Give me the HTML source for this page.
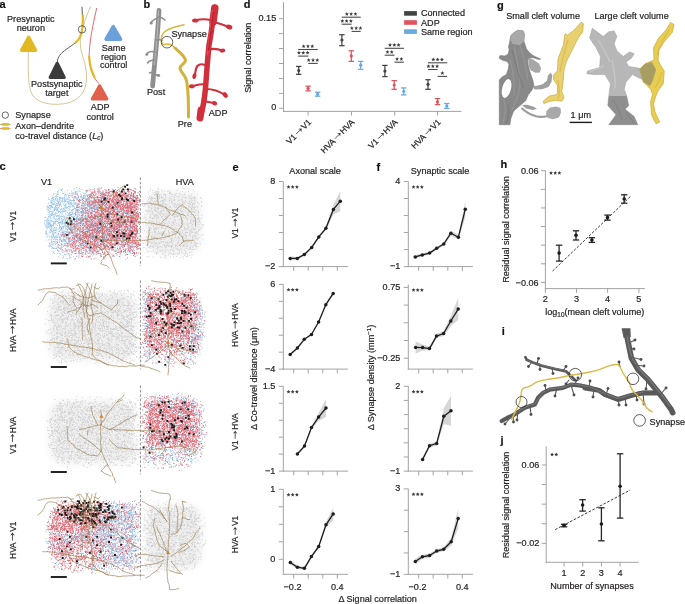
<!DOCTYPE html>
<html><head><meta charset="utf-8"><style>
html,body{margin:0;padding:0;background:#fff;}
body{width:685px;height:604px;overflow:hidden;}
svg{display:block;font-family:"Liberation Sans",sans-serif;will-change:transform;}
text{stroke:#231f20;stroke-width:0.2px;}
</style></head><body>
<svg width="685" height="604" viewBox="0 0 685 604">
<text x="-0.6" y="8.2" font-size="11" text-anchor="start" fill="#111" font-weight="bold">a</text>
<text x="143.4" y="7.6" font-size="11" text-anchor="start" fill="#111" font-weight="bold">b</text>
<text x="243.8" y="7.6" font-size="11" text-anchor="start" fill="#111" font-weight="bold">d</text>
<text x="497.0" y="8.9" font-size="11" text-anchor="start" fill="#111" font-weight="bold">g</text>
<text x="-0.4" y="170.0" font-size="11" text-anchor="start" fill="#111" font-weight="bold">c</text>
<text x="232.6" y="170.6" font-size="11" text-anchor="start" fill="#111" font-weight="bold">e</text>
<text x="376.4" y="170.6" font-size="11" text-anchor="start" fill="#111" font-weight="bold">f</text>
<text x="500.5" y="168.2" font-size="11" text-anchor="start" fill="#111" font-weight="bold">h</text>
<text x="501.8" y="335.0" font-size="11" text-anchor="start" fill="#111" font-weight="bold">i</text>
<text x="500.5" y="444.20000000000005" font-size="11" text-anchor="start" fill="#111" font-weight="bold">j</text>
<line x1="283.5" y1="2.2" x2="283.5" y2="111.9" stroke="#a3a3a3" stroke-width="1" />
<line x1="283.0" y1="111.4" x2="461.4" y2="111.4" stroke="#a3a3a3" stroke-width="1" />
<line x1="279.0" y1="18.7" x2="283.5" y2="18.7" stroke="#a3a3a3" stroke-width="1" />
<line x1="279.0" y1="33.629999999999995" x2="283.5" y2="33.629999999999995" stroke="#a3a3a3" stroke-width="1" />
<line x1="279.0" y1="48.56" x2="283.5" y2="48.56" stroke="#a3a3a3" stroke-width="1" />
<line x1="279.0" y1="63.489999999999995" x2="283.5" y2="63.489999999999995" stroke="#a3a3a3" stroke-width="1" />
<line x1="279.0" y1="78.42" x2="283.5" y2="78.42" stroke="#a3a3a3" stroke-width="1" />
<line x1="279.0" y1="93.35000000000001" x2="283.5" y2="93.35000000000001" stroke="#a3a3a3" stroke-width="1" />
<line x1="279.0" y1="108.28" x2="283.5" y2="108.28" stroke="#a3a3a3" stroke-width="1" />
<text x="276.2" y="20.9" font-size="9.1" text-anchor="end" fill="#231f20">0.15</text>
<text x="276.2" y="110.48" font-size="9.1" text-anchor="end" fill="#231f20">0</text>
<line x1="308.1" y1="111.4" x2="308.1" y2="115.6" stroke="#a3a3a3" stroke-width="1" />
<line x1="351.5" y1="111.4" x2="351.5" y2="115.6" stroke="#a3a3a3" stroke-width="1" />
<line x1="394.7" y1="111.4" x2="394.7" y2="115.6" stroke="#a3a3a3" stroke-width="1" />
<line x1="437.6" y1="111.4" x2="437.6" y2="115.6" stroke="#a3a3a3" stroke-width="1" />
<text x="251.4" y="57.7" font-size="9.1" text-anchor="middle" fill="#231f20" transform="rotate(-90 251.4 57.7)">Signal correlation</text>
<g transform="translate(311.70000000000005 122.8) rotate(-45)"><text x="-31.05" y="0" font-size="8.4" fill="#231f20">V1</text><text x="-10.27" y="0" font-size="8.4" fill="#231f20">V1</text><path d="M-19.09 -3.02H-12.96" stroke="#231f20" stroke-width="0.75"/><path d="M-11.11 -3.02L-14.14 -5.29L-12.96 -3.02L-14.14 -0.76Z" fill="#231f20"/></g>
<g transform="translate(355.1 122.8) rotate(-45)"><text x="-43.80" y="0" font-size="8.4" fill="#231f20">HVA</text><text x="-16.65" y="0" font-size="8.4" fill="#231f20">HVA</text><path d="M-25.47 -3.02H-19.34" stroke="#231f20" stroke-width="0.75"/><path d="M-17.49 -3.02L-20.51 -5.29L-19.34 -3.02L-20.51 -0.76Z" fill="#231f20"/></g>
<g transform="translate(398.3 122.8) rotate(-45)"><text x="-37.42" y="0" font-size="8.4" fill="#231f20">V1</text><text x="-16.65" y="0" font-size="8.4" fill="#231f20">HVA</text><path d="M-25.47 -3.02H-19.34" stroke="#231f20" stroke-width="0.75"/><path d="M-17.49 -3.02L-20.51 -5.29L-19.34 -3.02L-20.51 -0.76Z" fill="#231f20"/></g>
<g transform="translate(441.20000000000005 122.8) rotate(-45)"><text x="-37.42" y="0" font-size="8.4" fill="#231f20">HVA</text><text x="-10.27" y="0" font-size="8.4" fill="#231f20">V1</text><path d="M-19.09 -3.02H-12.96" stroke="#231f20" stroke-width="0.75"/><path d="M-11.11 -3.02L-14.14 -5.29L-12.96 -3.02L-14.14 -0.76Z" fill="#231f20"/></g>
<line x1="298.7" y1="66.4" x2="298.7" y2="74.3" stroke="#414447" stroke-width="1.25" />
<line x1="296.0" y1="66.4" x2="301.4" y2="66.4" stroke="#414447" stroke-width="1.25" />
<line x1="296.0" y1="74.3" x2="301.4" y2="74.3" stroke="#414447" stroke-width="1.25" />
<circle cx="298.7" cy="70.5" r="1.6" fill="#414447"/>
<line x1="308.1" y1="86.2" x2="308.1" y2="90.9" stroke="#e0535d" stroke-width="1.25" />
<line x1="305.40000000000003" y1="86.2" x2="310.8" y2="86.2" stroke="#e0535d" stroke-width="1.25" />
<line x1="305.40000000000003" y1="90.9" x2="310.8" y2="90.9" stroke="#e0535d" stroke-width="1.25" />
<circle cx="308.1" cy="88.4" r="1.6" fill="#e0535d"/>
<line x1="317.6" y1="92.2" x2="317.6" y2="96.2" stroke="#6aa9de" stroke-width="1.25" />
<line x1="314.90000000000003" y1="92.2" x2="320.3" y2="92.2" stroke="#6aa9de" stroke-width="1.25" />
<line x1="314.90000000000003" y1="96.2" x2="320.3" y2="96.2" stroke="#6aa9de" stroke-width="1.25" />
<circle cx="317.6" cy="94.2" r="1.6" fill="#6aa9de"/>
<line x1="341.9" y1="34.7" x2="341.9" y2="45.7" stroke="#414447" stroke-width="1.25" />
<line x1="339.2" y1="34.7" x2="344.59999999999997" y2="34.7" stroke="#414447" stroke-width="1.25" />
<line x1="339.2" y1="45.7" x2="344.59999999999997" y2="45.7" stroke="#414447" stroke-width="1.25" />
<circle cx="341.9" cy="40.0" r="1.6" fill="#414447"/>
<line x1="351.3" y1="50.8" x2="351.3" y2="61.4" stroke="#e0535d" stroke-width="1.25" />
<line x1="348.6" y1="50.8" x2="354.0" y2="50.8" stroke="#e0535d" stroke-width="1.25" />
<line x1="348.6" y1="61.4" x2="354.0" y2="61.4" stroke="#e0535d" stroke-width="1.25" />
<circle cx="351.3" cy="55.9" r="1.6" fill="#e0535d"/>
<line x1="360.7" y1="61.4" x2="360.7" y2="69.3" stroke="#6aa9de" stroke-width="1.25" />
<line x1="358.0" y1="61.4" x2="363.4" y2="61.4" stroke="#6aa9de" stroke-width="1.25" />
<line x1="358.0" y1="69.3" x2="363.4" y2="69.3" stroke="#6aa9de" stroke-width="1.25" />
<circle cx="360.7" cy="65.2" r="1.6" fill="#6aa9de"/>
<line x1="384.9" y1="65.4" x2="384.9" y2="76.6" stroke="#414447" stroke-width="1.25" />
<line x1="382.2" y1="65.4" x2="387.59999999999997" y2="65.4" stroke="#414447" stroke-width="1.25" />
<line x1="382.2" y1="76.6" x2="387.59999999999997" y2="76.6" stroke="#414447" stroke-width="1.25" />
<circle cx="384.9" cy="71.1" r="1.6" fill="#414447"/>
<line x1="394.2" y1="80.6" x2="394.2" y2="89.3" stroke="#e0535d" stroke-width="1.25" />
<line x1="391.5" y1="80.6" x2="396.9" y2="80.6" stroke="#e0535d" stroke-width="1.25" />
<line x1="391.5" y1="89.3" x2="396.9" y2="89.3" stroke="#e0535d" stroke-width="1.25" />
<circle cx="394.2" cy="85.0" r="1.6" fill="#e0535d"/>
<line x1="403.7" y1="87.9" x2="403.7" y2="94.9" stroke="#6aa9de" stroke-width="1.25" />
<line x1="401.0" y1="87.9" x2="406.4" y2="87.9" stroke="#6aa9de" stroke-width="1.25" />
<line x1="401.0" y1="94.9" x2="406.4" y2="94.9" stroke="#6aa9de" stroke-width="1.25" />
<circle cx="403.7" cy="91.3" r="1.6" fill="#6aa9de"/>
<line x1="428.0" y1="79.7" x2="428.0" y2="89.3" stroke="#414447" stroke-width="1.25" />
<line x1="425.3" y1="79.7" x2="430.7" y2="79.7" stroke="#414447" stroke-width="1.25" />
<line x1="425.3" y1="89.3" x2="430.7" y2="89.3" stroke="#414447" stroke-width="1.25" />
<circle cx="428.0" cy="84.3" r="1.6" fill="#414447"/>
<line x1="437.5" y1="98.6" x2="437.5" y2="104.6" stroke="#e0535d" stroke-width="1.25" />
<line x1="434.8" y1="98.6" x2="440.2" y2="98.6" stroke="#e0535d" stroke-width="1.25" />
<line x1="434.8" y1="104.6" x2="440.2" y2="104.6" stroke="#e0535d" stroke-width="1.25" />
<circle cx="437.5" cy="101.9" r="1.6" fill="#e0535d"/>
<line x1="446.8" y1="103.5" x2="446.8" y2="108.4" stroke="#6aa9de" stroke-width="1.25" />
<line x1="444.1" y1="103.5" x2="449.5" y2="103.5" stroke="#6aa9de" stroke-width="1.25" />
<line x1="444.1" y1="108.4" x2="449.5" y2="108.4" stroke="#6aa9de" stroke-width="1.25" />
<circle cx="446.8" cy="105.9" r="1.6" fill="#6aa9de"/>
<line x1="298.2" y1="49.5" x2="317.7" y2="49.5" stroke="#4a4a4a" stroke-width="1.1" />
<polygon points="303.6,44.2 304.2,45.5 305.6,45.7 304.5,46.6 304.9,48.0 303.6,47.2 302.4,48.0 302.8,46.6 301.7,45.7 303.1,45.5" fill="#3a3a3a" />
<polygon points="307.9,44.2 308.5,45.5 309.9,45.7 308.8,46.6 309.2,48.0 307.9,47.2 306.7,48.0 307.1,46.6 306.0,45.7 307.4,45.5" fill="#3a3a3a" />
<polygon points="312.2,44.2 312.8,45.5 314.2,45.7 313.1,46.6 313.5,48.0 312.2,47.2 311.0,48.0 311.4,46.6 310.3,45.7 311.7,45.5" fill="#3a3a3a" />
<line x1="298.2" y1="56.1" x2="308.3" y2="56.1" stroke="#4a4a4a" stroke-width="1.1" />
<polygon points="298.9,50.8 299.5,52.1 300.9,52.3 299.8,53.2 300.2,54.6 298.9,53.8 297.7,54.6 298.1,53.2 297.0,52.3 298.4,52.1" fill="#3a3a3a" />
<polygon points="303.2,50.8 303.8,52.1 305.2,52.3 304.1,53.2 304.5,54.6 303.2,53.8 302.0,54.6 302.4,53.2 301.3,52.3 302.7,52.1" fill="#3a3a3a" />
<polygon points="307.6,50.8 308.1,52.1 309.5,52.3 308.4,53.2 308.8,54.6 307.6,53.8 306.3,54.6 306.7,53.2 305.6,52.3 307.0,52.1" fill="#3a3a3a" />
<line x1="308.3" y1="63.4" x2="317.7" y2="63.4" stroke="#4a4a4a" stroke-width="1.1" />
<polygon points="308.7,58.1 309.3,59.4 310.7,59.6 309.6,60.5 309.9,61.9 308.7,61.1 307.5,61.9 307.8,60.5 306.7,59.6 308.1,59.4" fill="#3a3a3a" />
<polygon points="313.0,58.1 313.6,59.4 315.0,59.6 313.9,60.5 314.2,61.9 313.0,61.1 311.8,61.9 312.1,60.5 311.0,59.6 312.4,59.4" fill="#3a3a3a" />
<polygon points="317.3,58.1 317.9,59.4 319.3,59.6 318.2,60.5 318.5,61.9 317.3,61.1 316.1,61.9 316.4,60.5 315.3,59.6 316.7,59.4" fill="#3a3a3a" />
<line x1="341.6" y1="17.2" x2="360.7" y2="17.2" stroke="#4a4a4a" stroke-width="1.1" />
<polygon points="346.8,11.9 347.4,13.2 348.8,13.4 347.7,14.3 348.1,15.7 346.8,14.9 345.6,15.7 346.0,14.3 344.9,13.4 346.3,13.2" fill="#3a3a3a" />
<polygon points="351.1,11.9 351.7,13.2 353.1,13.4 352.0,14.3 352.4,15.7 351.1,14.9 349.9,15.7 350.3,14.3 349.2,13.4 350.6,13.2" fill="#3a3a3a" />
<polygon points="355.4,11.9 356.0,13.2 357.4,13.4 356.3,14.3 356.7,15.7 355.4,14.9 354.2,15.7 354.6,14.3 353.5,13.4 354.9,13.2" fill="#3a3a3a" />
<line x1="341.6" y1="24.2" x2="351.6" y2="24.2" stroke="#4a4a4a" stroke-width="1.1" />
<polygon points="342.3,18.9 342.9,20.2 344.3,20.4 343.2,21.3 343.5,22.7 342.3,21.9 341.1,22.7 341.4,21.3 340.3,20.4 341.7,20.2" fill="#3a3a3a" />
<polygon points="346.6,18.9 347.2,20.2 348.6,20.4 347.5,21.3 347.8,22.7 346.6,21.9 345.4,22.7 345.7,21.3 344.6,20.4 346.0,20.2" fill="#3a3a3a" />
<polygon points="350.9,18.9 351.5,20.2 352.9,20.4 351.8,21.3 352.1,22.7 350.9,21.9 349.7,22.7 350.0,21.3 348.9,20.4 350.3,20.2" fill="#3a3a3a" />
<line x1="351.6" y1="31.4" x2="360.7" y2="31.4" stroke="#4a4a4a" stroke-width="1.1" />
<polygon points="351.8,26.1 352.4,27.4 353.8,27.6 352.7,28.5 353.1,29.9 351.8,29.1 350.6,29.9 351.0,28.5 349.9,27.6 351.3,27.4" fill="#3a3a3a" />
<polygon points="356.1,26.1 356.7,27.4 358.1,27.6 357.0,28.5 357.4,29.9 356.1,29.1 354.9,29.9 355.3,28.5 354.2,27.6 355.6,27.4" fill="#3a3a3a" />
<polygon points="360.4,26.1 361.0,27.4 362.4,27.6 361.3,28.5 361.7,29.9 360.4,29.1 359.2,29.9 359.6,28.5 358.5,27.6 359.9,27.4" fill="#3a3a3a" />
<line x1="384.7" y1="48.3" x2="403.9" y2="48.3" stroke="#4a4a4a" stroke-width="1.1" />
<polygon points="390.0,43.0 390.6,44.3 392.0,44.5 390.9,45.4 391.2,46.8 390.0,46.0 388.8,46.8 389.1,45.4 388.0,44.5 389.4,44.3" fill="#3a3a3a" />
<polygon points="394.3,43.0 394.9,44.3 396.3,44.5 395.2,45.4 395.5,46.8 394.3,46.0 393.1,46.8 393.4,45.4 392.3,44.5 393.7,44.3" fill="#3a3a3a" />
<polygon points="398.6,43.0 399.2,44.3 400.6,44.5 399.5,45.4 399.8,46.8 398.6,46.0 397.4,46.8 397.7,45.4 396.6,44.5 398.0,44.3" fill="#3a3a3a" />
<line x1="384.7" y1="55.2" x2="394.5" y2="55.2" stroke="#4a4a4a" stroke-width="1.1" />
<polygon points="387.5,49.9 388.0,51.2 389.4,51.4 388.3,52.3 388.7,53.7 387.5,52.9 386.2,53.7 386.6,52.3 385.5,51.4 386.9,51.2" fill="#3a3a3a" />
<polygon points="391.8,49.9 392.3,51.2 393.7,51.4 392.6,52.3 393.0,53.7 391.8,52.9 390.5,53.7 390.9,52.3 389.8,51.4 391.2,51.2" fill="#3a3a3a" />
<line x1="394.5" y1="62.2" x2="403.9" y2="62.2" stroke="#4a4a4a" stroke-width="1.1" />
<polygon points="397.1,56.9 397.6,58.2 399.0,58.4 397.9,59.3 398.3,60.7 397.1,59.9 395.8,60.7 396.2,59.3 395.1,58.4 396.5,58.2" fill="#3a3a3a" />
<polygon points="401.4,56.9 401.9,58.2 403.3,58.4 402.2,59.3 402.6,60.7 401.4,59.9 400.1,60.7 400.5,59.3 399.4,58.4 400.8,58.2" fill="#3a3a3a" />
<line x1="428.0" y1="62.8" x2="447.2" y2="62.8" stroke="#4a4a4a" stroke-width="1.1" />
<polygon points="433.3,57.5 433.9,58.8 435.3,59.0 434.2,59.9 434.5,61.3 433.3,60.5 432.1,61.3 432.4,59.9 431.3,59.0 432.7,58.8" fill="#3a3a3a" />
<polygon points="437.6,57.5 438.2,58.8 439.6,59.0 438.5,59.9 438.8,61.3 437.6,60.5 436.4,61.3 436.7,59.9 435.6,59.0 437.0,58.8" fill="#3a3a3a" />
<polygon points="441.9,57.5 442.5,58.8 443.9,59.0 442.8,59.9 443.1,61.3 441.9,60.5 440.7,61.3 441.0,59.9 439.9,59.0 441.3,58.8" fill="#3a3a3a" />
<line x1="428.0" y1="69.5" x2="437.6" y2="69.5" stroke="#4a4a4a" stroke-width="1.1" />
<polygon points="428.5,64.2 429.1,65.5 430.5,65.7 429.4,66.6 429.7,68.0 428.5,67.2 427.3,68.0 427.6,66.6 426.5,65.7 427.9,65.5" fill="#3a3a3a" />
<polygon points="432.8,64.2 433.4,65.5 434.8,65.7 433.7,66.6 434.0,68.0 432.8,67.2 431.6,68.0 431.9,66.6 430.8,65.7 432.2,65.5" fill="#3a3a3a" />
<polygon points="437.1,64.2 437.7,65.5 439.1,65.7 438.0,66.6 438.3,68.0 437.1,67.2 435.9,68.0 436.2,66.6 435.1,65.7 436.5,65.5" fill="#3a3a3a" />
<line x1="437.6" y1="76.4" x2="447.2" y2="76.4" stroke="#4a4a4a" stroke-width="1.1" />
<polygon points="442.4,71.1 443.0,72.4 444.4,72.6 443.3,73.5 443.6,74.9 442.4,74.1 441.2,74.9 441.5,73.5 440.4,72.6 441.8,72.4" fill="#3a3a3a" />
<rect x="404.1" y="11.1" width="12.8" height="4.6" fill="#414447"/>
<text x="421.0" y="16.4" font-size="9.1" text-anchor="start" fill="#231f20">Connected</text>
<rect x="404.1" y="20.2" width="12.8" height="4.6" fill="#e0535d"/>
<text x="421.0" y="25.5" font-size="9.1" text-anchor="start" fill="#231f20">ADP</text>
<rect x="404.1" y="29.3" width="12.8" height="4.6" fill="#6aa9de"/>
<text x="421.0" y="34.6" font-size="9.1" text-anchor="start" fill="#231f20">Same region</text>
<line x1="283.3" y1="181.5" x2="283.3" y2="267.1" stroke="#a3a3a3" stroke-width="1" />
<line x1="278.8" y1="181.5" x2="283.3" y2="181.5" stroke="#a3a3a3" stroke-width="1" />
<line x1="278.8" y1="198.52" x2="283.3" y2="198.52" stroke="#a3a3a3" stroke-width="1" />
<line x1="278.8" y1="215.54000000000002" x2="283.3" y2="215.54000000000002" stroke="#a3a3a3" stroke-width="1" />
<line x1="278.8" y1="232.56" x2="283.3" y2="232.56" stroke="#a3a3a3" stroke-width="1" />
<line x1="278.8" y1="249.58" x2="283.3" y2="249.58" stroke="#a3a3a3" stroke-width="1" />
<line x1="278.8" y1="266.6" x2="283.3" y2="266.6" stroke="#a3a3a3" stroke-width="1" />
<line x1="282.8" y1="266.6" x2="347.9" y2="266.6" stroke="#a3a3a3" stroke-width="1" />
<line x1="293.7" y1="266.6" x2="293.7" y2="270.8" stroke="#a3a3a3" stroke-width="1" />
<line x1="308.2" y1="266.6" x2="308.2" y2="270.8" stroke="#a3a3a3" stroke-width="1" />
<line x1="322.8" y1="266.6" x2="322.8" y2="270.8" stroke="#a3a3a3" stroke-width="1" />
<line x1="337.3" y1="266.6" x2="337.3" y2="270.8" stroke="#a3a3a3" stroke-width="1" />
<text x="275.3" y="183.9" font-size="9.1" text-anchor="end" fill="#231f20">8</text>
<text x="275.3" y="269.0" font-size="9.1" text-anchor="end" fill="#231f20">−2</text>
<polygon points="290.2,256.4 297.3,256.9 304.4,253.0 311.7,245.9 318.8,235.4 325.9,226.3 333.4,204.4 340.3,191.2 340.3,211.2 333.4,214.4 325.9,230.3 318.8,238.4 311.7,248.9 304.4,256.0 297.3,259.9 290.2,260.4" fill="#d6d6d6" />
<polyline points="290.2,258.4 297.3,258.4 304.4,254.5 311.7,247.4 318.8,236.9 325.9,228.3 333.4,209.4 340.3,201.2" stroke="#1e1e1e" stroke-width="1.3" fill="none" stroke-linejoin="round" stroke-linecap="round" />
<circle cx="290.2" cy="258.4" r="1.75" fill="#1e1e1e"/>
<circle cx="297.3" cy="258.4" r="1.75" fill="#1e1e1e"/>
<circle cx="304.4" cy="254.5" r="1.75" fill="#1e1e1e"/>
<circle cx="311.7" cy="247.4" r="1.75" fill="#1e1e1e"/>
<circle cx="318.8" cy="236.9" r="1.75" fill="#1e1e1e"/>
<circle cx="325.9" cy="228.3" r="1.75" fill="#1e1e1e"/>
<circle cx="333.4" cy="209.4" r="1.75" fill="#1e1e1e"/>
<circle cx="340.3" cy="201.2" r="1.75" fill="#1e1e1e"/>
<polygon points="288.5,184.9 289.1,186.2 290.5,186.4 289.4,187.3 289.7,188.7 288.5,187.9 287.3,188.7 287.6,187.3 286.5,186.4 287.9,186.2" fill="#3a3a3a" />
<polygon points="292.7,184.9 293.3,186.2 294.7,186.4 293.6,187.3 293.9,188.7 292.7,187.9 291.5,188.7 291.8,187.3 290.7,186.4 292.1,186.2" fill="#3a3a3a" />
<polygon points="296.9,184.9 297.5,186.2 298.9,186.4 297.8,187.3 298.1,188.7 296.9,187.9 295.7,188.7 296.0,187.3 294.9,186.4 296.3,186.2" fill="#3a3a3a" />
<line x1="408.3" y1="181.5" x2="408.3" y2="267.1" stroke="#a3a3a3" stroke-width="1" />
<line x1="403.8" y1="181.5" x2="408.3" y2="181.5" stroke="#a3a3a3" stroke-width="1" />
<line x1="403.8" y1="198.52" x2="408.3" y2="198.52" stroke="#a3a3a3" stroke-width="1" />
<line x1="403.8" y1="215.54000000000002" x2="408.3" y2="215.54000000000002" stroke="#a3a3a3" stroke-width="1" />
<line x1="403.8" y1="232.56" x2="408.3" y2="232.56" stroke="#a3a3a3" stroke-width="1" />
<line x1="403.8" y1="249.58" x2="408.3" y2="249.58" stroke="#a3a3a3" stroke-width="1" />
<line x1="403.8" y1="266.6" x2="408.3" y2="266.6" stroke="#a3a3a3" stroke-width="1" />
<line x1="407.8" y1="266.6" x2="472.9" y2="266.6" stroke="#a3a3a3" stroke-width="1" />
<line x1="418.7" y1="266.6" x2="418.7" y2="270.8" stroke="#a3a3a3" stroke-width="1" />
<line x1="433.2" y1="266.6" x2="433.2" y2="270.8" stroke="#a3a3a3" stroke-width="1" />
<line x1="447.8" y1="266.6" x2="447.8" y2="270.8" stroke="#a3a3a3" stroke-width="1" />
<line x1="462.3" y1="266.6" x2="462.3" y2="270.8" stroke="#a3a3a3" stroke-width="1" />
<text x="400.3" y="183.9" font-size="9.1" text-anchor="end" fill="#231f20">4</text>
<text x="400.3" y="269.0" font-size="9.1" text-anchor="end" fill="#231f20">−1</text>
<polygon points="415.2,255.1 422.3,253.4 429.6,251.6 436.7,246.8 443.8,242.5 450.9,230.7 458.4,234.7 465.3,201.2 465.3,217.2 458.4,239.7 450.9,235.7 443.8,245.5 436.7,249.8 429.6,254.6 422.3,256.4 415.2,258.7" fill="#d6d6d6" />
<polyline points="415.2,256.9 422.3,254.9 429.6,253.1 436.7,248.3 443.8,244.0 450.9,233.2 458.4,237.2 465.3,209.2" stroke="#1e1e1e" stroke-width="1.3" fill="none" stroke-linejoin="round" stroke-linecap="round" />
<circle cx="415.2" cy="256.9" r="1.75" fill="#1e1e1e"/>
<circle cx="422.3" cy="254.9" r="1.75" fill="#1e1e1e"/>
<circle cx="429.6" cy="253.1" r="1.75" fill="#1e1e1e"/>
<circle cx="436.7" cy="248.3" r="1.75" fill="#1e1e1e"/>
<circle cx="443.8" cy="244" r="1.75" fill="#1e1e1e"/>
<circle cx="450.9" cy="233.2" r="1.75" fill="#1e1e1e"/>
<circle cx="458.4" cy="237.2" r="1.75" fill="#1e1e1e"/>
<circle cx="465.3" cy="209.2" r="1.75" fill="#1e1e1e"/>
<polygon points="413.5,184.9 414.1,186.2 415.5,186.4 414.4,187.3 414.7,188.7 413.5,187.9 412.3,188.7 412.6,187.3 411.5,186.4 412.9,186.2" fill="#3a3a3a" />
<polygon points="417.7,184.9 418.3,186.2 419.7,186.4 418.6,187.3 418.9,188.7 417.7,187.9 416.5,188.7 416.8,187.3 415.7,186.4 417.1,186.2" fill="#3a3a3a" />
<polygon points="421.9,184.9 422.5,186.2 423.9,186.4 422.8,187.3 423.1,188.7 421.9,187.9 420.7,188.7 421.0,187.3 419.9,186.4 421.3,186.2" fill="#3a3a3a" />
<line x1="283.3" y1="284.4" x2="283.3" y2="369.6" stroke="#a3a3a3" stroke-width="1" />
<line x1="278.8" y1="284.4" x2="283.3" y2="284.4" stroke="#a3a3a3" stroke-width="1" />
<line x1="278.8" y1="301.34" x2="283.3" y2="301.34" stroke="#a3a3a3" stroke-width="1" />
<line x1="278.8" y1="318.28" x2="283.3" y2="318.28" stroke="#a3a3a3" stroke-width="1" />
<line x1="278.8" y1="335.22" x2="283.3" y2="335.22" stroke="#a3a3a3" stroke-width="1" />
<line x1="278.8" y1="352.16" x2="283.3" y2="352.16" stroke="#a3a3a3" stroke-width="1" />
<line x1="278.8" y1="369.1" x2="283.3" y2="369.1" stroke="#a3a3a3" stroke-width="1" />
<line x1="282.8" y1="369.1" x2="347.9" y2="369.1" stroke="#a3a3a3" stroke-width="1" />
<line x1="293.7" y1="369.1" x2="293.7" y2="373.3" stroke="#a3a3a3" stroke-width="1" />
<line x1="308.2" y1="369.1" x2="308.2" y2="373.3" stroke="#a3a3a3" stroke-width="1" />
<line x1="322.8" y1="369.1" x2="322.8" y2="373.3" stroke="#a3a3a3" stroke-width="1" />
<line x1="337.3" y1="369.1" x2="337.3" y2="373.3" stroke="#a3a3a3" stroke-width="1" />
<text x="275.3" y="286.79999999999995" font-size="9.1" text-anchor="end" fill="#231f20">6</text>
<text x="275.3" y="371.5" font-size="9.1" text-anchor="end" fill="#231f20">−4</text>
<polygon points="290.2,353.4 297.4,347.0 304.3,338.3 311.5,333.5 318.6,321.0 325.8,303.2 333.2,291.4 333.2,295.4 325.8,306.2 318.6,323.0 311.5,335.5 304.3,340.3 297.4,349.0 290.2,355.4" fill="#d6d6d6" />
<polyline points="290.2,354.4 297.4,348.0 304.3,339.3 311.5,334.5 318.6,322.0 325.8,304.7 333.2,293.4" stroke="#1e1e1e" stroke-width="1.3" fill="none" stroke-linejoin="round" stroke-linecap="round" />
<circle cx="290.2" cy="354.4" r="1.75" fill="#1e1e1e"/>
<circle cx="297.4" cy="348" r="1.75" fill="#1e1e1e"/>
<circle cx="304.3" cy="339.3" r="1.75" fill="#1e1e1e"/>
<circle cx="311.5" cy="334.5" r="1.75" fill="#1e1e1e"/>
<circle cx="318.6" cy="322" r="1.75" fill="#1e1e1e"/>
<circle cx="325.8" cy="304.7" r="1.75" fill="#1e1e1e"/>
<circle cx="333.2" cy="293.4" r="1.75" fill="#1e1e1e"/>
<polygon points="288.5,287.8 289.1,289.1 290.5,289.3 289.4,290.2 289.7,291.6 288.5,290.8 287.3,291.6 287.6,290.2 286.5,289.3 287.9,289.1" fill="#3a3a3a" />
<polygon points="292.7,287.8 293.3,289.1 294.7,289.3 293.6,290.2 293.9,291.6 292.7,290.8 291.5,291.6 291.8,290.2 290.7,289.3 292.1,289.1" fill="#3a3a3a" />
<polygon points="296.9,287.8 297.5,289.1 298.9,289.3 297.8,290.2 298.1,291.6 296.9,290.8 295.7,291.6 296.0,290.2 294.9,289.3 296.3,289.1" fill="#3a3a3a" />
<line x1="408.3" y1="284.6" x2="408.3" y2="369.6" stroke="#a3a3a3" stroke-width="1" />
<line x1="403.8" y1="287.4" x2="408.3" y2="287.4" stroke="#a3a3a3" stroke-width="1" />
<line x1="403.8" y1="305.09999999999997" x2="408.3" y2="305.09999999999997" stroke="#a3a3a3" stroke-width="1" />
<line x1="403.8" y1="322.79999999999995" x2="408.3" y2="322.79999999999995" stroke="#a3a3a3" stroke-width="1" />
<line x1="403.8" y1="340.5" x2="408.3" y2="340.5" stroke="#a3a3a3" stroke-width="1" />
<line x1="403.8" y1="358.2" x2="408.3" y2="358.2" stroke="#a3a3a3" stroke-width="1" />
<line x1="407.8" y1="369.1" x2="472.9" y2="369.1" stroke="#a3a3a3" stroke-width="1" />
<line x1="418.7" y1="369.1" x2="418.7" y2="373.3" stroke="#a3a3a3" stroke-width="1" />
<line x1="433.2" y1="369.1" x2="433.2" y2="373.3" stroke="#a3a3a3" stroke-width="1" />
<line x1="447.8" y1="369.1" x2="447.8" y2="373.3" stroke="#a3a3a3" stroke-width="1" />
<line x1="462.3" y1="369.1" x2="462.3" y2="373.3" stroke="#a3a3a3" stroke-width="1" />
<text x="400.3" y="289.79999999999995" font-size="9.1" text-anchor="end" fill="#231f20">0.75</text>
<text x="400.3" y="360.59999999999997" font-size="9.1" text-anchor="end" fill="#231f20">−0.25</text>
<polygon points="415.6,341.4 422.6,344.6 429.5,346.6 436.5,334.1 443.6,331.0 450.8,316.0 458.2,298.1 458.2,320.1 450.8,326.0 443.6,336.0 436.5,338.1 429.5,350.6 422.6,350.6 415.6,353.4" fill="#d6d6d6" />
<polyline points="415.6,347.4 422.6,347.6 429.5,348.6 436.5,336.1 443.6,333.5 450.8,321.0 458.2,309.1" stroke="#1e1e1e" stroke-width="1.3" fill="none" stroke-linejoin="round" stroke-linecap="round" />
<circle cx="415.6" cy="347.4" r="1.75" fill="#1e1e1e"/>
<circle cx="422.6" cy="347.6" r="1.75" fill="#1e1e1e"/>
<circle cx="429.5" cy="348.6" r="1.75" fill="#1e1e1e"/>
<circle cx="436.5" cy="336.1" r="1.75" fill="#1e1e1e"/>
<circle cx="443.6" cy="333.5" r="1.75" fill="#1e1e1e"/>
<circle cx="450.8" cy="321" r="1.75" fill="#1e1e1e"/>
<circle cx="458.2" cy="309.1" r="1.75" fill="#1e1e1e"/>
<polygon points="413.5,288.0 414.1,289.3 415.5,289.5 414.4,290.4 414.7,291.8 413.5,291.0 412.3,291.8 412.6,290.4 411.5,289.5 412.9,289.3" fill="#3a3a3a" />
<polygon points="417.7,288.0 418.3,289.3 419.7,289.5 418.6,290.4 418.9,291.8 417.7,291.0 416.5,291.8 416.8,290.4 415.7,289.5 417.1,289.3" fill="#3a3a3a" />
<polygon points="421.9,288.0 422.5,289.3 423.9,289.5 422.8,290.4 423.1,291.8 421.9,291.0 420.7,291.8 421.0,290.4 419.9,289.5 421.3,289.3" fill="#3a3a3a" />
<line x1="283.3" y1="386.3" x2="283.3" y2="471.6" stroke="#a3a3a3" stroke-width="1" />
<line x1="278.8" y1="386.3" x2="283.3" y2="386.3" stroke="#a3a3a3" stroke-width="1" />
<line x1="278.8" y1="403.26" x2="283.3" y2="403.26" stroke="#a3a3a3" stroke-width="1" />
<line x1="278.8" y1="420.22" x2="283.3" y2="420.22" stroke="#a3a3a3" stroke-width="1" />
<line x1="278.8" y1="437.18" x2="283.3" y2="437.18" stroke="#a3a3a3" stroke-width="1" />
<line x1="278.8" y1="454.14" x2="283.3" y2="454.14" stroke="#a3a3a3" stroke-width="1" />
<line x1="278.8" y1="471.1" x2="283.3" y2="471.1" stroke="#a3a3a3" stroke-width="1" />
<line x1="282.8" y1="471.1" x2="347.9" y2="471.1" stroke="#a3a3a3" stroke-width="1" />
<line x1="293.7" y1="471.1" x2="293.7" y2="475.3" stroke="#a3a3a3" stroke-width="1" />
<line x1="308.2" y1="471.1" x2="308.2" y2="475.3" stroke="#a3a3a3" stroke-width="1" />
<line x1="322.8" y1="471.1" x2="322.8" y2="475.3" stroke="#a3a3a3" stroke-width="1" />
<line x1="337.3" y1="471.1" x2="337.3" y2="475.3" stroke="#a3a3a3" stroke-width="1" />
<text x="275.3" y="388.7" font-size="9.1" text-anchor="end" fill="#231f20">1.5</text>
<text x="275.3" y="473.5" font-size="9.1" text-anchor="end" fill="#231f20">−1</text>
<polygon points="297.4,452.5 304.5,444.6 311.5,426.1 318.6,413.1 326.0,399.0 326.0,417.0 318.6,421.1 311.5,429.1 304.5,447.6 297.4,455.5" fill="#d6d6d6" />
<polyline points="297.4,454.0 304.5,446.1 311.5,427.6 318.6,417.1 326.0,408.0" stroke="#1e1e1e" stroke-width="1.3" fill="none" stroke-linejoin="round" stroke-linecap="round" />
<circle cx="297.4" cy="454" r="1.75" fill="#1e1e1e"/>
<circle cx="304.5" cy="446.1" r="1.75" fill="#1e1e1e"/>
<circle cx="311.5" cy="427.6" r="1.75" fill="#1e1e1e"/>
<circle cx="318.6" cy="417.1" r="1.75" fill="#1e1e1e"/>
<circle cx="326" cy="408" r="1.75" fill="#1e1e1e"/>
<polygon points="288.5,389.7 289.1,391.0 290.5,391.2 289.4,392.1 289.7,393.5 288.5,392.7 287.3,393.5 287.6,392.1 286.5,391.2 287.9,391.0" fill="#3a3a3a" />
<polygon points="292.7,389.7 293.3,391.0 294.7,391.2 293.6,392.1 293.9,393.5 292.7,392.7 291.5,393.5 291.8,392.1 290.7,391.2 292.1,391.0" fill="#3a3a3a" />
<polygon points="296.9,389.7 297.5,391.0 298.9,391.2 297.8,392.1 298.1,393.5 296.9,392.7 295.7,393.5 296.0,392.1 294.9,391.2 296.3,391.0" fill="#3a3a3a" />
<line x1="408.3" y1="386.3" x2="408.3" y2="471.6" stroke="#a3a3a3" stroke-width="1" />
<line x1="403.8" y1="386.3" x2="408.3" y2="386.3" stroke="#a3a3a3" stroke-width="1" />
<line x1="403.8" y1="400.43333333333334" x2="408.3" y2="400.43333333333334" stroke="#a3a3a3" stroke-width="1" />
<line x1="403.8" y1="414.56666666666666" x2="408.3" y2="414.56666666666666" stroke="#a3a3a3" stroke-width="1" />
<line x1="403.8" y1="428.70000000000005" x2="408.3" y2="428.70000000000005" stroke="#a3a3a3" stroke-width="1" />
<line x1="403.8" y1="442.83333333333337" x2="408.3" y2="442.83333333333337" stroke="#a3a3a3" stroke-width="1" />
<line x1="403.8" y1="456.9666666666667" x2="408.3" y2="456.9666666666667" stroke="#a3a3a3" stroke-width="1" />
<line x1="403.8" y1="471.1" x2="408.3" y2="471.1" stroke="#a3a3a3" stroke-width="1" />
<line x1="407.8" y1="471.1" x2="472.9" y2="471.1" stroke="#a3a3a3" stroke-width="1" />
<line x1="418.7" y1="471.1" x2="418.7" y2="475.3" stroke="#a3a3a3" stroke-width="1" />
<line x1="433.2" y1="471.1" x2="433.2" y2="475.3" stroke="#a3a3a3" stroke-width="1" />
<line x1="447.8" y1="471.1" x2="447.8" y2="475.3" stroke="#a3a3a3" stroke-width="1" />
<line x1="462.3" y1="471.1" x2="462.3" y2="475.3" stroke="#a3a3a3" stroke-width="1" />
<text x="400.3" y="388.7" font-size="9.1" text-anchor="end" fill="#231f20">2</text>
<text x="400.3" y="473.5" font-size="9.1" text-anchor="end" fill="#231f20">−1</text>
<polygon points="422.6,457.4 429.5,443.7 436.7,441.5 443.8,408.3 451.0,395.7 451.0,425.7 443.8,424.3 436.7,445.5 429.5,447.7 422.6,461.4" fill="#d6d6d6" />
<polyline points="422.6,459.4 429.5,445.7 436.7,443.5 443.8,416.3 451.0,410.7" stroke="#1e1e1e" stroke-width="1.3" fill="none" stroke-linejoin="round" stroke-linecap="round" />
<circle cx="422.6" cy="459.4" r="1.75" fill="#1e1e1e"/>
<circle cx="429.5" cy="445.7" r="1.75" fill="#1e1e1e"/>
<circle cx="436.7" cy="443.5" r="1.75" fill="#1e1e1e"/>
<circle cx="443.8" cy="416.3" r="1.75" fill="#1e1e1e"/>
<circle cx="451" cy="410.7" r="1.75" fill="#1e1e1e"/>
<polygon points="413.5,389.7 414.1,391.0 415.5,391.2 414.4,392.1 414.7,393.5 413.5,392.7 412.3,393.5 412.6,392.1 411.5,391.2 412.9,391.0" fill="#3a3a3a" />
<polygon points="417.7,389.7 418.3,391.0 419.7,391.2 418.6,392.1 418.9,393.5 417.7,392.7 416.5,393.5 416.8,392.1 415.7,391.2 417.1,391.0" fill="#3a3a3a" />
<polygon points="421.9,389.7 422.5,391.0 423.9,391.2 422.8,392.1 423.1,393.5 421.9,392.7 420.7,393.5 421.0,392.1 419.9,391.2 421.3,391.0" fill="#3a3a3a" />
<line x1="283.3" y1="489.3" x2="283.3" y2="574.8" stroke="#a3a3a3" stroke-width="1" />
<line x1="278.8" y1="489.3" x2="283.3" y2="489.3" stroke="#a3a3a3" stroke-width="1" />
<line x1="278.8" y1="506.8" x2="283.3" y2="506.8" stroke="#a3a3a3" stroke-width="1" />
<line x1="278.8" y1="524.3" x2="283.3" y2="524.3" stroke="#a3a3a3" stroke-width="1" />
<line x1="278.8" y1="541.8" x2="283.3" y2="541.8" stroke="#a3a3a3" stroke-width="1" />
<line x1="278.8" y1="559.3" x2="283.3" y2="559.3" stroke="#a3a3a3" stroke-width="1" />
<line x1="282.8" y1="574.3" x2="347.9" y2="574.3" stroke="#a3a3a3" stroke-width="1" />
<line x1="293.7" y1="574.3" x2="293.7" y2="578.5" stroke="#a3a3a3" stroke-width="1" />
<line x1="308.2" y1="574.3" x2="308.2" y2="578.5" stroke="#a3a3a3" stroke-width="1" />
<line x1="322.8" y1="574.3" x2="322.8" y2="578.5" stroke="#a3a3a3" stroke-width="1" />
<line x1="337.3" y1="574.3" x2="337.3" y2="578.5" stroke="#a3a3a3" stroke-width="1" />
<text x="275.3" y="491.7" font-size="9.1" text-anchor="end" fill="#231f20">1</text>
<text x="275.3" y="561.6999999999999" font-size="9.1" text-anchor="end" fill="#231f20">0</text>
<polygon points="290.3,560.0 297.4,565.7 304.4,566.8 311.4,555.1 318.7,545.0 326.0,521.8 333.2,507.9 333.2,519.9 326.0,527.8 318.7,548.0 311.4,558.1 304.4,569.8 297.4,568.7 290.3,565.0" fill="#d6d6d6" />
<polyline points="290.3,562.5 297.4,567.2 304.4,568.3 311.4,556.6 318.7,546.5 326.0,524.8 333.2,513.9" stroke="#1e1e1e" stroke-width="1.3" fill="none" stroke-linejoin="round" stroke-linecap="round" />
<circle cx="290.3" cy="562.5" r="1.75" fill="#1e1e1e"/>
<circle cx="297.4" cy="567.2" r="1.75" fill="#1e1e1e"/>
<circle cx="304.4" cy="568.3" r="1.75" fill="#1e1e1e"/>
<circle cx="311.4" cy="556.6" r="1.75" fill="#1e1e1e"/>
<circle cx="318.7" cy="546.5" r="1.75" fill="#1e1e1e"/>
<circle cx="326" cy="524.8" r="1.75" fill="#1e1e1e"/>
<circle cx="333.2" cy="513.9" r="1.75" fill="#1e1e1e"/>
<polygon points="288.5,492.7 289.1,494.0 290.5,494.2 289.4,495.1 289.7,496.5 288.5,495.7 287.3,496.5 287.6,495.1 286.5,494.2 287.9,494.0" fill="#3a3a3a" />
<polygon points="292.7,492.7 293.3,494.0 294.7,494.2 293.6,495.1 293.9,496.5 292.7,495.7 291.5,496.5 291.8,495.1 290.7,494.2 292.1,494.0" fill="#3a3a3a" />
<polygon points="296.9,492.7 297.5,494.0 298.9,494.2 297.8,495.1 298.1,496.5 296.9,495.7 295.7,496.5 296.0,495.1 294.9,494.2 296.3,494.0" fill="#3a3a3a" />
<text x="292.5" y="589.9" font-size="9.1" text-anchor="middle" fill="#231f20">−0.2</text>
<text x="337.3" y="589.9" font-size="9.1" text-anchor="middle" fill="#231f20">0.4</text>
<line x1="408.3" y1="488.9" x2="408.3" y2="574.8" stroke="#a3a3a3" stroke-width="1" />
<line x1="403.8" y1="488.9" x2="408.3" y2="488.9" stroke="#a3a3a3" stroke-width="1" />
<line x1="403.8" y1="510.25" x2="408.3" y2="510.25" stroke="#a3a3a3" stroke-width="1" />
<line x1="403.8" y1="531.5999999999999" x2="408.3" y2="531.5999999999999" stroke="#a3a3a3" stroke-width="1" />
<line x1="403.8" y1="552.9499999999999" x2="408.3" y2="552.9499999999999" stroke="#a3a3a3" stroke-width="1" />
<line x1="403.8" y1="574.3" x2="408.3" y2="574.3" stroke="#a3a3a3" stroke-width="1" />
<line x1="407.8" y1="574.3" x2="472.9" y2="574.3" stroke="#a3a3a3" stroke-width="1" />
<line x1="418.7" y1="574.3" x2="418.7" y2="578.5" stroke="#a3a3a3" stroke-width="1" />
<line x1="433.2" y1="574.3" x2="433.2" y2="578.5" stroke="#a3a3a3" stroke-width="1" />
<line x1="447.8" y1="574.3" x2="447.8" y2="578.5" stroke="#a3a3a3" stroke-width="1" />
<line x1="462.3" y1="574.3" x2="462.3" y2="578.5" stroke="#a3a3a3" stroke-width="1" />
<text x="400.3" y="491.29999999999995" font-size="9.1" text-anchor="end" fill="#231f20">3</text>
<text x="400.3" y="576.6999999999999" font-size="9.1" text-anchor="end" fill="#231f20">−1</text>
<polygon points="415.3,558.5 422.4,554.8 429.6,553.5 436.7,549.0 443.7,547.3 451.2,537.8 458.2,508.6 458.2,528.6 451.2,545.8 443.7,551.3 436.7,553.0 429.6,557.5 422.4,558.8 415.3,564.5" fill="#d6d6d6" />
<polyline points="415.3,561.5 422.4,556.8 429.6,555.5 436.7,551.0 443.7,549.3 451.2,541.8 458.2,518.6" stroke="#1e1e1e" stroke-width="1.3" fill="none" stroke-linejoin="round" stroke-linecap="round" />
<circle cx="415.3" cy="561.5" r="1.75" fill="#1e1e1e"/>
<circle cx="422.4" cy="556.8" r="1.75" fill="#1e1e1e"/>
<circle cx="429.6" cy="555.5" r="1.75" fill="#1e1e1e"/>
<circle cx="436.7" cy="551" r="1.75" fill="#1e1e1e"/>
<circle cx="443.7" cy="549.3" r="1.75" fill="#1e1e1e"/>
<circle cx="451.2" cy="541.8" r="1.75" fill="#1e1e1e"/>
<circle cx="458.2" cy="518.6" r="1.75" fill="#1e1e1e"/>
<polygon points="413.5,492.3 414.1,493.6 415.5,493.8 414.4,494.7 414.7,496.1 413.5,495.3 412.3,496.1 412.6,494.7 411.5,493.8 412.9,493.6" fill="#3a3a3a" />
<polygon points="417.7,492.3 418.3,493.6 419.7,493.8 418.6,494.7 418.9,496.1 417.7,495.3 416.5,496.1 416.8,494.7 415.7,493.8 417.1,493.6" fill="#3a3a3a" />
<polygon points="421.9,492.3 422.5,493.6 423.9,493.8 422.8,494.7 423.1,496.1 421.9,495.3 420.7,496.1 421.0,494.7 419.9,493.8 421.3,493.6" fill="#3a3a3a" />
<text x="417.5" y="589.9" font-size="9.1" text-anchor="middle" fill="#231f20">−0.2</text>
<text x="462.3" y="589.9" font-size="9.1" text-anchor="middle" fill="#231f20">0.4</text>
<text x="315.1" y="174.2" font-size="9.1" text-anchor="middle" fill="#231f20">Axonal scale</text>
<text x="440.1" y="174.2" font-size="9.1" text-anchor="middle" fill="#231f20">Synaptic scale</text>
<text x="377.6" y="601.7" font-size="9.1" text-anchor="middle" fill="#231f20">Δ Signal correlation</text>
<g transform="translate(238.2 223.0) rotate(-90)"><text x="-15.52" y="0" font-size="8.4" fill="#231f20">V1</text><text x="5.25" y="0" font-size="8.4" fill="#231f20">V1</text><path d="M-3.57 -3.02H2.56" stroke="#231f20" stroke-width="0.75"/><path d="M4.41 -3.02L1.39 -5.29L2.56 -3.02L1.39 -0.76Z" fill="#231f20"/></g>
<g transform="translate(238.2 325.0) rotate(-90)"><text x="-21.90" y="0" font-size="8.4" fill="#231f20">HVA</text><text x="5.25" y="0" font-size="8.4" fill="#231f20">HVA</text><path d="M-3.57 -3.02H2.56" stroke="#231f20" stroke-width="0.75"/><path d="M4.41 -3.02L1.39 -5.29L2.56 -3.02L1.39 -0.76Z" fill="#231f20"/></g>
<g transform="translate(238.2 431.9) rotate(-90)"><text x="-18.71" y="0" font-size="8.4" fill="#231f20">V1</text><text x="2.06" y="0" font-size="8.4" fill="#231f20">HVA</text><path d="M-6.76 -3.02H-0.63" stroke="#231f20" stroke-width="0.75"/><path d="M1.22 -3.02L-1.80 -5.29L-0.63 -3.02L-1.80 -0.76Z" fill="#231f20"/></g>
<g transform="translate(238.2 534.5) rotate(-90)"><text x="-18.71" y="0" font-size="8.4" fill="#231f20">HVA</text><text x="8.44" y="0" font-size="8.4" fill="#231f20">V1</text><path d="M-0.38 -3.02H5.75" stroke="#231f20" stroke-width="0.75"/><path d="M7.60 -3.02L4.57 -5.29L5.75 -3.02L4.57 -0.76Z" fill="#231f20"/></g>
<text x="257.2" y="378.5" font-size="9.1" text-anchor="middle" fill="#231f20" transform="rotate(-90 257.2 378.5)">Δ Co-travel distance (μm)</text>
<text x="374.4" y="377.5" font-size="9.1" text-anchor="middle" fill="#231f20" transform="rotate(-90 374.4 377.5)">Δ Synapse density (mm<tspan dy="-3.2" font-size="6.2">−1</tspan><tspan dy="3.2">)</tspan></text>
<line x1="545.4" y1="170.2" x2="545.4" y2="289.1" stroke="#a3a3a3" stroke-width="1" />
<line x1="540.9" y1="170.7" x2="545.4" y2="170.7" stroke="#a3a3a3" stroke-width="1" />
<line x1="540.9" y1="189.32" x2="545.4" y2="189.32" stroke="#a3a3a3" stroke-width="1" />
<line x1="540.9" y1="207.94" x2="545.4" y2="207.94" stroke="#a3a3a3" stroke-width="1" />
<line x1="540.9" y1="226.56" x2="545.4" y2="226.56" stroke="#a3a3a3" stroke-width="1" />
<line x1="540.9" y1="245.18" x2="545.4" y2="245.18" stroke="#a3a3a3" stroke-width="1" />
<line x1="540.9" y1="263.8" x2="545.4" y2="263.8" stroke="#a3a3a3" stroke-width="1" />
<line x1="540.9" y1="282.41999999999996" x2="545.4" y2="282.41999999999996" stroke="#a3a3a3" stroke-width="1" />
<line x1="544.9" y1="288.6" x2="644.8" y2="288.6" stroke="#a3a3a3" stroke-width="1" />
<line x1="545.4" y1="288.6" x2="545.4" y2="292.8" stroke="#a3a3a3" stroke-width="1" />
<text x="545.4" y="301.5" font-size="9.1" text-anchor="middle" fill="#231f20">2</text>
<line x1="576.5" y1="288.6" x2="576.5" y2="292.8" stroke="#a3a3a3" stroke-width="1" />
<text x="576.5" y="301.5" font-size="9.1" text-anchor="middle" fill="#231f20">3</text>
<line x1="607.6" y1="288.6" x2="607.6" y2="292.8" stroke="#a3a3a3" stroke-width="1" />
<text x="607.6" y="301.5" font-size="9.1" text-anchor="middle" fill="#231f20">4</text>
<line x1="638.9" y1="288.6" x2="638.9" y2="292.8" stroke="#a3a3a3" stroke-width="1" />
<text x="638.9" y="301.5" font-size="9.1" text-anchor="middle" fill="#231f20">5</text>
<text x="538.6" y="173.8" font-size="9.1" text-anchor="end" fill="#231f20">0.06</text>
<text x="538.6" y="285.5" font-size="9.1" text-anchor="end" fill="#231f20">−0.06</text>
<polygon points="551.0,170.9 551.6,172.2 553.0,172.4 551.9,173.3 552.2,174.7 551.0,173.9 549.8,174.7 550.1,173.3 549.0,172.4 550.4,172.2" fill="#3a3a3a" />
<polygon points="555.2,170.9 555.8,172.2 557.2,172.4 556.1,173.3 556.4,174.7 555.2,173.9 554.0,174.7 554.3,173.3 553.2,172.4 554.6,172.2" fill="#3a3a3a" />
<polygon points="559.4,170.9 560.0,172.2 561.4,172.4 560.3,173.3 560.6,174.7 559.4,173.9 558.2,174.7 558.5,173.3 557.4,172.4 558.8,172.2" fill="#3a3a3a" />
<line x1="552.6" y1="271.0" x2="630.9" y2="196.0" stroke="#222" stroke-width="0.9" stroke-dasharray="2.6 1.6"/>
<line x1="559.1" y1="245.2" x2="559.1" y2="261.1" stroke="#262626" stroke-width="1.3" />
<line x1="555.9" y1="245.2" x2="562.3000000000001" y2="245.2" stroke="#262626" stroke-width="1.3" />
<line x1="555.9" y1="261.1" x2="562.3000000000001" y2="261.1" stroke="#262626" stroke-width="1.3" />
<circle cx="559.1" cy="253.1" r="1.8" fill="#1a1a1a"/>
<line x1="576.0" y1="230.8" x2="576.0" y2="240.0" stroke="#262626" stroke-width="1.3" />
<line x1="572.8" y1="230.8" x2="579.2" y2="230.8" stroke="#262626" stroke-width="1.3" />
<line x1="572.8" y1="240.0" x2="579.2" y2="240.0" stroke="#262626" stroke-width="1.3" />
<circle cx="576.0" cy="235.2" r="1.8" fill="#1a1a1a"/>
<line x1="591.9" y1="237.7" x2="591.9" y2="242.4" stroke="#262626" stroke-width="1.3" />
<line x1="588.6999999999999" y1="237.7" x2="595.1" y2="237.7" stroke="#262626" stroke-width="1.3" />
<line x1="588.6999999999999" y1="242.4" x2="595.1" y2="242.4" stroke="#262626" stroke-width="1.3" />
<circle cx="591.9" cy="240.0" r="1.8" fill="#1a1a1a"/>
<line x1="607.5" y1="215.1" x2="607.5" y2="220.1" stroke="#262626" stroke-width="1.3" />
<line x1="604.3" y1="215.1" x2="610.7" y2="215.1" stroke="#262626" stroke-width="1.3" />
<line x1="604.3" y1="220.1" x2="610.7" y2="220.1" stroke="#262626" stroke-width="1.3" />
<circle cx="607.5" cy="217.6" r="1.8" fill="#1a1a1a"/>
<line x1="624.2" y1="194.8" x2="624.2" y2="203.2" stroke="#262626" stroke-width="1.3" />
<line x1="621.0" y1="194.8" x2="627.4000000000001" y2="194.8" stroke="#262626" stroke-width="1.3" />
<line x1="621.0" y1="203.2" x2="627.4000000000001" y2="203.2" stroke="#262626" stroke-width="1.3" />
<circle cx="624.2" cy="199.0" r="1.8" fill="#1a1a1a"/>
<text x="509.2" y="229.5" font-size="9.1" text-anchor="middle" fill="#231f20" transform="rotate(-90 509.2 229.5)">Residual signal correlation</text>
<text x="545.2" y="314.7" font-size="9.1" text-anchor="start" fill="#231f20">log<tspan dy="2.2" font-size="6.4">10</tspan><tspan dy="-2.2">(mean cleft volume)</tspan></text>
<line x1="546.2" y1="446.2" x2="546.2" y2="562.8" stroke="#a3a3a3" stroke-width="1" />
<line x1="541.7" y1="465.0" x2="546.2" y2="465.0" stroke="#a3a3a3" stroke-width="1" />
<line x1="541.7" y1="484.58" x2="546.2" y2="484.58" stroke="#a3a3a3" stroke-width="1" />
<line x1="541.7" y1="504.15999999999997" x2="546.2" y2="504.15999999999997" stroke="#a3a3a3" stroke-width="1" />
<line x1="541.7" y1="523.74" x2="546.2" y2="523.74" stroke="#a3a3a3" stroke-width="1" />
<line x1="541.7" y1="543.3199999999999" x2="546.2" y2="543.3199999999999" stroke="#a3a3a3" stroke-width="1" />
<line x1="545.7" y1="562.3" x2="638.6" y2="562.3" stroke="#a3a3a3" stroke-width="1" />
<line x1="564.1" y1="562.3" x2="564.1" y2="566.5" stroke="#a3a3a3" stroke-width="1" />
<text x="564.1" y="575.5" font-size="9.1" text-anchor="middle" fill="#231f20">1</text>
<line x1="582.7" y1="562.3" x2="582.7" y2="566.5" stroke="#a3a3a3" stroke-width="1" />
<text x="582.7" y="575.5" font-size="9.1" text-anchor="middle" fill="#231f20">2</text>
<line x1="601.4" y1="562.3" x2="601.4" y2="566.5" stroke="#a3a3a3" stroke-width="1" />
<text x="601.4" y="575.5" font-size="9.1" text-anchor="middle" fill="#231f20">3</text>
<line x1="620.1" y1="562.3" x2="620.1" y2="566.5" stroke="#a3a3a3" stroke-width="1" />
<text x="620.1" y="575.5" font-size="9.1" text-anchor="middle" fill="#231f20">4</text>
<text x="539.3" y="468.0" font-size="9.1" text-anchor="end" fill="#231f20">0.06</text>
<text x="539.3" y="546.3" font-size="9.1" text-anchor="end" fill="#231f20">−0.02</text>
<polygon points="552.1,452.5 552.7,453.8 554.1,454.0 553.0,454.9 553.3,456.3 552.1,455.5 550.9,456.3 551.2,454.9 550.1,454.0 551.5,453.8" fill="#3a3a3a" />
<polygon points="556.3,452.5 556.9,453.8 558.3,454.0 557.2,454.9 557.5,456.3 556.3,455.5 555.1,456.3 555.4,454.9 554.3,454.0 555.7,453.8" fill="#3a3a3a" />
<line x1="555.2" y1="529.6" x2="630.2" y2="490.1" stroke="#222" stroke-width="0.9" stroke-dasharray="2.6 1.6"/>
<line x1="564.1" y1="524.3" x2="564.1" y2="526.8" stroke="#262626" stroke-width="1.3" />
<line x1="560.9" y1="524.3" x2="567.3000000000001" y2="524.3" stroke="#262626" stroke-width="1.3" />
<line x1="560.9" y1="526.8" x2="567.3000000000001" y2="526.8" stroke="#262626" stroke-width="1.3" />
<circle cx="564.1" cy="525.4" r="1.8" fill="#1a1a1a"/>
<line x1="582.6" y1="499.7" x2="582.6" y2="511.1" stroke="#262626" stroke-width="1.3" />
<line x1="579.4" y1="499.7" x2="585.8000000000001" y2="499.7" stroke="#262626" stroke-width="1.3" />
<line x1="579.4" y1="511.1" x2="585.8000000000001" y2="511.1" stroke="#262626" stroke-width="1.3" />
<circle cx="582.6" cy="505.0" r="1.8" fill="#1a1a1a"/>
<line x1="601.4" y1="507.8" x2="601.4" y2="540.8" stroke="#262626" stroke-width="1.3" />
<line x1="598.1999999999999" y1="507.8" x2="604.6" y2="507.8" stroke="#262626" stroke-width="1.3" />
<line x1="598.1999999999999" y1="540.8" x2="604.6" y2="540.8" stroke="#262626" stroke-width="1.3" />
<circle cx="601.4" cy="524.0" r="1.8" fill="#1a1a1a"/>
<line x1="620.1" y1="453.8" x2="620.1" y2="518.1" stroke="#262626" stroke-width="1.3" />
<line x1="616.9" y1="453.8" x2="623.3000000000001" y2="453.8" stroke="#262626" stroke-width="1.3" />
<line x1="616.9" y1="518.1" x2="623.3000000000001" y2="518.1" stroke="#262626" stroke-width="1.3" />
<circle cx="620.1" cy="486.2" r="1.8" fill="#1a1a1a"/>
<text x="509.2" y="505.0" font-size="9.1" text-anchor="middle" fill="#231f20" transform="rotate(-90 509.2 505.0)">Residual signal correlation</text>
<text x="592.0" y="588.9" font-size="9.1" text-anchor="middle" fill="#231f20">Number of synapses</text>
<text x="30.8" y="22.0" font-size="9.1" text-anchor="middle" fill="#231f20">Presynaptic</text>
<text x="30.8" y="31.3" font-size="9.1" text-anchor="middle" fill="#231f20">neuron</text>
<text x="56.8" y="87.0" font-size="9.1" text-anchor="middle" fill="#231f20">Postsynaptic</text>
<text x="56.8" y="95.8" font-size="9.1" text-anchor="middle" fill="#231f20">target</text>
<text x="100.2" y="110.1" font-size="9.1" text-anchor="middle" fill="#231f20">ADP</text>
<text x="100.2" y="119.6" font-size="9.1" text-anchor="middle" fill="#231f20">control</text>
<text x="113.6" y="50.8" font-size="9.1" text-anchor="middle" fill="#231f20">Same</text>
<text x="113.6" y="59.6" font-size="9.1" text-anchor="middle" fill="#231f20">region</text>
<text x="113.6" y="68.4" font-size="9.1" text-anchor="middle" fill="#231f20">control</text>
<path d="M28.3,51 C28.2,70 27.5,88 33,96 C40,104 52,105 62,104 C74,103 84,96 86,84 C88,72 84,60 81.5,52 C79.5,44 80,36 83,27 C85,20 88,12 90.6,6.5" fill="none" stroke="#cdb77a" stroke-width="0.8"/>
<path d="M96.7,8 C94,20 91.5,32 90.5,40 C89.5,48 89,54 89.2,58 C89.8,66 91.5,73 94.5,78 C96.5,81 98,82.5 99.3,84" fill="none" stroke="#e0414e" stroke-width="0.8"/>
<path d="M89.2,56.5 C89.5,65 91.2,71 94.6,77.3" fill="none" stroke="#e0b923" stroke-width="2.2" stroke-linecap="round"/>
<path d="M82,6.8 L82.4,16 M75.5,42.8 C70,47 63,51 60,55 C58.5,57 57.5,59 57.3,62" fill="none" stroke="#3a3a3a" stroke-width="0.8"/>
<path d="M82.8,15.5 C83,22 82.6,30 80.8,35 C79.5,38.5 77.5,41 75.5,42.8" fill="none" stroke="#e0b923" stroke-width="2.2" stroke-linecap="round"/>
<circle cx="82.0" cy="29.4" r="3.7" fill="none" stroke="#3a3a3a" stroke-width="0.75"/>
<polygon points="28.6,37.2 21.6,50.3 35.6,50.3" fill="#e0b923" stroke="#e0b923" stroke-width="3.4" stroke-linejoin="round"/>
<polygon points="57.2,63.6 50.3,77.4 64.1,77.4" fill="#3b3b3b" stroke="#3b3b3b" stroke-width="3.4" stroke-linejoin="round"/>
<polygon points="99.6,86.0 92.5,98.9 106.7,98.9" fill="#e0604b" stroke="#e0604b" stroke-width="3.4" stroke-linejoin="round"/>
<polygon points="113.3,26.6 106.0,39.2 120.6,39.2" fill="#6ba0d9" stroke="#6ba0d9" stroke-width="3.4" stroke-linejoin="round"/>
<circle cx="5.3" cy="115.1" r="3.2" fill="none" stroke="#444" stroke-width="0.8"/>
<text x="15.3" y="118.1" font-size="9.1" text-anchor="start" fill="#231f20">Synapse</text>
<line x1="0" y1="124.4" x2="10.5" y2="124.4" stroke="#555" stroke-width="0.6" />
<line x1="2.2" y1="124.4" x2="8.8" y2="124.4" stroke="#e0b923" stroke-width="2.6" />
<line x1="0" y1="128.5" x2="10.5" y2="128.5" stroke="#e0414e" stroke-width="0.6" />
<line x1="2.2" y1="128.5" x2="8.8" y2="128.5" stroke="#e0b923" stroke-width="2.6" />
<text x="15.3" y="128.8" font-size="9.1" text-anchor="start" fill="#231f20">Axon–dendrite</text>
<text x="15.3" y="138.5" font-size="9.1" text-anchor="start" fill="#231f20">co-travel distance (<tspan font-style="italic">L</tspan><tspan font-style="italic" font-size="6.3" dy="1.8">c</tspan><tspan dy="-1.8">)</tspan></text>
<path d="M159,10.5 C158,30 156,50 154.5,65 C153.5,75 153,82 152.6,86" fill="none" stroke="#8e8e8e" stroke-width="4.8" stroke-linecap="round"/>
<path d="M158.5,10.5 C158,30 156,50 154.3,65" fill="none" stroke="#b5b5b5" stroke-width="1.2"/>
<path d="M157.5,18 C155,19 152,20 151,23" fill="none" stroke="#8e8e8e" stroke-width="1.6" stroke-linecap="round"/>
<path d="M158.5,17 C161,17 163,18 165,20" fill="none" stroke="#8e8e8e" stroke-width="1.6" stroke-linecap="round"/>
<path d="M156,40 C158,39 160,39.5 162,40.5" fill="none" stroke="#8e8e8e" stroke-width="1.6" stroke-linecap="round"/>
<path d="M155,52 C151,51 148,52 146.8,54" fill="none" stroke="#8e8e8e" stroke-width="1.6" stroke-linecap="round"/>
<path d="M154.5,60 C151,60 149,61 147.5,63" fill="none" stroke="#8e8e8e" stroke-width="1.6" stroke-linecap="round"/>
<path d="M153.5,76 C155.5,75 157,74.5 158.5,75" fill="none" stroke="#8e8e8e" stroke-width="1.6" stroke-linecap="round"/>
<path d="M154.5,72 C152,72 150.5,72.5 149.5,73" fill="none" stroke="#8e8e8e" stroke-width="1.6" stroke-linecap="round"/>
<circle cx="151.2" cy="23" r="1.6" fill="#8e8e8e"/>
<circle cx="146.8" cy="54.5" r="1.4" fill="#8e8e8e"/>
<circle cx="158.6" cy="75.5" r="1.5" fill="#8e8e8e"/>
<path d="M184,24.8 C178,26 170,28 165,31.5 C162,34 161,38 161.5,41 C162,44 163,45.5 165,44.5 C168,43.5 172,45 175,48 C179,52 184,55 185.5,60 C186,63 180,65 180,68 C180,71 184,74 186,79 C188,85 188.5,92 188.6,99" fill="none" stroke="#d7b73c" stroke-width="1.5" stroke-linecap="round"/>
<path d="M175,48 C179,52 184,55 185.5,60 C186,63 180,65 180,68 C180,71 184,74 186,79 C188,85 188.5,95 188.5,117" fill="none" stroke="#d2b23a" stroke-width="3.0" stroke-linecap="round"/>
<circle cx="167.0" cy="42.2" r="5.8" fill="none" stroke="#444" stroke-width="0.8"/>
<path d="M214.6,7.5 C213,20 211,35 209,45 C207.5,60 206.5,75 205.5,88 C204.5,100 203,108 200.4,117" fill="none" stroke="#d22f3d" stroke-width="5.5" stroke-linecap="round"/>
<path d="M214.8,8 L213,22" stroke="#d22f3d" stroke-width="7.5" stroke-linecap="round"/>
<path d="M201,110 L200,118" stroke="#d22f3d" stroke-width="7" stroke-linecap="round"/>
<path d="M212.5,10 C211,25 209,40 207.5,55" fill="none" stroke="#e04a58" stroke-width="1.5"/>
<path d="M211,20 C206,19 200,19 195.5,20.5" fill="none" stroke="#d22f3d" stroke-width="2.1" stroke-linecap="round"/>
<path d="M213.5,22 C218,23 224,25 229,27" fill="none" stroke="#d22f3d" stroke-width="2.1" stroke-linecap="round"/>
<path d="M209,50 C213,48 218,49 222.5,50.5" fill="none" stroke="#d22f3d" stroke-width="2.1" stroke-linecap="round"/>
<path d="M207,66 C202,63 197,64 196,69 C195.5,72 195,74 194.2,76.5" fill="none" stroke="#d22f3d" stroke-width="2.1" stroke-linecap="round"/>
<path d="M206,84 C201,84 196,85 191.8,86.2" fill="none" stroke="#d22f3d" stroke-width="2.1" stroke-linecap="round"/>
<path d="M206,89 C212,89 219,91 225,95" fill="none" stroke="#d22f3d" stroke-width="2.1" stroke-linecap="round"/>
<path d="M204,101 C207,102 211,102 214.5,103.3" fill="none" stroke="#d22f3d" stroke-width="2.1" stroke-linecap="round"/>
<ellipse cx="195.3" cy="20.5" rx="3.2" ry="2.0" transform="rotate(0 195.3 20.5)" fill="#d22f3d"/>
<ellipse cx="229.0" cy="27.0" rx="3.4" ry="2.2" transform="rotate(15 229.0 27.0)" fill="#d22f3d"/>
<ellipse cx="222.5" cy="50.6" rx="2.8" ry="2.0" transform="rotate(-10 222.5 50.6)" fill="#d22f3d"/>
<ellipse cx="194.4" cy="76.0" rx="2.0" ry="3.0" transform="rotate(10 194.4 76.0)" fill="#d22f3d"/>
<ellipse cx="191.8" cy="86.2" rx="2.8" ry="2.0" transform="rotate(0 191.8 86.2)" fill="#d22f3d"/>
<ellipse cx="225.2" cy="95.0" rx="2.2" ry="3.2" transform="rotate(-35 225.2 95.0)" fill="#d22f3d"/>
<ellipse cx="214.6" cy="103.3" rx="2.6" ry="2.1" transform="rotate(20 214.6 103.3)" fill="#d22f3d"/>
<path d="M213.2,12 C212,25 210,38 208.5,50" fill="none" stroke="#a81826" stroke-width="1.2" opacity="0.7"/>
<text x="171.4" y="36.8" font-size="9.1" text-anchor="start" fill="#231f20">Synapse</text>
<text x="147.0" y="94.6" font-size="9.1" text-anchor="start" fill="#231f20">Post</text>
<text x="177.8" y="127.0" font-size="9.1" text-anchor="start" fill="#231f20">Pre</text>
<text x="208.8" y="116.4" font-size="9.1" text-anchor="start" fill="#231f20">ADP</text>
<defs><filter id="blur2" x="-30%" y="-30%" width="160%" height="160%"><feGaussianBlur stdDeviation="3.5"/></filter><filter id="soft" x="-5%" y="-5%" width="110%" height="110%"><feGaussianBlur stdDeviation="0.45"/></filter></defs>
<line x1="140.4" y1="177.4" x2="140.4" y2="265.9" stroke="#6a6a6a" stroke-width="0.75" stroke-dasharray="2.6 1.8"/>
<line x1="140.4" y1="280.5" x2="140.4" y2="369.4" stroke="#6a6a6a" stroke-width="0.75" stroke-dasharray="2.6 1.8"/>
<line x1="140.4" y1="385.5" x2="140.4" y2="474.4" stroke="#6a6a6a" stroke-width="0.75" stroke-dasharray="2.6 1.8"/>
<line x1="140.4" y1="490.5" x2="140.4" y2="579.4" stroke="#6a6a6a" stroke-width="0.75" stroke-dasharray="2.6 1.8"/>
<text x="41.0" y="185.0" font-size="9.1" text-anchor="start" fill="#231f20">V1</text>
<text x="175.8" y="185.0" font-size="9.1" text-anchor="start" fill="#231f20">HVA</text>
<g transform="translate(15.5 226.4) rotate(-90)"><text x="-15.52" y="0" font-size="8.4" fill="#231f20">V1</text><text x="5.25" y="0" font-size="8.4" fill="#231f20">V1</text><path d="M-3.57 -3.02H2.56" stroke="#231f20" stroke-width="0.75"/><path d="M4.41 -3.02L1.39 -5.29L2.56 -3.02L1.39 -0.76Z" fill="#231f20"/></g>
<g transform="translate(15.5 330.2) rotate(-90)"><text x="-21.90" y="0" font-size="8.4" fill="#231f20">HVA</text><text x="5.25" y="0" font-size="8.4" fill="#231f20">HVA</text><path d="M-3.57 -3.02H2.56" stroke="#231f20" stroke-width="0.75"/><path d="M4.41 -3.02L1.39 -5.29L2.56 -3.02L1.39 -0.76Z" fill="#231f20"/></g>
<g transform="translate(15.5 435.2) rotate(-90)"><text x="-18.71" y="0" font-size="8.4" fill="#231f20">V1</text><text x="2.06" y="0" font-size="8.4" fill="#231f20">HVA</text><path d="M-6.76 -3.02H-0.63" stroke="#231f20" stroke-width="0.75"/><path d="M1.22 -3.02L-1.80 -5.29L-0.63 -3.02L-1.80 -0.76Z" fill="#231f20"/></g>
<g transform="translate(15.5 540.2) rotate(-90)"><text x="-18.71" y="0" font-size="8.4" fill="#231f20">HVA</text><text x="8.44" y="0" font-size="8.4" fill="#231f20">V1</text><path d="M-0.38 -3.02H5.75" stroke="#231f20" stroke-width="0.75"/><path d="M7.60 -3.02L4.57 -5.29L5.75 -3.02L4.57 -0.76Z" fill="#231f20"/></g>
<rect x="146" y="192" width="55" height="62" rx="14" fill="#e8e8e8" opacity="0.7" filter="url(#blur2)"/>
<path transform="scale(.5)" d="M364 376h2m9 0h2m-62 1h2m50 0h2m-69 1h2m13 1h2m69 0h2m-66 1h2m-24 1h2m2 0h2m31 0h2m14 0h2m-46 1h2m12 0h2m3 0h2m-19 1h2m1 0h2m18 0h2m28 0h2m10 0h2m9 0h2m-93 1h2m14 0h2m2 0h2m-1 0h2m19 0h2m-2 0h2m-32 1h2m5 0h2m-12 1h2m3 0h2m3 0h2m22 0h2m-1 0h2m16 0h2m9 0h2m-58 1h2m1 0h2m8 0h2m10 0h2m1 0h2m9 0h2m-58 1h2m17 0h2m33 0h2m42 0h2m-89 1h2m0 0h2m0 0h2m3 0h2m3 0h2m5 0h2m-2 0h2m0 0h2m9 0h2m1 0h2m16 0h2m4 0h2m11 0h2m-74 1h2m2 0h2m-1 0h2m2 0h2m27 0h2m1 0h2m6 0h2m7 0h2m-68 1h2m27 0h2m-43 1h2m24 0h2m1 0h2m6 0h2m20 0h2m7 0h2m18 0h2m3 0h2m-86 1h2m17 0h2m24 0h2m8 0h2m22 0h2m-80 1h2m0 0h2m9 0h2m7 0h2m-1 0h2m6 0h2m7 0h2m23 0h2m22 0h2m-95 1h2m5 0h2m13 0h2m3 0h2m24 0h2m-2 0h2m5 0h2m10 0h2m1 0h2m-1 0h2m14 0h2m-1 0h2m10 0h2m-100 1h2m0 0h2m-1 0h2m3 0h2m12 0h2m12 0h2m30 0h2m-1 0h2m5 0h2m0 0h2m2 0h2m-88 1h2m0 0h2m2 0h2m2 0h2m-1 0h2m7 0h2m22 0h2m38 0h2m-2 0h2m4 0h2m0 0h2m10 0h2m-89 1h2m8 0h2m1 0h2m-1 0h2m-35 1h2m4 0h2m35 0h2m8 0h2m11 0h2m-63 1h2m0 0h2m6 0h2m17 0h2m13 0h2m0 0h2m7 0h2m3 0h2m1 0h2m13 0h2m1 0h2m4 0h2m-78 1h2m7 0h2m1 0h2m-1 0h2m-2 0h2m11 0h2m8 0h2m-2 0h2m9 0h2m9 0h2m17 0h2m-106 1h2m7 0h2m4 0h2m2 0h2m20 0h2m1 0h2m8 0h2m1 0h2m12 0h2m26 0h2m-88 1h2m0 0h2m6 0h2m2 0h2m1 0h2m3 0h2m2 0h2m39 0h2m4 0h2m5 0h2m23 0h2m-82 1h2m17 0h2m23 0h2m0 0h2m11 0h2m5 0h2m11 0h2m-111 1h2m11 0h2m9 0h2m7 0h2m14 0h2m33 0h2m3 0h2m10 0h2m-2 0h2m-99 1h2m2 0h2m-1 0h2m2 0h2m2 0h2m17 0h2m13 0h2m18 0h2m-1 0h2m0 0h2m12 0h2m-81 1h2m1 0h2m18 0h2m21 0h2m25 0h2m0 0h2m5 0h2m-1 0h2m0 0h2m-85 1h2m9 0h2m3 0h2m3 0h2m8 0h2m9 0h2m2 0h2m5 0h2m-1 0h2m9 0h2m8 0h2m3 0h2m0 0h2m9 0h2m-111 1h2m1 0h2m16 0h2m4 0h2m-2 0h2m2 0h2m-1 0h2m0 0h2m0 0h2m4 0h2m-1 0h2m17 0h2m5 0h2m5 0h2m14 0h2m-98 1h2m3 0h2m8 0h2m1 0h2m4 0h2m-1 0h2m7 0h2m4 0h2m0 0h2m-2 0h2m4 0h2m11 0h2m6 0h2m0 0h2m7 0h2m14 0h2m2 0h2m2 0h2m-94 1h2m5 0h2m8 0h2m3 0h2m-1 0h2m28 0h2m8 0h2m-1 0h2m-1 0h2m12 0h2m-81 1h2m10 0h2m0 0h2m40 0h2m10 0h2m18 0h2m16 0h2m-117 1h2m28 0h2m2 0h2m7 0h2m0 0h2m6 0h2m5 0h2m28 0h2m4 0h2m8 0h2m7 0h2m-109 1h2m2 0h2m2 0h2m11 0h2m3 0h2m0 0h2m13 0h2m11 0h2m-1 0h2m2 0h2m4 0h2m-1 0h2m0 0h2m13 0h2m3 0h2m1 0h2m4 0h2m-98 1h2m7 0h2m1 0h2m2 0h2m8 0h2m3 0h2m8 0h2m8 0h2m15 0h2m1 0h2m0 0h2m4 0h2m6 0h2m2 0h2m-94 1h2m3 0h2m27 0h2m2 0h2m6 0h2m9 0h2m14 0h2m9 0h2m0 0h2m2 0h2m-87 1h2m-1 0h2m5 0h2m2 0h2m-1 0h2m-1 0h2m4 0h2m3 0h2m32 0h2m7 0h2m10 0h2m-82 1h2m4 0h2m19 0h2m29 0h2m0 0h2m2 0h2m4 0h2m8 0h2m4 0h2m-82 1h2m5 0h2m-1 0h2m38 0h2m27 0h2m-90 1h2m9 0h2m-1 0h2m0 0h2m12 0h2m21 0h2m7 0h2m23 0h2m9 0h2m-105 1h2m0 0h2m3 0h2m22 0h2m2 0h2m0 0h2m19 0h2m4 0h2m5 0h2m6 0h2m5 0h2m13 0h2m-100 1h2m6 0h2m2 0h2m3 0h2m-2 0h2m14 0h2m4 0h2m18 0h2m6 0h2m1 0h2m11 0h2m7 0h2m-92 1h2m2 0h2m11 0h2m7 0h2m14 0h2m2 0h2m2 0h2m16 0h2m0 0h2m12 0h2m2 0h2m2 0h2m-1 0h2m6 0h2m-94 1h2m7 0h2m0 0h2m1 0h2m0 0h2m-1 0h2m12 0h2m18 0h2m-2 0h2m5 0h2m7 0h2m2 0h2m6 0h2m-63 1h2m13 0h2m10 0h2m26 0h2m8 0h2m0 0h2m5 0h2m-103 1h2m7 0h2m-1 0h2m26 0h2m20 0h2m39 0h2m-95 1h2m11 0h2m-1 0h2m-2 0h2m5 0h2m19 0h2m12 0h2m14 0h2m-57 1h2m1 0h2m3 0h2m1 0h2m4 0h2m11 0h2m0 0h2m-2 0h2m2 0h2m0 0h2m2 0h2m0 0h2m-1 0h2m-1 0h2m14 0h2m7 0h2m-104 1h2m8 0h2m4 0h2m3 0h2m14 0h2m5 0h2m12 0h2m0 0h2m-2 0h2m6 0h2m-1 0h2m1 0h2m11 0h2m4 0h2m0 0h2m-75 1h2m1 0h2m0 0h2m3 0h2m4 0h2m9 0h2m15 0h2m2 0h2m-1 0h2m26 0h2m7 0h2m-1 0h2m-87 1h2m7 0h2m11 0h2m11 0h2m12 0h2m5 0h2m6 0h2m-2 0h2m-1 0h2m12 0h2m-2 0h2m11 0h2m-105 1h2m5 0h2m-1 0h2m0 0h2m-1 0h2m1 0h2m13 0h2m20 0h2m1 0h2m-2 0h2m-1 0h2m24 0h2m-59 1h2m3 0h2m1 0h2m14 0h2m1 0h2m26 0h2m-92 1h2m7 0h2m16 0h2m4 0h2m-2 0h2m7 0h2m14 0h2m6 0h2m13 0h2m0 0h2m22 0h2m-108 1h2m7 0h2m7 0h2m5 0h2m16 0h2m13 0h2m16 0h2m18 0h2m-88 1h2m1 0h2m7 0h2m2 0h2m5 0h2m37 0h2m5 0h2m-1 0h2m3 0h2m6 0h2m3 0h2m8 0h2m-113 1h2m15 0h2m0 0h2m8 0h2m8 0h2m4 0h2m-2 0h2m5 0h2m54 0h2m-2 0h2m2 0h2m1 0h2m-93 1h2m34 0h2m25 0h2m5 0h2m12 0h2m-105 1h2m31 0h2m0 0h2m4 0h2m23 0h2m4 0h2m6 0h2m0 0h2m19 0h2m-85 1h2m36 0h2m7 0h2m22 0h2m1 0h2m0 0h2m7 0h2m-109 1h2m5 0h2m20 0h2m28 0h2m-2 0h2m29 0h2m-84 1h2m0 0h2m2 0h2m24 0h2m0 0h2m13 0h2m15 0h2m20 0h2m0 0h2m7 0h2m-1 0h2m-64 1h2m27 0h2m13 0h2m1 0h2m0 0h2m2 0h2m-1 0h2m-90 1h2m8 0h2m1 0h2m26 0h2m4 0h2m23 0h2m4 0h2m12 0h2m1 0h2m0 0h2m-104 1h2m-1 0h2m6 0h2m18 0h2m16 0h2m0 0h2m-2 0h2m13 0h2m-57 1h2m0 0h2m2 0h2m4 0h2m-2 0h2m8 0h2m16 0h2m31 0h2m5 0h2m12 0h2m-112 1h2m16 0h2m-1 0h2m12 0h2m5 0h2m-2 0h2m6 0h2m12 0h2m8 0h2m14 0h2m2 0h2m-80 1h2m8 0h2m18 0h2m10 0h2m1 0h2m5 0h2m5 0h2m2 0h2m-2 0h2m3 0h2m1 0h2m12 0h2m3 0h2m-94 1h2m11 0h2m7 0h2m0 0h2m-1 0h2m19 0h2m34 0h2m11 0h2m5 0h2m-105 1h2m19 0h2m3 0h2m6 0h2m5 0h2m13 0h2m16 0h2m24 0h2m1 0h2m0 0h2m-117 1h2m4 0h2m7 0h2m5 0h2m22 0h2m4 0h2m-1 0h2m6 0h2m20 0h2m6 0h2m0 0h2m-50 1h2m11 0h2m6 0h2m0 0h2m3 0h2m1 0h2m-63 1h2m15 0h2m16 0h2m34 0h2m-66 1h2m2 0h2m2 0h2m10 0h2m40 0h2m17 0h2m1 0h2m-103 1h2m0 0h2m0 0h2m21 0h2m9 0h2m2 0h2m3 0h2m6 0h2m9 0h2m4 0h2m-2 0h2m15 0h2m14 0h2m0 0h2m-104 1h2m5 0h2m0 0h2m-1 0h2m3 0h2m4 0h2m-1 0h2m15 0h2m3 0h2m14 0h2m13 0h2m4 0h2m-85 1h2m5 0h2m4 0h2m1 0h2m10 0h2m1 0h2m-1 0h2m14 0h2m20 0h2m2 0h2m10 0h2m-80 1h2m2 0h2m-1 0h2m16 0h2m5 0h2m7 0h2m1 0h2m3 0h2m3 0h2m7 0h2m4 0h2m3 0h2m7 0h2m-1 0h2m-2 0h2m0 0h2m7 0h2m-94 1h2m38 0h2m-1 0h2m1 0h2m18 0h2m7 0h2m3 0h2m8 0h2m0 0h2m-29 1h2m13 0h2m-100 1h2m10 0h2m27 0h2m5 0h2m26 0h2m1 0h2m8 0h2m0 0h2m1 0h2m13 0h2m-91 1h2m-1 0h2m42 0h2m41 0h2m-82 1h2m-2 0h2m18 0h2m5 0h2m0 0h2m12 0h2m20 0h2m9 0h2m-102 1h2m13 0h2m0 0h2m-1 0h2m-1 0h2m10 0h2m-2 0h2m16 0h2m17 0h2m2 0h2m4 0h2m6 0h2m3 0h2m-1 0h2m-83 1h2m17 0h2m13 0h2m5 0h2m1 0h2m-1 0h2m8 0h2m4 0h2m4 0h2m0 0h2m0 0h2m7 0h2m4 0h2m-2 0h2m-92 1h2m7 0h2m5 0h2m1 0h2m0 0h2m16 0h2m-2 0h2m7 0h2m2 0h2m1 0h2m2 0h2m10 0h2m7 0h2m0 0h2m8 0h2m-2 0h2m1 0h2m-80 1h2m-1 0h2m5 0h2m-2 0h2m3 0h2m31 0h2m28 0h2m-84 1h2m20 0h2m17 0h2m6 0h2m5 0h2m10 0h2m-66 1h2m3 0h2m1 0h2m0 0h2m5 0h2m4 0h2m19 0h2m45 0h2m-103 1h2m1 0h2m2 0h2m23 0h2m-2 0h2m12 0h2m6 0h2m8 0h2m0 0h2m5 0h2m12 0h2m3 0h2m-70 1h2m1 0h2m6 0h2m31 0h2m5 0h2m6 0h2m13 0h2m-106 1h2m1 0h2m-2 0h2m14 0h2m3 0h2m10 0h2m-1 0h2m1 0h2m4 0h2m-2 0h2m4 0h2m7 0h2m1 0h2m16 0h2m2 0h2m0 0h2m0 0h2m1 0h2m-101 1h2m15 0h2m45 0h2m8 0h2m3 0h2m17 0h2m-90 1h2m-1 0h2m0 0h2m7 0h2m47 0h2m-1 0h2m0 0h2m3 0h2m-78 1h2m8 0h2m1 0h2m1 0h2m-1 0h2m15 0h2m6 0h2m11 0h2m4 0h2m27 0h2m10 0h2m-97 1h2m3 0h2m-1 0h2m29 0h2m14 0h2m1 0h2m4 0h2m5 0h2m11 0h2m4 0h2m-90 1h2m-2 0h2m1 0h2m35 0h2m-1 0h2m24 0h2m20 0h2m2 0h2m-2 0h2m-85 1h2m0 0h2m13 0h2m11 0h2m0 0h2m2 0h2m3 0h2m3 0h2m4 0h2m18 0h2m19 0h2m-110 1h2m4 0h2m10 0h2m4 0h2m-1 0h2m-2 0h2m3 0h2m11 0h2m31 0h2m0 0h2m10 0h2m4 0h2m-92 1h2m2 0h2m4 0h2m4 0h2m59 0h2m3 0h2m-2 0h2m-99 1h2m52 0h2m-1 0h2m6 0h2m11 0h2m3 0h2m0 0h2m15 0h2m-98 1h2m3 0h2m36 0h2m19 0h2m-1 0h2m18 0h2m-71 1h2m12 0h2m-1 0h2m17 0h2m2 0h2m21 0h2m16 0h2m-90 1h2m0 0h2m2 0h2m15 0h2m2 0h2m-2 0h2m2 0h2m7 0h2m1 0h2m-2 0h2m25 0h2m17 0h2m-85 1h2m12 0h2m-2 0h2m11 0h2m0 0h2m3 0h2m14 0h2m-2 0h2m10 0h2m6 0h2m5 0h2m-2 0h2m-98 1h2m2 0h2m7 0h2m1 0h2m6 0h2m1 0h2m40 0h2m5 0h2m-1 0h2m2 0h2m3 0h2m-1 0h2m6 0h2m7 0h2m-89 1h2m4 0h2m1 0h2m3 0h2m-1 0h2m15 0h2m0 0h2m5 0h2m8 0h2m33 0h2m-1 0h2m0 0h2m-1 0h2m0 0h2m-87 1h2m33 0h2m33 0h2m7 0h2m9 0h2m-106 1h2m10 0h2m23 0h2m14 0h2m8 0h2m6 0h2m0 0h2m-44 1h2m-2 0h2m-1 0h2m3 0h2m18 0h2m18 0h2m16 0h2m-99 1h2m4 0h2m12 0h2m12 0h2m2 0h2m5 0h2m0 0h2m0 0h2m6 0h2m0 0h2m10 0h2m-1 0h2m6 0h2m10 0h2m-89 1h2m-1 0h2m2 0h2m4 0h2m3 0h2m12 0h2m5 0h2m-1 0h2m3 0h2m0 0h2m-2 0h2m4 0h2m2 0h2m9 0h2m0 0h2m5 0h2m6 0h2m5 0h2m-1 0h2m0 0h2m-91 1h2m0 0h2m13 0h2m9 0h2m4 0h2m3 0h2m6 0h2m8 0h2m3 0h2m2 0h2m2 0h2m20 0h2m-102 1h2m1 0h2m6 0h2m7 0h2m0 0h2m11 0h2m9 0h2m8 0h2m25 0h2m4 0h2m-99 1h2m9 0h2m5 0h2m16 0h2m6 0h2m9 0h2m3 0h2m31 0h2m3 0h2m-89 1h2m14 0h2m-1 0h2m54 0h2m19 0h2m-81 1h2m36 0h2m20 0h2m4 0h2m-89 1h2m36 0h2m13 0h2m6 0h2m1 0h2m2 0h2m0 0h2m15 0h2m-27 1h2m25 0h2m1 0h2m-2 0h2m2 0h2m-84 1h2m2 0h2m10 0h2m0 0h2m7 0h2m5 0h2m-2 0h2m2 0h2m22 0h2m-53 1h2m8 0h2m28 0h2m-66 1h2m25 0h2m23 0h2m0 0h2m9 0h2m-63 1h2m4 0h2m31 0h2m32 0h2m-78 1h2m18 0h2m7 0h2m4 0h2m-1 0h2m26 0h2m2 0h2m-55 1h2m1 0h2m64 0h2m1 0h2m-94 1h2m49 0h2m5 0h2m8 0h2m12 0h2m-61 1h2m23 0h2m3 0h2m10 0h2m1 0h2m6 0h2m2 0h2m-58 1h2m9 0h2m1 0h2m10 0h2m5 0h2m-1 0h2m21 0h2m2 0h2m-32 1h2m3 0h2m3 0h2m-20 1h2m36 0h2m7 0h2m-54 1h2m35 0h2m8 0h2m-52 1h2m1 0h2m-39 1h2m56 0h2m11 0h2m5 0h2m0 0h2m-79 1h2m6 0h2m16 0h2m15 0h2m4 0h2m-28 1h2m7 0h2m29 0h2m19 0h2m-52 1h2m33 0h2" stroke="#c9c9c9" stroke-width="1.40" opacity="1.0" filter="url(#soft)"/>
<path transform="scale(.5)" d="M152 375h2m-35 3h2m149 0h2m-150 1h2m129 0h2m16 0h2m-114 1h2m13 0h2m58 0h2m-113 1h2m9 0h2m11 0h2m-35 2h2m73 0h2m4 0h2m26 0h2m31 0h2m-105 1h2m34 0h2m7 0h2m18 0h2m19 0h2m-1 0h2m6 0h2m-100 1h2m19 0h2m41 0h2m-91 1h2m6 0h2m55 0h2m48 0h2m-29 1h2m17 0h2m8 0h2m7 0h2m-103 1h2m8 0h2m48 0h2m-1 0h2m-100 1h2m0 0h2m-2 0h2m14 0h2m14 0h2m24 0h2m5 0h2m76 0h2m1 0h2m-128 1h2m25 0h2m17 0h2m3 0h2m47 0h2m14 0h2m4 0h2m-130 1h2m9 0h2m24 0h2m67 0h2m4 0h2m-111 1h2m2 0h2m5 0h2m11 0h2m12 0h2m13 0h2m24 0h2m40 0h2m11 0h2m2 0h2m-158 1h2m44 0h2m3 0h2m-1 0h2m36 0h2m-7 1h2m2 0h2m-1 0h2m63 0h2m-165 1h2m10 0h2m4 0h2m18 0h2m3 0h2m16 0h2m7 0h2m-2 0h2m-1 0h2m3 0h2m85 0h2m-169 1h2m18 0h2m3 0h2m3 0h2m19 0h2m13 0h2m7 0h2m8 0h2m63 0h2m6 0h2m4 0h2m-155 1h2m50 0h2m37 0h2m37 0h2m13 0h2m12 0h2m-172 1h2m49 0h2m10 0h2m14 0h2m62 0h2m-150 1h2m11 0h2m15 0h2m2 0h2m31 0h2m22 0h2m-1 0h2m-84 1h2m9 0h2m3 0h2m11 0h2m1 0h2m5 0h2m-2 0h2m12 0h2m10 0h2m-1 0h2m17 0h2m8 0h2m36 0h2m3 0h2m-119 1h2m11 0h2m5 0h2m23 0h2m78 0h2m11 0h2m9 0h2m-166 1h2m8 0h2m64 0h2m33 0h2m32 0h2m-153 1h2m6 0h2m5 0h2m11 0h2m18 0h2m-1 0h2m10 0h2m-2 0h2m0 0h2m15 0h2m38 0h2m-114 1h2m22 0h2m46 0h2m3 0h2m21 0h2m41 0h2m-160 1h2m0 0h2m-1 0h2m36 0h2m8 0h2m13 0h2m2 0h2m16 0h2m8 0h2m12 0h2m38 0h2m-134 1h2m53 0h2m65 0h2m-131 1h2m-2 0h2m0 0h2m-2 0h2m22 0h2m10 0h2m10 0h2m4 0h2m28 0h2m11 0h2m47 0h2m-2 0h2m-168 1h2m9 0h2m5 0h2m21 0h2m4 0h2m4 0h2m95 0h2m-143 1h2m9 0h2m1 0h2m0 0h2m21 0h2m9 0h2m1 0h2m26 0h2m4 0h2m33 0h2m2 0h2m22 0h2m-154 1h2m37 0h2m15 0h2m9 0h2m18 0h2m-1 0h2m7 0h2m26 0h2m0 0h2m5 0h2m-140 1h2m0 0h2m9 0h2m-1 0h2m13 0h2m-1 0h2m0 0h2m14 0h2m14 0h2m1 0h2m6 0h2m0 0h2m20 0h2m-104 1h2m3 0h2m0 0h2m6 0h2m10 0h2m22 0h2m19 0h2m6 0h2m9 0h2m3 0h2m3 0h2m19 0h2m4 0h2m-130 1h2m13 0h2m10 0h2m23 0h2m27 0h2m-1 0h2m21 0h2m2 0h2m6 0h2m18 0h2m21 0h2m15 0h2m-179 1h2m2 0h2m2 0h2m5 0h2m-1 0h2m1 0h2m29 0h2m30 0h2m11 0h2m7 0h2m14 0h2m3 0h2m-127 1h2m32 0h2m3 0h2m-2 0h2m69 0h2m3 0h2m30 0h2m-149 1h2m10 0h2m-2 0h2m39 0h2m34 0h2m6 0h2m3 0h2m2 0h2m33 0h2m-124 1h2m19 0h2m11 0h2m13 0h2m4 0h2m37 0h2m10 0h2m18 0h2m-149 1h2m5 0h2m5 0h2m1 0h2m-1 0h2m4 0h2m9 0h2m20 0h2m1 0h2m7 0h2m-1 0h2m39 0h2m50 0h2m11 0h2m-162 1h2m28 0h2m3 0h2m42 0h2m0 0h2m1 0h2m-1 0h2m4 0h2m26 0h2m5 0h2m4 0h2m-147 1h2m22 0h2m-1 0h2m22 0h2m7 0h2m-1 0h2m38 0h2m13 0h2m50 0h2m-167 1h2m6 0h2m1 0h2m20 0h2m10 0h2m25 0h2m7 0h2m17 0h2m5 0h2m17 0h2m19 0h2m-130 1h2m46 0h2m0 0h2m2 0h2m2 0h2m5 0h2m-1 0h2m4 0h2m9 0h2m10 0h2m8 0h2m3 0h2m20 0h2m-152 1h2m-1 0h2m17 0h2m10 0h2m13 0h2m3 0h2m26 0h2m35 0h2m8 0h2m0 0h2m11 0h2m-147 1h2m7 0h2m-1 0h2m26 0h2m7 0h2m31 0h2m6 0h2m50 0h2m12 0h2m23 0h2m-179 1h2m17 0h2m20 0h2m16 0h2m4 0h2m0 0h2m0 0h2m38 0h2m11 0h2m13 0h2m12 0h2m4 0h2m5 0h2m-160 1h2m90 0h2m23 0h2m-118 1h2m7 0h2m23 0h2m5 0h2m23 0h2m62 0h2m9 0h2m25 0h2m2 0h2m-169 1h2m-1 0h2m9 0h2m-2 0h2m13 0h2m6 0h2m8 0h2m10 0h2m60 0h2m7 0h2m31 0h2m-83 1h2m5 0h2m13 0h2m-1 0h2m7 0h2m29 0h2m-153 1h2m37 0h2m8 0h2m76 0h2m-131 1h2m1 0h2m34 0h2m1 0h2m49 0h2m18 0h2m-102 1h2m1 0h2m5 0h2m40 0h2m15 0h2m-1 0h2m7 0h2m5 0h2m26 0h2m14 0h2m10 0h2m-149 1h2m13 0h2m17 0h2m2 0h2m1 0h2m5 0h2m18 0h2m30 0h2m-1 0h2m2 0h2m57 0h2m-176 1h2m1 0h2m46 0h2m90 0h2m-153 1h2m27 0h2m7 0h2m10 0h2m3 0h2m15 0h2m2 0h2m3 0h2m103 0h2m-181 1h2m42 0h2m10 0h2m11 0h2m18 0h2m-1 0h2m-81 1h2m2 0h2m3 0h2m-1 0h2m3 0h2m64 0h2m18 0h2m9 0h2m-122 1h2m12 0h2m10 0h2m10 0h2m18 0h2m-2 0h2m1 0h2m17 0h2m12 0h2m-1 0h2m-2 0h2m40 0h2m-111 1h2m40 0h2m16 0h2m29 0h2m4 0h2m-131 1h2m8 0h2m5 0h2m22 0h2m3 0h2m15 0h2m13 0h2m0 0h2m5 0h2m5 0h2m4 0h2m38 0h2m20 0h2m-159 1h2m21 0h2m13 0h2m58 0h2m24 0h2m3 0h2m6 0h2m23 0h2m15 0h2m-193 1h2m36 0h2m12 0h2m7 0h2m0 0h2m9 0h2m-1 0h2m5 0h2m3 0h2m39 0h2m3 0h2m-1 0h2m-1 0h2m23 0h2m4 0h2m8 0h2m-162 1h2m3 0h2m1 0h2m0 0h2m-1 0h2m7 0h2m-2 0h2m27 0h2m27 0h2m1 0h2m11 0h2m1 0h2m5 0h2m14 0h2m11 0h2m22 0h2m-168 1h2m-2 0h2m1 0h2m28 0h2m113 0h2m23 0h2m-152 1h2m12 0h2m48 0h2m15 0h2m4 0h2m-112 1h2m3 0h2m4 0h2m2 0h2m3 0h2m5 0h2m0 0h2m30 0h2m1 0h2m1 0h2m76 0h2m11 0h2m-158 1h2m17 0h2m6 0h2m7 0h2m38 0h2m5 0h2m0 0h2m25 0h2m26 0h2m32 0h2m-181 1h2m7 0h2m3 0h2m17 0h2m40 0h2m46 0h2m31 0h2m-161 1h2m9 0h2m4 0h2m32 0h2m-1 0h2m4 0h2m1 0h2m41 0h2m30 0h2m7 0h2m10 0h2m-157 1h2m10 0h2m42 0h2m11 0h2m17 0h2m38 0h2m15 0h2m9 0h2m3 0h2m-154 1h2m0 0h2m-1 0h2m36 0h2m4 0h2m65 0h2m12 0h2m22 0h2m16 0h2m-172 1h2m29 0h2m2 0h2m2 0h2m30 0h2m22 0h2m25 0h2m12 0h2m4 0h2m-146 1h2m0 0h2m19 0h2m82 0h2m-1 0h2m4 0h2m47 0h2m-138 1h2m-1 0h2m12 0h2m9 0h2m25 0h2m-1 0h2m-2 0h2m22 0h2m22 0h2m4 0h2m-127 1h2m24 0h2m1 0h2m25 0h2m4 0h2m35 0h2m12 0h2m-122 1h2m-1 0h2m14 0h2m29 0h2m-1 0h2m4 0h2m31 0h2m12 0h2m-94 1h2m9 0h2m18 0h2m4 0h2m28 0h2m22 0h2m20 0h2m1 0h2m-2 0h2m1 0h2m17 0h2m9 0h2m5 0h2m-177 1h2m12 0h2m33 0h2m10 0h2m11 0h2m6 0h2m40 0h2m52 0h2m-149 1h2m9 0h2m1 0h2m1 0h2m-1 0h2m1 0h2m38 0h2m9 0h2m32 0h2m14 0h2m-138 1h2m0 0h2m-2 0h2m8 0h2m17 0h2m6 0h2m22 0h2m15 0h2m0 0h2m40 0h2m21 0h2m8 0h2m9 0h2m-137 1h2m32 0h2m7 0h2m37 0h2m2 0h2m25 0h2m-166 1h2m20 0h2m9 0h2m14 0h2m43 0h2m9 0h2m14 0h2m19 0h2m14 0h2m12 0h2m7 0h2m-156 1h2m11 0h2m0 0h2m13 0h2m9 0h2m15 0h2m22 0h2m6 0h2m18 0h2m-93 1h2m12 0h2m50 0h2m-84 1h2m1 0h2m10 0h2m25 0h2m23 0h2m15 0h2m51 0h2m-169 1h2m-1 0h2m30 0h2m0 0h2m10 0h2m53 0h2m4 0h2m9 0h2m10 0h2m10 0h2m5 0h2m22 0h2m-162 1h2m22 0h2m10 0h2m11 0h2m41 0h2m6 0h2m6 0h2m23 0h2m-133 1h2m41 0h2m40 0h2m17 0h2m-2 0h2m7 0h2m13 0h2m2 0h2m8 0h2m-145 1h2m22 0h2m3 0h2m0 0h2m0 0h2m19 0h2m70 0h2m-121 1h2m8 0h2m3 0h2m16 0h2m7 0h2m8 0h2m5 0h2m-71 1h2m24 0h2m0 0h2m34 0h2m5 0h2m10 0h2m10 0h2m-66 1h2m25 0h2m22 0h2m5 0h2m10 0h2m0 0h2m48 0h2m-1 0h2m-131 1h2m23 0h2m21 0h2m26 0h2m6 0h2m19 0h2m-130 1h2m5 0h2m4 0h2m16 0h2m11 0h2m36 0h2m3 0h2m-1 0h2m9 0h2m5 0h2m-1 0h2m9 0h2m0 0h2m6 0h2m2 0h2m6 0h2m18 0h2m-134 1h2m4 0h2m-1 0h2m-2 0h2m4 0h2m-2 0h2m19 0h2m9 0h2m-1 0h2m9 0h2m14 0h2m21 0h2m37 0h2m-166 1h2m2 0h2m46 0h2m23 0h2m46 0h2m1 0h2m-2 0h2m-1 0h2m15 0h2m2 0h2m-123 1h2m19 0h2m2 0h2m21 0h2m0 0h2m-83 1h2m4 0h2m8 0h2m19 0h2m5 0h2m17 0h2m6 0h2m37 0h2m12 0h2m19 0h2m-150 1h2m10 0h2m1 0h2m48 0h2m10 0h2m38 0h2m7 0h2m4 0h2m7 0h2m-2 0h2m7 0h2m-155 1h2m22 0h2m6 0h2m17 0h2m8 0h2m-1 0h2m20 0h2m45 0h2m31 0h2m-131 1h2m26 0h2m24 0h2m2 0h2m19 0h2m2 0h2m24 0h2m-140 1h2m50 0h2m21 0h2m52 0h2m0 0h2m17 0h2m9 0h2m-159 1h2m5 0h2m8 0h2m-2 0h2m0 0h2m10 0h2m16 0h2m7 0h2m8 0h2m22 0h2m31 0h2m24 0h2m-157 1h2m4 0h2m21 0h2m-1 0h2m125 0h2m5 0h2m-165 1h2m38 0h2m19 0h2m8 0h2m21 0h2m47 0h2m-150 1h2m14 0h2m9 0h2m67 0h2m-2 0h2m18 0h2m30 0h2m13 0h2m9 0h2m-167 1h2m2 0h2m16 0h2m47 0h2m-2 0h2m22 0h2m26 0h2m21 0h2m6 0h2m-158 1h2m23 0h2m29 0h2m-1 0h2m17 0h2m48 0h2m-110 1h2m14 0h2m45 0h2m4 0h2m10 0h2m33 0h2m-114 1h2m18 0h2m4 0h2m3 0h2m20 0h2m29 0h2m35 0h2m14 0h2m-167 1h2m-1 0h2m25 0h2m-1 0h2m6 0h2m6 0h2m33 0h2m10 0h2m5 0h2m6 0h2m-112 1h2m7 0h2m8 0h2m13 0h2m26 0h2m15 0h2m9 0h2m7 0h2m24 0h2m12 0h2m28 0h2m0 0h2m4 0h2m-176 1h2m1 0h2m32 0h2m18 0h2m19 0h2m62 0h2m15 0h2m-147 1h2m7 0h2m28 0h2m16 0h2m3 0h2m-1 0h2m8 0h2m52 0h2m-127 1h2m26 0h2m3 0h2m0 0h2m41 0h2m24 0h2m39 0h2m1 0h2m-160 1h2m-1 0h2m67 0h2m1 0h2m8 0h2m2 0h2m36 0h2m-126 1h2m10 0h2m44 0h2m0 0h2m38 0h2m68 0h2m-156 1h2m12 0h2m16 0h2m28 2h2m9 0h2m1 0h2m0 0h2m-22 1h2m66 0h2m18 0h2m-153 1h2m12 0h2m9 0h2m41 0h2m46 0h2m36 0h2m-88 1h2m7 0h2m19 0h2m11 0h2m-71 1h2m2 0h2m21 0h2m67 0h2m-91 1h2m51 0h2m39 0h2m-82 1h2m-64 1h2m28 0h2m11 0h2m-1 0h2m31 0h2m-26 1h2m68 0h2m-115 1h2m1 0h2m36 0h2m15 0h2m4 0h2m45 0h2m-116 2h2m-11 2h2m110 0h2m-53 1h2m28 0h2m-85 2h2m87 0h2m-82 1h2m4 0h2m9 0h2" stroke="#97c1e8" stroke-width="1.60" opacity="1.0" filter="url(#soft)"/>
<path transform="scale(.5)" d="M197 376h2m17 3h2m-1 0h2m37 0h2m-81 1h2m1 0h2m43 0h2m35 0h2m-76 1h2m7 0h2m66 0h2m-29 1h2m3 0h2m1 0h2m-49 1h2m20 0h2m25 0h2m7 0h2m-54 1h2m16 0h2m-1 0h2m-14 1h2m13 0h2m-47 1h2m1 0h2m47 0h2m-29 1h2m53 0h2m-111 1h2m37 0h2m8 0h2m4 0h2m15 0h2m3 0h2m7 0h2m-39 1h2m1 0h2m-1 0h2m29 0h2m1 0h2m13 0h2m-90 1h2m14 0h2m5 0h2m7 0h2m43 0h2m1 0h2m-49 1h2m-1 0h2m29 0h2m20 0h2m10 0h2m-2 0h2m4 0h2m-60 1h2m1 0h2m6 0h2m-1 0h2m-1 0h2m2 0h2m0 0h2m-2 0h2m-1 0h2m7 0h2m5 0h2m0 0h2m-76 1h2m13 0h2m10 0h2m21 0h2m23 0h2m-105 1h2m32 0h2m19 0h2m29 0h2m28 0h2m-77 1h2m0 0h2m4 0h2m24 0h2m16 0h2m-68 1h2m3 0h2m4 0h2m0 0h2m14 0h2m11 0h2m6 0h2m21 0h2m19 0h2m1 0h2m-102 1h2m26 0h2m23 0h2m30 0h2m-1 0h2m-60 1h2m30 0h2m8 0h2m1 0h2m0 0h2m6 0h2m0 0h2m-103 1h2m35 0h2m4 0h2m21 0h2m1 0h2m1 0h2m11 0h2m3 0h2m14 0h2m-2 0h2m14 0h2m-129 1h2m8 0h2m32 0h2m0 0h2m14 0h2m-2 0h2m-1 0h2m3 0h2m7 0h2m33 0h2m1 0h2m-104 1h2m19 0h2m14 0h2m5 0h2m0 0h2m-2 0h2m8 0h2m3 0h2m7 0h2m3 0h2m21 0h2m-88 1h2m0 0h2m8 0h2m4 0h2m14 0h2m9 0h2m7 0h2m13 0h2m19 0h2m0 0h2m6 0h2m-95 1h2m16 0h2m13 0h2m12 0h2m7 0h2m10 0h2m0 0h2m-93 1h2m20 0h2m3 0h2m-2 0h2m5 0h2m0 0h2m23 0h2m14 0h2m3 0h2m-1 0h2m11 0h2m10 0h2m-83 1h2m23 0h2m11 0h2m22 0h2m6 0h2m0 0h2m3 0h2m-85 1h2m7 0h2m12 0h2m16 0h2m3 0h2m4 0h2m25 0h2m-91 1h2m0 0h2m25 0h2m-1 0h2m40 0h2m9 0h2m-1 0h2m0 0h2m-64 1h2m4 0h2m6 0h2m-2 0h2m2 0h2m0 0h2m-2 0h2m10 0h2m13 0h2m2 0h2m-2 0h2m-1 0h2m1 0h2m7 0h2m0 0h2m1 0h2m0 0h2m-28 1h2m13 0h2m10 0h2m-1 0h2m0 0h2m-123 1h2m14 0h2m11 0h2m1 0h2m6 0h2m2 0h2m6 0h2m16 0h2m13 0h2m0 0h2m2 0h2m5 0h2m0 0h2m0 0h2m19 0h2m-99 1h2m27 0h2m18 0h2m7 0h2m-30 1h2m10 0h2m22 0h2m7 0h2m3 0h2m-1 0h2m9 0h2m-78 1h2m3 0h2m22 0h2m7 0h2m1 0h2m0 0h2m23 0h2m4 0h2m-88 1h2m48 0h2m22 0h2m5 0h2m7 0h2m-121 1h2m39 0h2m3 0h2m13 0h2m-1 0h2m9 0h2m7 0h2m8 0h2m4 0h2m4 0h2m8 0h2m-84 1h2m15 0h2m11 0h2m16 0h2m3 0h2m10 0h2m-80 1h2m10 0h2m6 0h2m22 0h2m15 0h2m8 0h2m14 0h2m10 0h2m-105 1h2m21 0h2m9 0h2m-1 0h2m1 0h2m1 0h2m14 0h2m1 0h2m1 0h2m20 0h2m0 0h2m4 0h2m4 0h2m-102 1h2m18 0h2m26 0h2m1 0h2m7 0h2m9 0h2m-1 0h2m1 0h2m1 0h2m12 0h2m3 0h2m6 0h2m-98 1h2m4 0h2m11 0h2m2 0h2m-1 0h2m1 0h2m0 0h2m8 0h2m8 0h2m-1 0h2m15 0h2m-89 1h2m43 0h2m2 0h2m7 0h2m10 0h2m10 0h2m8 0h2m1 0h2m2 0h2m-104 1h2m10 0h2m16 0h2m13 0h2m3 0h2m2 0h2m0 0h2m30 0h2m9 0h2m4 0h2m0 0h2m5 0h2m-55 1h2m3 0h2m13 0h2m4 0h2m13 0h2m2 0h2m12 0h2m-111 1h2m66 0h2m-2 0h2m8 0h2m2 0h2m2 0h2m15 0h2m-97 1h2m22 0h2m31 0h2m5 0h2m14 0h2m0 0h2m9 0h2m-2 0h2m0 0h2m-93 1h2m1 0h2m-1 0h2m8 0h2m1 0h2m0 0h2m8 0h2m9 0h2m1 0h2m3 0h2m17 0h2m5 0h2m-2 0h2m-1 0h2m1 0h2m14 0h2m-123 1h2m38 0h2m25 0h2m6 0h2m23 0h2m3 0h2m-93 1h2m31 0h2m1 0h2m43 0h2m-1 0h2m27 0h2m-135 1h2m61 0h2m-2 0h2m1 0h2m5 0h2m13 0h2m34 0h2m2 0h2m-121 1h2m5 0h2m15 0h2m38 0h2m15 0h2m10 0h2m27 0h2m1 0h2m-116 1h2m6 0h2m10 0h2m-2 0h2m4 0h2m2 0h2m8 0h2m5 0h2m1 0h2m31 0h2m21 0h2m-99 1h2m28 0h2m24 0h2m34 0h2m-1 0h2m-85 1h2m-2 0h2m8 0h2m6 0h2m9 0h2m-2 0h2m15 0h2m20 0h2m2 0h2m3 0h2m1 0h2m0 0h2m7 0h2m2 0h2m-103 1h2m-2 0h2m6 0h2m-1 0h2m4 0h2m2 0h2m20 0h2m5 0h2m17 0h2m0 0h2m13 0h2m0 0h2m1 0h2m-79 1h2m14 0h2m6 0h2m4 0h2m19 0h2m7 0h2m-1 0h2m4 0h2m0 0h2m1 0h2m5 0h2m-81 1h2m4 0h2m23 0h2m20 0h2m12 0h2m-2 0h2m-58 1h2m4 0h2m4 0h2m4 0h2m2 0h2m5 0h2m13 0h2m2 0h2m17 0h2m3 0h2m-112 1h2m17 0h2m-1 0h2m1 0h2m3 0h2m48 0h2m22 0h2m3 0h2m1 0h2m0 0h2m-118 1h2m7 0h2m4 0h2m26 0h2m11 0h2m5 0h2m5 0h2m1 0h2m0 0h2m4 0h2m14 0h2m8 0h2m-107 1h2m12 0h2m22 0h2m-1 0h2m1 0h2m7 0h2m5 0h2m43 0h2m6 0h2m-1 0h2m-115 1h2m2 0h2m0 0h2m20 0h2m18 0h2m16 0h2m0 0h2m-1 0h2m2 0h2m1 0h2m0 0h2m0 0h2m14 0h2m0 0h2m-2 0h2m6 0h2m1 0h2m1 0h2m-1 0h2m-72 1h2m-1 0h2m7 0h2m14 0h2m19 0h2m22 0h2m-100 1h2m-2 0h2m14 0h2m6 0h2m4 0h2m8 0h2m2 0h2m7 0h2m44 0h2m-98 1h2m29 0h2m2 0h2m19 0h2m21 0h2m9 0h2m0 0h2m-100 1h2m-1 0h2m33 0h2m6 0h2m5 0h2m2 0h2m16 0h2m23 0h2m-110 1h2m9 0h2m1 0h2m24 0h2m37 0h2m23 0h2m-1 0h2m-132 1h2m5 0h2m4 0h2m3 0h2m1 0h2m23 0h2m5 0h2m3 0h2m-1 0h2m2 0h2m15 0h2m14 0h2m2 0h2m21 0h2m-1 0h2m-108 1h2m26 0h2m38 0h2m4 0h2m1 0h2m13 0h2m3 0h2m-1 0h2m18 0h2m-100 1h2m42 0h2m5 0h2m7 0h2m15 0h2m8 0h2m1 0h2m13 0h2m-107 1h2m7 0h2m4 0h2m2 0h2m0 0h2m1 0h2m11 0h2m2 0h2m-2 0h2m11 0h2m2 0h2m3 0h2m0 0h2m-2 0h2m0 0h2m1 0h2m14 0h2m-1 0h2m-2 0h2m4 0h2m1 0h2m1 0h2m-114 1h2m2 0h2m1 0h2m5 0h2m1 0h2m11 0h2m9 0h2m2 0h2m26 0h2m0 0h2m27 0h2m-111 1h2m11 0h2m-1 0h2m-2 0h2m11 0h2m11 0h2m2 0h2m17 0h2m6 0h2m7 0h2m4 0h2m1 0h2m5 0h2m21 0h2m-135 1h2m18 0h2m8 0h2m12 0h2m15 0h2m1 0h2m2 0h2m-1 0h2m13 0h2m21 0h2m10 0h2m1 0h2m8 0h2m-1 0h2m-91 1h2m5 0h2m1 0h2m4 0h2m8 0h2m0 0h2m10 0h2m11 0h2m-2 0h2m14 0h2m-1 0h2m11 0h2m-127 1h2m12 0h2m46 0h2m3 0h2m5 0h2m0 0h2m-1 0h2m-1 0h2m0 0h2m0 0h2m5 0h2m4 0h2m1 0h2m17 0h2m-89 1h2m10 0h2m8 0h2m2 0h2m14 0h2m11 0h2m15 0h2m1 0h2m0 0h2m-97 1h2m33 0h2m6 0h2m2 0h2m9 0h2m13 0h2m2 0h2m0 0h2m28 0h2m-119 1h2m12 0h2m1 0h2m7 0h2m6 0h2m21 0h2m9 0h2m1 0h2m6 0h2m3 0h2m10 0h2m12 0h2m9 0h2m-100 1h2m12 0h2m26 0h2m12 0h2m4 0h2m2 0h2m3 0h2m10 0h2m-121 1h2m4 0h2m40 0h2m-1 0h2m10 0h2m5 0h2m8 0h2m14 0h2m-1 0h2m-1 0h2m6 0h2m-2 0h2m10 0h2m12 0h2m3 0h2m-97 1h2m2 0h2m3 0h2m24 0h2m3 0h2m2 0h2m3 0h2m42 0h2m-1 0h2m4 0h2m-132 1h2m4 0h2m12 0h2m8 0h2m-1 0h2m0 0h2m2 0h2m9 0h2m8 0h2m0 0h2m-2 0h2m30 0h2m8 0h2m9 0h2m11 0h2m-101 1h2m-1 0h2m11 0h2m6 0h2m3 0h2m17 0h2m0 0h2m5 0h2m-2 0h2m33 0h2m-116 1h2m9 0h2m7 0h2m23 0h2m-2 0h2m14 0h2m11 0h2m8 0h2m1 0h2m-1 0h2m28 0h2m5 0h2m0 0h2m-133 1h2m46 0h2m6 0h2m-2 0h2m13 0h2m21 0h2m-2 0h2m0 0h2m3 0h2m16 0h2m-125 1h2m9 0h2m14 0h2m11 0h2m4 0h2m15 0h2m0 0h2m2 0h2m43 0h2m-139 1h2m89 0h2m29 0h2m1 0h2m6 0h2m-2 0h2m1 0h2m9 0h2m-140 1h2m29 0h2m1 0h2m45 0h2m-2 0h2m1 0h2m-1 0h2m5 0h2m0 0h2m40 0h2m2 0h2m-1 0h2m-1 0h2m-140 1h2m20 0h2m0 0h2m25 0h2m3 0h2m17 0h2m10 0h2m0 0h2m17 0h2m20 0h2m-1 0h2m-128 1h2m18 0h2m23 0h2m23 0h2m25 0h2m11 0h2m5 0h2m0 0h2m1 0h2m0 0h2m0 0h2m8 0h2m-127 1h2m7 0h2m15 0h2m2 0h2m1 0h2m6 0h2m4 0h2m10 0h2m4 0h2m4 0h2m8 0h2m16 0h2m-94 1h2m17 0h2m1 0h2m4 0h2m12 0h2m7 0h2m3 0h2m12 0h2m0 0h2m0 0h2m7 0h2m7 0h2m0 0h2m8 0h2m0 0h2m-133 1h2m29 0h2m10 0h2m2 0h2m7 0h2m15 0h2m2 0h2m22 0h2m5 0h2m18 0h2m5 0h2m5 0h2m-139 1h2m31 0h2m9 0h2m-2 0h2m1 0h2m-2 0h2m-1 0h2m-1 0h2m0 0h2m6 0h2m2 0h2m1 0h2m4 0h2m-2 0h2m0 0h2m3 0h2m-1 0h2m24 0h2m5 0h2m0 0h2m4 0h2m0 0h2m-2 0h2m-138 1h2m23 0h2m15 0h2m26 0h2m16 0h2m14 0h2m-2 0h2m-1 0h2m11 0h2m10 0h2m15 0h2m-106 1h2m5 0h2m18 0h2m12 0h2m23 0h2m10 0h2m2 0h2m5 0h2m11 0h2m-127 1h2m42 0h2m23 0h2m24 0h2m24 0h2m13 0h2m-132 1h2m14 0h2m0 0h2m25 0h2m3 0h2m0 0h2m0 0h2m14 0h2m-1 0h2m5 0h2m7 0h2m13 0h2m8 0h2m-132 1h2m55 0h2m14 0h2m8 0h2m20 0h2m-1 0h2m10 0h2m0 0h2m16 0h2m-140 1h2m16 0h2m7 0h2m1 0h2m0 0h2m39 0h2m0 0h2m16 0h2m9 0h2m13 0h2m2 0h2m0 0h2m4 0h2m9 0h2m-2 0h2m-119 1h2m25 0h2m32 0h2m5 0h2m25 0h2m-1 0h2m24 0h2m1 0h2m-140 1h2m14 0h2m7 0h2m4 0h2m17 0h2m4 0h2m10 0h2m3 0h2m9 0h2m3 0h2m33 0h2m1 0h2m5 0h2m-153 1h2m15 0h2m6 0h2m16 0h2m6 0h2m-1 0h2m24 0h2m43 0h2m6 0h2m-104 1h2m29 0h2m0 0h2m29 0h2m42 0h2m14 0h2m-112 1h2m5 0h2m39 0h2m18 0h2m0 0h2m12 0h2m-1 0h2m2 0h2m6 0h2m-120 1h2m19 0h2m0 0h2m19 0h2m12 0h2m2 0h2m3 0h2m9 0h2m36 0h2m-1 0h2m5 0h2m-109 1h2m0 0h2m-1 0h2m23 0h2m27 0h2m17 0h2m36 0h2m-127 1h2m5 0h2m22 0h2m6 0h2m29 0h2m32 0h2m2 0h2m5 0h2m3 0h2m-1 0h2m-1 0h2m3 0h2m-163 1h2m22 0h2m55 0h2m7 0h2m19 0h2m11 0h2m8 0h2m-2 0h2m2 0h2m18 0h2m-98 1h2m16 0h2m8 0h2m47 0h2m15 0h2m3 0h2m-146 1h2m20 0h2m5 0h2m9 0h2m4 0h2m17 0h2m8 0h2m2 0h2m-1 0h2m5 0h2m-66 1h2m23 0h2m9 0h2m16 0h2m1 0h2m7 0h2m37 0h2m-120 1h2m5 0h2m63 0h2m31 0h2m10 0h2m1 0h2m2 0h2m-102 1h2m3 0h2m13 0h2m14 0h2m5 0h2m1 0h2m-1 0h2m8 0h2m19 0h2m18 0h2m-69 1h2m20 0h2m0 0h2m0 0h2m-1 0h2m-77 1h2m2 0h2m8 0h2m5 0h2m3 0h2m7 0h2m5 0h2m14 0h2m30 0h2m-95 1h2m16 0h2m88 0h2m20 0h2m-120 1h2m88 0h2m15 0h2m-97 1h2m5 0h2m5 0h2m6 0h2m4 0h2m-1 0h2m0 0h2m22 0h2m18 0h2m-116 1h2m7 0h2m16 0h2m28 0h2m12 0h2m22 0h2m11 0h2m-64 1h2m23 0h2m50 0h2m0 0h2m0 0h2m-103 1h2m89 0h2m-72 1h2m3 0h2m10 0h2m60 0h2m-75 1h2m21 0h2m40 0h2m-108 1h2m19 0h2m25 0h2m43 0h2m33 0h2m-116 1h2m10 0h2m19 0h2m15 0h2m0 0h2m4 0h2m22 0h2m26 0h2m-120 1h2m79 0h2m35 0h2m-106 1h2m4 0h2m10 0h2m22 0h2m44 0h2m17 0h2m-67 1h2m1 1h2m0 0h2m37 0h2m14 1h2m-111 1h2m51 0h2m-49 1h2m-1 0h2m103 0h2m-145 1h2m11 1h2m68 1h2m-24 1h2m-40 1h2m56 0h2" stroke="#e0606b" stroke-width="1.60" opacity="1.0" filter="url(#soft)"/>
<path transform="scale(.5)" d="M202 375h2m-16 2h2m6 1h2m26 0h2m28 0h2m-75 1h2m2 0h2m0 0h2m19 0h2m-94 2h2m52 0h2m0 0h2m-17 1h2m20 1h2m19 0h2m33 0h2m-49 1h2m12 1h2m19 1h2m-114 1h2m12 0h2m0 0h2m9 0h2m27 0h2m28 0h2m39 0h2m-98 1h2m1 0h2m3 0h2m38 0h2m27 0h2m40 0h2m-157 1h2m45 0h2m23 0h2m54 0h2m7 0h2m14 0h2m0 0h2m-118 1h2m74 0h2m-80 1h2m30 0h2m4 0h2m27 0h2m10 0h2m2 0h2m37 0h2m-124 1h2m38 0h2m-35 1h2m9 0h2m6 0h2m78 0h2m5 0h2m-150 1h2m1 0h2m-1 0h2m5 0h2m35 0h2m50 0h2m4 0h2m41 0h2m-155 1h2m40 0h2m3 0h2m8 0h2m24 0h2m42 0h2m34 0h2m-173 1h2m15 0h2m3 0h2m9 0h2m25 0h2m12 0h2m8 0h2m57 0h2m-136 1h2m3 0h2m7 0h2m3 0h2m8 0h2m11 0h2m22 0h2m10 0h2m-76 1h2m7 0h2m51 0h2m62 0h2m-131 1h2m27 0h2m37 0h2m10 0h2m57 0h2m1 0h2m22 0h2m-153 1h2m9 0h2m6 0h2m27 0h2m61 0h2m-133 1h2m11 0h2m27 0h2m1 0h2m10 0h2m1 0h2m16 0h2m29 0h2m6 0h2m39 0h2m-160 1h2m26 0h2m-1 0h2m10 0h2m51 0h2m3 0h2m42 0h2m2 0h2m-125 1h2m0 0h2m4 0h2m3 0h2m61 0h2m0 0h2m1 0h2m17 0h2m37 0h2m-163 1h2m11 0h2m6 0h2m2 0h2m7 0h2m35 0h2m7 0h2m16 0h2m14 0h2m17 0h2m-129 1h2m90 0h2m28 0h2m-113 1h2m12 0h2m46 0h2m82 0h2m-123 1h2m0 0h2m16 0h2m7 0h2m11 0h2m-57 1h2m5 0h2m0 0h2m7 0h2m12 0h2m3 0h2m11 0h2m0 0h2m10 0h2m22 0h2m20 0h2m-136 1h2m20 0h2m23 0h2m8 0h2m20 0h2m16 0h2m17 0h2m44 0h2m-132 1h2m28 0h2m52 0h2m10 0h2m1 0h2m27 0h2m5 0h2m-176 1h2m41 0h2m31 0h2m6 0h2m5 0h2m5 0h2m45 0h2m-149 1h2m27 0h2m31 0h2m13 0h2m12 0h2m7 0h2m25 0h2m2 0h2m18 0h2m-150 1h2m34 0h2m3 0h2m8 0h2m24 0h2m22 0h2m-87 1h2m12 0h2m13 0h2m4 0h2m13 0h2m9 0h2m-1 0h2m4 0h2m0 0h2m4 0h2m5 0h2m15 0h2m37 0h2m16 0h2m-181 1h2m2 0h2m2 0h2m6 0h2m2 0h2m34 0h2m7 0h2m20 0h2m4 0h2m64 0h2m4 0h2m5 0h2m-162 1h2m2 0h2m3 0h2m6 0h2m4 0h2m-1 0h2m37 0h2m-2 0h2m19 0h2m11 0h2m6 0h2m3 0h2m50 0h2m5 0h2m-153 1h2m20 0h2m0 0h2m28 0h2m2 0h2m10 0h2m35 0h2m22 0h2m-158 1h2m19 0h2m14 0h2m13 0h2m26 0h2m11 0h2m30 0h2m14 0h2m14 0h2m-1 0h2m-166 1h2m11 0h2m3 0h2m31 0h2m8 0h2m-2 0h2m18 0h2m13 0h2m14 0h2m10 0h2m2 0h2m35 0h2m4 0h2m-173 1h2m17 0h2m9 0h2m17 0h2m12 0h2m4 0h2m24 0h2m68 0h2m-1 0h2m12 0h2m-165 1h2m23 0h2m12 0h2m-1 0h2m2 0h2m13 0h2m27 0h2m3 0h2m7 0h2m26 0h2m0 0h2m-120 1h2m0 0h2m26 0h2m6 0h2m4 0h2m6 0h2m8 0h2m31 0h2m7 0h2m0 0h2m-133 1h2m-2 0h2m2 0h2m10 0h2m-1 0h2m3 0h2m0 0h2m0 0h2m31 0h2m29 0h2m-1 0h2m16 0h2m3 0h2m-101 1h2m3 0h2m17 0h2m13 0h2m23 0h2m0 0h2m4 0h2m5 0h2m66 0h2m4 0h2m-151 1h2m3 0h2m38 0h2m46 0h2m9 0h2m4 0h2m-120 1h2m35 0h2m29 0h2m2 0h2m34 0h2m9 0h2m13 0h2m-1 0h2m3 0h2m-124 1h2m18 0h2m15 0h2m22 0h2m6 0h2m50 0h2m-150 1h2m-1 0h2m18 0h2m17 0h2m2 0h2m16 0h2m18 0h2m2 0h2m-1 0h2m85 0h2m-184 1h2m2 0h2m-1 0h2m0 0h2m33 0h2m0 0h2m-37 1h2m1 0h2m0 0h2m7 0h2m11 0h2m6 0h2m-1 0h2m31 0h2m-1 0h2m-1 0h2m30 0h2m16 0h2m12 0h2m26 0h2m0 0h2m-169 1h2m7 0h2m1 0h2m47 0h2m25 0h2m-1 0h2m7 0h2m74 0h2m-159 1h2m6 0h2m38 0h2m6 0h2m13 0h2m2 0h2m7 0h2m60 0h2m12 0h2m-182 1h2m6 0h2m3 0h2m1 0h2m7 0h2m45 0h2m12 0h2m4 0h2m6 0h2m16 0h2m21 0h2m22 0h2m-167 1h2m27 0h2m15 0h2m39 0h2m-1 0h2m33 0h2m32 0h2m-112 1h2m4 0h2m0 0h2m57 0h2m25 0h2m-139 1h2m3 0h2m19 0h2m30 0h2m5 0h2m48 0h2m26 0h2m7 0h2m-163 1h2m5 0h2m36 0h2m15 0h2m13 0h2m12 0h2m6 0h2m25 0h2m11 0h2m5 0h2m-121 1h2m18 0h2m11 0h2m7 0h2m2 0h2m9 0h2m66 0h2m21 0h2m-156 1h2m13 0h2m9 0h2m-2 0h2m2 0h2m3 0h2m-1 0h2m6 0h2m9 0h2m-2 0h2m10 0h2m7 0h2m4 0h2m28 0h2m35 0h2m9 0h2m-167 1h2m5 0h2m5 0h2m22 0h2m3 0h2m45 0h2m19 0h2m-2 0h2m3 0h2m14 0h2m-154 1h2m2 0h2m0 0h2m32 0h2m8 0h2m0 0h2m12 0h2m40 0h2m5 0h2m63 0h2m-180 1h2m8 0h2m20 0h2m-2 0h2m8 0h2m27 0h2m-1 0h2m0 0h2m13 0h2m42 0h2m10 0h2m11 0h2m5 0h2m-152 1h2m11 0h2m9 0h2m0 0h2m-1 0h2m45 0h2m19 0h2m40 0h2m10 0h2m-166 1h2m12 0h2m21 0h2m13 0h2m3 0h2m17 0h2m5 0h2m23 0h2m19 0h2m-1 0h2m4 0h2m41 0h2m-177 1h2m11 0h2m5 0h2m2 0h2m-2 0h2m1 0h2m16 0h2m42 0h2m10 0h2m1 0h2m-1 0h2m58 0h2m5 0h2m-182 1h2m11 0h2m4 0h2m1 0h2m4 0h2m9 0h2m-1 0h2m-2 0h2m0 0h2m-2 0h2m57 0h2m19 0h2m13 0h2m-1 0h2m1 0h2m-1 0h2m8 0h2m26 0h2m-153 1h2m17 0h2m-2 0h2m5 0h2m0 0h2m14 0h2m0 0h2m2 0h2m1 0h2m9 0h2m1 0h2m66 0h2m4 0h2m-164 1h2m8 0h2m40 0h2m11 0h2m2 0h2m16 0h2m33 0h2m-1 0h2m-98 1h2m5 0h2m5 0h2m11 0h2m2 0h2m13 0h2m9 0h2m0 0h2m3 0h2m50 0h2m3 0h2m23 0h2m-174 1h2m0 0h2m5 0h2m20 0h2m15 0h2m3 0h2m0 0h2m22 0h2m48 0h2m31 0h2m-157 1h2m12 0h2m23 0h2m10 0h2m0 0h2m21 0h2m10 0h2m6 0h2m0 0h2m38 0h2m0 0h2m14 0h2m-171 1h2m2 0h2m9 0h2m25 0h2m40 0h2m15 0h2m2 0h2m2 0h2m-2 0h2m11 0h2m18 0h2m30 0h2m-2 0h2m-165 1h2m16 0h2m3 0h2m27 0h2m18 0h2m1 0h2m4 0h2m1 0h2m21 0h2m14 0h2m40 0h2m-176 1h2m25 0h2m5 0h2m5 0h2m42 0h2m20 0h2m29 0h2m25 0h2m0 0h2m1 0h2m-157 1h2m8 0h2m2 0h2m15 0h2m19 0h2m9 0h2m-76 1h2m5 0h2m34 0h2m22 0h2m0 0h2m7 0h2m-1 0h2m17 0h2m-66 1h2m3 0h2m11 0h2m7 0h2m0 0h2m17 0h2m16 0h2m-78 1h2m2 0h2m58 0h2m32 0h2m6 0h2m21 0h2m3 0h2m6 0h2m-165 1h2m15 0h2m20 0h2m-1 0h2m22 0h2m-1 0h2m-1 0h2m0 0h2m0 0h2m5 0h2m8 0h2m39 0h2m20 0h2m-146 1h2m5 0h2m18 0h2m7 0h2m-2 0h2m-1 0h2m15 0h2m27 0h2m-2 0h2m27 0h2m22 0h2m14 0h2m0 0h2m-160 1h2m2 0h2m1 0h2m42 0h2m-1 0h2m18 0h2m-1 0h2m12 0h2m-1 0h2m26 0h2m4 0h2m8 0h2m-1 0h2m-114 1h2m2 0h2m0 0h2m10 0h2m15 0h2m56 0h2m8 0h2m21 0h2m-160 1h2m24 0h2m40 0h2m2 0h2m-1 0h2m26 0h2m-1 0h2m4 0h2m-1 0h2m15 0h2m23 0h2m7 0h2m16 0h2m-135 1h2m16 0h2m13 0h2m2 0h2m15 0h2m31 0h2m23 0h2m16 0h2m-167 1h2m20 0h2m7 0h2m27 0h2m15 0h2m2 0h2m11 0h2m25 0h2m-133 1h2m4 0h2m1 0h2m6 0h2m0 0h2m1 0h2m9 0h2m3 0h2m8 0h2m18 0h2m13 0h2m7 0h2m12 0h2m10 0h2m17 0h2m-76 1h2m25 0h2m15 0h2m17 0h2m-1 0h2m26 0h2m14 0h2m-160 1h2m15 0h2m32 0h2m51 0h2m7 0h2m39 0h2m7 0h2m-177 1h2m-1 0h2m21 0h2m43 0h2m17 0h2m8 0h2m-1 0h2m1 0h2m41 0h2m1 0h2m-136 1h2m49 0h2m-2 0h2m0 0h2m18 0h2m14 0h2m44 0h2m-121 1h2m-2 0h2m1 0h2m4 0h2m14 0h2m2 0h2m34 0h2m1 0h2m3 0h2m13 0h2m-1 0h2m8 0h2m36 0h2m8 0h2m-174 1h2m19 0h2m3 0h2m-1 0h2m2 0h2m34 0h2m5 0h2m0 0h2m10 0h2m11 0h2m15 0h2m8 0h2m21 0h2m-151 1h2m8 0h2m4 0h2m4 0h2m9 0h2m21 0h2m31 0h2m2 0h2m-101 1h2m7 0h2m-2 0h2m3 0h2m20 0h2m8 0h2m7 0h2m26 0h2m1 0h2m4 0h2m4 0h2m6 0h2m7 0h2m36 0h2m6 0h2m0 0h2m9 0h2m-160 1h2m22 0h2m80 0h2m2 0h2m12 0h2m2 0h2m0 0h2m2 0h2m0 0h2m27 0h2m-156 1h2m21 0h2m2 0h2m-1 0h2m56 0h2m6 0h2m16 0h2m4 0h2m5 0h2m-110 1h2m19 0h2m-1 0h2m7 0h2m7 0h2m12 0h2m2 0h2m1 0h2m7 0h2m22 0h2m12 0h2m-136 1h2m6 0h2m12 0h2m19 0h2m35 0h2m1 0h2m-1 0h2m25 0h2m22 0h2m-142 1h2m88 0h2m8 0h2m18 0h2m32 0h2m-171 1h2m21 0h2m2 0h2m67 0h2m81 0h2m-150 1h2m1 0h2m-1 0h2m0 0h2m13 0h2m11 0h2m6 0h2m34 0h2m-1 0h2m26 0h2m25 0h2m16 0h2m-167 1h2m3 0h2m36 0h2m34 0h2m12 0h2m21 0h2m20 0h2m15 0h2m-126 1h2m14 0h2m14 0h2m-27 1h2m11 0h2m12 0h2m42 0h2m14 0h2m0 0h2m1 0h2m2 0h2m-65 1h2m65 0h2m-110 1h2m21 0h2m1 0h2m4 0h2m35 0h2m-82 1h2m4 0h2m1 0h2m47 0h2m-46 1h2m3 0h2m43 0h2m2 0h2m35 0h2m7 0h2m4 0h2m0 0h2m-109 1h2m43 0h2m52 0h2m10 0h2m-1 0h2m6 0h2m-160 1h2m7 0h2m0 0h2m43 0h2m1 0h2m0 0h2m3 0h2m13 0h2m22 0h2m6 0h2m8 0h2m13 0h2m-2 0h2m0 0h2m-115 1h2m1 0h2m15 0h2m25 0h2m5 0h2m31 0h2m9 0h2m12 0h2m-97 1h2m-1 0h2m15 0h2m2 0h2m0 0h2m12 0h2m11 0h2m17 0h2m2 0h2m19 0h2m-120 1h2m18 0h2m12 0h2m25 0h2m26 0h2m37 0h2m-158 1h2m15 0h2m72 0h2m6 0h2m9 0h2m5 0h2m48 0h2m-145 1h2m-1 0h2m34 0h2m2 0h2m9 0h2m15 0h2m51 0h2m-1 0h2m12 0h2m-146 1h2m3 0h2m23 0h2m14 0h2m3 0h2m32 0h2m-99 1h2m1 0h2m2 0h2m78 0h2m-77 1h2m13 0h2m46 0h2m26 0h2m43 0h2m-110 1h2m17 0h2m8 0h2m50 0h2m-88 1h2m91 0h2m-98 1h2m5 0h2m33 0h2m48 0h2m31 0h2m-146 1h2m71 0h2m-84 1h2m20 0h2m16 0h2m0 0h2m-2 0h2m23 0h2m21 0h2m-82 1h2m38 0h2m2 0h2m82 0h2m-1 0h2m6 0h2m-150 1h2m34 0h2m53 1h2m63 0h2m-128 1h2m-21 1h2m19 0h2m25 0h2m-2 0h2m28 0h2m-40 1h2m48 0h2m-47 1h2m104 0h2m-117 2h2m29 0h2m55 0h2m-91 1h2m7 3h2m17 0h2m57 0h2" stroke="#97c1e8" stroke-width="1.60" opacity="1.0" filter="url(#soft)"/>
<path transform="scale(.5)" d="M235 375h2m-36 2h2m55 1h2m-63 1h2m52 0h2m7 0h2m-2 0h2m-51 1h2m29 0h2m-28 1h2m37 0h2m-62 1h2m15 0h2m-63 1h2m115 0h2m0 0h2m-89 1h2m40 0h2m29 0h2m1 0h2m-74 1h2m43 0h2m13 0h2m21 0h2m-83 1h2m6 0h2m14 0h2m0 0h2m1 0h2m6 0h2m6 0h2m-2 0h2m34 0h2m-88 1h2m31 0h2m27 0h2m14 0h2m2 0h2m-62 1h2m1 0h2m46 0h2m6 0h2m-81 1h2m44 0h2m-56 1h2m16 0h2m11 0h2m2 0h2m5 0h2m19 0h2m4 0h2m7 0h2m9 0h2m9 0h2m-1 0h2m-94 1h2m18 0h2m4 0h2m16 0h2m20 0h2m5 0h2m3 0h2m-79 1h2m13 0h2m-1 0h2m2 0h2m33 0h2m21 0h2m-94 1h2m18 0h2m9 0h2m14 0h2m17 0h2m1 0h2m10 0h2m8 0h2m-1 0h2m-112 1h2m49 0h2m4 0h2m13 0h2m-1 0h2m0 0h2m9 0h2m3 0h2m5 0h2m1 0h2m5 0h2m1 0h2m-88 1h2m12 0h2m2 0h2m4 0h2m19 0h2m6 0h2m-2 0h2m8 0h2m4 0h2m8 0h2m13 0h2m-80 1h2m14 0h2m59 0h2m-2 0h2m-71 1h2m-1 0h2m7 0h2m1 0h2m-1 0h2m23 0h2m4 0h2m19 0h2m-2 0h2m4 0h2m-103 1h2m0 0h2m13 0h2m0 0h2m15 0h2m5 0h2m30 0h2m-56 1h2m-2 0h2m19 0h2m8 0h2m21 0h2m1 0h2m10 0h2m3 0h2m-116 1h2m32 0h2m4 0h2m2 0h2m3 0h2m2 0h2m1 0h2m-2 0h2m5 0h2m23 0h2m0 0h2m22 0h2m0 0h2m2 0h2m-1 0h2m-84 1h2m3 0h2m-2 0h2m6 0h2m24 0h2m2 0h2m22 0h2m8 0h2m-1 0h2m-129 1h2m33 0h2m-1 0h2m4 0h2m-1 0h2m3 0h2m2 0h2m1 0h2m2 0h2m5 0h2m3 0h2m2 0h2m1 0h2m-1 0h2m2 0h2m9 0h2m-85 1h2m25 0h2m1 0h2m12 0h2m47 0h2m-1 0h2m3 0h2m-84 1h2m6 0h2m3 0h2m5 0h2m2 0h2m0 0h2m3 0h2m1 0h2m11 0h2m0 0h2m25 0h2m-1 0h2m24 0h2m-121 1h2m17 0h2m-1 0h2m25 0h2m0 0h2m7 0h2m22 0h2m31 0h2m-99 1h2m37 0h2m4 0h2m4 0h2m-1 0h2m-2 0h2m33 0h2m5 0h2m-1 0h2m-108 1h2m15 0h2m-1 0h2m22 0h2m45 0h2m8 0h2m-112 1h2m22 0h2m25 0h2m-1 0h2m3 0h2m38 0h2m-71 1h2m20 0h2m3 0h2m0 0h2m19 0h2m-2 0h2m7 0h2m16 0h2m0 0h2m-84 1h2m7 0h2m8 0h2m3 0h2m16 0h2m4 0h2m7 0h2m7 0h2m7 0h2m3 0h2m9 0h2m-74 1h2m8 0h2m3 0h2m2 0h2m14 0h2m3 0h2m28 0h2m-97 1h2m11 0h2m30 0h2m15 0h2m18 0h2m1 0h2m-1 0h2m0 0h2m-76 1h2m27 0h2m0 0h2m-1 0h2m2 0h2m4 0h2m12 0h2m7 0h2m3 0h2m-97 1h2m2 0h2m9 0h2m20 0h2m0 0h2m21 0h2m0 0h2m2 0h2m28 0h2m11 0h2m-119 1h2m34 0h2m17 0h2m-1 0h2m6 0h2m8 0h2m15 0h2m0 0h2m1 0h2m-1 0h2m0 0h2m7 0h2m-2 0h2m-97 1h2m-1 0h2m34 0h2m2 0h2m14 0h2m6 0h2m14 0h2m0 0h2m5 0h2m-2 0h2m4 0h2m-103 1h2m15 0h2m20 0h2m13 0h2m5 0h2m23 0h2m10 0h2m-87 1h2m-1 0h2m24 0h2m0 0h2m2 0h2m-1 0h2m6 0h2m0 0h2m2 0h2m19 0h2m12 0h2m-2 0h2m7 0h2m-62 1h2m3 0h2m25 0h2m15 0h2m11 0h2m-77 1h2m2 0h2m3 0h2m7 0h2m6 0h2m2 0h2m33 0h2m-2 0h2m-93 1h2m1 0h2m8 0h2m16 0h2m9 0h2m12 0h2m18 0h2m4 0h2m10 0h2m1 0h2m-99 1h2m31 0h2m1 0h2m7 0h2m3 0h2m13 0h2m16 0h2m-1 0h2m12 0h2m-109 1h2m12 0h2m8 0h2m23 0h2m14 0h2m10 0h2m17 0h2m3 0h2m0 0h2m-1 0h2m-97 1h2m17 0h2m11 0h2m-1 0h2m2 0h2m0 0h2m34 0h2m-65 1h2m7 0h2m30 0h2m12 0h2m13 0h2m5 0h2m9 0h2m-1 0h2m4 0h2m-100 1h2m22 0h2m-2 0h2m0 0h2m10 0h2m-2 0h2m5 0h2m3 0h2m14 0h2m4 0h2m1 0h2m-86 1h2m1 0h2m0 0h2m23 0h2m0 0h2m27 0h2m-2 0h2m7 0h2m0 0h2m17 0h2m8 0h2m0 0h2m-73 1h2m2 0h2m12 0h2m-2 0h2m-1 0h2m8 0h2m32 0h2m1 0h2m5 0h2m-128 1h2m29 0h2m17 0h2m10 0h2m6 0h2m3 0h2m1 0h2m14 0h2m9 0h2m-1 0h2m11 0h2m-106 1h2m33 0h2m14 0h2m9 0h2m10 0h2m15 0h2m1 0h2m6 0h2m0 0h2m2 0h2m-1 0h2m0 0h2m-101 1h2m11 0h2m6 0h2m1 0h2m12 0h2m11 0h2m4 0h2m16 0h2m8 0h2m-2 0h2m1 0h2m6 0h2m-120 1h2m7 0h2m18 0h2m2 0h2m27 0h2m0 0h2m30 0h2m18 0h2m-1 0h2m1 0h2m-87 1h2m18 0h2m1 0h2m-2 0h2m0 0h2m0 0h2m13 0h2m22 0h2m11 0h2m-92 1h2m2 0h2m9 0h2m20 0h2m0 0h2m11 0h2m-1 0h2m-1 0h2m14 0h2m15 0h2m7 0h2m-131 1h2m15 0h2m13 0h2m5 0h2m9 0h2m6 0h2m9 0h2m6 0h2m1 0h2m15 0h2m16 0h2m-1 0h2m-1 0h2m-75 1h2m8 0h2m11 0h2m27 0h2m10 0h2m-83 1h2m13 0h2m10 0h2m6 0h2m21 0h2m-1 0h2m25 0h2m0 0h2m1 0h2m2 0h2m4 0h2m-126 1h2m38 0h2m-2 0h2m21 0h2m2 0h2m-2 0h2m16 0h2m6 0h2m-1 0h2m2 0h2m17 0h2m-98 1h2m-1 0h2m7 0h2m13 0h2m-1 0h2m-1 0h2m27 0h2m4 0h2m7 0h2m1 0h2m2 0h2m14 0h2m3 0h2m-108 1h2m6 0h2m-1 0h2m0 0h2m18 0h2m-1 0h2m18 0h2m22 0h2m20 0h2m6 0h2m-1 0h2m1 0h2m-99 1h2m8 0h2m20 0h2m18 0h2m3 0h2m5 0h2m24 0h2m-105 1h2m12 0h2m12 0h2m4 0h2m9 0h2m12 0h2m6 0h2m1 0h2m4 0h2m0 0h2m0 0h2m10 0h2m1 0h2m-1 0h2m-113 1h2m23 0h2m0 0h2m1 0h2m19 0h2m36 0h2m9 0h2m10 0h2m-122 1h2m10 0h2m16 0h2m18 0h2m0 0h2m0 0h2m24 0h2m13 0h2m8 0h2m0 0h2m17 0h2m7 0h2m-94 1h2m10 0h2m-1 0h2m0 0h2m32 0h2m-1 0h2m-2 0h2m2 0h2m3 0h2m5 0h2m1 0h2m2 0h2m1 0h2m16 0h2m-129 1h2m5 0h2m0 0h2m-2 0h2m34 0h2m49 0h2m2 0h2m8 0h2m12 0h2m0 0h2m-113 1h2m17 0h2m28 0h2m-1 0h2m0 0h2m18 0h2m4 0h2m1 0h2m-83 1h2m3 0h2m2 0h2m2 0h2m2 0h2m7 0h2m12 0h2m30 0h2m4 0h2m-97 1h2m21 0h2m8 0h2m2 0h2m9 0h2m3 0h2m2 0h2m20 0h2m4 0h2m7 0h2m0 0h2m6 0h2m11 0h2m-77 1h2m-2 0h2m2 0h2m2 0h2m1 0h2m-1 0h2m1 0h2m20 0h2m4 0h2m30 0h2m-93 1h2m10 0h2m1 0h2m9 0h2m43 0h2m22 0h2m-115 1h2m8 0h2m6 0h2m-1 0h2m10 0h2m20 0h2m9 0h2m5 0h2m0 0h2m7 0h2m0 0h2m12 0h2m2 0h2m-115 1h2m0 0h2m28 0h2m5 0h2m3 0h2m-1 0h2m17 0h2m20 0h2m8 0h2m5 0h2m15 0h2m-1 0h2m0 0h2m-97 1h2m6 0h2m2 0h2m5 0h2m33 0h2m-1 0h2m4 0h2m15 0h2m5 0h2m0 0h2m4 0h2m-95 1h2m4 0h2m1 0h2m8 0h2m3 0h2m13 0h2m3 0h2m-1 0h2m20 0h2m19 0h2m4 0h2m2 0h2m-90 1h2m22 0h2m12 0h2m1 0h2m1 0h2m-2 0h2m-1 0h2m6 0h2m11 0h2m11 0h2m-74 1h2m13 0h2m19 0h2m3 0h2m23 0h2m10 0h2m-133 1h2m0 0h2m-1 0h2m6 0h2m9 0h2m1 0h2m23 0h2m7 0h2m4 0h2m-1 0h2m20 0h2m-1 0h2m5 0h2m7 0h2m12 0h2m6 0h2m5 0h2m1 0h2m-123 1h2m1 0h2m20 0h2m4 0h2m4 0h2m2 0h2m-2 0h2m9 0h2m6 0h2m1 0h2m-1 0h2m12 0h2m4 0h2m7 0h2m19 0h2m3 0h2m5 0h2m-123 1h2m8 0h2m7 0h2m8 0h2m-1 0h2m3 0h2m4 0h2m-1 0h2m27 0h2m41 0h2m-109 1h2m14 0h2m-1 0h2m7 0h2m-1 0h2m-1 0h2m2 0h2m11 0h2m5 0h2m15 0h2m-1 0h2m0 0h2m0 0h2m4 0h2m12 0h2m0 0h2m9 0h2m-1 0h2m-124 1h2m9 0h2m27 0h2m0 0h2m3 0h2m7 0h2m8 0h2m0 0h2m6 0h2m4 0h2m2 0h2m11 0h2m20 0h2m-132 1h2m26 0h2m39 0h2m2 0h2m0 0h2m1 0h2m12 0h2m5 0h2m14 0h2m-135 1h2m39 0h2m1 0h2m3 0h2m13 0h2m5 0h2m7 0h2m29 0h2m4 0h2m29 0h2m-131 1h2m15 0h2m4 0h2m16 0h2m3 0h2m40 0h2m25 0h2m-1 0h2m0 0h2m-117 1h2m26 0h2m18 0h2m28 0h2m1 0h2m19 0h2m4 0h2m-1 0h2m1 0h2m13 0h2m-146 1h2m38 0h2m9 0h2m-1 0h2m0 0h2m1 0h2m14 0h2m12 0h2m-1 0h2m1 0h2m7 0h2m9 0h2m4 0h2m8 0h2m2 0h2m4 0h2m2 0h2m4 0h2m-144 1h2m0 0h2m13 0h2m13 0h2m0 0h2m-1 0h2m8 0h2m9 0h2m-1 0h2m4 0h2m18 0h2m10 0h2m31 0h2m-108 1h2m9 0h2m0 0h2m7 0h2m40 0h2m1 0h2m6 0h2m3 0h2m11 0h2m3 0h2m-1 0h2m-136 1h2m12 0h2m33 0h2m5 0h2m4 0h2m18 0h2m0 0h2m17 0h2m9 0h2m0 0h2m0 0h2m21 0h2m5 0h2m-136 1h2m47 0h2m16 0h2m16 0h2m3 0h2m12 0h2m11 0h2m-128 1h2m16 0h2m8 0h2m21 0h2m7 0h2m-2 0h2m6 0h2m7 0h2m17 0h2m0 0h2m-1 0h2m4 0h2m15 0h2m1 0h2m23 0h2m-131 1h2m17 0h2m3 0h2m11 0h2m31 0h2m9 0h2m23 0h2m11 0h2m-120 1h2m14 0h2m4 0h2m3 0h2m3 0h2m25 0h2m19 0h2m4 0h2m13 0h2m5 0h2m1 0h2m2 0h2m0 0h2m-110 1h2m22 0h2m1 0h2m3 0h2m3 0h2m5 0h2m1 0h2m1 0h2m2 0h2m16 0h2m3 0h2m8 0h2m4 0h2m2 0h2m-94 1h2m20 0h2m0 0h2m15 0h2m15 0h2m34 0h2m0 0h2m-117 1h2m26 0h2m18 0h2m13 0h2m10 0h2m5 0h2m14 0h2m1 0h2m6 0h2m2 0h2m1 0h2m-126 1h2m28 0h2m13 0h2m13 0h2m10 0h2m-1 0h2m4 0h2m-1 0h2m13 0h2m11 0h2m19 0h2m-83 1h2m-1 0h2m2 0h2m3 0h2m0 0h2m5 0h2m23 0h2m21 0h2m-123 1h2m37 0h2m17 0h2m2 0h2m19 0h2m15 0h2m1 0h2m3 0h2m16 0h2m14 0h2m-122 1h2m6 0h2m7 0h2m18 0h2m4 0h2m30 0h2m-1 0h2m2 0h2m1 0h2m23 0h2m2 0h2m-123 1h2m16 0h2m11 0h2m4 0h2m25 0h2m3 0h2m4 0h2m27 0h2m7 0h2m6 0h2m3 0h2m-142 1h2m34 0h2m9 0h2m10 0h2m0 0h2m1 0h2m12 0h2m4 0h2m28 0h2m-79 1h2m16 0h2m3 0h2m36 0h2m28 0h2m-90 1h2m18 0h2m25 0h2m26 0h2m10 0h2m11 0h2m5 0h2m-109 1h2m0 0h2m29 0h2m64 0h2m0 0h2m-2 0h2m-139 1h2m11 0h2m14 0h2m6 0h2m53 0h2m26 0h2m-133 1h2m12 0h2m10 0h2m24 0h2m17 0h2m7 0h2m2 0h2m15 0h2m3 0h2m-108 1h2m64 0h2m15 0h2m5 0h2m16 0h2m15 0h2m4 0h2m-121 1h2m11 0h2m32 0h2m30 0h2m6 0h2m7 0h2m10 0h2m1 0h2m1 0h2m5 0h2m0 0h2m18 0h2m-135 1h2m20 0h2m20 0h2m0 0h2m14 0h2m14 0h2m-1 0h2m5 0h2m46 0h2m-129 1h2m26 0h2m9 0h2m18 0h2m15 0h2m18 0h2m7 0h2m4 0h2m-117 1h2m19 0h2m2 0h2m7 0h2m11 0h2m4 0h2m5 0h2m5 0h2m-43 1h2m14 0h2m5 0h2m4 0h2m12 0h2m-2 0h2m-2 0h2m4 0h2m14 0h2m28 0h2m-90 1h2m4 0h2m22 0h2m15 0h2m34 0h2m-120 1h2m7 0h2m9 0h2m32 0h2m6 0h2m1 0h2m4 0h2m16 0h2m-90 1h2m8 0h2m76 0h2m3 0h2m19 0h2m11 0h2m-155 1h2m56 0h2m28 0h2m11 0h2m-1 0h2m51 0h2m-60 1h2m16 0h2m36 0h2m-125 1h2m10 0h2m6 0h2m39 0h2m52 0h2m-142 1h2m24 0h2m13 0h2m55 0h2m25 0h2m11 0h2m-127 1h2m41 0h2m81 0h2m-2 0h2m-110 1h2m33 0h2m46 0h2m18 0h2m-47 1h2m1 0h2m-15 1h2m28 0h2m14 0h2m16 0h2m-114 1h2m19 0h2m7 0h2m80 0h2m6 0h2m-83 1h2m0 0h2m1 0h2m6 0h2m54 0h2m-1 0h2m-44 1h2m-11 1h2m1 0h2m7 2h2m-65 1h2m35 0h2m0 1h2m34 0h2m-68 1h2m47 0h2m-41 4h2" stroke="#e0606b" stroke-width="1.60" opacity="1.0" filter="url(#soft)"/>
<path transform="scale(.5)" d="M147 377h2m9 0h2m86 0h2m-124 1h2m37 1h2m-10 1h2m68 0h2m0 0h2m-108 1h2m-1 0h2m95 0h2m-79 1h2m15 1h2m26 0h2m0 0h2m-62 1h2m19 0h2m1 0h2m17 0h2m21 0h2m7 0h2m-91 1h2m33 0h2m13 0h2m33 0h2m11 0h2m-101 1h2m27 0h2m0 0h2m72 0h2m-114 1h2m34 0h2m6 0h2m1 0h2m14 0h2m9 0h2m19 0h2m36 0h2m-105 1h2m115 0h2m-126 1h2m-2 0h2m47 0h2m28 0h2m-60 1h2m16 0h2m4 0h2m39 0h2m-113 1h2m5 0h2m14 0h2m8 0h2m14 0h2m56 0h2m-45 1h2m97 0h2m-160 1h2m43 0h2m18 0h2m69 0h2m-131 1h2m9 0h2m6 0h2m42 0h2m-44 1h2m9 0h2m16 0h2m55 0h2m4 0h2m2 0h2m-116 1h2m-2 0h2m2 0h2m1 0h2m8 0h2m14 0h2m12 0h2m5 0h2m-72 1h2m45 0h2m-1 0h2m57 0h2m-1 0h2m47 0h2m-146 1h2m9 0h2m-1 0h2m23 0h2m1 0h2m13 0h2m19 0h2m5 0h2m25 0h2m1 0h2m18 0h2m-155 1h2m6 0h2m7 0h2m19 0h2m10 0h2m26 0h2m21 0h2m9 0h2m41 0h2m1 0h2m-142 1h2m2 0h2m3 0h2m13 0h2m19 0h2m10 0h2m4 0h2m9 0h2m47 0h2m-136 1h2m5 0h2m16 0h2m13 0h2m40 0h2m10 0h2m34 0h2m9 0h2m8 0h2m1 0h2m5 0h2m-160 1h2m38 0h2m16 0h2m8 0h2m23 0h2m-1 0h2m-1 0h2m0 0h2m11 0h2m19 0h2m-1 0h2m-124 1h2m0 0h2m9 0h2m24 0h2m7 0h2m9 0h2m0 0h2m0 0h2m6 0h2m1 0h2m11 0h2m0 0h2m21 0h2m5 0h2m26 0h2m4 0h2m-170 1h2m3 0h2m7 0h2m16 0h2m20 0h2m28 0h2m23 0h2m5 0h2m34 0h2m-139 1h2m17 0h2m11 0h2m44 0h2m3 0h2m1 0h2m1 0h2m0 0h2m4 0h2m-120 1h2m42 0h2m0 0h2m17 0h2m4 0h2m13 0h2m18 0h2m-101 1h2m0 0h2m0 0h2m7 0h2m1 0h2m15 0h2m3 0h2m8 0h2m2 0h2m20 0h2m33 0h2m-88 1h2m-1 0h2m18 0h2m23 0h2m-1 0h2m1 0h2m4 0h2m-1 0h2m14 0h2m1 0h2m35 0h2m9 0h2m6 0h2m7 0h2m-164 1h2m4 0h2m64 0h2m4 0h2m12 0h2m-78 1h2m14 0h2m16 0h2m5 0h2m4 0h2m31 0h2m16 0h2m28 0h2m-152 1h2m0 0h2m11 0h2m-1 0h2m1 0h2m-1 0h2m33 0h2m9 0h2m21 0h2m25 0h2m32 0h2m29 0h2m-181 1h2m27 0h2m63 0h2m10 0h2m9 0h2m39 0h2m-168 1h2m41 0h2m15 0h2m3 0h2m16 0h2m13 0h2m9 0h2m51 0h2m-155 1h2m0 0h2m26 0h2m6 0h2m21 0h2m0 0h2m-1 0h2m14 0h2m5 0h2m5 0h2m18 0h2m2 0h2m36 0h2m-121 1h2m38 0h2m26 0h2m30 0h2m21 0h2m5 0h2m-161 1h2m18 0h2m30 0h2m10 0h2m4 0h2m36 0h2m45 0h2m-169 1h2m23 0h2m34 0h2m26 0h2m-1 0h2m-2 0h2m3 0h2m51 0h2m-102 1h2m12 0h2m6 0h2m15 0h2m51 0h2m16 0h2m-144 1h2m4 0h2m5 0h2m22 0h2m43 0h2m2 0h2m3 0h2m18 0h2m-2 0h2m12 0h2m13 0h2m-149 1h2m3 0h2m0 0h2m27 0h2m9 0h2m18 0h2m9 0h2m14 0h2m28 0h2m3 0h2m-114 1h2m7 0h2m19 0h2m15 0h2m96 0h2m-142 1h2m32 0h2m96 0h2m4 0h2m-154 1h2m34 0h2m1 0h2m33 0h2m59 0h2m-131 1h2m42 0h2m24 0h2m1 0h2m9 0h2m30 0h2m36 0h2m-143 1h2m3 0h2m3 0h2m4 0h2m7 0h2m-1 0h2m-1 0h2m13 0h2m56 0h2m17 0h2m-2 0h2m-157 1h2m1 0h2m7 0h2m28 0h2m17 0h2m4 0h2m1 0h2m-1 0h2m11 0h2m19 0h2m11 0h2m5 0h2m32 0h2m17 0h2m-140 1h2m8 0h2m23 0h2m0 0h2m22 0h2m44 0h2m6 0h2m-120 1h2m19 0h2m25 0h2m35 0h2m9 0h2m-127 1h2m49 0h2m23 0h2m36 0h2m10 0h2m12 0h2m7 0h2m-1 0h2m-151 1h2m36 0h2m6 0h2m8 0h2m21 0h2m28 0h2m4 0h2m39 0h2m-149 1h2m16 0h2m-1 0h2m47 0h2m46 0h2m11 0h2m16 0h2m-139 1h2m9 0h2m-1 0h2m14 0h2m3 0h2m23 0h2m11 0h2m-1 0h2m58 0h2m-164 1h2m23 0h2m19 0h2m10 0h2m12 0h2m0 0h2m6 0h2m15 0h2m22 0h2m22 0h2m20 0h2m-176 1h2m24 0h2m1 0h2m7 0h2m21 0h2m9 0h2m5 0h2m13 0h2m25 0h2m3 0h2m-130 1h2m16 0h2m18 0h2m58 0h2m51 0h2m-80 1h2m2 0h2m31 0h2m-1 0h2m20 0h2m7 0h2m3 0h2m-109 1h2m10 0h2m9 0h2m0 0h2m1 0h2m-2 0h2m11 0h2m-2 0h2m0 0h2m22 0h2m2 0h2m16 0h2m54 0h2m-158 1h2m2 0h2m26 0h2m20 0h2m6 0h2m9 0h2m5 0h2m15 0h2m14 0h2m-140 1h2m31 0h2m48 0h2m18 0h2m9 0h2m8 0h2m-122 1h2m10 0h2m3 0h2m2 0h2m9 0h2m21 0h2m-2 0h2m8 0h2m10 0h2m25 0h2m4 0h2m41 0h2m5 0h2m9 0h2m-169 1h2m40 0h2m14 0h2m-1 0h2m58 0h2m-1 0h2m19 0h2m-143 1h2m41 0h2m8 0h2m9 0h2m12 0h2m18 0h2m30 0h2m36 0h2m-161 1h2m9 0h2m28 0h2m1 0h2m32 0h2m3 0h2m13 0h2m-90 1h2m16 0h2m8 0h2m7 0h2m20 0h2m5 0h2m0 0h2m14 0h2m19 0h2m-2 0h2m10 0h2m30 0h2m-179 1h2m44 0h2m42 0h2m6 0h2m67 0h2m-155 1h2m16 0h2m27 0h2m-1 0h2m4 0h2m1 0h2m15 0h2m3 0h2m21 0h2m49 0h2m-166 1h2m1 0h2m8 0h2m9 0h2m25 0h2m5 0h2m4 0h2m16 0h2m16 0h2m7 0h2m13 0h2m8 0h2m4 0h2m3 0h2m-108 1h2m-1 0h2m3 0h2m9 0h2m-1 0h2m10 0h2m4 0h2m32 0h2m25 0h2m11 0h2m-149 1h2m12 0h2m5 0h2m15 0h2m2 0h2m0 0h2m6 0h2m6 0h2m6 0h2m14 0h2m8 0h2m26 0h2m8 0h2m-1 0h2m7 0h2m-147 1h2m2 0h2m3 0h2m14 0h2m16 0h2m18 0h2m4 0h2m28 0h2m54 0h2m19 0h2m-168 1h2m-1 0h2m7 0h2m15 0h2m4 0h2m1 0h2m1 0h2m25 0h2m62 0h2m-1 0h2m3 0h2m-1 0h2m2 0h2m-152 1h2m30 0h2m2 0h2m3 0h2m8 0h2m29 0h2m7 0h2m6 0h2m38 0h2m-1 0h2m29 0h2m-2 0h2m-178 1h2m3 0h2m4 0h2m-1 0h2m23 0h2m3 0h2m9 0h2m29 0h2m2 0h2m4 0h2m4 0h2m19 0h2m-120 1h2m23 0h2m5 0h2m13 0h2m6 0h2m20 0h2m19 0h2m2 0h2m15 0h2m42 0h2m7 0h2m-175 1h2m2 0h2m13 0h2m17 0h2m69 0h2m4 0h2m3 0h2m-1 0h2m9 0h2m9 0h2m2 0h2m4 0h2m19 0h2m-169 1h2m6 0h2m4 0h2m10 0h2m-1 0h2m13 0h2m6 0h2m15 0h2m28 0h2m34 0h2m21 0h2m15 0h2m-180 1h2m21 0h2m25 0h2m24 0h2m1 0h2m20 0h2m3 0h2m15 0h2m18 0h2m17 0h2m-156 1h2m26 0h2m0 0h2m56 0h2m1 0h2m-53 1h2m2 0h2m31 0h2m33 0h2m20 0h2m26 0h2m-165 1h2m6 0h2m8 0h2m-1 0h2m22 0h2m-1 0h2m18 0h2m9 0h2m16 0h2m43 0h2m-141 1h2m3 0h2m3 0h2m30 0h2m32 0h2m14 0h2m-1 0h2m15 0h2m1 0h2m4 0h2m19 0h2m11 0h2m-162 1h2m4 0h2m1 0h2m3 0h2m29 0h2m14 0h2m8 0h2m0 0h2m24 0h2m81 0h2m-174 1h2m-1 0h2m23 0h2m-1 0h2m3 0h2m16 0h2m77 0h2m10 0h2m14 0h2m-163 1h2m6 0h2m40 0h2m6 0h2m19 0h2m18 0h2m-1 0h2m-1 0h2m29 0h2m-128 1h2m3 0h2m-2 0h2m15 0h2m5 0h2m7 0h2m1 0h2m29 0h2m82 0h2m-126 1h2m19 0h2m23 0h2m-94 1h2m32 0h2m31 0h2m9 0h2m24 0h2m0 0h2m11 0h2m20 0h2m2 0h2m-133 1h2m30 0h2m10 0h2m64 0h2m-95 1h2m2 0h2m42 0h2m11 0h2m-2 0h2m23 0h2m21 0h2m2 0h2m14 0h2m0 0h2m16 0h2m-153 1h2m14 0h2m11 0h2m11 0h2m41 0h2m1 0h2m20 0h2m2 0h2m36 0h2m-168 1h2m5 0h2m12 0h2m44 0h2m11 0h2m20 0h2m5 0h2m5 0h2m-122 1h2m2 0h2m2 0h2m10 0h2m11 0h2m5 0h2m3 0h2m55 0h2m3 0h2m46 0h2m4 0h2m-171 1h2m47 0h2m3 0h2m4 0h2m3 0h2m5 0h2m11 0h2m24 0h2m2 0h2m-113 1h2m7 0h2m17 0h2m-1 0h2m2 0h2m37 0h2m9 0h2m3 0h2m1 0h2m-1 0h2m2 0h2m31 0h2m-125 1h2m5 0h2m0 0h2m-1 0h2m11 0h2m11 0h2m16 0h2m22 0h2m32 0h2m0 0h2m23 0h2m4 0h2m-125 1h2m28 0h2m2 0h2m19 0h2m-2 0h2m4 0h2m11 0h2m34 0h2m0 0h2m-106 1h2m10 0h2m18 0h2m19 0h2m8 0h2m0 0h2m8 0h2m0 0h2m-1 0h2m27 0h2m0 0h2m-113 1h2m40 0h2m15 0h2m15 0h2m11 0h2m2 0h2m24 0h2m13 0h2m-157 1h2m6 0h2m-1 0h2m-1 0h2m2 0h2m0 0h2m13 0h2m3 0h2m11 0h2m1 0h2m13 0h2m0 0h2m30 0h2m15 0h2m38 0h2m-169 1h2m25 0h2m9 0h2m6 0h2m18 0h2m24 0h2m-1 0h2m62 0h2m0 0h2m-141 1h2m19 0h2m3 0h2m23 0h2m22 0h2m2 0h2m18 0h2m-87 1h2m5 0h2m32 0h2m1 0h2m-1 0h2m15 0h2m-2 0h2m13 0h2m-110 1h2m11 0h2m62 0h2m28 0h2m8 0h2m11 0h2m-127 1h2m6 0h2m-1 0h2m14 0h2m0 0h2m7 0h2m3 0h2m18 0h2m21 0h2m59 0h2m-155 1h2m28 0h2m19 0h2m38 0h2m11 0h2m21 0h2m0 0h2m10 0h2m-133 1h2m22 0h2m13 0h2m12 0h2m75 0h2m-146 1h2m41 0h2m8 0h2m12 0h2m9 0h2m7 0h2m15 0h2m0 0h2m14 0h2m4 0h2m27 0h2m1 0h2m7 0h2m-171 1h2m0 0h2m1 0h2m16 0h2m15 0h2m54 0h2m29 0h2m-1 0h2m16 0h2m0 0h2m16 0h2m-163 1h2m5 0h2m56 0h2m24 0h2m15 0h2m1 0h2m51 0h2m-146 1h2m14 0h2m19 0h2m2 0h2m18 0h2m5 0h2m2 0h2m30 0h2m-111 1h2m-1 0h2m1 0h2m7 0h2m3 0h2m25 0h2m20 0h2m6 0h2m27 0h2m5 0h2m-97 1h2m71 0h2m3 0h2m42 0h2m6 0h2m-143 2h2m40 0h2m56 0h2m-1 0h2m30 0h2m-154 1h2m10 0h2m-1 0h2m45 0h2m3 0h2m8 0h2m0 0h2m1 0h2m29 0h2m12 0h2m-110 1h2m53 0h2m12 0h2m-83 1h2m1 0h2m16 0h2m26 0h2m46 0h2m10 0h2m-98 1h2m5 0h2m26 0h2m16 0h2m-53 1h2m13 0h2m10 0h2m53 0h2m48 0h2m-144 1h2m18 0h2m6 0h2m23 0h2m28 0h2m27 0h2m3 0h2m-119 1h2m31 0h2m18 0h2m2 0h2m-70 1h2m57 0h2m40 0h2m23 0h2m5 0h2m-116 1h2m10 0h2m21 0h2m12 0h2m10 0h2m2 0h2m2 0h2m56 0h2m15 0h2m-137 1h2m0 0h2m9 0h2m12 0h2m18 0h2m4 0h2m-2 0h2m74 0h2m-138 1h2m36 0h2m78 0h2m-139 1h2m34 0h2m2 0h2m4 0h2m21 0h2m55 0h2m-125 1h2m4 0h2m71 0h2m18 0h2m22 0h2m39 0h2m-154 1h2m9 1h2m9 0h2m47 0h2m60 0h2m18 1h2m-137 1h2m87 0h2m-63 1h2m6 0h2m4 0h2m-36 1h2m30 0h2m-42 1h2m1 0h2m13 1h2m33 1h2m-60 1h2m115 2h2" stroke="#97c1e8" stroke-width="1.60" opacity="1.0" filter="url(#soft)"/>
<path transform="scale(.5)" d="M269 377h2m-77 1h2m34 1h2m25 0h2m-33 1h2m20 0h2m-22 1h2m26 0h2m7 0h2m-95 1h2m0 0h2m29 0h2m3 0h2m54 0h2m-48 1h2m1 0h2m29 0h2m22 0h2m-95 1h2m8 0h2m-2 0h2m20 0h2m13 0h2m9 0h2m12 0h2m9 0h2m-65 1h2m3 0h2m4 0h2m15 0h2m9 0h2m16 0h2m11 0h2m-130 1h2m35 0h2m30 0h2m13 0h2m8 0h2m25 0h2m-70 1h2m2 0h2m60 0h2m-87 1h2m95 0h2m-73 1h2m17 0h2m3 0h2m12 0h2m1 0h2m16 0h2m-91 1h2m2 0h2m22 0h2m2 0h2m5 0h2m9 0h2m0 0h2m13 0h2m3 0h2m10 0h2m-90 1h2m35 0h2m5 0h2m18 0h2m1 0h2m-1 0h2m0 0h2m1 0h2m5 0h2m7 0h2m10 0h2m-50 1h2m2 0h2m1 0h2m18 0h2m-2 0h2m6 0h2m11 0h2m-128 1h2m30 0h2m67 0h2m10 0h2m-101 1h2m31 0h2m4 0h2m0 0h2m33 0h2m0 0h2m7 0h2m19 0h2m0 0h2m-87 1h2m5 0h2m5 0h2m46 0h2m1 0h2m13 0h2m0 0h2m-108 1h2m41 0h2m31 0h2m0 0h2m-77 1h2m52 0h2m3 0h2m-2 0h2m5 0h2m28 0h2m1 0h2m-61 1h2m1 0h2m28 0h2m11 0h2m8 0h2m8 0h2m-110 1h2m40 0h2m-1 0h2m9 0h2m3 0h2m9 0h2m11 0h2m-2 0h2m-78 1h2m-2 0h2m2 0h2m29 0h2m-1 0h2m16 0h2m3 0h2m0 0h2m0 0h2m8 0h2m5 0h2m8 0h2m2 0h2m-111 1h2m1 0h2m28 0h2m14 0h2m31 0h2m16 0h2m5 0h2m1 0h2m9 0h2m-88 1h2m5 0h2m-1 0h2m7 0h2m1 0h2m12 0h2m9 0h2m1 0h2m12 0h2m7 0h2m8 0h2m-103 1h2m41 0h2m10 0h2m-2 0h2m20 0h2m7 0h2m0 0h2m-84 1h2m5 0h2m0 0h2m2 0h2m4 0h2m-1 0h2m25 0h2m-1 0h2m30 0h2m8 0h2m0 0h2m6 0h2m-105 1h2m17 0h2m1 0h2m11 0h2m25 0h2m17 0h2m2 0h2m-75 1h2m-1 0h2m1 0h2m-2 0h2m25 0h2m0 0h2m6 0h2m11 0h2m-55 1h2m23 0h2m17 0h2m21 0h2m5 0h2m-106 1h2m10 0h2m7 0h2m49 0h2m12 0h2m8 0h2m18 0h2m-100 1h2m4 0h2m12 0h2m2 0h2m1 0h2m16 0h2m4 0h2m2 0h2m30 0h2m-90 1h2m3 0h2m1 0h2m14 0h2m17 0h2m4 0h2m8 0h2m0 0h2m5 0h2m1 0h2m3 0h2m8 0h2m3 0h2m10 0h2m-126 1h2m8 0h2m26 0h2m26 0h2m9 0h2m14 0h2m6 0h2m2 0h2m7 0h2m-2 0h2m-82 1h2m13 0h2m5 0h2m19 0h2m16 0h2m-2 0h2m-2 0h2m0 0h2m1 0h2m8 0h2m-65 1h2m16 0h2m-1 0h2m5 0h2m2 0h2m8 0h2m1 0h2m10 0h2m10 0h2m-113 1h2m52 0h2m0 0h2m18 0h2m12 0h2m5 0h2m4 0h2m3 0h2m-1 0h2m2 0h2m0 0h2m-121 1h2m1 0h2m14 0h2m10 0h2m13 0h2m18 0h2m5 0h2m0 0h2m4 0h2m6 0h2m25 0h2m-89 1h2m0 0h2m2 0h2m8 0h2m0 0h2m1 0h2m36 0h2m2 0h2m3 0h2m6 0h2m3 0h2m-98 1h2m46 0h2m0 0h2m4 0h2m16 0h2m4 0h2m7 0h2m-94 1h2m25 0h2m24 0h2m12 0h2m11 0h2m8 0h2m8 0h2m11 0h2m-84 1h2m13 0h2m22 0h2m38 0h2m-122 1h2m9 0h2m4 0h2m2 0h2m17 0h2m11 0h2m26 0h2m21 0h2m12 0h2m-78 1h2m-2 0h2m27 0h2m21 0h2m3 0h2m6 0h2m-1 0h2m6 0h2m-2 0h2m-61 1h2m-1 0h2m13 0h2m19 0h2m4 0h2m7 0h2m-76 1h2m4 0h2m6 0h2m14 0h2m0 0h2m4 0h2m-1 0h2m-1 0h2m5 0h2m-2 0h2m4 0h2m20 0h2m-98 1h2m56 0h2m11 0h2m13 0h2m0 0h2m-104 1h2m16 0h2m18 0h2m2 0h2m30 0h2m2 0h2m5 0h2m-78 1h2m16 0h2m0 0h2m-2 0h2m27 0h2m4 0h2m2 0h2m2 0h2m5 0h2m20 0h2m-81 1h2m29 0h2m42 0h2m1 0h2m-1 0h2m3 0h2m4 0h2m-1 0h2m-83 1h2m11 0h2m14 0h2m2 0h2m-43 1h2m9 0h2m3 0h2m6 0h2m-1 0h2m7 0h2m6 0h2m0 0h2m-1 0h2m7 0h2m12 0h2m19 0h2m1 0h2m-108 1h2m29 0h2m0 0h2m2 0h2m-1 0h2m3 0h2m10 0h2m4 0h2m3 0h2m11 0h2m16 0h2m3 0h2m-91 1h2m22 0h2m7 0h2m34 0h2m13 0h2m-100 1h2m64 0h2m3 0h2m36 0h2m-97 1h2m3 0h2m5 0h2m1 0h2m5 0h2m7 0h2m1 0h2m2 0h2m12 0h2m7 0h2m9 0h2m25 0h2m-87 1h2m2 0h2m8 0h2m4 0h2m-1 0h2m9 0h2m1 0h2m1 0h2m22 0h2m2 0h2m-99 1h2m10 0h2m-27 1h2m32 0h2m8 0h2m13 0h2m27 0h2m0 0h2m-1 0h2m-1 0h2m-1 0h2m0 0h2m10 0h2m8 0h2m0 0h2m-81 1h2m26 0h2m-1 0h2m24 0h2m19 0h2m1 0h2m2 0h2m-114 1h2m41 0h2m-1 0h2m16 0h2m4 0h2m4 0h2m2 0h2m0 0h2m3 0h2m12 0h2m16 0h2m-110 1h2m15 0h2m-1 0h2m9 0h2m7 0h2m11 0h2m5 0h2m3 0h2m9 0h2m8 0h2m3 0h2m-2 0h2m2 0h2m9 0h2m2 0h2m-107 1h2m3 0h2m37 0h2m25 0h2m5 0h2m11 0h2m9 0h2m-121 1h2m12 0h2m14 0h2m38 0h2m2 0h2m4 0h2m16 0h2m2 0h2m7 0h2m4 0h2m0 0h2m-1 0h2m-2 0h2m-121 1h2m7 0h2m33 0h2m4 0h2m9 0h2m0 0h2m6 0h2m0 0h2m-1 0h2m5 0h2m3 0h2m21 0h2m-113 1h2m7 0h2m7 0h2m13 0h2m12 0h2m8 0h2m3 0h2m0 0h2m2 0h2m14 0h2m0 0h2m9 0h2m6 0h2m-96 1h2m1 0h2m11 0h2m0 0h2m13 0h2m1 0h2m1 0h2m20 0h2m2 0h2m19 0h2m13 0h2m-108 1h2m58 0h2m5 0h2m12 0h2m3 0h2m1 0h2m-2 0h2m2 0h2m9 0h2m2 0h2m9 0h2m-106 1h2m15 0h2m11 0h2m7 0h2m6 0h2m0 0h2m4 0h2m14 0h2m0 0h2m13 0h2m3 0h2m0 0h2m-109 1h2m27 0h2m-1 0h2m16 0h2m2 0h2m4 0h2m5 0h2m4 0h2m11 0h2m6 0h2m7 0h2m5 0h2m-117 1h2m27 0h2m7 0h2m0 0h2m2 0h2m9 0h2m22 0h2m7 0h2m0 0h2m23 0h2m-2 0h2m-126 1h2m31 0h2m0 0h2m2 0h2m14 0h2m17 0h2m17 0h2m13 0h2m0 0h2m-105 1h2m10 0h2m18 0h2m9 0h2m3 0h2m-1 0h2m4 0h2m2 0h2m24 0h2m3 0h2m13 0h2m1 0h2m-77 1h2m1 0h2m5 0h2m39 0h2m1 0h2m1 0h2m-2 0h2m16 0h2m-2 0h2m11 0h2m-122 1h2m23 0h2m1 0h2m-1 0h2m3 0h2m1 0h2m-1 0h2m11 0h2m6 0h2m25 0h2m11 0h2m-48 1h2m1 0h2m10 0h2m-1 0h2m10 0h2m4 0h2m9 0h2m0 0h2m11 0h2m-1 0h2m5 0h2m-128 1h2m4 0h2m25 0h2m13 0h2m11 0h2m1 0h2m17 0h2m5 0h2m0 0h2m8 0h2m13 0h2m-121 1h2m12 0h2m5 0h2m4 0h2m4 0h2m15 0h2m1 0h2m0 0h2m2 0h2m12 0h2m15 0h2m1 0h2m13 0h2m-2 0h2m8 0h2m6 0h2m-125 1h2m15 0h2m-2 0h2m6 0h2m13 0h2m6 0h2m0 0h2m10 0h2m8 0h2m1 0h2m-103 1h2m49 0h2m13 0h2m4 0h2m2 0h2m23 0h2m9 0h2m18 0h2m15 0h2m-2 0h2m5 0h2m-130 1h2m3 0h2m18 0h2m0 0h2m8 0h2m19 0h2m2 0h2m1 0h2m4 0h2m14 0h2m22 0h2m6 0h2m1 0h2m-98 1h2m11 0h2m30 0h2m4 0h2m8 0h2m9 0h2m4 0h2m-113 1h2m2 0h2m36 0h2m3 0h2m-1 0h2m12 0h2m0 0h2m8 0h2m6 0h2m24 0h2m6 0h2m-81 1h2m4 0h2m6 0h2m2 0h2m-2 0h2m0 0h2m41 0h2m4 0h2m1 0h2m3 0h2m4 0h2m2 0h2m-106 1h2m35 0h2m5 0h2m2 0h2m1 0h2m8 0h2m0 0h2m7 0h2m22 0h2m0 0h2m-1 0h2m5 0h2m0 0h2m-100 1h2m13 0h2m2 0h2m3 0h2m10 0h2m11 0h2m3 0h2m1 0h2m3 0h2m13 0h2m0 0h2m4 0h2m2 0h2m10 0h2m-2 0h2m-112 1h2m4 0h2m2 0h2m-2 0h2m-1 0h2m1 0h2m4 0h2m2 0h2m5 0h2m-1 0h2m14 0h2m3 0h2m13 0h2m3 0h2m4 0h2m-1 0h2m17 0h2m4 0h2m-133 1h2m1 0h2m26 0h2m13 0h2m21 0h2m12 0h2m3 0h2m4 0h2m11 0h2m-74 1h2m4 0h2m14 0h2m1 0h2m4 0h2m1 0h2m8 0h2m30 0h2m-1 0h2m3 0h2m7 0h2m7 0h2m-138 1h2m4 0h2m8 0h2m9 0h2m26 0h2m8 0h2m10 0h2m6 0h2m21 0h2m9 0h2m-2 0h2m5 0h2m7 0h2m-2 0h2m-109 1h2m2 0h2m-1 0h2m0 0h2m5 0h2m2 0h2m12 0h2m22 0h2m19 0h2m0 0h2m-1 0h2m5 0h2m6 0h2m6 0h2m0 0h2m-2 0h2m-148 1h2m43 0h2m6 0h2m35 0h2m19 0h2m21 0h2m2 0h2m4 0h2m3 0h2m-148 1h2m7 0h2m21 0h2m5 0h2m18 0h2m-2 0h2m5 0h2m17 0h2m9 0h2m-1 0h2m29 0h2m-1 0h2m12 0h2m-137 1h2m15 0h2m6 0h2m-2 0h2m2 0h2m-1 0h2m-1 0h2m3 0h2m23 0h2m17 0h2m1 0h2m0 0h2m6 0h2m20 0h2m8 0h2m9 0h2m-123 1h2m-1 0h2m8 0h2m2 0h2m-1 0h2m3 0h2m1 0h2m15 0h2m22 0h2m1 0h2m-2 0h2m-2 0h2m-1 0h2m8 0h2m15 0h2m7 0h2m0 0h2m4 0h2m-136 1h2m21 0h2m15 0h2m2 0h2m18 0h2m5 0h2m0 0h2m21 0h2m2 0h2m3 0h2m3 0h2m4 0h2m0 0h2m16 0h2m5 0h2m-115 1h2m-2 0h2m8 0h2m-2 0h2m1 0h2m1 0h2m28 0h2m13 0h2m32 0h2m-104 1h2m11 0h2m4 0h2m4 0h2m4 0h2m8 0h2m4 0h2m21 0h2m8 0h2m24 0h2m3 0h2m4 0h2m-1 0h2m-135 1h2m9 0h2m3 0h2m17 0h2m17 0h2m-1 0h2m37 0h2m31 0h2m4 0h2m7 0h2m-144 1h2m19 0h2m8 0h2m6 0h2m17 0h2m27 0h2m10 0h2m-1 0h2m-1 0h2m12 0h2m4 0h2m9 0h2m3 0h2m-139 1h2m9 0h2m-1 0h2m4 0h2m18 0h2m13 0h2m0 0h2m27 0h2m14 0h2m17 0h2m6 0h2m-107 1h2m-1 0h2m0 0h2m24 0h2m9 0h2m13 0h2m-1 0h2m4 0h2m9 0h2m17 0h2m-1 0h2m24 0h2m-144 1h2m0 0h2m10 0h2m22 0h2m16 0h2m6 0h2m0 0h2m3 0h2m6 0h2m1 0h2m8 0h2m27 0h2m-1 0h2m-92 1h2m0 0h2m4 0h2m9 0h2m3 0h2m12 0h2m-1 0h2m13 0h2m43 0h2m-108 1h2m2 0h2m2 0h2m34 0h2m28 0h2m31 0h2m-124 1h2m1 0h2m29 0h2m3 0h2m3 0h2m12 0h2m4 0h2m-2 0h2m0 0h2m17 0h2m0 0h2m7 0h2m8 0h2m-2 0h2m2 0h2m-120 1h2m12 0h2m16 0h2m48 0h2m0 0h2m8 0h2m8 0h2m9 0h2m0 0h2m14 0h2m0 0h2m-161 1h2m29 0h2m1 0h2m8 0h2m20 0h2m-1 0h2m0 0h2m10 0h2m7 0h2m14 0h2m-1 0h2m13 0h2m19 0h2m5 0h2m5 0h2m-116 1h2m36 0h2m19 0h2m16 0h2m-2 0h2m-1 0h2m16 0h2m11 0h2m-134 1h2m51 0h2m11 0h2m6 0h2m5 0h2m20 0h2m11 0h2m15 0h2m-127 1h2m6 0h2m8 0h2m21 0h2m-1 0h2m6 0h2m6 0h2m23 0h2m6 0h2m10 0h2m30 0h2m-135 1h2m54 0h2m0 0h2m16 0h2m2 0h2m2 0h2m9 0h2m35 0h2m-149 1h2m29 0h2m1 0h2m6 0h2m6 0h2m9 0h2m26 0h2m2 0h2m12 0h2m33 0h2m-103 1h2m23 0h2m4 0h2m44 0h2m-1 0h2m9 0h2m-122 1h2m-1 0h2m1 0h2m66 0h2m59 0h2m0 0h2m-95 1h2m5 0h2m53 0h2m25 0h2m3 0h2m-144 1h2m27 0h2m22 0h2m3 0h2m-52 1h2m32 0h2m-2 0h2m20 0h2m58 0h2m13 0h2m-1 0h2m-107 1h2m22 0h2m13 0h2m15 0h2m19 0h2m8 0h2m2 0h2m-109 1h2m12 0h2m16 0h2m1 0h2m24 0h2m4 0h2m38 0h2m-83 1h2m8 0h2m14 0h2m-1 0h2m31 0h2m11 0h2m-102 1h2m28 0h2m32 0h2m39 0h2m4 0h2m-107 1h2m27 0h2m2 0h2m26 0h2m30 0h2m7 0h2m-130 1h2m14 0h2m32 0h2m5 0h2m52 0h2m-72 1h2m19 0h2m36 0h2m4 0h2m3 0h2m-2 0h2m-101 1h2m49 0h2m35 0h2m9 0h2m-2 0h2m2 0h2m-1 0h2m-122 1h2m42 0h2m10 0h2m10 0h2m7 0h2m34 0h2m-7 1h2m29 0h2m-84 1h2m-35 1h2m6 0h2m16 0h2m-44 1h2m131 0h2m-69 1h2m51 0h2m-23 1h2m-34 1h2m22 0h2m-48 1h2m-4 1h2m46 0h2m-51 1h2m28 0h2m46 2h2" stroke="#e0606b" stroke-width="1.60" opacity="1.0" filter="url(#soft)"/>
<path d="M131.1 212.5h1.9M107.5 201.9h1.9M99.4 223.7h1.9M128.4 238.4h1.9M123.3 236.4h1.9M116.5 214.3h1.9M116.5 235.5h1.9M131.6 232.5h1.9M111.6 247.2h1.9M106.8 214.5h1.9M99.7 207.7h1.9M103.5 199.5h1.9M110.1 223.4h1.9M104.2 198.2h1.9M116.6 202.8h1.9M106.6 216.8h1.9M100.5 240.9h1.9M110.7 225.9h1.9M127.0 200.0h1.9M89.8 247.6h1.9M120.7 217.0h1.9M123.7 221.5h1.9M100.7 201.8h1.9M65.9 234.9h1.9M86.7 243.6h1.9M115.8 243.4h1.9M112.8 191.5h1.9M133.3 201.0h1.9M117.2 219.5h1.9M111.7 207.8h1.9M95.2 237.2h1.9M122.4 233.2h1.9M124.6 193.4h1.9M130.6 221.7h1.9" stroke="#1b1b1b" stroke-width="1.9"/>
<path d="M124.1 186.7h1.9M119.5 196.1h1.9M125.8 199.2h1.9M120.9 199.4h1.9M118.1 194.7h1.9M122.2 189.4h1.9M126.3 185.1h1.9M120.9 191.5h1.9M126.9 189.4h1.9M121.2 198.3h1.9" stroke="#1b1b1b" stroke-width="1.9"/>
<path d="M65.7 222.8h1.9M68.7 218.3h1.9M70.3 221.5h1.9M67.2 223.7h1.9M73.0 219.3h1.9M69.7 224.2h1.9" stroke="#1b1b1b" stroke-width="1.9"/>
<path d="M113.1 236.5h1.9M129.5 235.5h1.9M123.4 233.8h1.9M131.0 233.9h1.9M120.0 236.0h1.9M126.0 238.6h1.9M116.0 232.3h1.9M112.7 235.8h1.9" stroke="#1b1b1b" stroke-width="1.9"/>
<path d="M101.4 207.5 102.7 205.4 104.5 203.2 105.5 201.1 106.9 198.9 108.6 197.3 111.0 196.0 112.5 194.0 114.8 192.6 116.5 191.3 119.2 189.1 121.1 187.9 124.2 185.5M101.4 207.5 100.0 205.8 97.9 203.3 96.0 201.0 94.1 198.7 92.8 197.3 90.4 194.9M101.4 207.5 103.7 208.9 106.0 211.0 108.5 212.2 111.6 213.8 113.7 214.2 116.6 215.1 119.2 215.4 121.7 215.9 124.2 216.2 126.5 216.3 129.4 217.3 131.6 217.4 133.5 217.3 135.8 217.5 138.6 218.1 140.7 218.5M101.4 207.5 101.7 210.3 101.8 213.6 101.4 216.2 103.2 217.0 106.2 218.4 108.0 219.5 110.7 220.4 112.1 221.6 114.8 222.5 117.4 222.2 119.2 222.1 122.3 222.3 123.9 221.7 126.3 221.4 129.0 221.7 131.6 221.4 133.7 221.7 135.7 221.9 138.0 221.8 140.7 221.7M101.4 216.2 101.2 218.3 101.5 220.4 102.3 223.1 101.9 225.3 102.2 227.2 102.1 229.6 102.8 232.4 102.3 235.2 102.6 237.1 103.0 239.8 103.8 242.0 104.0 244.1 104.4 246.9 105.3 249.2 106.7 251.6 108.5 253.9 109.4 256.0 111.0 258.1 111.6 260.2 112.7 263.2 113.4 265.2 114.8 268.1 115.9 270.5 116.1 272.0 117.1 274.4M103.0 239.8 100.7 239.4 97.6 238.6 95.7 237.5 92.8 236.6 90.7 235.3 88.3 235.2 86.5 234.1 84.5 233.3 82.7 231.9 80.3 231.4 78.6 230.3 76.6 228.3 75.5 227.0 74.0 224.7 72.7 222.9 70.3 221.2 69.1 219.2 67.6 217.8M66.8 217.0 66.9 219.4 67.7 221.8 67.9 225.0 68.4 227.2 70.2 229.3 71.3 231.2 72.2 232.7 73.9 235.1 75.6 236.5 78.3 237.6 79.8 238.4 82.3 239.5 84.2 240.8 86.5 241.4 88.5 242.6 91.4 244.1 93.8 245.1 95.9 246.1 98.3 247.5 100.0 248.3 102.2 249.2M103.0 239.8 105.9 240.3 107.9 240.3 110.8 240.3 113.1 240.2 115.6 240.6 118.0 240.6 120.0 240.7 123.2 240.9 125.4 240.5 127.8 240.7 130.0 240.6 132.6 240.9 135.0 240.8 137.6 240.7 140.7 240.6M80.2 219.3 82.4 218.8 84.8 218.7 86.9 218.8 88.8 217.7 91.2 217.8 93.6 217.6 96.0 216.7 99.2 216.7 101.4 216.2M102.2 261.8 100.6 263.4 102.6 264.5 104.6 265.1 106.9 265.7 109.3 268.1M108.5 253.9 106.0 255.4 104.0 257.0 102.8 259.4 101.0 261.0M114.8 192.6 116.7 195.2 118.0 198.0 119.1 200.8 120.0 204.0M141.9 203.9 144.1 203.6 147.2 203.7 149.4 203.1 152.2 204.1 154.4 204.0 157.2 204.6 159.8 205.4 162.5 206.4 165.8 207.6 168.8 209.8 171.9 210.5 174.7 211.3 176.5 212.6 179.1 213.3 180.7 214.3 182.6 214.6 185.2 215.8M156.8 194.2 157.5 196.2 157.7 199.1 157.8 201.7 158.3 203.9M165.8 207.6 166.9 209.5 168.8 211.6 170.3 214.3 168.3 216.3 165.8 218.8 163.5 220.4 161.9 222.7 159.8 224.7M171.8 215.8 173.4 213.9 175.0 212.2 176.2 209.8 178.4 207.8 180.2 206.0 182.2 204.6 184.0 206.4 186.7 208.3 188.9 210.0 190.4 212.2 192.6 214.3 194.3 216.6 195.6 218.8 195.7 221.5 195.5 224.0 195.6 226.2M141.9 222.5 144.9 222.3 147.5 223.1 149.4 223.0 152.4 223.2 155.0 224.1 157.2 224.3 159.8 224.7 162.4 225.5 164.7 225.8 166.7 226.2 168.8 227.0 171.2 228.6 173.4 229.8 175.2 231.3 177.7 232.2 180.4 234.9 182.2 236.7 183.0 239.2 183.7 241.1 181.3 243.7 179.2 245.6M183.7 241.1 186.2 240.8 187.8 240.7 190.4 240.8 192.6 240.4M180.7 215.8 181.1 217.6 181.7 219.9 182.1 222.2 182.2 224.7 180.6 227.5 178.9 229.4 177.7 232.2M141.9 240.4 144.4 240.3 147.2 240.0 149.4 239.6 152.4 239.2 155.0 238.5 156.9 238.6 159.8 238.2 162.2 237.8 165.2 237.1 168.0 236.5 170.3 235.9 172.6 234.6 175.5 233.8 177.7 232.2M149.4 229.2 148.8 231.9 149.2 233.9 148.5 236.0 148.1 238.6 147.9 240.5 147.9 243.3 147.1 245.6M164.3 231.4 163.1 233.9 162.1 235.9" fill="none" stroke="#9a7a48" stroke-width="0.65" stroke-linejoin="round" stroke-linecap="round"/>
<polygon points="101.3,205.0 99.4,208.9 103.2,208.9" fill="#d4861c" />
<rect x="49" y="293" width="86.4" height="67" rx="14" fill="#e8e8e8" opacity="0.7" filter="url(#blur2)"/>
<path transform="scale(.5)" d="M148 578h2m78 2h2m24 0h2m-1 0h2m-132 1h2m36 0h2m2 0h2m73 0h2m4 0h2m-96 1h2m63 0h2m16 0h2m-82 1h2m60 0h2m46 0h2m-151 1h2m5 0h2m15 0h2m32 0h2m49 0h2m27 0h2m-136 1h2m18 0h2m0 0h2m22 0h2m23 0h2m32 0h2m-92 1h2m48 0h2m3 0h2m46 0h2m-107 1h2m7 0h2m10 0h2m17 0h2m3 0h2m13 0h2m28 0h2m3 0h2m16 0h2m-139 1h2m33 0h2m40 0h2m9 0h2m2 0h2m-1 0h2m27 0h2m-1 0h2m24 0h2m-1 0h2m1 0h2m-71 1h2m11 0h2m18 0h2m-106 1h2m2 0h2m21 0h2m3 0h2m13 0h2m10 0h2m18 0h2m7 0h2m7 0h2m-2 0h2m9 0h2m8 0h2m1 0h2m19 0h2m-162 1h2m3 0h2m13 0h2m8 0h2m-1 0h2m11 0h2m2 0h2m1 0h2m5 0h2m12 0h2m7 0h2m14 0h2m-1 0h2m36 0h2m-135 1h2m2 0h2m11 0h2m3 0h2m25 0h2m37 0h2m25 0h2m3 0h2m30 0h2m5 0h2m-140 1h2m8 0h2m-1 0h2m16 0h2m22 0h2m4 0h2m10 0h2m10 0h2m39 0h2m0 0h2m-133 1h2m-2 0h2m4 0h2m-1 0h2m16 0h2m-1 0h2m5 0h2m0 0h2m4 0h2m39 0h2m15 0h2m7 0h2m-114 1h2m65 0h2m2 0h2m4 0h2m25 0h2m18 0h2m-146 1h2m5 0h2m7 0h2m0 0h2m19 0h2m2 0h2m19 0h2m4 0h2m5 0h2m4 0h2m2 0h2m-2 0h2m0 0h2m9 0h2m16 0h2m27 0h2m10 0h2m0 0h2m12 0h2m-162 1h2m15 0h2m0 0h2m-1 0h2m1 0h2m17 0h2m26 0h2m9 0h2m-2 0h2m24 0h2m-2 0h2m14 0h2m3 0h2m-121 1h2m17 0h2m4 0h2m12 0h2m4 0h2m3 0h2m10 0h2m15 0h2m4 0h2m-1 0h2m5 0h2m27 0h2m-2 0h2m3 0h2m-154 1h2m6 0h2m35 0h2m10 0h2m0 0h2m-1 0h2m-1 0h2m-1 0h2m19 0h2m31 0h2m23 0h2m26 0h2m-167 1h2m8 0h2m9 0h2m2 0h2m-2 0h2m8 0h2m1 0h2m5 0h2m-1 0h2m6 0h2m7 0h2m21 0h2m35 0h2m2 0h2m-103 1h2m56 0h2m-2 0h2m12 0h2m10 0h2m-2 0h2m-1 0h2m4 0h2m15 0h2m-1 0h2m30 0h2m-153 1h2m-2 0h2m3 0h2m0 0h2m9 0h2m1 0h2m1 0h2m5 0h2m10 0h2m11 0h2m1 0h2m14 0h2m10 0h2m16 0h2m2 0h2m23 0h2m1 0h2m-152 1h2m0 0h2m12 0h2m-2 0h2m1 0h2m3 0h2m37 0h2m-1 0h2m14 0h2m3 0h2m13 0h2m25 0h2m28 0h2m-136 1h2m9 0h2m5 0h2m6 0h2m12 0h2m2 0h2m1 0h2m1 0h2m4 0h2m11 0h2m0 0h2m11 0h2m22 0h2m3 0h2m-2 0h2m2 0h2m7 0h2m1 0h2m-146 1h2m3 0h2m3 0h2m11 0h2m5 0h2m-1 0h2m1 0h2m3 0h2m12 0h2m0 0h2m0 0h2m19 0h2m2 0h2m-1 0h2m1 0h2m-1 0h2m9 0h2m8 0h2m10 0h2m-131 1h2m5 0h2m6 0h2m1 0h2m16 0h2m-1 0h2m3 0h2m29 0h2m-1 0h2m11 0h2m35 0h2m1 0h2m0 0h2m2 0h2m13 0h2m12 0h2m-166 1h2m69 0h2m2 0h2m-2 0h2m-1 0h2m23 0h2m27 0h2m9 0h2m11 0h2m-144 1h2m8 0h2m1 0h2m0 0h2m0 0h2m24 0h2m19 0h2m48 0h2m24 0h2m8 0h2m1 0h2m-157 1h2m23 0h2m2 0h2m-2 0h2m3 0h2m8 0h2m14 0h2m5 0h2m-2 0h2m0 0h2m0 0h2m0 0h2m4 0h2m14 0h2m4 0h2m20 0h2m18 0h2m14 0h2m-156 1h2m12 0h2m3 0h2m0 0h2m9 0h2m3 0h2m5 0h2m4 0h2m34 0h2m-1 0h2m9 0h2m3 0h2m8 0h2m0 0h2m1 0h2m4 0h2m0 0h2m-1 0h2m28 0h2m-141 1h2m1 0h2m5 0h2m4 0h2m-1 0h2m9 0h2m0 0h2m13 0h2m4 0h2m-1 0h2m9 0h2m-1 0h2m-1 0h2m8 0h2m6 0h2m-1 0h2m1 0h2m3 0h2m2 0h2m1 0h2m-1 0h2m8 0h2m0 0h2m-2 0h2m3 0h2m0 0h2m1 0h2m-155 1h2m1 0h2m17 0h2m18 0h2m18 0h2m5 0h2m0 0h2m1 0h2m1 0h2m0 0h2m1 0h2m2 0h2m-1 0h2m-1 0h2m3 0h2m1 0h2m22 0h2m25 0h2m7 0h2m1 0h2m1 0h2m-171 1h2m15 0h2m1 0h2m-1 0h2m-1 0h2m13 0h2m2 0h2m2 0h2m-1 0h2m0 0h2m11 0h2m0 0h2m13 0h2m14 0h2m14 0h2m0 0h2m2 0h2m-2 0h2m16 0h2m5 0h2m-2 0h2m13 0h2m-140 1h2m-1 0h2m12 0h2m29 0h2m35 0h2m1 0h2m-2 0h2m13 0h2m-1 0h2m8 0h2m30 0h2m1 0h2m7 0h2m-162 1h2m13 0h2m-1 0h2m1 0h2m9 0h2m13 0h2m4 0h2m7 0h2m5 0h2m4 0h2m33 0h2m-2 0h2m4 0h2m17 0h2m-144 1h2m20 0h2m6 0h2m-1 0h2m5 0h2m3 0h2m9 0h2m12 0h2m5 0h2m0 0h2m2 0h2m-2 0h2m2 0h2m11 0h2m-2 0h2m29 0h2m6 0h2m13 0h2m-149 1h2m15 0h2m9 0h2m0 0h2m21 0h2m1 0h2m27 0h2m4 0h2m6 0h2m24 0h2m2 0h2m12 0h2m-1 0h2m14 0h2m6 0h2m-176 1h2m11 0h2m-1 0h2m7 0h2m0 0h2m0 0h2m-1 0h2m3 0h2m3 0h2m-1 0h2m2 0h2m-2 0h2m3 0h2m3 0h2m0 0h2m4 0h2m3 0h2m-2 0h2m6 0h2m9 0h2m-1 0h2m29 0h2m1 0h2m32 0h2m-1 0h2m1 0h2m-151 1h2m-1 0h2m2 0h2m3 0h2m3 0h2m18 0h2m2 0h2m12 0h2m35 0h2m4 0h2m14 0h2m5 0h2m4 0h2m22 0h2m5 0h2m6 0h2m-162 1h2m-1 0h2m1 0h2m12 0h2m3 0h2m12 0h2m5 0h2m6 0h2m4 0h2m25 0h2m10 0h2m3 0h2m1 0h2m1 0h2m25 0h2m5 0h2m-139 1h2m5 0h2m14 0h2m3 0h2m-2 0h2m2 0h2m28 0h2m7 0h2m0 0h2m4 0h2m20 0h2m3 0h2m1 0h2m2 0h2m0 0h2m1 0h2m5 0h2m1 0h2m3 0h2m-1 0h2m-126 1h2m19 0h2m-2 0h2m-2 0h2m1 0h2m36 0h2m2 0h2m3 0h2m15 0h2m5 0h2m7 0h2m13 0h2m8 0h2m-168 1h2m14 0h2m1 0h2m10 0h2m24 0h2m0 0h2m1 0h2m-1 0h2m4 0h2m25 0h2m1 0h2m8 0h2m6 0h2m1 0h2m12 0h2m0 0h2m3 0h2m2 0h2m7 0h2m-1 0h2m20 0h2m-159 1h2m9 0h2m0 0h2m-1 0h2m4 0h2m-1 0h2m-1 0h2m45 0h2m0 0h2m2 0h2m12 0h2m10 0h2m-1 0h2m5 0h2m4 0h2m-1 0h2m1 0h2m2 0h2m14 0h2m4 0h2m3 0h2m2 0h2m-162 1h2m0 0h2m9 0h2m12 0h2m7 0h2m1 0h2m3 0h2m-1 0h2m4 0h2m1 0h2m1 0h2m0 0h2m2 0h2m0 0h2m28 0h2m2 0h2m1 0h2m9 0h2m1 0h2m0 0h2m5 0h2m12 0h2m10 0h2m5 0h2m1 0h2m-170 1h2m25 0h2m7 0h2m21 0h2m-1 0h2m-1 0h2m3 0h2m16 0h2m-1 0h2m2 0h2m7 0h2m2 0h2m-1 0h2m19 0h2m14 0h2m0 0h2m16 0h2m0 0h2m8 0h2m-153 1h2m4 0h2m1 0h2m0 0h2m9 0h2m-1 0h2m9 0h2m2 0h2m5 0h2m2 0h2m13 0h2m7 0h2m11 0h2m4 0h2m-92 1h2m12 0h2m9 0h2m6 0h2m-1 0h2m34 0h2m37 0h2m0 0h2m-2 0h2m6 0h2m21 0h2m9 0h2m-180 1h2m16 0h2m6 0h2m12 0h2m12 0h2m16 0h2m7 0h2m5 0h2m45 0h2m1 0h2m0 0h2m17 0h2m-1 0h2m-2 0h2m3 0h2m6 0h2m-174 1h2m0 0h2m10 0h2m26 0h2m2 0h2m3 0h2m0 0h2m9 0h2m23 0h2m24 0h2m5 0h2m1 0h2m38 0h2m-165 1h2m5 0h2m0 0h2m-1 0h2m-2 0h2m-1 0h2m0 0h2m-1 0h2m6 0h2m-1 0h2m-1 0h2m3 0h2m3 0h2m14 0h2m19 0h2m2 0h2m2 0h2m3 0h2m-2 0h2m0 0h2m20 0h2m10 0h2m10 0h2m0 0h2m5 0h2m0 0h2m7 0h2m3 0h2m-139 1h2m-1 0h2m15 0h2m3 0h2m11 0h2m6 0h2m-1 0h2m5 0h2m-2 0h2m7 0h2m17 0h2m23 0h2m13 0h2m-2 0h2m1 0h2m0 0h2m3 0h2m-1 0h2m0 0h2m-1 0h2m12 0h2m0 0h2m-175 1h2m2 0h2m31 0h2m4 0h2m-2 0h2m3 0h2m9 0h2m13 0h2m-2 0h2m12 0h2m4 0h2m1 0h2m0 0h2m-2 0h2m5 0h2m0 0h2m9 0h2m2 0h2m9 0h2m-133 1h2m5 0h2m9 0h2m-2 0h2m63 0h2m13 0h2m5 0h2m13 0h2m10 0h2m12 0h2m5 0h2m3 0h2m5 0h2m-138 1h2m1 0h2m16 0h2m41 0h2m18 0h2m9 0h2m18 0h2m5 0h2m-1 0h2m10 0h2m0 0h2m1 0h2m-163 1h2m15 0h2m5 0h2m-1 0h2m23 0h2m-1 0h2m11 0h2m36 0h2m31 0h2m-2 0h2m-1 0h2m-146 1h2m12 0h2m3 0h2m5 0h2m25 0h2m13 0h2m1 0h2m15 0h2m3 0h2m20 0h2m7 0h2m6 0h2m6 0h2m17 0h2m0 0h2m-152 1h2m6 0h2m2 0h2m2 0h2m-2 0h2m2 0h2m-1 0h2m-2 0h2m8 0h2m14 0h2m5 0h2m5 0h2m29 0h2m3 0h2m1 0h2m1 0h2m28 0h2m9 0h2m0 0h2m-1 0h2m-1 0h2m-1 0h2m-1 0h2m-174 1h2m9 0h2m2 0h2m9 0h2m3 0h2m1 0h2m-2 0h2m6 0h2m8 0h2m0 0h2m3 0h2m4 0h2m2 0h2m0 0h2m14 0h2m1 0h2m1 0h2m0 0h2m4 0h2m-2 0h2m6 0h2m15 0h2m-1 0h2m18 0h2m8 0h2m13 0h2m-163 1h2m14 0h2m15 0h2m4 0h2m11 0h2m1 0h2m5 0h2m9 0h2m-1 0h2m9 0h2m11 0h2m2 0h2m-1 0h2m35 0h2m4 0h2m1 0h2m-1 0h2m4 0h2m3 0h2m3 0h2m-172 1h2m1 0h2m2 0h2m18 0h2m18 0h2m8 0h2m35 0h2m32 0h2m-132 1h2m10 0h2m4 0h2m7 0h2m-2 0h2m80 0h2m0 0h2m-1 0h2m44 0h2m-2 0h2m6 0h2m-138 1h2m13 0h2m11 0h2m-1 0h2m2 0h2m-2 0h2m6 0h2m22 0h2m18 0h2m-1 0h2m4 0h2m-115 1h2m-2 0h2m16 0h2m0 0h2m3 0h2m38 0h2m2 0h2m6 0h2m0 0h2m7 0h2m1 0h2m0 0h2m4 0h2m24 0h2m8 0h2m10 0h2m-1 0h2m0 0h2m0 0h2m-1 0h2m11 0h2m-141 1h2m13 0h2m8 0h2m-2 0h2m5 0h2m8 0h2m5 0h2m-1 0h2m14 0h2m6 0h2m8 0h2m8 0h2m13 0h2m0 0h2m-1 0h2m9 0h2m5 0h2m11 0h2m-170 1h2m0 0h2m0 0h2m1 0h2m8 0h2m6 0h2m6 0h2m12 0h2m3 0h2m0 0h2m-2 0h2m22 0h2m17 0h2m6 0h2m7 0h2m3 0h2m24 0h2m3 0h2m0 0h2m1 0h2m-144 1h2m26 0h2m0 0h2m6 0h2m3 0h2m5 0h2m8 0h2m-2 0h2m0 0h2m1 0h2m-1 0h2m2 0h2m-2 0h2m14 0h2m2 0h2m4 0h2m8 0h2m11 0h2m2 0h2m9 0h2m13 0h2m-182 1h2m40 0h2m2 0h2m3 0h2m4 0h2m16 0h2m2 0h2m6 0h2m7 0h2m13 0h2m-2 0h2m4 0h2m30 0h2m14 0h2m-117 1h2m7 0h2m3 0h2m12 0h2m8 0h2m11 0h2m54 0h2m-1 0h2m3 0h2m7 0h2m-154 1h2m4 0h2m2 0h2m9 0h2m4 0h2m9 0h2m-2 0h2m20 0h2m9 0h2m2 0h2m15 0h2m2 0h2m36 0h2m0 0h2m10 0h2m-151 1h2m0 0h2m6 0h2m30 0h2m4 0h2m3 0h2m16 0h2m9 0h2m6 0h2m-2 0h2m-2 0h2m6 0h2m-2 0h2m4 0h2m3 0h2m11 0h2m7 0h2m-2 0h2m6 0h2m4 0h2m6 0h2m-146 1h2m12 0h2m0 0h2m4 0h2m9 0h2m-2 0h2m7 0h2m-2 0h2m0 0h2m3 0h2m5 0h2m0 0h2m10 0h2m1 0h2m2 0h2m6 0h2m-1 0h2m0 0h2m0 0h2m4 0h2m25 0h2m8 0h2m4 0h2m-2 0h2m3 0h2m3 0h2m-155 1h2m1 0h2m4 0h2m5 0h2m2 0h2m8 0h2m8 0h2m0 0h2m-1 0h2m1 0h2m-1 0h2m22 0h2m0 0h2m19 0h2m-1 0h2m2 0h2m-1 0h2m1 0h2m24 0h2m3 0h2m0 0h2m0 0h2m1 0h2m-1 0h2m4 0h2m1 0h2m1 0h2m2 0h2m-167 1h2m0 0h2m5 0h2m-2 0h2m1 0h2m1 0h2m24 0h2m2 0h2m13 0h2m2 0h2m14 0h2m-1 0h2m19 0h2m4 0h2m14 0h2m0 0h2m3 0h2m0 0h2m0 0h2m0 0h2m7 0h2m0 0h2m9 0h2m-155 1h2m35 0h2m6 0h2m15 0h2m21 0h2m14 0h2m34 0h2m14 0h2m-137 1h2m6 0h2m10 0h2m5 0h2m9 0h2m13 0h2m5 0h2m-1 0h2m11 0h2m2 0h2m6 0h2m12 0h2m-1 0h2m4 0h2m12 0h2m-147 1h2m4 0h2m10 0h2m1 0h2m1 0h2m9 0h2m4 0h2m-1 0h2m5 0h2m24 0h2m13 0h2m2 0h2m-1 0h2m18 0h2m-1 0h2m2 0h2m-1 0h2m4 0h2m5 0h2m3 0h2m14 0h2m-1 0h2m-163 1h2m3 0h2m4 0h2m11 0h2m2 0h2m34 0h2m6 0h2m14 0h2m6 0h2m-1 0h2m9 0h2m4 0h2m3 0h2m-1 0h2m5 0h2m3 0h2m7 0h2m13 0h2m1 0h2m12 0h2m-177 1h2m13 0h2m0 0h2m54 0h2m0 0h2m6 0h2m4 0h2m9 0h2m12 0h2m-2 0h2m9 0h2m-1 0h2m-2 0h2m-2 0h2m0 0h2m2 0h2m-1 0h2m-138 1h2m16 0h2m4 0h2m12 0h2m6 0h2m0 0h2m1 0h2m6 0h2m-1 0h2m10 0h2m4 0h2m6 0h2m-2 0h2m21 0h2m9 0h2m30 0h2m2 0h2m5 0h2m2 0h2m-2 0h2m-136 1h2m6 0h2m2 0h2m2 0h2m12 0h2m3 0h2m-2 0h2m0 0h2m0 0h2m5 0h2m-2 0h2m8 0h2m13 0h2m7 0h2m9 0h2m12 0h2m0 0h2m1 0h2m9 0h2m1 0h2m1 0h2m10 0h2m-163 1h2m15 0h2m13 0h2m0 0h2m4 0h2m1 0h2m15 0h2m13 0h2m-1 0h2m5 0h2m1 0h2m4 0h2m2 0h2m-1 0h2m-1 0h2m54 0h2m1 0h2m-173 1h2m18 0h2m35 0h2m15 0h2m0 0h2m3 0h2m0 0h2m33 0h2m4 0h2m3 0h2m-1 0h2m15 0h2m13 0h2m-154 1h2m25 0h2m-1 0h2m3 0h2m20 0h2m7 0h2m43 0h2m2 0h2m3 0h2m-107 1h2m3 0h2m-1 0h2m3 0h2m0 0h2m10 0h2m7 0h2m28 0h2m1 0h2m3 0h2m52 0h2m-153 1h2m7 0h2m11 0h2m-2 0h2m3 0h2m16 0h2m-1 0h2m8 0h2m0 0h2m6 0h2m2 0h2m21 0h2m22 0h2m7 0h2m2 0h2m2 0h2m7 0h2m6 0h2m0 0h2m-1 0h2m4 0h2m2 0h2m2 0h2m3 0h2m6 0h2m-162 1h2m-1 0h2m15 0h2m6 0h2m1 0h2m9 0h2m10 0h2m3 0h2m12 0h2m-2 0h2m8 0h2m0 0h2m19 0h2m0 0h2m-2 0h2m-2 0h2m1 0h2m-1 0h2m11 0h2m5 0h2m0 0h2m16 0h2m1 0h2m-172 1h2m5 0h2m10 0h2m4 0h2m1 0h2m3 0h2m4 0h2m7 0h2m1 0h2m1 0h2m-2 0h2m1 0h2m13 0h2m24 0h2m-1 0h2m0 0h2m-1 0h2m-1 0h2m8 0h2m10 0h2m1 0h2m-1 0h2m3 0h2m1 0h2m7 0h2m18 0h2m-143 1h2m2 0h2m19 0h2m27 0h2m-1 0h2m1 0h2m2 0h2m28 0h2m24 0h2m24 0h2m5 0h2m-165 1h2m11 0h2m6 0h2m0 0h2m10 0h2m0 0h2m3 0h2m7 0h2m2 0h2m5 0h2m1 0h2m15 0h2m12 0h2m8 0h2m39 0h2m-152 1h2m16 0h2m-1 0h2m14 0h2m-2 0h2m1 0h2m4 0h2m14 0h2m1 0h2m22 0h2m6 0h2m6 0h2m2 0h2m0 0h2m7 0h2m1 0h2m9 0h2m-1 0h2m2 0h2m-112 1h2m0 0h2m1 0h2m8 0h2m20 0h2m12 0h2m4 0h2m33 0h2m-2 0h2m3 0h2m8 0h2m6 0h2m0 0h2m-1 0h2m8 0h2m2 0h2m-1 0h2m-1 0h2m-155 1h2m-1 0h2m12 0h2m-1 0h2m20 0h2m14 0h2m36 0h2m0 0h2m18 0h2m0 0h2m0 0h2m3 0h2m5 0h2m0 0h2m4 0h2m3 0h2m3 0h2m2 0h2m-152 1h2m-1 0h2m19 0h2m-1 0h2m4 0h2m10 0h2m11 0h2m0 0h2m21 0h2m0 0h2m9 0h2m0 0h2m11 0h2m12 0h2m4 0h2m10 0h2m1 0h2m8 0h2m0 0h2m-158 1h2m5 0h2m20 0h2m8 0h2m4 0h2m17 0h2m55 0h2m-1 0h2m11 0h2m3 0h2m4 0h2m9 0h2m-167 1h2m49 0h2m4 0h2m6 0h2m11 0h2m-1 0h2m3 0h2m6 0h2m0 0h2m-2 0h2m5 0h2m8 0h2m14 0h2m35 0h2m-166 1h2m1 0h2m2 0h2m0 0h2m8 0h2m50 0h2m2 0h2m18 0h2m12 0h2m22 0h2m4 0h2m16 0h2m7 0h2m-169 1h2m6 0h2m-2 0h2m11 0h2m8 0h2m5 0h2m0 0h2m2 0h2m22 0h2m3 0h2m0 0h2m8 0h2m26 0h2m3 0h2m8 0h2m0 0h2m2 0h2m3 0h2m-137 1h2m60 0h2m2 0h2m5 0h2m11 0h2m18 0h2m2 0h2m11 0h2m19 0h2m-2 0h2m0 0h2m7 0h2m-163 1h2m0 0h2m13 0h2m15 0h2m1 0h2m8 0h2m2 0h2m1 0h2m9 0h2m11 0h2m0 0h2m10 0h2m-1 0h2m-1 0h2m26 0h2m7 0h2m8 0h2m6 0h2m4 0h2m-159 1h2m0 0h2m18 0h2m1 0h2m16 0h2m2 0h2m1 0h2m5 0h2m1 0h2m2 0h2m2 0h2m7 0h2m0 0h2m4 0h2m10 0h2m3 0h2m12 0h2m-1 0h2m25 0h2m-1 0h2m0 0h2m20 0h2m0 0h2m-158 1h2m3 0h2m-1 0h2m1 0h2m3 0h2m1 0h2m21 0h2m15 0h2m-2 0h2m3 0h2m-1 0h2m14 0h2m8 0h2m11 0h2m2 0h2m14 0h2m2 0h2m0 0h2m2 0h2m-1 0h2m8 0h2m0 0h2m-157 1h2m1 0h2m22 0h2m5 0h2m11 0h2m20 0h2m12 0h2m5 0h2m-2 0h2m25 0h2m14 0h2m10 0h2m-111 1h2m11 0h2m5 0h2m42 0h2m51 0h2m-151 1h2m6 0h2m1 0h2m9 0h2m2 0h2m18 0h2m12 0h2m5 0h2m11 0h2m23 0h2m-1 0h2m31 0h2m6 0h2m3 0h2m-165 1h2m22 0h2m5 0h2m7 0h2m7 0h2m1 0h2m20 0h2m9 0h2m5 0h2m4 0h2m14 0h2m18 0h2m7 0h2m23 0h2m-155 1h2m9 0h2m14 0h2m10 0h2m8 0h2m-2 0h2m-2 0h2m4 0h2m6 0h2m-1 0h2m0 0h2m-1 0h2m4 0h2m5 0h2m1 0h2m-1 0h2m1 0h2m2 0h2m10 0h2m0 0h2m26 0h2m-1 0h2m11 0h2m-2 0h2m-164 1h2m12 0h2m14 0h2m-2 0h2m0 0h2m8 0h2m3 0h2m1 0h2m-2 0h2m8 0h2m6 0h2m6 0h2m1 0h2m4 0h2m7 0h2m9 0h2m-1 0h2m3 0h2m5 0h2m-1 0h2m26 0h2m3 0h2m6 0h2m-1 0h2m2 0h2m1 0h2m-151 1h2m11 0h2m9 0h2m5 0h2m0 0h2m24 0h2m-1 0h2m6 0h2m8 0h2m9 0h2m-1 0h2m10 0h2m11 0h2m-2 0h2m28 0h2m3 0h2m1 0h2m-172 1h2m12 0h2m1 0h2m0 0h2m19 0h2m9 0h2m7 0h2m-2 0h2m13 0h2m21 0h2m31 0h2m1 0h2m0 0h2m-1 0h2m10 0h2m12 0h2m-2 0h2m-1 0h2m-150 1h2m25 0h2m-1 0h2m6 0h2m10 0h2m24 0h2m12 0h2m-2 0h2m-2 0h2m3 0h2m0 0h2m2 0h2m1 0h2m0 0h2m28 0h2m2 0h2m-150 1h2m38 0h2m0 0h2m4 0h2m44 0h2m25 0h2m5 0h2m17 0h2m11 0h2m-144 1h2m4 0h2m4 0h2m27 0h2m9 0h2m9 0h2m10 0h2m22 0h2m33 0h2m2 0h2m-1 0h2m2 0h2m2 0h2m-159 1h2m9 0h2m8 0h2m2 0h2m21 0h2m2 0h2m10 0h2m-1 0h2m-1 0h2m31 0h2m1 0h2m1 0h2m30 0h2m-1 0h2m22 0h2m-167 1h2m0 0h2m1 0h2m1 0h2m1 0h2m-1 0h2m1 0h2m6 0h2m0 0h2m7 0h2m2 0h2m0 0h2m2 0h2m1 0h2m6 0h2m6 0h2m1 0h2m3 0h2m-2 0h2m-1 0h2m9 0h2m-1 0h2m2 0h2m0 0h2m21 0h2m3 0h2m-2 0h2m4 0h2m4 0h2m12 0h2m13 0h2m0 0h2m-165 1h2m8 0h2m1 0h2m30 0h2m11 0h2m3 0h2m-1 0h2m4 0h2m26 0h2m-2 0h2m-1 0h2m8 0h2m2 0h2m18 0h2m7 0h2m6 0h2m11 0h2m2 0h2m-180 1h2m22 0h2m-1 0h2m3 0h2m43 0h2m3 0h2m2 0h2m0 0h2m10 0h2m-1 0h2m13 0h2m3 0h2m2 0h2m9 0h2m-1 0h2m9 0h2m10 0h2m6 0h2m-132 1h2m19 0h2m16 0h2m24 0h2m21 0h2m12 0h2m16 0h2m-1 0h2m-1 0h2m-161 1h2m24 0h2m40 0h2m-1 0h2m11 0h2m18 0h2m9 0h2m-1 0h2m8 0h2m10 0h2m1 0h2m-1 0h2m21 0h2m6 0h2m-161 1h2m5 0h2m0 0h2m-1 0h2m6 0h2m6 0h2m14 0h2m2 0h2m0 0h2m6 0h2m-1 0h2m1 0h2m12 0h2m-2 0h2m8 0h2m-2 0h2m9 0h2m18 0h2m2 0h2m19 0h2m-128 1h2m5 0h2m0 0h2m3 0h2m9 0h2m5 0h2m1 0h2m3 0h2m3 0h2m-2 0h2m4 0h2m3 0h2m5 0h2m31 0h2m11 0h2m6 0h2m4 0h2m-2 0h2m-118 1h2m-2 0h2m0 0h2m3 0h2m1 0h2m6 0h2m0 0h2m7 0h2m12 0h2m13 0h2m15 0h2m-1 0h2m1 0h2m1 0h2m-1 0h2m2 0h2m5 0h2m11 0h2m6 0h2m0 0h2m4 0h2m-2 0h2m4 0h2m-147 1h2m1 0h2m22 0h2m16 0h2m16 0h2m-1 0h2m8 0h2m9 0h2m4 0h2m42 0h2m1 0h2m-2 0h2m7 0h2m4 0h2m3 0h2m-167 1h2m8 0h2m2 0h2m7 0h2m14 0h2m12 0h2m36 0h2m25 0h2m10 0h2m21 0h2m1 0h2m5 0h2m-152 1h2m-1 0h2m15 0h2m23 0h2m2 0h2m24 0h2m-1 0h2m-1 0h2m35 0h2m1 0h2m12 0h2m11 0h2m-2 0h2m-153 1h2m31 0h2m6 0h2m2 0h2m4 0h2m13 0h2m8 0h2m20 0h2m0 0h2m2 0h2m2 0h2m1 0h2m0 0h2m19 0h2m0 0h2m-134 1h2m2 0h2m24 0h2m17 0h2m9 0h2m16 0h2m3 0h2m31 0h2m5 0h2m2 0h2m0 0h2m6 0h2m1 0h2m0 0h2m6 0h2m-154 1h2m8 0h2m2 0h2m16 0h2m-1 0h2m6 0h2m-1 0h2m3 0h2m15 0h2m0 0h2m4 0h2m13 0h2m-1 0h2m21 0h2m-2 0h2m10 0h2m9 0h2m6 0h2m0 0h2m-152 1h2m2 0h2m23 0h2m1 0h2m11 0h2m1 0h2m1 0h2m22 0h2m12 0h2m15 0h2m14 0h2m10 0h2m15 0h2m3 0h2m2 0h2m-2 0h2m-145 1h2m19 0h2m8 0h2m29 0h2m4 0h2m3 0h2m12 0h2m23 0h2m-131 1h2m15 0h2m29 0h2m20 0h2m3 0h2m7 0h2m1 0h2m0 0h2m4 0h2m21 0h2m20 0h2m6 0h2m-145 1h2m3 0h2m20 0h2m-1 0h2m5 0h2m54 0h2m31 0h2m10 0h2m-138 1h2m4 0h2m-1 0h2m39 0h2m16 0h2m24 0h2m-1 0h2m10 0h2m-1 0h2m9 0h2m4 0h2m35 0h2m-155 1h2m11 0h2m11 0h2m2 0h2m34 0h2m33 0h2m30 0h2m-144 1h2m17 0h2m25 0h2m54 0h2m18 0h2m11 0h2m26 0h2m-108 1h2m13 0h2m20 0h2m11 0h2m-1 0h2m6 0h2m8 0h2m1 0h2m4 0h2m0 0h2m-143 1h2m15 0h2m12 0h2m4 0h2m19 0h2m3 0h2m-1 0h2m2 0h2m14 0h2m14 0h2m11 0h2m39 0h2m15 0h2m-156 1h2m0 0h2m27 0h2m3 0h2m23 0h2m58 0h2m-96 1h2m90 0h2m1 0h2m4 0h2m-140 1h2m13 0h2m30 0h2m50 0h2m20 0h2m28 0h2m3 0h2m-125 1h2m-2 0h2m87 0h2m4 0h2m-126 1h2m3 0h2m16 0h2m0 0h2m80 0h2m9 0h2m22 0h2m5 0h2m-115 1h2m82 0h2m-109 1h2m0 0h2m59 0h2m13 0h2m3 0h2m45 0h2m-145 1h2m3 0h2m92 0h2m-96 1h2m108 0h2m7 0h2m1 0h2m-57 1h2m68 0h2m-53 1h2m41 0h2m6 0h2" stroke="#c9c9c9" stroke-width="1.40" opacity="1.0" filter="url(#soft)"/>
<path transform="scale(.5)" d="M289 581h2m79 2h2m7 1h2m-1 0h2m-12 1h2m-51 1h2m20 2h2m-57 2h2m43 2h2m5 0h2m27 0h2m1 0h2m-1 0h2m-33 2h2m1 0h2m-28 1h2m19 0h2m33 0h2m-23 1h2m43 0h2m-109 2h2m58 0h2m10 0h2m-67 1h2m3 0h2m19 0h2m42 0h2m14 0h2m6 0h2m-98 1h2m1 0h2m0 0h2m3 0h2m-17 1h2m2 0h2m60 0h2m25 0h2m12 0h2m-112 1h2m93 0h2m0 1h2m10 0h2m-105 1h2m71 0h2m-77 1h2m4 0h2m24 0h2m55 0h2m1 0h2m10 0h2m-102 1h2m-1 0h2m96 0h2m-11 1h2m-94 1h2m54 0h2m-62 1h2m46 1h2m-40 1h2m28 0h2m-46 1h2m9 0h2m10 0h2m68 0h2m7 0h2m-93 1h2m22 0h2m1 0h2m46 0h2m26 0h2m-107 1h2m-1 0h2m66 0h2m22 0h2m6 0h2m-98 1h2m9 0h2m23 0h2m2 0h2m41 0h2m-81 1h2m-1 0h2m33 0h2m45 0h2m-8 2h2m17 0h2m-46 1h2m39 0h2m-40 1h2m38 0h2m-105 1h2m77 0h2m17 0h2m-111 1h2m6 1h2m2 0h2m35 0h2m-43 1h2m50 0h2m39 1h2m11 0h2m-86 1h2m6 0h2m64 0h2m5 0h2m-50 1h2m4 0h2m23 0h2m-88 1h2m-5 1h2m10 0h2m103 0h2m-100 1h2m-15 1h2m5 0h2m28 0h2m14 0h2m17 1h2m-3 1h2m22 0h2m-109 2h2m62 0h2m-17 2h2m47 0h2m19 0h2m-116 1h2m3 0h2m36 0h2m26 0h2m-30 1h2m-48 2h2m101 0h2m-52 1h2m36 0h2m29 0h2m-118 1h2m21 0h2m19 0h2m-40 1h2m59 0h2m31 0h2m-19 1h2m23 0h2m-111 2h2m-2 0h2m79 0h2m10 0h2m-1 0h2m-76 1h2m72 0h2m9 0h2m5 0h2m-109 1h2m67 0h2m-64 1h2m8 0h2m66 1h2m7 0h2m-88 1h2m74 0h2m7 0h2m1 0h2m-103 1h2m31 0h2m41 0h2m-76 1h2m-1 0h2m91 0h2m0 0h2m7 0h2m-102 2h2m37 0h2m46 0h2m3 0h2m-96 1h2m67 0h2m-37 1h2m49 0h2m9 0h2m-45 1h2m30 0h2m2 0h2m9 0h2m1 1h2m-45 1h2m-4 1h2m43 0h2m-74 1h2m-1 0h2m50 0h2m-40 1h2m60 0h2m-110 1h2m97 0h2m5 0h2m-116 1h2m8 0h2m39 0h2m2 0h2m5 0h2m-52 1h2m84 0h2m-103 1h2m44 0h2m47 0h2m-87 2h2m-1 0h2m69 0h2m-73 1h2m86 0h2m6 0h2m1 0h2m8 0h2m-117 1h2m1 0h2m43 0h2m15 0h2m33 0h2m5 0h2m-54 1h2m-20 1h2m71 0h2m-51 1h2m29 0h2m10 0h2m0 0h2m-109 1h2m1 0h2m53 0h2m-53 1h2m12 0h2m54 0h2m-10 1h2m-63 1h2m82 0h2m11 0h2m-99 1h2m84 0h2m-89 2h2m26 0h2m62 0h2m-103 1h2m16 0h2m75 1h2m-18 1h2m17 1h2m-94 1h2m3 0h2m21 0h2m20 0h2m-49 1h2m-1 0h2m35 0h2m45 0h2m17 0h2m-109 1h2m99 0h2m-1 0h2m-13 1h2m10 0h2m-103 1h2m11 0h2m81 0h2m-65 2h2m3 0h2m-43 1h2m35 0h2m-8 1h2m64 0h2m-73 1h2m20 0h2m47 0h2m0 0h2m10 0h2m-91 1h2m15 0h2m-36 1h2m86 0h2m-1 0h2m-77 2h2m68 1h2m-54 1h2m-3 1h2m52 0h2m-92 1h2m93 0h2m-50 1h2m29 0h2m4 0h2m4 0h2m-89 1h2m-1 0h2m52 0h2m38 1h2m-94 2h2m79 0h2m17 0h2m-103 3h2m-2 0h2m-1 0h2m-6 1h2m33 0h2m-29 1h2m4 0h2m71 0h2m-90 2h2m14 0h2m21 0h2m-37 1h2m-3 1h2m13 0h2m67 1h2m-37 2h2m13 0h2m-82 1h2m60 1h2m24 0h2m13 0h2m-93 1h2m41 1h2m-27 1h2" stroke="#97c1e8" stroke-width="1.60" opacity="1.0" filter="url(#soft)"/>
<path transform="scale(.5)" d="M308 576h2m11 0h2m-6 1h2m-18 2h2m39 0h2m36 0h2m-31 1h2m4 0h2m-51 1h2m19 0h2m49 0h2m-39 1h2m18 0h2m-36 1h2m19 0h2m-32 1h2m-2 0h2m-1 0h2m34 0h2m-39 1h2m13 0h2m21 0h2m15 0h2m-81 1h2m13 0h2m17 0h2m-19 1h2m27 0h2m0 0h2m-46 1h2m1 0h2m46 0h2m34 0h2m5 0h2m-95 1h2m2 0h2m8 0h2m13 0h2m37 0h2m19 0h2m-94 1h2m-2 0h2m22 0h2m51 0h2m10 0h2m-1 0h2m-86 1h2m31 0h2m2 0h2m40 0h2m-73 1h2m5 0h2m1 0h2m29 0h2m17 0h2m7 0h2m-97 1h2m8 0h2m20 0h2m60 0h2m-79 1h2m14 0h2m16 0h2m7 0h2m0 0h2m4 0h2m24 0h2m5 0h2m-85 1h2m22 0h2m33 0h2m2 0h2m8 0h2m-80 1h2m3 0h2m30 0h2m28 0h2m2 0h2m4 0h2m2 0h2m1 0h2m-88 1h2m14 0h2m0 0h2m39 0h2m3 0h2m-63 1h2m31 0h2m-36 1h2m15 0h2m11 0h2m9 0h2m26 0h2m9 0h2m-94 1h2m12 0h2m34 0h2m5 0h2m21 0h2m4 0h2m0 0h2m16 0h2m0 0h2m-50 1h2m7 0h2m5 0h2m-2 0h2m2 0h2m1 0h2m0 0h2m-81 1h2m5 0h2m7 0h2m31 0h2m21 0h2m0 0h2m23 0h2m-90 1h2m3 0h2m26 0h2m0 0h2m6 0h2m5 0h2m2 0h2m-1 0h2m5 0h2m-71 1h2m21 0h2m13 0h2m9 0h2m1 0h2m6 0h2m0 0h2m-1 0h2m8 0h2m-67 1h2m29 0h2m6 0h2m15 0h2m7 0h2m-77 1h2m86 0h2m-98 1h2m40 0h2m30 0h2m-63 1h2m6 0h2m1 0h2m42 0h2m20 0h2m6 0h2m7 0h2m-2 0h2m-74 1h2m0 0h2m26 0h2m-43 1h2m1 0h2m1 0h2m5 0h2m12 0h2m-1 0h2m25 0h2m3 0h2m-78 1h2m0 0h2m0 0h2m69 0h2m2 0h2m2 0h2m1 0h2m4 0h2m-2 0h2m-98 1h2m14 0h2m26 0h2m-1 0h2m2 0h2m12 0h2m-52 1h2m20 0h2m3 0h2m-2 0h2m-2 0h2m1 0h2m9 0h2m13 0h2m12 0h2m-60 1h2m8 0h2m33 0h2m-66 1h2m28 0h2m16 0h2m41 0h2m-1 0h2m-88 1h2m2 0h2m10 0h2m12 0h2m18 0h2m12 0h2m2 0h2m20 0h2m4 0h2m-89 1h2m17 0h2m9 0h2m-2 0h2m12 0h2m-47 1h2m-1 0h2m3 0h2m15 0h2m26 0h2m14 0h2m-82 1h2m0 0h2m6 0h2m26 0h2m7 0h2m0 0h2m2 0h2m27 0h2m-1 0h2m2 0h2m-94 1h2m33 0h2m12 0h2m20 0h2m10 0h2m8 0h2m1 0h2m-65 1h2m7 0h2m22 0h2m-1 0h2m6 0h2m19 0h2m-94 1h2m10 0h2m32 0h2m26 0h2m4 0h2m5 0h2m6 0h2m-1 0h2m1 0h2m-109 1h2m12 0h2m62 0h2m7 0h2m2 0h2m-1 0h2m-83 1h2m8 0h2m7 0h2m5 0h2m6 0h2m21 0h2m7 0h2m12 0h2m-64 1h2m-1 0h2m0 0h2m10 0h2m27 0h2m23 0h2m-75 1h2m3 0h2m9 0h2m-2 0h2m6 0h2m9 0h2m6 0h2m7 0h2m10 0h2m7 0h2m1 0h2m3 0h2m7 0h2m-107 1h2m29 0h2m12 0h2m43 0h2m-1 0h2m5 0h2m-77 1h2m45 0h2m6 0h2m7 0h2m0 0h2m-1 0h2m3 0h2m3 0h2m-101 1h2m3 0h2m13 0h2m2 0h2m-1 0h2m18 0h2m9 0h2m9 0h2m29 0h2m-98 1h2m27 0h2m10 0h2m11 0h2m9 0h2m1 0h2m3 0h2m13 0h2m-93 2h2m14 0h2m17 0h2m0 0h2m28 0h2m0 0h2m22 0h2m5 0h2m-1 0h2m-55 1h2m14 0h2m8 0h2m18 0h2m-94 1h2m39 0h2m-1 0h2m-1 0h2m2 0h2m4 0h2m14 0h2m8 0h2m0 0h2m6 0h2m0 0h2m-82 1h2m20 0h2m0 0h2m12 0h2m8 0h2m21 0h2m7 0h2m-94 1h2m3 0h2m8 0h2m29 0h2m17 0h2m-1 0h2m7 0h2m-68 1h2m13 0h2m0 0h2m6 0h2m22 0h2m13 0h2m3 0h2m-57 1h2m10 0h2m12 0h2m-7 1h2m14 0h2m1 0h2m9 0h2m-79 1h2m22 0h2m6 0h2m32 0h2m37 0h2m-102 1h2m16 0h2m46 0h2m8 0h2m2 0h2m0 0h2m-89 1h2m-2 0h2m7 0h2m13 0h2m1 0h2m3 0h2m45 0h2m5 0h2m-84 1h2m2 0h2m5 0h2m13 0h2m5 0h2m-1 0h2m8 0h2m1 0h2m-1 0h2m-46 1h2m-1 0h2m16 0h2m16 0h2m28 0h2m0 0h2m-2 0h2m0 0h2m-83 1h2m57 0h2m0 0h2m5 0h2m-63 1h2m26 0h2m6 0h2m0 0h2m8 0h2m0 0h2m15 0h2m5 0h2m3 0h2m-78 1h2m1 0h2m20 0h2m13 0h2m8 0h2m9 0h2m39 0h2m-106 1h2m16 0h2m1 0h2m24 0h2m0 0h2m8 0h2m-70 1h2m20 0h2m5 0h2m24 0h2m1 0h2m19 0h2m24 0h2m-102 1h2m10 0h2m2 0h2m-1 0h2m8 0h2m1 0h2m17 0h2m3 0h2m2 0h2m0 0h2m-1 0h2m-1 0h2m-1 0h2m10 0h2m3 0h2m24 0h2m-110 1h2m33 0h2m-2 0h2m14 0h2m-1 0h2m10 0h2m9 0h2m7 0h2m5 0h2m-87 1h2m-1 0h2m78 0h2m-86 1h2m1 0h2m4 0h2m14 0h2m5 0h2m4 0h2m20 0h2m0 0h2m5 0h2m14 0h2m-1 0h2m2 0h2m6 0h2m-75 1h2m20 0h2m14 0h2m2 0h2m-72 1h2m37 0h2m2 0h2m10 0h2m12 0h2m-66 1h2m15 0h2m3 0h2m11 0h2m0 0h2m-1 0h2m-2 0h2m7 0h2m5 0h2m0 0h2m-1 0h2m-54 1h2m14 0h2m21 0h2m1 0h2m32 0h2m1 0h2m-1 0h2m-88 1h2m5 0h2m40 0h2m6 0h2m-2 0h2m13 0h2m7 0h2m-51 1h2m-1 0h2m-1 0h2m10 0h2m23 0h2m16 0h2m-85 1h2m10 0h2m-1 0h2m22 0h2m3 0h2m6 0h2m7 0h2m4 0h2m-2 0h2m19 0h2m1 0h2m-99 1h2m2 0h2m-1 0h2m13 0h2m16 0h2m-2 0h2m4 0h2m9 0h2m0 0h2m15 0h2m-1 0h2m-2 0h2m11 0h2m-97 1h2m16 0h2m29 0h2m1 0h2m1 0h2m4 0h2m-68 1h2m8 0h2m2 0h2m2 0h2m25 0h2m12 0h2m22 0h2m4 0h2m23 0h2m-102 1h2m10 0h2m3 0h2m23 0h2m24 0h2m4 0h2m0 0h2m20 0h2m-76 1h2m14 0h2m10 0h2m18 0h2m2 0h2m-78 1h2m15 0h2m7 0h2m1 0h2m14 0h2m8 0h2m8 0h2m-1 0h2m-65 1h2m1 0h2m0 0h2m16 0h2m3 0h2m42 0h2m-75 1h2m12 0h2m13 0h2m3 0h2m-1 0h2m2 0h2m15 0h2m5 0h2m3 0h2m5 0h2m7 0h2m-79 1h2m14 0h2m15 0h2m44 0h2m-90 1h2m3 0h2m26 0h2m1 0h2m6 0h2m7 0h2m10 0h2m0 0h2m-77 1h2m6 0h2m47 0h2m0 0h2m6 0h2m0 0h2m1 0h2m3 0h2m22 0h2m3 0h2m-110 1h2m14 0h2m-17 1h2m23 0h2m54 0h2m6 0h2m11 0h2m1 0h2m-95 1h2m4 0h2m15 0h2m5 0h2m0 0h2m5 0h2m10 0h2m3 0h2m22 0h2m-78 1h2m7 0h2m54 0h2m3 0h2m3 0h2m5 0h2m-95 1h2m6 0h2m13 0h2m5 0h2m9 0h2m27 0h2m18 0h2m2 0h2m7 0h2m-87 1h2m6 0h2m30 0h2m8 0h2m3 0h2m17 0h2m-2 0h2m-103 1h2m13 0h2m-2 0h2m5 0h2m19 0h2m0 0h2m4 0h2m25 0h2m8 0h2m8 0h2m6 0h2m-85 1h2m8 0h2m25 0h2m27 0h2m12 0h2m-82 1h2m32 0h2m37 0h2m-2 0h2m-1 0h2m14 0h2m-113 1h2m19 0h2m16 0h2m5 0h2m16 0h2m-49 1h2m13 0h2m37 0h2m4 0h2m6 0h2m7 0h2m0 0h2m-90 1h2m-1 0h2m13 0h2m6 0h2m-2 0h2m6 0h2m-2 0h2m20 0h2m-21 1h2m-19 1h2m7 0h2m24 0h2m-2 0h2m1 0h2m18 0h2m6 0h2m5 0h2m-106 1h2m22 0h2m22 0h2m32 0h2m12 0h2m-66 1h2m42 0h2m24 0h2m4 0h2m-1 0h2m-89 1h2m19 0h2m36 0h2m3 0h2m1 0h2m-68 1h2m4 0h2m1 0h2m6 0h2m14 0h2m0 0h2m27 0h2m-75 1h2m-1 0h2m28 0h2m-2 0h2m17 0h2m-47 1h2m16 0h2m38 0h2m-48 1h2m13 0h2m19 0h2m-56 1h2m55 0h2m24 0h2m-78 1h2m5 0h2m5 0h2m-1 0h2m51 0h2m-76 1h2m2 0h2m5 0h2m49 0h2m10 0h2m8 0h2m11 0h2m-94 1h2m15 0h2m-1 0h2m53 0h2m-17 1h2m32 0h2m-78 1h2m34 0h2m13 0h2m-43 1h2m61 0h2m-83 1h2m-2 0h2m32 0h2m18 0h2m9 0h2m1 0h2m-1 0h2m-80 1h2m22 0h2m-1 0h2m10 0h2m32 0h2m-18 1h2m12 0h2m6 0h2m-29 1h2m9 0h2m13 0h2m-71 1h2m77 0h2m0 0h2m-94 1h2m6 0h2m-1 0h2m81 0h2m-92 1h2m44 0h2m26 0h2m-1 0h2m-72 1h2m-20 1h2m22 0h2m53 2h2m-25 1h2m13 0h2m-28 2h2m27 2h2m10 2h2m-54 1h2m33 0h2m-14 1h2m-17 1h2m49 0h2m-18 1h2m-1 0h2m-35 2h2m16 1h2m-32 1h2m-19 1h2m56 0h2m0 0h2m3 0h2m15 0h2" stroke="#e0606b" stroke-width="1.60" opacity="1.0" filter="url(#soft)"/>
<path transform="scale(.5)" d="M320 580h2m17 0h2m-28 1h2m39 1h2m-67 1h2m16 0h2m-12 2h2m-4 1h2m27 1h2m8 0h2m8 1h2m-48 1h2m-2 0h2m63 0h2m6 0h2m9 0h2m-101 1h2m98 1h2m0 0h2m-100 2h2m5 0h2m57 1h2m33 0h2m-76 1h2m1 1h2m62 0h2m-94 1h2m2 0h2m1 0h2m1 0h2m41 1h2m47 0h2m-98 1h2m8 1h2m27 0h2m26 0h2m19 0h2m-73 1h2m8 0h2m55 0h2m-7 2h2m-82 1h2m55 1h2m-40 1h2m57 0h2m6 0h2m12 0h2m-95 1h2m13 0h2m66 0h2m-96 1h2m98 0h2m-29 1h2m22 1h2m-27 1h2m-2 0h2m-43 1h2m-1 0h2m32 0h2m-24 1h2m-46 1h2m-7 1h2m7 0h2m58 0h2m-60 1h2m-1 0h2m94 0h2m8 0h2m-70 1h2m-30 1h2m80 0h2m2 0h2m-83 1h2m-26 1h2m9 0h2m1 0h2m77 0h2m-91 1h2m14 0h2m88 0h2m3 0h2m-99 1h2m67 1h2m6 0h2m-103 1h2m10 0h2m70 0h2m8 0h2m7 1h2m-87 1h2m2 0h2m93 0h2m-107 1h2m37 0h2m-36 1h2m3 0h2m94 0h2m1 0h2m-6 1h2m-103 1h2m-11 1h2m78 1h2m10 0h2m17 0h2m-103 1h2m48 1h2m-1 0h2m0 0h2m17 0h2m31 0h2m2 0h2m-112 1h2m43 0h2m7 0h2m44 1h2m-40 1h2m8 0h2m15 0h2m-95 1h2m3 0h2m-1 0h2m10 0h2m85 0h2m-115 1h2m46 1h2m-29 1h2m83 1h2m-94 1h2m12 0h2m67 0h2m-7 1h2m-84 1h2m0 0h2m-2 0h2m15 0h2m66 0h2m15 0h2m-104 1h2m50 0h2m40 0h2m-5 1h2m-9 1h2m-37 1h2m49 0h2m0 0h2m-106 1h2m32 0h2m21 0h2m21 0h2m-87 1h2m94 0h2m-101 1h2m94 0h2m-90 1h2m2 0h2m62 0h2m2 0h2m-80 1h2m3 1h2m90 0h2m4 0h2m12 0h2m-99 1h2m72 0h2m-88 1h2m68 0h2m15 0h2m-89 1h2m3 0h2m-11 1h2m67 0h2m8 0h2m12 0h2m5 0h2m-97 2h2m81 0h2m6 0h2m-69 1h2m49 0h2m-92 1h2m27 0h2m84 0h2m-99 1h2m-14 1h2m25 0h2m75 0h2m-102 1h2m89 0h2m17 0h2m-111 1h2m58 0h2m24 0h2m-81 1h2m84 0h2m-83 1h2m74 0h2m-50 1h2m-38 1h2m88 0h2m-88 1h2m57 0h2m-2 0h2m17 0h2m16 0h2m-111 1h2m106 0h2m-54 1h2m12 0h2m11 0h2m13 0h2m11 0h2m1 0h2m-114 1h2m101 0h2m-105 1h2m-1 0h2m32 0h2m56 0h2m16 0h2m-17 2h2m2 0h2m-83 1h2m13 1h2m61 0h2m-43 1h2m29 0h2m1 0h2m-39 1h2m46 0h2m-106 1h2m90 0h2m-89 1h2m22 0h2m6 0h2m28 0h2m22 0h2m0 0h2m-93 1h2m88 0h2m11 0h2m-104 1h2m27 0h2m20 0h2m55 0h2m-105 1h2m35 0h2m16 0h2m32 0h2m2 0h2m-72 1h2m30 0h2m-11 2h2m2 0h2m-53 1h2m64 0h2m35 0h2m-90 1h2m-28 1h2m13 0h2m69 0h2m-81 1h2m9 1h2m23 0h2m22 1h2m-67 1h2m94 0h2m-89 1h2m82 2h2m16 0h2m-15 1h2m2 0h2m-10 1h2m-89 1h2m3 0h2m-1 0h2m50 0h2m32 0h2m-1 0h2m-96 1h2m88 0h2m-94 1h2m74 0h2m-64 1h2m5 0h2m71 0h2m-1 0h2m-50 1h2m0 0h2m-57 1h2m12 0h2m82 0h2m-97 2h2m9 0h2m66 1h2m16 0h2m-60 1h2m51 1h2m-77 1h2m20 0h2m43 0h2m-90 1h2m8 1h2m3 0h2m35 0h2m2 1h2m39 0h2m-55 2h2m6 0h2m22 1h2m-71 1h2m73 1h2m-40 1h2m61 1h2m-59 1h2m51 0h2m-80 1h2m22 0h2m39 1h2m14 0h2m-23 1h2" stroke="#97c1e8" stroke-width="1.60" opacity="1.0" filter="url(#soft)"/>
<path transform="scale(.5)" d="M296 573h2m44 2h2m-6 1h2m12 0h2m-25 1h2m-34 1h2m25 0h2m4 0h2m52 0h2m-50 1h2m-23 2h2m2 1h2m-17 2h2m1 0h2m38 0h2m7 0h2m13 1h2m-2 0h2m4 0h2m-54 1h2m2 0h2m30 0h2m17 0h2m-81 1h2m12 0h2m48 0h2m-77 1h2m33 0h2m21 0h2m18 0h2m13 0h2m-79 1h2m4 0h2m-1 0h2m8 0h2m17 0h2m28 0h2m11 0h2m-73 1h2m21 0h2m0 0h2m1 0h2m0 0h2m0 0h2m4 0h2m-29 1h2m-32 1h2m1 0h2m-1 0h2m14 0h2m3 0h2m11 0h2m57 0h2m-94 1h2m4 0h2m0 0h2m18 0h2m18 0h2m2 0h2m-57 1h2m45 0h2m17 0h2m0 0h2m-71 1h2m13 0h2m9 0h2m56 0h2m-1 0h2m-1 0h2m1 0h2m2 0h2m1 0h2m-110 1h2m58 0h2m1 0h2m-2 0h2m-2 0h2m6 0h2m14 0h2m15 0h2m-52 1h2m8 0h2m2 0h2m-19 1h2m15 0h2m18 0h2m15 0h2m-104 1h2m37 0h2m12 0h2m8 0h2m-2 0h2m32 0h2m-69 1h2m10 0h2m2 0h2m13 0h2m0 0h2m2 0h2m10 0h2m7 0h2m3 0h2m-89 1h2m0 0h2m29 0h2m15 0h2m3 0h2m1 0h2m17 0h2m-53 1h2m12 0h2m4 0h2m0 0h2m1 0h2m6 0h2m26 0h2m2 0h2m-71 1h2m3 0h2m0 0h2m9 0h2m3 0h2m10 0h2m11 0h2m6 0h2m-1 0h2m14 0h2m-100 1h2m7 0h2m-1 0h2m6 0h2m6 0h2m1 0h2m18 0h2m10 0h2m10 0h2m24 0h2m7 0h2m-79 1h2m1 0h2m4 0h2m12 0h2m4 0h2m11 0h2m0 0h2m2 0h2m5 0h2m21 0h2m-101 1h2m14 0h2m12 0h2m0 0h2m5 0h2m22 0h2m14 0h2m1 0h2m-85 1h2m11 0h2m7 0h2m20 0h2m6 0h2m6 0h2m0 0h2m12 0h2m5 0h2m7 0h2m-93 1h2m10 0h2m55 0h2m1 0h2m9 0h2m-93 1h2m31 0h2m23 0h2m12 0h2m25 0h2m0 0h2m-68 1h2m7 0h2m0 0h2m-1 0h2m1 0h2m13 0h2m3 0h2m5 0h2m6 0h2m6 0h2m-72 1h2m-1 0h2m-2 0h2m-2 0h2m2 0h2m4 0h2m-2 0h2m8 0h2m31 0h2m-2 0h2m10 0h2m18 0h2m-101 1h2m7 0h2m0 0h2m0 0h2m16 0h2m-2 0h2m4 0h2m2 0h2m15 0h2m37 0h2m-100 1h2m5 0h2m11 0h2m4 0h2m18 0h2m2 0h2m-1 0h2m10 0h2m14 0h2m0 0h2m-68 1h2m0 0h2m11 0h2m17 0h2m18 0h2m-2 0h2m12 0h2m12 0h2m-104 1h2m0 0h2m16 0h2m1 0h2m-1 0h2m33 0h2m31 0h2m-44 1h2m3 0h2m17 0h2m3 0h2m12 0h2m-56 1h2m0 0h2m13 0h2m17 0h2m-83 1h2m24 0h2m8 0h2m17 0h2m8 0h2m20 0h2m-69 1h2m0 0h2m11 0h2m1 0h2m-1 0h2m30 0h2m10 0h2m1 0h2m13 0h2m1 0h2m-75 1h2m39 0h2m5 0h2m3 0h2m18 0h2m-99 1h2m13 0h2m22 0h2m23 0h2m1 0h2m9 0h2m-1 0h2m0 0h2m2 0h2m2 0h2m5 0h2m-87 1h2m38 0h2m18 0h2m1 0h2m2 0h2m0 0h2m0 0h2m0 0h2m2 0h2m-97 1h2m50 0h2m21 0h2m0 0h2m6 0h2m-79 1h2m20 0h2m-1 0h2m24 0h2m2 0h2m32 0h2m1 0h2m19 0h2m-120 1h2m43 0h2m-2 0h2m1 0h2m0 0h2m-38 1h2m12 0h2m2 0h2m1 0h2m18 0h2m11 0h2m35 0h2m-96 1h2m3 0h2m14 0h2m9 0h2m43 0h2m5 0h2m-87 1h2m9 0h2m31 0h2m5 0h2m-1 0h2m7 0h2m3 0h2m1 0h2m-53 1h2m0 0h2m6 0h2m39 0h2m3 0h2m18 0h2m-99 1h2m4 0h2m7 0h2m17 0h2m0 0h2m7 0h2m10 0h2m0 0h2m0 0h2m31 0h2m-87 1h2m13 0h2m10 0h2m3 0h2m2 0h2m20 0h2m0 0h2m0 0h2m-68 1h2m27 0h2m-2 0h2m28 0h2m3 0h2m26 0h2m-105 1h2m12 0h2m24 0h2m28 0h2m3 0h2m7 0h2m-1 0h2m-86 1h2m59 0h2m12 0h2m-18 1h2m-48 1h2m0 0h2m3 0h2m5 0h2m11 0h2m-2 0h2m5 0h2m-2 0h2m14 0h2m1 0h2m7 0h2m-76 1h2m6 0h2m39 0h2m18 0h2m6 0h2m6 0h2m9 0h2m-97 1h2m5 0h2m2 0h2m28 0h2m-1 0h2m-39 1h2m1 0h2m5 0h2m11 0h2m49 0h2m7 0h2m8 0h2m-94 1h2m3 0h2m8 0h2m-2 0h2m9 0h2m5 0h2m24 0h2m15 0h2m12 0h2m-49 1h2m8 0h2m14 0h2m17 0h2m-2 0h2m17 0h2m-113 1h2m12 0h2m-1 0h2m0 0h2m21 0h2m18 0h2m5 0h2m3 0h2m25 0h2m-96 1h2m10 0h2m0 0h2m1 0h2m0 0h2m4 0h2m-31 1h2m36 0h2m29 0h2m8 0h2m-77 1h2m1 0h2m33 0h2m19 0h2m16 0h2m-59 1h2m-2 0h2m10 0h2m2 0h2m4 0h2m23 0h2m4 0h2m-1 0h2m10 0h2m8 0h2m-113 1h2m0 0h2m10 0h2m20 0h2m0 0h2m8 0h2m13 0h2m-54 1h2m8 0h2m11 0h2m56 0h2m7 0h2m-91 1h2m32 0h2m0 0h2m8 0h2m3 0h2m17 0h2m9 0h2m10 0h2m-95 1h2m17 0h2m16 0h2m6 0h2m9 0h2m18 0h2m-92 1h2m41 0h2m12 0h2m0 0h2m21 0h2m9 0h2m-88 1h2m34 0h2m34 0h2m-8 1h2m3 0h2m4 0h2m12 0h2m-65 1h2m-1 0h2m1 0h2m16 0h2m27 0h2m4 0h2m8 0h2m1 0h2m5 0h2m2 0h2m-104 1h2m11 0h2m31 0h2m31 0h2m13 0h2m-98 1h2m5 0h2m28 0h2m1 0h2m-1 0h2m-1 0h2m1 0h2m0 0h2m24 0h2m6 0h2m3 0h2m0 0h2m-82 1h2m4 0h2m23 0h2m3 0h2m32 0h2m4 0h2m3 0h2m-80 1h2m25 0h2m11 0h2m26 0h2m12 0h2m-78 1h2m11 0h2m-1 0h2m26 0h2m18 0h2m-73 1h2m13 0h2m32 0h2m21 0h2m-81 1h2m9 0h2m10 0h2m-1 0h2m2 0h2m-2 0h2m1 0h2m6 0h2m13 0h2m-1 0h2m-2 0h2m-1 0h2m6 0h2m9 0h2m-1 0h2m-83 1h2m9 0h2m-2 0h2m13 0h2m42 0h2m4 0h2m5 0h2m-78 1h2m31 0h2m-44 1h2m5 0h2m9 0h2m13 0h2m-26 1h2m5 0h2m9 0h2m21 0h2m0 0h2m10 0h2m0 0h2m-1 0h2m-2 0h2m15 0h2m-85 1h2m-1 0h2m43 0h2m12 0h2m5 0h2m12 0h2m-67 1h2m8 0h2m8 0h2m6 0h2m4 0h2m1 0h2m-1 0h2m1 0h2m14 0h2m15 0h2m12 0h2m-108 1h2m25 0h2m7 0h2m4 0h2m4 0h2m-47 1h2m31 0h2m-24 1h2m5 0h2m2 0h2m5 0h2m6 0h2m13 0h2m-1 0h2m26 0h2m1 0h2m-91 1h2m20 0h2m6 0h2m6 0h2m0 0h2m33 0h2m6 0h2m-59 1h2m26 0h2m-1 0h2m1 0h2m5 0h2m-57 1h2m6 0h2m2 0h2m-1 0h2m16 0h2m29 0h2m7 0h2m5 0h2m3 0h2m13 0h2m-72 1h2m0 0h2m23 0h2m30 0h2m6 0h2m-97 1h2m3 0h2m-2 0h2m25 0h2m8 0h2m18 0h2m15 0h2m4 0h2m-96 1h2m17 0h2m30 0h2m17 0h2m27 0h2m-91 1h2m37 0h2m8 0h2m12 0h2m11 0h2m-2 0h2m13 0h2m-100 1h2m18 0h2m5 0h2m2 0h2m0 0h2m6 0h2m25 0h2m9 0h2m23 0h2m-97 1h2m5 0h2m9 0h2m21 0h2m-1 0h2m17 0h2m31 0h2m-51 1h2m5 0h2m48 0h2m-100 1h2m12 0h2m32 0h2m-1 0h2m2 0h2m-2 0h2m-1 0h2m15 0h2m-90 1h2m11 0h2m5 0h2m4 0h2m30 0h2m9 0h2m-1 0h2m17 0h2m16 0h2m-97 1h2m-1 0h2m-1 0h2m26 0h2m-1 0h2m25 0h2m4 0h2m7 0h2m7 0h2m-61 1h2m28 0h2m22 0h2m-95 1h2m12 0h2m1 0h2m-2 1h2m10 0h2m2 0h2m-1 1h2m36 0h2m18 0h2m4 0h2m-63 1h2m7 0h2m9 0h2m0 0h2m6 0h2m8 0h2m23 0h2m-81 1h2m53 0h2m-51 1h2m2 0h2m21 0h2m27 0h2m25 0h2m-43 1h2m6 0h2m9 0h2m7 0h2m-77 1h2m18 0h2m19 0h2m0 0h2m15 0h2m16 0h2m-95 1h2m17 0h2m-2 0h2m10 0h2m56 0h2m5 0h2m-91 1h2m2 0h2m31 0h2m4 0h2m6 0h2m-46 1h2m10 0h2m9 0h2m9 0h2m-36 1h2m14 0h2m27 0h2m7 0h2m1 0h2m12 0h2m2 0h2m-77 1h2m53 0h2m6 0h2m-70 1h2m4 0h2m4 0h2m52 0h2m4 0h2m9 0h2m-71 1h2m32 0h2m2 0h2m0 0h2m25 0h2m14 0h2m-112 1h2m4 0h2m56 0h2m0 0h2m16 0h2m-57 1h2m38 0h2m15 0h2m-48 1h2m7 0h2m8 0h2m2 0h2m-40 1h2m0 0h2m30 0h2m5 0h2m23 0h2m9 0h2m-61 1h2m0 0h2m5 0h2m51 0h2m-80 1h2m2 0h2m26 0h2m-8 1h2m-51 2h2m2 0h2m42 0h2m-21 1h2m0 0h2m17 0h2m8 1h2m-66 1h2m51 1h2m-27 2h2m0 1h2m9 1h2m37 0h2m-30 2h2m25 1h2m9 0h2m-16 1h2m-7 1h2m23 1h2m-39 2h2m-37 2h2m32 1h2" stroke="#e0606b" stroke-width="1.60" opacity="1.0" filter="url(#soft)"/>
<path transform="scale(.5)" d="M299 573h2m-10 1h2m60 1h2m-56 3h2m13 0h2m26 4h2m-46 1h2m0 1h2m-8 1h2m13 0h2m74 1h2m5 0h2m-109 2h2m95 0h2m-52 1h2m39 0h2m-72 1h2m61 0h2m-33 1h2m22 0h2m21 1h2m-36 1h2m-40 1h2m7 1h2m68 0h2m-92 1h2m8 0h2m-2 0h2m-15 1h2m27 0h2m-32 1h2m31 0h2m35 0h2m-80 1h2m10 0h2m9 0h2m48 0h2m26 0h2m-5 2h2m-42 1h2m23 0h2m-2 0h2m0 0h2m11 0h2m-95 1h2m90 0h2m-33 1h2m0 1h2m-39 1h2m67 0h2m-94 1h2m63 0h2m32 0h2m-108 1h2m2 0h2m5 0h2m38 0h2m53 0h2m-105 1h2m91 0h2m-59 1h2m40 0h2m17 0h2m-107 1h2m35 0h2m34 0h2m11 1h2m-76 1h2m46 0h2m1 1h2m50 0h2m-91 1h2m69 0h2m-98 1h2m3 1h2m97 0h2m-92 1h2m39 0h2m51 0h2m-1 0h2m4 0h2m-108 1h2m40 0h2m48 0h2m7 0h2m-103 1h2m1 0h2m98 0h2m6 1h2m-105 1h2m51 0h2m38 0h2m2 1h2m-116 1h2m105 0h2m-94 1h2m41 2h2m25 1h2m10 0h2m17 0h2m-43 1h2m22 0h2m-89 1h2m44 0h2m-9 1h2m50 1h2m-90 1h2m42 0h2m4 1h2m-62 1h2m12 0h2m88 0h2m-97 1h2m-1 0h2m-2 1h2m77 0h2m5 0h2m8 0h2m-109 1h2m15 0h2m-1 0h2m60 0h2m-84 1h2m15 0h2m78 0h2m3 0h2m-49 1h2m-45 1h2m45 0h2m20 0h2m24 0h2m-104 1h2m10 0h2m5 0h2m64 0h2m-81 1h2m6 0h2m-12 1h2m72 0h2m-18 1h2m27 0h2m-100 1h2m4 0h2m-1 0h2m5 0h2m27 0h2m52 0h2m3 1h2m-42 2h2m33 0h2m18 0h2m-110 1h2m-1 0h2m16 0h2m69 0h2m4 0h2m-24 1h2m-79 1h2m1 0h2m1 1h2m71 0h2m15 1h2m1 0h2m7 0h2m-106 2h2m80 0h2m-89 1h2m101 0h2m-102 1h2m13 0h2m16 0h2m68 0h2m-110 1h2m70 0h2m14 0h2m8 0h2m10 0h2m6 0h2m-108 1h2m70 0h2m23 0h2m-90 1h2m-17 1h2m42 0h2m42 0h2m-1 0h2m-94 1h2m2 0h2m17 0h2m56 0h2m20 1h2m-101 1h2m0 0h2m-1 0h2m83 0h2m22 0h2m-121 2h2m13 0h2m16 0h2m37 0h2m2 0h2m-16 1h2m10 0h2m-67 1h2m37 0h2m52 0h2m0 0h2m-25 1h2m19 0h2m13 0h2m-95 1h2m-14 1h2m38 0h2m0 0h2m24 0h2m11 0h2m-16 1h2m28 0h2m10 0h2m-27 1h2m15 0h2m-5 1h2m-73 1h2m68 0h2m-40 1h2m25 0h2m-75 1h2m46 0h2m10 0h2m-29 2h2m38 0h2m-93 1h2m87 0h2m3 0h2m1 0h2m-98 1h2m-2 0h2m66 1h2m-1 0h2m14 0h2m5 0h2m-97 1h2m21 0h2m36 0h2m-46 1h2m56 0h2m17 0h2m9 0h2m-76 2h2m-27 1h2m12 0h2m1 0h2m35 1h2m40 0h2m-100 1h2m4 0h2m36 1h2m40 0h2m6 0h2m-98 1h2m3 0h2m35 0h2m39 0h2m-8 1h2m9 0h2m11 0h2m4 0h2m-23 1h2m-85 1h2m83 1h2m-68 1h2m37 1h2m-59 2h2m26 0h2m53 0h2m11 0h2m-98 1h2m-2 0h2m5 0h2m79 0h2m-87 1h2m11 0h2m9 0h2m11 0h2m-52 1h2m83 0h2m-36 1h2m44 0h2m12 0h2m-69 2h2m34 0h2m-1 0h2m12 0h2m-87 1h2m47 0h2m14 0h2m16 0h2m-95 1h2m0 0h2m68 0h2m26 0h2m-92 1h2m30 0h2m63 0h2m-111 2h2m57 0h2m-52 1h2m0 0h2m68 0h2m-71 3h2m39 0h2m49 1h2m-53 1h2m0 2h2m-50 1h2m38 0h2m-30 2h2m79 6h2m-7 1h2m-51 3h2" stroke="#97c1e8" stroke-width="1.60" opacity="1.0" filter="url(#soft)"/>
<path transform="scale(.5)" d="M292 577h2m14 0h2m-7 1h2m72 0h2m3 1h2m-46 1h2m0 0h2m-52 1h2m73 0h2m-40 1h2m30 1h2m-7 1h2m8 0h2m-1 0h2m10 0h2m-47 1h2m11 0h2m32 0h2m-49 1h2m13 0h2m0 0h2m14 0h2m-61 1h2m15 0h2m5 0h2m24 0h2m28 0h2m-98 1h2m18 0h2m5 0h2m15 0h2m16 0h2m8 0h2m20 0h2m-88 1h2m10 0h2m-21 1h2m10 0h2m10 0h2m-1 0h2m20 0h2m7 0h2m11 0h2m10 0h2m6 0h2m-45 1h2m5 0h2m7 0h2m25 0h2m5 0h2m-64 1h2m25 0h2m0 0h2m14 0h2m-39 1h2m17 0h2m21 0h2m-1 0h2m-2 0h2m-93 1h2m32 0h2m-4 1h2m9 0h2m13 0h2m3 0h2m5 0h2m15 0h2m0 0h2m-82 1h2m9 0h2m54 0h2m13 0h2m-69 1h2m13 0h2m26 0h2m8 0h2m6 0h2m8 0h2m-90 1h2m34 0h2m39 0h2m-64 1h2m54 0h2m5 0h2m16 0h2m-81 1h2m2 0h2m-1 0h2m0 0h2m14 0h2m1 0h2m32 0h2m-73 1h2m13 0h2m9 0h2m-1 0h2m7 0h2m25 0h2m-1 0h2m5 0h2m4 0h2m-77 1h2m-1 0h2m18 0h2m10 0h2m-1 0h2m35 0h2m-64 1h2m14 0h2m16 0h2m13 0h2m7 0h2m2 1h2m-83 1h2m8 0h2m1 0h2m-2 0h2m5 0h2m-1 0h2m20 0h2m1 0h2m1 0h2m1 0h2m8 0h2m2 0h2m0 0h2m19 0h2m3 0h2m-82 1h2m5 0h2m-1 0h2m6 0h2m0 0h2m25 0h2m0 0h2m4 0h2m9 0h2m5 0h2m-73 1h2m3 0h2m24 0h2m9 0h2m0 0h2m4 0h2m1 0h2m-65 1h2m20 0h2m26 0h2m12 0h2m11 0h2m-77 1h2m0 0h2m33 0h2m1 0h2m2 0h2m-1 0h2m3 0h2m15 0h2m0 0h2m12 0h2m-33 1h2m38 0h2m7 0h2m-86 1h2m2 0h2m18 0h2m15 0h2m4 0h2m1 0h2m-66 1h2m17 0h2m11 0h2m53 0h2m0 0h2m4 0h2m-98 1h2m47 0h2m3 0h2m-2 0h2m3 0h2m-1 0h2m2 0h2m18 0h2m-82 1h2m42 0h2m2 0h2m3 0h2m-2 0h2m1 0h2m15 0h2m-2 0h2m15 0h2m-81 1h2m6 0h2m5 0h2m3 0h2m35 0h2m5 0h2m0 0h2m-78 1h2m28 0h2m33 0h2m10 0h2m-92 1h2m0 0h2m5 0h2m44 0h2m0 0h2m0 0h2m-1 0h2m1 0h2m4 0h2m3 0h2m1 0h2m1 0h2m-37 1h2m2 0h2m3 0h2m17 0h2m16 0h2m15 0h2m-96 1h2m4 0h2m28 0h2m6 0h2m8 0h2m-41 1h2m24 0h2m21 0h2m6 0h2m25 0h2m-114 1h2m19 0h2m5 0h2m40 0h2m24 0h2m-100 1h2m14 0h2m16 0h2m0 0h2m58 0h2m-79 1h2m2 0h2m1 0h2m0 0h2m-1 0h2m15 0h2m7 0h2m-2 0h2m47 0h2m-99 1h2m7 0h2m14 0h2m2 0h2m19 0h2m39 0h2m2 0h2m-40 1h2m-44 1h2m11 0h2m6 0h2m9 0h2m29 0h2m3 0h2m9 0h2m-72 1h2m3 0h2m5 0h2m14 0h2m2 0h2m18 0h2m-70 1h2m-2 0h2m10 0h2m15 0h2m23 0h2m13 0h2m-75 1h2m0 0h2m22 0h2m8 0h2m21 0h2m6 0h2m3 0h2m21 0h2m-97 1h2m3 0h2m14 0h2m0 0h2m1 0h2m7 0h2m6 0h2m4 0h2m9 0h2m5 0h2m1 0h2m-2 0h2m2 0h2m10 0h2m-99 1h2m1 0h2m16 0h2m19 0h2m16 0h2m17 0h2m-1 0h2m0 0h2m7 0h2m-75 1h2m33 0h2m-1 0h2m42 0h2m-105 1h2m2 0h2m17 0h2m25 0h2m-2 0h2m-1 0h2m-2 0h2m64 0h2m-63 1h2m13 0h2m4 0h2m22 0h2m16 0h2m-92 1h2m5 0h2m15 0h2m20 0h2m10 0h2m16 0h2m1 0h2m-90 1h2m1 0h2m30 0h2m5 0h2m19 0h2m11 0h2m12 0h2m-100 1h2m15 0h2m12 0h2m55 0h2m3 0h2m-88 1h2m8 0h2m18 0h2m65 0h2m-87 1h2m4 0h2m16 0h2m15 0h2m-1 0h2m-39 1h2m-30 1h2m6 0h2m1 0h2m4 0h2m25 0h2m5 0h2m0 0h2m2 0h2m10 0h2m-68 1h2m17 0h2m22 0h2m10 0h2m13 0h2m0 0h2m-60 1h2m46 0h2m7 0h2m-2 0h2m2 0h2m4 0h2m-1 0h2m-2 0h2m2 0h2m4 0h2m-75 1h2m19 0h2m9 0h2m21 0h2m4 0h2m1 0h2m-1 0h2m-81 1h2m3 0h2m3 0h2m5 0h2m29 0h2m1 0h2m-2 0h2m23 0h2m-73 1h2m11 0h2m7 0h2m2 0h2m-2 0h2m-1 0h2m7 0h2m-1 0h2m20 0h2m7 0h2m11 0h2m-98 1h2m35 0h2m11 0h2m2 0h2m11 0h2m10 0h2m3 0h2m-76 1h2m3 0h2m9 0h2m13 0h2m4 0h2m36 0h2m7 0h2m0 0h2m3 0h2m0 0h2m2 0h2m-94 1h2m1 0h2m1 0h2m5 0h2m0 0h2m8 0h2m17 0h2m-52 1h2m1 0h2m8 0h2m1 0h2m48 0h2m8 0h2m5 0h2m6 0h2m-67 1h2m-2 0h2m4 0h2m9 0h2m1 0h2m20 0h2m14 0h2m0 0h2m6 0h2m-92 1h2m4 0h2m8 0h2m22 0h2m15 0h2m8 0h2m-78 1h2m4 0h2m-2 0h2m-2 0h2m6 0h2m22 0h2m4 0h2m0 0h2m32 0h2m-72 1h2m30 0h2m7 0h2m13 0h2m-1 0h2m4 0h2m6 0h2m1 0h2m-85 1h2m18 0h2m5 0h2m28 0h2m25 0h2m5 0h2m-90 1h2m23 0h2m19 0h2m4 0h2m1 0h2m10 0h2m-77 1h2m2 0h2m5 0h2m5 0h2m-1 0h2m2 0h2m11 0h2m17 0h2m5 0h2m17 0h2m-81 1h2m25 0h2m1 0h2m18 0h2m2 0h2m6 0h2m4 0h2m9 0h2m-86 1h2m19 0h2m2 0h2m3 0h2m2 0h2m-1 0h2m7 0h2m15 0h2m1 0h2m23 0h2m18 0h2m-2 0h2m-93 1h2m0 0h2m5 0h2m9 0h2m3 0h2m4 0h2m1 0h2m11 0h2m3 0h2m2 0h2m-1 0h2m15 0h2m3 0h2m-94 1h2m13 0h2m16 0h2m5 0h2m7 0h2m4 0h2m28 0h2m-75 1h2m13 0h2m17 0h2m15 0h2m8 0h2m-28 1h2m10 0h2m-1 0h2m19 0h2m-2 0h2m3 0h2m7 0h2m-73 1h2m12 0h2m-1 0h2m6 0h2m2 0h2m4 0h2m2 0h2m13 0h2m6 0h2m0 0h2m4 0h2m-44 1h2m11 0h2m4 0h2m9 0h2m1 0h2m1 0h2m-82 1h2m52 0h2m10 0h2m21 0h2m-75 1h2m8 0h2m11 0h2m1 0h2m13 0h2m4 0h2m9 0h2m2 0h2m0 0h2m4 0h2m10 0h2m-2 0h2m5 0h2m-73 1h2m4 0h2m12 0h2m-1 0h2m1 0h2m1 0h2m-2 0h2m5 0h2m4 0h2m-85 1h2m28 0h2m83 0h2m-119 1h2m23 0h2m9 0h2m24 0h2m22 0h2m-2 0h2m17 0h2m6 0h2m-82 1h2m14 0h2m18 0h2m9 0h2m7 0h2m-87 1h2m3 0h2m31 0h2m4 0h2m32 0h2m22 0h2m-89 1h2m22 0h2m8 0h2m-1 0h2m17 0h2m3 0h2m3 0h2m-1 0h2m-75 1h2m17 0h2m3 0h2m-1 0h2m65 0h2m-99 1h2m47 0h2m20 0h2m-39 1h2m18 0h2m23 0h2m-76 1h2m-1 0h2m22 0h2m49 0h2m0 0h2m0 0h2m-83 1h2m90 0h2m7 0h2m-93 1h2m7 0h2m0 0h2m31 0h2m12 0h2m11 0h2m9 0h2m-98 1h2m18 0h2m0 0h2m-2 0h2m2 0h2m0 0h2m19 0h2m0 0h2m3 0h2m16 0h2m6 0h2m11 0h2m-91 1h2m55 0h2m-68 1h2m3 0h2m0 0h2m1 0h2m-1 0h2m6 0h2m39 0h2m8 0h2m29 0h2m-99 1h2m1 0h2m14 0h2m0 0h2m7 0h2m1 0h2m18 0h2m3 0h2m-1 0h2m2 0h2m7 0h2m-55 1h2m20 0h2m-1 0h2m2 0h2m4 0h2m28 0h2m5 0h2m6 0h2m-76 1h2m13 0h2m40 0h2m-64 1h2m8 0h2m18 0h2m-1 0h2m1 0h2m14 0h2m-77 1h2m1 0h2m30 0h2m42 0h2m3 0h2m13 0h2m-53 1h2m12 0h2m9 0h2m-80 1h2m10 0h2m0 0h2m3 0h2m3 0h2m0 0h2m10 0h2m25 0h2m0 0h2m6 0h2m37 0h2m-92 1h2m11 0h2m24 0h2m18 0h2m-31 1h2m7 0h2m6 0h2m6 0h2m-2 0h2m11 0h2m-79 1h2m2 0h2m3 0h2m13 0h2m14 0h2m4 0h2m-1 0h2m1 0h2m19 0h2m10 0h2m2 0h2m-94 1h2m-2 0h2m29 0h2m24 0h2m7 0h2m-51 1h2m10 0h2m10 0h2m1 0h2m3 0h2m52 0h2m-111 1h2m28 0h2m50 0h2m19 0h2m-77 1h2m18 0h2m6 0h2m-1 0h2m8 0h2m10 0h2m-1 0h2m9 0h2m-72 1h2m6 0h2m4 1h2m54 0h2m-76 1h2m2 0h2m26 0h2m50 0h2m3 0h2m-80 1h2m7 0h2m-1 0h2m7 0h2m19 0h2m18 0h2m9 0h2m-72 1h2m28 0h2m-56 1h2m45 0h2m20 0h2m-57 1h2m54 0h2m27 0h2m-50 1h2m7 0h2m0 0h2m-6 1h2m33 0h2m-24 1h2m22 0h2m-25 1h2m20 0h2m-89 1h2m32 0h2m18 0h2m9 0h2m-8 1h2m6 0h2m-29 1h2m8 0h2m-33 2h2m-28 1h2m96 0h2m-55 3h2m9 0h2m3 0h2m-25 2h2m40 0h2m-58 4h2m1 0h2m49 0h2m5 2h2m-37 3h2m24 1h2m-24 4h2" stroke="#e0606b" stroke-width="1.60" opacity="1.0" filter="url(#soft)"/>
<path d="M182.6 320.8h1.9M147.7 316.3h1.9M154.9 309.9h1.9M169.8 292.7h1.9M160.2 303.8h1.9M145.6 316.9h1.9M180.1 317.5h1.9M183.4 311.0h1.9M165.3 305.5h1.9M170.1 311.0h1.9M194.2 312.1h1.9M176.2 318.7h1.9M155.2 323.0h1.9M167.8 295.5h1.9M170.8 294.9h1.9M176.1 318.4h1.9M165.5 300.0h1.9M188.0 321.0h1.9M169.5 292.6h1.9M169.1 303.7h1.9M163.5 322.3h1.9M162.5 303.3h1.9M160.5 331.6h1.9M178.6 323.2h1.9M177.9 320.8h1.9M175.5 299.3h1.9M169.9 308.7h1.9M181.1 311.0h1.9M167.4 313.0h1.9M162.5 294.9h1.9M189.9 314.6h1.9M149.7 312.9h1.9M190.3 326.4h1.9M150.7 298.3h1.9M187.5 295.3h1.9M167.0 296.9h1.9M181.5 313.4h1.9M148.2 309.4h1.9M180.1 322.8h1.9M166.5 306.9h1.9M159.3 301.9h1.9M181.5 303.7h1.9M177.4 301.1h1.9M189.7 298.2h1.9M169.7 296.1h1.9M159.7 311.1h1.9M158.6 306.7h1.9M173.6 299.5h1.9M157.7 299.2h1.9M160.5 311.1h1.9M176.8 327.2h1.9M174.2 309.0h1.9M149.6 316.2h1.9M159.6 309.7h1.9M162.3 328.0h1.9M173.2 325.5h1.9M185.8 307.7h1.9M161.6 319.0h1.9M172.5 325.0h1.9M166.4 313.8h1.9M169.2 306.0h1.9M167.1 291.1h1.9M171.0 327.3h1.9M147.1 305.9h1.9M181.0 313.1h1.9M165.3 292.8h1.9M148.9 307.9h1.9M173.0 301.7h1.9M172.4 291.6h1.9M158.5 305.8h1.9M173.6 322.4h1.9M167.9 310.9h1.9M159.9 313.2h1.9M176.6 323.1h1.9M172.1 294.7h1.9M155.3 304.9h1.9M155.3 323.6h1.9M178.4 327.8h1.9M184.8 312.2h1.9M184.5 327.7h1.9M190.1 319.0h1.9M166.3 307.9h1.9M163.6 304.8h1.9M183.1 305.9h1.9M183.5 294.6h1.9M156.9 308.5h1.9M187.7 313.1h1.9M164.8 333.0h1.9M165.7 323.4h1.9M162.8 303.9h1.9M164.8 324.8h1.9M158.1 307.6h1.9M181.5 331.5h1.9M180.1 319.4h1.9M170.5 296.0h1.9M183.9 312.8h1.9M189.7 298.3h1.9M170.8 299.4h1.9M170.4 324.2h1.9M183.8 295.7h1.9" stroke="#1b1b1b" stroke-width="1.9"/>
<path d="M167.4 357.1h1.9M157.9 335.0h1.9M170.9 344.9h1.9M164.3 364.9h1.9M156.1 353.8h1.9M182.8 363.4h1.9M189.1 349.4h1.9M192.9 346.1h1.9M179.4 345.7h1.9M192.1 349.7h1.9M181.7 347.9h1.9M158.2 361.9h1.9M188.9 346.2h1.9M155.2 349.5h1.9M151.0 345.1h1.9M149.8 336.6h1.9" stroke="#1b1b1b" stroke-width="1.9"/>
<path d="M38.0 290.2 40.4 289.8 42.9 289.0 45.1 288.9 47.4 288.6 50.2 288.8 51.9 288.2 54.1 287.9 56.8 287.8 59.8 288.0 62.2 287.2 64.7 287.3 67.7 287.0 70.8 289.4 73.9 288.6M38.0 305.0 39.9 303.1 41.4 301.4 42.7 300.3 43.5 298.0 44.9 296.0 45.8 294.1 48.9 291.7 51.9 292.2 55.2 292.5 56.8 293.9 58.8 294.9 60.8 295.8 63.0 297.2 65.0 299.5 66.9 301.9 69.3 305.0M76.0 286.0 77.9 284.9 80.0 284.0 82.0 286.2 84.0 289.0 84.4 291.5 85.5 293.7 86.0 296.0 86.1 298.4 85.8 300.3 85.5 303.0 85.0 305.0 86.1 308.0 86.4 311.3M88.0 283.0 87.2 285.7 86.4 288.1 86.0 290.0 85.6 292.2 84.3 295.2 83.5 297.1 83.0 300.0 82.3 302.6 81.3 305.0 80.0 308.0 78.6 310.2 76.9 311.7 76.0 314.0M92.0 284.0 91.5 287.0 91.1 289.0 90.0 292.0 89.5 294.7 89.0 297.2 88.2 299.1 88.0 302.0 87.2 303.9 87.2 306.7 86.9 308.7 86.4 311.3M72.0 296.0 73.7 297.1 76.3 299.1 78.0 300.0 80.4 301.0 81.6 303.1 84.0 304.0 86.0 305.2 88.0 306.0M68.0 312.0 70.2 311.3 72.7 310.6 75.0 310.0 77.4 308.2 79.8 307.6 82.0 306.0M86.4 311.3 87.7 313.6 89.6 315.9 92.0 315.2 93.7 314.4 96.2 313.6 98.7 313.7 100.5 312.8 102.6 314.3 104.5 315.1 106.4 316.3 108.3 317.5 110.7 318.9 112.0 320.2 114.4 321.3 116.1 322.2 118.3 323.7 120.2 325.7 121.9 327.1 123.9 328.4 125.5 330.0 127.6 330.9 129.1 332.5 130.7 333.7 133.1 335.2 134.9 336.3 136.7 337.7 139.2 338.2 141.1 339.4M86.4 311.3 87.0 313.6 87.3 315.7 88.2 318.1 88.4 320.4 89.1 322.0 89.2 324.9 89.6 326.9 89.7 329.0 89.9 331.1 90.5 333.2 90.7 336.2 91.3 338.0 92.0 340.3 91.9 342.5 92.5 345.1 92.5 347.1 92.5 350.2 92.1 352.9 92.7 355.0 94.0 356.5 95.5 358.1 97.4 359.7 99.9 360.5 102.5 362.0 104.5 363.3 106.8 364.4 109.2 364.7 111.9 365.4 114.1 366.0 116.6 365.8 119.3 366.7 121.6 366.1 124.0 366.6 126.7 366.6 129.5 365.7 131.8 365.9 134.7 366.2 136.4 366.0 139.2 365.5 142.2 365.1 144.3 365.2M42.7 341.7 45.4 342.3 48.4 342.1 51.3 342.6 53.6 342.5 55.9 342.5 58.2 343.1 60.1 343.1 62.6 343.5 64.8 344.3 67.0 344.3 69.3 344.8 71.6 345.1 74.0 345.5 76.4 346.2 78.4 345.9 80.1 346.9 82.9 347.0 84.9 347.2 87.0 347.4 89.5 348.1 91.7 348.6 94.0 348.7 95.8 349.8 98.6 350.2 100.5 350.3 102.2 350.7 104.5 351.8 106.9 352.3 108.9 353.0 110.5 354.4 113.0 355.0 115.2 356.4 117.2 357.5 119.3 358.6 121.9 360.3 123.9 361.3 125.7 361.7 128.6 363.0 130.7 363.4 132.6 364.2 134.9 365.2M66.9 338.6 67.8 340.6 68.2 343.3 68.5 345.1 69.3 347.2 71.8 349.9 73.9 351.9 76.0 352.7 77.9 354.1 80.1 354.3 82.8 355.6 84.9 356.6 87.3 357.1 89.6 357.6 91.3 358.8 93.4 359.1 96.2 360.1 98.1 360.3 100.5 361.3 103.0 362.8 105.6 363.6 108.3 365.2M91.0 300.0 93.3 300.7 95.6 301.7 97.4 301.9 99.8 302.9 101.8 303.8 103.6 305.0 105.4 306.1 107.9 307.7 109.2 308.4 111.4 309.7 112.9 308.0 114.5 306.4 115.9 305.0 117.7 303.4 117.7 299.5M81.8 317.5 82.1 320.0 82.3 322.4 81.7 325.0 82.5 327.0 81.8 329.7 82.3 332.2 82.8 334.7 82.7 336.6 82.5 339.4M94.0 287.0 96.0 288.3 98.0 289.0 100.0 287.0M78.0 284.0 78.6 285.6 80.2 288.4 80.6 290.1 82.0 292.0 82.3 294.9 83.5 297.1 84.0 300.0 83.5 302.7 83.5 305.2 83.2 307.4 83.0 310.0 84.1 312.8 84.3 315.4 85.0 318.0M86.0 283.0 87.5 285.5 89.0 287.6 90.0 290.0 91.0 292.8 91.7 295.6 92.0 298.0 92.0 301.0 91.7 303.5 91.0 306.0 91.7 308.9 92.6 311.3 93.0 314.0 92.6 316.3 92.6 319.8 92.0 322.0M74.0 292.0 75.9 293.0 77.7 294.6 80.0 296.0 82.5 297.1 84.9 297.2 88.0 298.0 90.0 297.5 92.9 296.4 95.0 296.0M80.0 304.0 82.6 305.0 86.0 306.0 89.1 305.4 92.0 304.0 93.6 305.0 95.7 306.4 98.0 308.0M96.0 283.0 95.1 285.9 94.8 288.1 94.0 291.0 94.4 293.5 95.0 296.6 96.0 299.0 98.3 301.0 101.0 303.0M70.0 288.0 71.6 290.0 72.5 292.3 74.0 294.0 74.0 296.5 73.4 299.7 73.0 302.0 74.3 303.7 75.3 306.4 77.0 308.0M90.0 318.0 89.3 320.6 88.0 323.3 87.0 326.0 87.5 329.1 88.5 331.1 89.0 334.0" fill="none" stroke="#9a7a48" stroke-width="0.65" stroke-linejoin="round" stroke-linecap="round"/>
<path d="M151.6 280.8 154.0 281.2 157.1 281.9 160.0 282.0 162.6 282.4 164.6 282.3 167.2 282.8 169.8 283.3M169.8 283.3 170.2 285.5 170.1 288.2 170.0 290.0 169.3 292.5 168.7 295.2 168.1 297.8 168.0 300.0 168.7 302.7 168.4 304.6 169.4 306.8 169.6 309.6 170.0 312.0 170.2 314.7 169.9 317.0 169.7 319.7 169.6 322.0 169.0 325.0 169.2 327.2 168.8 330.0 168.3 332.8 168.3 334.8 167.9 337.3 168.1 340.2 168.0 342.5M168.0 342.5 168.4 345.0 168.6 347.2 169.5 350.0 170.0 352.0 170.0 354.6 169.1 356.9 169.4 359.3 169.0 362.0 168.9 364.6 168.2 367.6 168.7 369.5 168.3 372.2 168.0 375.0M168.0 345.0 170.6 346.0 173.2 346.9 176.0 348.0 178.2 348.7 180.3 348.7 183.0 349.3 185.0 350.0 187.9 350.6 190.2 350.8 192.8 351.1 195.0 352.0M168.0 345.0 165.7 346.4 164.2 348.7 161.7 350.2 160.0 352.0 158.3 353.6 155.6 354.8 153.7 356.2 152.0 358.0 149.6 358.9 147.7 360.6 145.0 362.0M170.0 352.0 171.6 353.7 173.4 355.5 174.7 356.6 176.3 358.0 178.0 360.0 179.7 361.7 181.9 363.3 183.4 364.6 185.0 366.0 187.1 366.8 190.0 368.0M170.0 312.0 172.4 313.1 174.6 313.9 177.5 315.3 180.0 316.0 182.3 317.3 183.7 318.6 186.4 319.6 187.9 320.8 190.0 322.0 190.7 324.2 192.4 326.0 193.2 328.3 193.7 330.4 195.0 332.0M169.0 325.0 166.9 325.7 164.2 326.8 162.5 328.2 160.0 329.4 158.0 330.0 155.9 331.2 153.7 332.9 151.7 334.1 150.0 335.0 148.0 336.7 146.1 338.1 144.0 340.0M160.0 300.0 158.4 299.4 156.3 298.1 153.7 297.3 151.8 296.4 150.0 295.0 147.4 294.1 145.6 292.7 143.0 292.0M175.0 290.0 177.0 290.8 178.6 292.1 181.4 294.0 183.1 294.6 185.0 296.0 186.9 297.7 188.4 299.1 190.5 300.1 192.0 302.0M141.0 366.0 143.0 366.5 145.2 366.9 147.8 367.2 150.0 368.0 152.5 368.8 155.1 369.8 157.6 370.6 160.0 372.0" fill="none" stroke="#9a7a48" stroke-width="0.65" stroke-linejoin="round" stroke-linecap="round"/>
<polygon points="168.1,340.2 166.2,344.1 170.0,344.1" fill="#d4861c" />
<rect x="49.5" y="401" width="85.9" height="62.5" rx="14" fill="#e8e8e8" opacity="0.7" filter="url(#blur2)"/>
<path transform="scale(.5)" d="M153 793h2m24 1h2m12 0h2m-31 1h2m34 0h2m48 0h2m-31 2h2m48 0h2m-164 2h2m23 0h2m15 0h2m36 0h2m32 0h2m10 0h2m-113 1h2m90 0h2m39 0h2m-133 1h2m36 0h2m64 0h2m43 0h2m-126 1h2m16 0h2m76 0h2m-115 1h2m21 0h2m2 0h2m-2 0h2m27 0h2m39 0h2m26 0h2m-143 1h2m17 0h2m-1 0h2m12 0h2m6 0h2m2 0h2m13 0h2m25 0h2m0 0h2m49 0h2m1 0h2m-109 1h2m34 0h2m35 0h2m3 0h2m1 0h2m-2 0h2m16 0h2m5 0h2m-134 1h2m15 0h2m-1 0h2m2 0h2m16 0h2m10 0h2m3 0h2m14 0h2m20 0h2m18 0h2m7 0h2m4 0h2m10 0h2m-154 1h2m-1 0h2m0 0h2m10 0h2m9 0h2m0 0h2m-1 0h2m11 0h2m15 0h2m4 0h2m14 0h2m22 0h2m34 0h2m-121 1h2m20 0h2m11 0h2m20 0h2m9 0h2m27 0h2m-2 0h2m2 0h2m4 0h2m18 0h2m0 0h2m-143 1h2m3 0h2m57 0h2m28 0h2m10 0h2m8 0h2m-129 1h2m28 0h2m4 0h2m2 0h2m2 0h2m50 0h2m18 0h2m7 0h2m18 0h2m-152 1h2m5 0h2m3 0h2m16 0h2m-1 0h2m11 0h2m40 0h2m8 0h2m0 0h2m19 0h2m-2 0h2m12 0h2m1 0h2m19 0h2m-158 1h2m9 0h2m5 0h2m0 0h2m3 0h2m3 0h2m-1 0h2m6 0h2m30 0h2m2 0h2m5 0h2m14 0h2m1 0h2m4 0h2m10 0h2m12 0h2m2 0h2m-1 0h2m2 0h2m-141 1h2m3 0h2m27 0h2m4 0h2m12 0h2m10 0h2m2 0h2m-1 0h2m0 0h2m5 0h2m4 0h2m-1 0h2m1 0h2m-2 0h2m9 0h2m17 0h2m14 0h2m8 0h2m-132 1h2m15 0h2m8 0h2m14 0h2m4 0h2m18 0h2m-1 0h2m-2 0h2m6 0h2m2 0h2m-1 0h2m10 0h2m11 0h2m0 0h2m6 0h2m3 0h2m14 0h2m-153 1h2m17 0h2m-1 0h2m1 0h2m3 0h2m4 0h2m2 0h2m8 0h2m5 0h2m11 0h2m25 0h2m10 0h2m6 0h2m16 0h2m8 0h2m3 0h2m-155 1h2m29 0h2m30 0h2m1 0h2m27 0h2m2 0h2m0 0h2m8 0h2m-1 0h2m9 0h2m-135 1h2m6 0h2m7 0h2m17 0h2m24 0h2m4 0h2m3 0h2m3 0h2m9 0h2m11 0h2m31 0h2m1 0h2m31 0h2m-167 1h2m4 0h2m-2 0h2m0 0h2m2 0h2m26 0h2m38 0h2m12 0h2m3 0h2m9 0h2m1 0h2m2 0h2m10 0h2m0 0h2m14 0h2m6 0h2m-150 1h2m14 0h2m3 0h2m18 0h2m9 0h2m6 0h2m60 0h2m-1 0h2m5 0h2m2 0h2m-2 0h2m4 0h2m-1 0h2m1 0h2m-147 1h2m16 0h2m4 0h2m8 0h2m1 0h2m8 0h2m5 0h2m-1 0h2m22 0h2m4 0h2m0 0h2m13 0h2m1 0h2m1 0h2m9 0h2m5 0h2m0 0h2m4 0h2m1 0h2m-2 0h2m-1 0h2m3 0h2m-159 1h2m15 0h2m-2 0h2m39 0h2m9 0h2m-1 0h2m1 0h2m8 0h2m-1 0h2m-2 0h2m0 0h2m3 0h2m9 0h2m0 0h2m2 0h2m1 0h2m-2 0h2m5 0h2m36 0h2m-1 0h2m3 0h2m-157 1h2m1 0h2m-2 0h2m5 0h2m5 0h2m48 0h2m-1 0h2m0 0h2m-1 0h2m12 0h2m9 0h2m3 0h2m6 0h2m8 0h2m6 0h2m-135 1h2m0 0h2m21 0h2m10 0h2m-1 0h2m11 0h2m6 0h2m-1 0h2m6 0h2m4 0h2m19 0h2m7 0h2m6 0h2m-105 1h2m7 0h2m-1 0h2m3 0h2m-2 0h2m6 0h2m2 0h2m1 0h2m20 0h2m20 0h2m-1 0h2m7 0h2m-2 0h2m6 0h2m5 0h2m18 0h2m11 0h2m9 0h2m0 0h2m-138 1h2m2 0h2m7 0h2m0 0h2m15 0h2m-2 0h2m26 0h2m7 0h2m2 0h2m0 0h2m35 0h2m9 0h2m5 0h2m2 0h2m2 0h2m9 0h2m-151 1h2m2 0h2m7 0h2m1 0h2m5 0h2m0 0h2m11 0h2m30 0h2m14 0h2m1 0h2m0 0h2m0 0h2m9 0h2m21 0h2m-132 1h2m17 0h2m4 0h2m13 0h2m2 0h2m33 0h2m14 0h2m6 0h2m0 0h2m22 0h2m4 0h2m8 0h2m4 0h2m-152 1h2m-1 0h2m13 0h2m-2 0h2m1 0h2m6 0h2m12 0h2m5 0h2m-1 0h2m23 0h2m5 0h2m14 0h2m14 0h2m5 0h2m2 0h2m10 0h2m-150 1h2m26 0h2m10 0h2m4 0h2m13 0h2m-2 0h2m1 0h2m2 0h2m0 0h2m8 0h2m-2 0h2m0 0h2m18 0h2m27 0h2m-1 0h2m5 0h2m13 0h2m-149 1h2m54 0h2m15 0h2m3 0h2m14 0h2m-1 0h2m16 0h2m3 0h2m-126 1h2m2 0h2m5 0h2m6 0h2m14 0h2m-1 0h2m5 0h2m25 0h2m14 0h2m17 0h2m14 0h2m3 0h2m17 0h2m-147 1h2m11 0h2m3 0h2m2 0h2m19 0h2m9 0h2m11 0h2m30 0h2m16 0h2m-2 0h2m27 0h2m-1 0h2m7 0h2m-1 0h2m-152 1h2m1 0h2m10 0h2m22 0h2m-1 0h2m-2 0h2m9 0h2m7 0h2m25 0h2m21 0h2m8 0h2m8 0h2m0 0h2m3 0h2m0 0h2m3 0h2m5 0h2m0 0h2m-151 1h2m-1 0h2m19 0h2m22 0h2m7 0h2m1 0h2m-2 0h2m7 0h2m2 0h2m4 0h2m2 0h2m18 0h2m32 0h2m2 0h2m8 0h2m4 0h2m-173 1h2m12 0h2m2 0h2m0 0h2m1 0h2m11 0h2m0 0h2m12 0h2m-2 0h2m2 0h2m-1 0h2m6 0h2m10 0h2m4 0h2m3 0h2m11 0h2m9 0h2m9 0h2m-1 0h2m7 0h2m7 0h2m4 0h2m-152 1h2m11 0h2m6 0h2m11 0h2m-1 0h2m4 0h2m4 0h2m-2 0h2m7 0h2m15 0h2m0 0h2m7 0h2m30 0h2m8 0h2m13 0h2m5 0h2m-2 0h2m-114 1h2m28 0h2m4 0h2m39 0h2m3 0h2m11 0h2m18 0h2m-1 0h2m8 0h2m-2 0h2m-167 1h2m0 0h2m10 0h2m1 0h2m6 0h2m14 0h2m-1 0h2m16 0h2m4 0h2m7 0h2m29 0h2m5 0h2m10 0h2m27 0h2m2 0h2m-160 1h2m0 0h2m11 0h2m3 0h2m2 0h2m1 0h2m-2 0h2m-1 0h2m11 0h2m-2 0h2m2 0h2m-1 0h2m15 0h2m0 0h2m-1 0h2m-1 0h2m45 0h2m10 0h2m1 0h2m0 0h2m4 0h2m9 0h2m2 0h2m13 0h2m-171 1h2m10 0h2m1 0h2m2 0h2m2 0h2m1 0h2m7 0h2m3 0h2m2 0h2m0 0h2m7 0h2m1 0h2m-2 0h2m20 0h2m11 0h2m7 0h2m5 0h2m4 0h2m12 0h2m17 0h2m0 0h2m7 0h2m-166 1h2m8 0h2m2 0h2m-1 0h2m-1 0h2m7 0h2m1 0h2m5 0h2m2 0h2m0 0h2m5 0h2m17 0h2m7 0h2m13 0h2m7 0h2m-1 0h2m8 0h2m7 0h2m26 0h2m-1 0h2m4 0h2m18 0h2m-160 1h2m12 0h2m-2 0h2m-1 0h2m29 0h2m6 0h2m4 0h2m1 0h2m-1 0h2m1 0h2m2 0h2m1 0h2m5 0h2m-1 0h2m3 0h2m2 0h2m12 0h2m1 0h2m20 0h2m1 0h2m5 0h2m0 0h2m3 0h2m6 0h2m-172 1h2m3 0h2m31 0h2m3 0h2m-1 0h2m7 0h2m16 0h2m-2 0h2m13 0h2m14 0h2m2 0h2m0 0h2m2 0h2m15 0h2m10 0h2m2 0h2m5 0h2m1 0h2m5 0h2m-151 1h2m1 0h2m-1 0h2m14 0h2m11 0h2m-1 0h2m3 0h2m16 0h2m6 0h2m9 0h2m15 0h2m0 0h2m7 0h2m0 0h2m6 0h2m8 0h2m2 0h2m8 0h2m4 0h2m7 0h2m-163 1h2m15 0h2m10 0h2m2 0h2m10 0h2m3 0h2m13 0h2m3 0h2m1 0h2m1 0h2m11 0h2m1 0h2m1 0h2m0 0h2m27 0h2m12 0h2m-1 0h2m1 0h2m-148 1h2m32 0h2m4 0h2m23 0h2m4 0h2m4 0h2m3 0h2m15 0h2m20 0h2m17 0h2m-1 0h2m10 0h2m-139 1h2m3 0h2m13 0h2m4 0h2m11 0h2m26 0h2m7 0h2m51 0h2m5 0h2m0 0h2m3 0h2m-2 0h2m3 0h2m-162 1h2m3 0h2m30 0h2m-1 0h2m22 0h2m1 0h2m12 0h2m-1 0h2m18 0h2m5 0h2m-1 0h2m28 0h2m23 0h2m-165 1h2m6 0h2m4 0h2m26 0h2m-1 0h2m14 0h2m5 0h2m6 0h2m5 0h2m0 0h2m37 0h2m-2 0h2m11 0h2m3 0h2m8 0h2m9 0h2m9 0h2m-160 1h2m13 0h2m5 0h2m4 0h2m7 0h2m12 0h2m13 0h2m2 0h2m2 0h2m1 0h2m-2 0h2m-1 0h2m13 0h2m3 0h2m4 0h2m5 0h2m1 0h2m14 0h2m5 0h2m4 0h2m5 0h2m8 0h2m-178 1h2m25 0h2m34 0h2m-2 0h2m6 0h2m-1 0h2m3 0h2m7 0h2m20 0h2m4 0h2m15 0h2m6 0h2m8 0h2m-1 0h2m7 0h2m-141 1h2m2 0h2m11 0h2m-1 0h2m-1 0h2m2 0h2m2 0h2m26 0h2m84 0h2m-131 1h2m2 0h2m11 0h2m-1 0h2m4 0h2m20 0h2m11 0h2m15 0h2m8 0h2m26 0h2m-146 1h2m5 0h2m1 0h2m0 0h2m-2 0h2m1 0h2m10 0h2m8 0h2m16 0h2m4 0h2m12 0h2m26 0h2m6 0h2m8 0h2m6 0h2m31 0h2m8 0h2m-174 1h2m0 0h2m11 0h2m17 0h2m20 0h2m1 0h2m-2 0h2m2 0h2m10 0h2m1 0h2m13 0h2m17 0h2m10 0h2m1 0h2m0 0h2m1 0h2m5 0h2m3 0h2m16 0h2m-172 1h2m23 0h2m5 0h2m0 0h2m3 0h2m1 0h2m1 0h2m18 0h2m21 0h2m0 0h2m-1 0h2m2 0h2m2 0h2m1 0h2m1 0h2m4 0h2m3 0h2m9 0h2m15 0h2m-1 0h2m-1 0h2m9 0h2m0 0h2m13 0h2m-122 1h2m4 0h2m5 0h2m5 0h2m15 0h2m0 0h2m2 0h2m13 0h2m4 0h2m-1 0h2m1 0h2m43 0h2m-142 1h2m13 0h2m4 0h2m0 0h2m1 0h2m9 0h2m16 0h2m-1 0h2m-1 0h2m-2 0h2m5 0h2m10 0h2m3 0h2m1 0h2m-2 0h2m4 0h2m12 0h2m1 0h2m0 0h2m2 0h2m3 0h2m11 0h2m2 0h2m-148 1h2m4 0h2m15 0h2m10 0h2m3 0h2m10 0h2m6 0h2m13 0h2m-1 0h2m9 0h2m20 0h2m30 0h2m0 0h2m1 0h2m0 0h2m0 0h2m-154 1h2m6 0h2m-2 0h2m13 0h2m35 0h2m26 0h2m11 0h2m8 0h2m7 0h2m19 0h2m24 0h2m-183 1h2m-1 0h2m0 0h2m4 0h2m2 0h2m4 0h2m-2 0h2m9 0h2m2 0h2m-1 0h2m-1 0h2m2 0h2m2 0h2m1 0h2m0 0h2m7 0h2m0 0h2m5 0h2m2 0h2m12 0h2m0 0h2m1 0h2m6 0h2m10 0h2m6 0h2m1 0h2m5 0h2m4 0h2m0 0h2m13 0h2m2 0h2m20 0h2m-171 1h2m4 0h2m0 0h2m1 0h2m7 0h2m2 0h2m15 0h2m28 0h2m2 0h2m5 0h2m3 0h2m32 0h2m6 0h2m0 0h2m-1 0h2m2 0h2m-1 0h2m-1 0h2m6 0h2m2 0h2m0 0h2m5 0h2m2 0h2m-1 0h2m-165 1h2m-1 0h2m6 0h2m-1 0h2m8 0h2m2 0h2m0 0h2m24 0h2m-1 0h2m12 0h2m8 0h2m13 0h2m16 0h2m-1 0h2m7 0h2m7 0h2m-1 0h2m18 0h2m-136 1h2m9 0h2m4 0h2m4 0h2m19 0h2m7 0h2m1 0h2m-2 0h2m4 0h2m0 0h2m24 0h2m25 0h2m6 0h2m27 0h2m-161 1h2m1 0h2m3 0h2m10 0h2m0 0h2m44 0h2m0 0h2m1 0h2m16 0h2m6 0h2m-1 0h2m2 0h2m3 0h2m28 0h2m-151 1h2m-1 0h2m8 0h2m1 0h2m10 0h2m-1 0h2m14 0h2m15 0h2m16 0h2m7 0h2m-2 0h2m6 0h2m49 0h2m1 0h2m-159 1h2m4 0h2m1 0h2m16 0h2m10 0h2m-1 0h2m16 0h2m1 0h2m-1 0h2m14 0h2m6 0h2m8 0h2m1 0h2m6 0h2m1 0h2m0 0h2m-1 0h2m0 0h2m24 0h2m-1 0h2m18 0h2m2 0h2m4 0h2m-160 1h2m5 0h2m0 0h2m11 0h2m9 0h2m-2 0h2m0 0h2m4 0h2m4 0h2m3 0h2m9 0h2m9 0h2m7 0h2m2 0h2m11 0h2m5 0h2m27 0h2m9 0h2m-1 0h2m5 0h2m-167 1h2m16 0h2m1 0h2m3 0h2m2 0h2m5 0h2m54 0h2m4 0h2m12 0h2m4 0h2m11 0h2m-1 0h2m5 0h2m4 0h2m10 0h2m2 0h2m1 0h2m-129 1h2m1 0h2m4 0h2m20 0h2m3 0h2m6 0h2m17 0h2m15 0h2m0 0h2m9 0h2m16 0h2m-149 1h2m0 0h2m22 0h2m7 0h2m5 0h2m17 0h2m9 0h2m3 0h2m10 0h2m-1 0h2m7 0h2m28 0h2m17 0h2m-152 1h2m11 0h2m4 0h2m1 0h2m4 0h2m11 0h2m5 0h2m9 0h2m5 0h2m18 0h2m15 0h2m17 0h2m5 0h2m3 0h2m10 0h2m-2 0h2m-1 0h2m-2 0h2m-152 1h2m7 0h2m6 0h2m4 0h2m1 0h2m23 0h2m6 0h2m-1 0h2m29 0h2m13 0h2m9 0h2m42 0h2m11 0h2m-176 1h2m0 0h2m14 0h2m17 0h2m21 0h2m1 0h2m5 0h2m5 0h2m18 0h2m0 0h2m11 0h2m2 0h2m21 0h2m15 0h2m-136 1h2m4 0h2m1 0h2m0 0h2m1 0h2m7 0h2m34 0h2m16 0h2m10 0h2m9 0h2m11 0h2m22 0h2m-143 1h2m13 0h2m3 0h2m27 0h2m7 0h2m17 0h2m6 0h2m-2 0h2m-2 0h2m2 0h2m0 0h2m22 0h2m4 0h2m-2 0h2m-139 1h2m17 0h2m-2 0h2m2 0h2m9 0h2m1 0h2m8 0h2m-2 0h2m5 0h2m1 0h2m8 0h2m0 0h2m-1 0h2m0 0h2m-2 0h2m11 0h2m3 0h2m4 0h2m14 0h2m-2 0h2m-1 0h2m9 0h2m10 0h2m12 0h2m6 0h2m2 0h2m1 0h2m-161 1h2m8 0h2m7 0h2m20 0h2m3 0h2m1 0h2m3 0h2m14 0h2m3 0h2m2 0h2m12 0h2m3 0h2m13 0h2m13 0h2m5 0h2m-124 1h2m3 0h2m-1 0h2m68 0h2m-1 0h2m2 0h2m9 0h2m11 0h2m10 0h2m2 0h2m32 0h2m-170 1h2m5 0h2m1 0h2m10 0h2m5 0h2m9 0h2m-1 0h2m3 0h2m9 0h2m1 0h2m21 0h2m2 0h2m79 0h2m-159 1h2m-1 0h2m-1 0h2m-1 0h2m-2 0h2m8 0h2m-2 0h2m2 0h2m5 0h2m29 0h2m4 0h2m17 0h2m26 0h2m3 0h2m17 0h2m-132 1h2m9 0h2m3 0h2m-1 0h2m13 0h2m6 0h2m12 0h2m2 0h2m14 0h2m0 0h2m-2 0h2m3 0h2m4 0h2m1 0h2m7 0h2m29 0h2m4 0h2m1 0h2m1 0h2m-151 1h2m5 0h2m7 0h2m-1 0h2m2 0h2m3 0h2m-2 0h2m14 0h2m13 0h2m6 0h2m1 0h2m15 0h2m2 0h2m5 0h2m0 0h2m20 0h2m9 0h2m1 0h2m0 0h2m1 0h2m23 0h2m-172 1h2m3 0h2m3 0h2m2 0h2m5 0h2m-1 0h2m8 0h2m18 0h2m1 0h2m1 0h2m4 0h2m8 0h2m-1 0h2m-2 0h2m0 0h2m13 0h2m18 0h2m17 0h2m8 0h2m7 0h2m5 0h2m-163 1h2m3 0h2m17 0h2m28 0h2m-1 0h2m10 0h2m-1 0h2m-1 0h2m-1 0h2m33 0h2m36 0h2m9 0h2m-145 1h2m7 0h2m-1 0h2m0 0h2m7 0h2m15 0h2m5 0h2m17 0h2m28 0h2m2 0h2m1 0h2m1 0h2m8 0h2m-108 1h2m6 0h2m3 0h2m0 0h2m28 0h2m1 0h2m0 0h2m0 0h2m15 0h2m1 0h2m2 0h2m32 0h2m-1 0h2m1 0h2m-1 0h2m-1 0h2m1 0h2m18 0h2m-2 0h2m-165 1h2m44 0h2m4 0h2m23 0h2m8 0h2m1 0h2m17 0h2m4 0h2m2 0h2m-1 0h2m6 0h2m4 0h2m12 0h2m2 0h2m16 0h2m5 0h2m-174 1h2m-1 0h2m15 0h2m-1 0h2m4 0h2m48 0h2m6 0h2m2 0h2m-2 0h2m2 0h2m5 0h2m2 0h2m0 0h2m3 0h2m4 0h2m-2 0h2m3 0h2m19 0h2m5 0h2m18 0h2m-168 1h2m10 0h2m-1 0h2m-2 0h2m9 0h2m7 0h2m0 0h2m-1 0h2m18 0h2m-1 0h2m13 0h2m-1 0h2m1 0h2m4 0h2m12 0h2m2 0h2m15 0h2m14 0h2m5 0h2m3 0h2m1 0h2m10 0h2m1 0h2m-170 1h2m9 0h2m28 0h2m6 0h2m0 0h2m1 0h2m0 0h2m3 0h2m-1 0h2m3 0h2m15 0h2m5 0h2m-1 0h2m18 0h2m-1 0h2m21 0h2m13 0h2m-1 0h2m20 0h2m-175 1h2m12 0h2m2 0h2m13 0h2m20 0h2m2 0h2m-1 0h2m2 0h2m1 0h2m2 0h2m14 0h2m-2 0h2m39 0h2m2 0h2m0 0h2m6 0h2m-2 0h2m22 0h2m-143 1h2m12 0h2m7 0h2m27 0h2m5 0h2m1 0h2m16 0h2m14 0h2m15 0h2m-1 0h2m2 0h2m8 0h2m-100 1h2m4 0h2m1 0h2m29 0h2m7 0h2m18 0h2m9 0h2m12 0h2m0 0h2m2 0h2m14 0h2m-174 1h2m13 0h2m5 0h2m0 0h2m8 0h2m13 0h2m25 0h2m37 0h2m14 0h2m13 0h2m-2 0h2m2 0h2m-2 0h2m4 0h2m7 0h2m-141 1h2m-1 0h2m11 0h2m3 0h2m3 0h2m10 0h2m3 0h2m36 0h2m1 0h2m3 0h2m-2 0h2m12 0h2m3 0h2m5 0h2m9 0h2m11 0h2m-160 1h2m0 0h2m0 0h2m-1 0h2m1 0h2m2 0h2m10 0h2m2 0h2m1 0h2m-2 0h2m15 0h2m0 0h2m2 0h2m3 0h2m0 0h2m-1 0h2m0 0h2m3 0h2m-1 0h2m1 0h2m3 0h2m6 0h2m3 0h2m5 0h2m20 0h2m1 0h2m-2 0h2m2 0h2m-1 0h2m17 0h2m-1 0h2m4 0h2m-2 0h2m5 0h2m-2 0h2m-160 1h2m20 0h2m3 0h2m1 0h2m20 0h2m14 0h2m23 0h2m2 0h2m3 0h2m2 0h2m-1 0h2m3 0h2m10 0h2m2 0h2m4 0h2m-1 0h2m4 0h2m24 0h2m-163 1h2m7 0h2m10 0h2m4 0h2m44 0h2m0 0h2m12 0h2m0 0h2m26 0h2m0 0h2m7 0h2m9 0h2m9 0h2m-148 1h2m5 0h2m2 0h2m12 0h2m29 0h2m32 0h2m23 0h2m30 0h2m5 0h2m-163 1h2m8 0h2m34 0h2m2 0h2m8 0h2m7 0h2m18 0h2m-1 0h2m7 0h2m2 0h2m1 0h2m18 0h2m13 0h2m-1 0h2m11 0h2m9 0h2m-174 1h2m6 0h2m-2 0h2m1 0h2m29 0h2m4 0h2m-1 0h2m10 0h2m9 0h2m7 0h2m4 0h2m5 0h2m20 0h2m4 0h2m7 0h2m19 0h2m7 0h2m-161 1h2m13 0h2m6 0h2m-1 0h2m1 0h2m0 0h2m-1 0h2m3 0h2m0 0h2m10 0h2m0 0h2m8 0h2m-1 0h2m-1 0h2m29 0h2m12 0h2m6 0h2m4 0h2m11 0h2m-1 0h2m2 0h2m-2 0h2m2 0h2m8 0h2m-142 1h2m4 0h2m1 0h2m5 0h2m4 0h2m0 0h2m8 0h2m6 0h2m-2 0h2m-1 0h2m1 0h2m0 0h2m-2 0h2m-1 0h2m3 0h2m4 0h2m21 0h2m14 0h2m-1 0h2m2 0h2m34 0h2m-1 0h2m1 0h2m6 0h2m-163 1h2m12 0h2m14 0h2m7 0h2m1 0h2m15 0h2m-2 0h2m17 0h2m-1 0h2m16 0h2m-1 0h2m0 0h2m3 0h2m3 0h2m6 0h2m-1 0h2m-1 0h2m1 0h2m7 0h2m22 0h2m-151 1h2m4 0h2m-1 0h2m7 0h2m-2 0h2m46 0h2m1 0h2m38 0h2m9 0h2m12 0h2m3 0h2m3 0h2m-155 1h2m9 0h2m28 0h2m7 0h2m4 0h2m14 0h2m88 0h2m-156 1h2m43 0h2m-1 0h2m19 0h2m7 0h2m-2 0h2m38 0h2m19 0h2m10 0h2m-143 1h2m16 0h2m31 0h2m-1 0h2m7 0h2m1 0h2m10 0h2m-2 0h2m15 0h2m3 0h2m38 0h2m11 0h2m-168 1h2m-1 0h2m6 0h2m5 0h2m23 0h2m1 0h2m-1 0h2m-2 0h2m14 0h2m-1 0h2m3 0h2m9 0h2m11 0h2m39 0h2m7 0h2m15 0h2m-166 1h2m32 0h2m2 0h2m10 0h2m5 0h2m4 0h2m5 0h2m34 0h2m3 0h2m-2 0h2m2 0h2m0 0h2m19 0h2m27 0h2m-161 1h2m18 0h2m5 0h2m1 0h2m8 0h2m4 0h2m-2 0h2m30 0h2m1 0h2m20 0h2m17 0h2m3 0h2m19 0h2m-146 1h2m1 0h2m40 0h2m35 0h2m3 0h2m8 0h2m5 0h2m1 0h2m8 0h2m3 0h2m8 0h2m8 0h2m5 0h2m11 0h2m-164 1h2m6 0h2m11 0h2m4 0h2m6 0h2m11 0h2m6 0h2m4 0h2m3 0h2m18 0h2m23 0h2m4 0h2m9 0h2m-125 1h2m1 0h2m2 0h2m15 0h2m9 0h2m23 0h2m0 0h2m5 0h2m16 0h2m13 0h2m17 0h2m2 0h2m-1 0h2m4 0h2m-1 0h2m-142 1h2m11 0h2m8 0h2m-1 0h2m17 0h2m0 0h2m1 0h2m9 0h2m21 0h2m5 0h2m2 0h2m25 0h2m27 0h2m3 0h2m-1 0h2m-146 1h2m6 0h2m3 0h2m2 0h2m3 0h2m7 0h2m1 0h2m31 0h2m14 0h2m2 0h2m22 0h2m-1 0h2m28 0h2m-1 0h2m-1 0h2m-146 1h2m11 0h2m21 0h2m0 0h2m1 0h2m1 0h2m1 0h2m42 0h2m-2 0h2m1 0h2m2 0h2m1 0h2m2 0h2m2 0h2m0 0h2m1 0h2m2 0h2m4 0h2m0 0h2m6 0h2m8 0h2m1 0h2m-159 1h2m24 0h2m5 0h2m22 0h2m2 0h2m10 0h2m1 0h2m12 0h2m-2 0h2m10 0h2m10 0h2m2 0h2m17 0h2m-2 0h2m10 0h2m-144 1h2m0 0h2m3 0h2m52 0h2m0 0h2m1 0h2m11 0h2m7 0h2m6 0h2m-2 0h2m22 0h2m7 0h2m17 0h2m-147 1h2m45 0h2m6 0h2m3 0h2m24 0h2m28 0h2m2 0h2m-135 1h2m33 0h2m3 0h2m-1 0h2m64 0h2m22 0h2m0 0h2m16 0h2m-131 1h2m0 0h2m-2 0h2m21 0h2m84 0h2m-122 1h2m7 0h2m-1 0h2m56 0h2m11 0h2m14 0h2m44 0h2m-154 1h2m20 0h2m9 0h2m19 0h2m4 0h2m4 0h2m5 0h2m14 0h2m12 0h2m2 0h2m24 0h2m7 0h2m3 0h2m-151 1h2m7 0h2m24 0h2m2 0h2m1 0h2m18 0h2m1 0h2m38 0h2m5 0h2m35 0h2m-1 0h2m1 0h2m-141 1h2m46 0h2m-42 1h2m44 1h2m73 0h2m15 0h2m-110 1h2m31 0h2m29 0h2m0 0h2m18 0h2m-38 1h2m9 0h2m13 0h2m0 0h2m-79 1h2m9 0h2m33 0h2m40 0h2m2 0h2m-2 0h2m-128 1h2m72 0h2m4 0h2m-81 1h2m37 1h2m27 1h2" stroke="#c9c9c9" stroke-width="1.40" opacity="1.0" filter="url(#soft)"/>
<path transform="scale(.5)" d="M344 789h2m-18 1h2m-36 1h2m60 3h2m12 0h2m-84 1h2m12 0h2m4 0h2m25 0h2m8 2h2m-45 1h2m19 0h2m22 0h2m-50 1h2m76 0h2m-72 2h2m58 0h2m-1 0h2m-31 1h2m9 0h2m19 0h2m-71 1h2m1 0h2m2 0h2m10 0h2m41 0h2m0 0h2m32 0h2m-96 1h2m39 0h2m24 0h2m8 0h2m3 0h2m-53 1h2m33 0h2m-48 1h2m1 0h2m54 0h2m-30 1h2m28 0h2m0 0h2m-64 1h2m32 0h2m4 0h2m-60 1h2m17 0h2m8 0h2m6 0h2m2 0h2m31 0h2m-84 1h2m-8 1h2m18 0h2m-2 0h2m18 0h2m65 0h2m-70 1h2m1 0h2m0 0h2m22 0h2m18 0h2m-84 1h2m-1 0h2m61 0h2m5 0h2m-46 1h2m1 0h2m42 0h2m25 0h2m-104 1h2m5 0h2m31 0h2m0 0h2m18 0h2m-41 1h2m-1 0h2m42 0h2m8 0h2m-78 1h2m49 0h2m0 0h2m-52 1h2m4 1h2m38 0h2m-22 1h2m37 0h2m-69 1h2m8 1h2m41 0h2m14 0h2m-41 1h2m22 0h2m20 1h2m17 0h2m-76 1h2m65 0h2m-96 1h2m84 0h2m-1 0h2m-2 0h2m4 0h2m1 0h2m-71 1h2m48 0h2m-78 1h2m60 0h2m22 0h2m-73 1h2m78 0h2m6 0h2m-103 1h2m18 0h2m21 0h2m4 0h2m-15 1h2m-41 1h2m28 1h2m35 0h2m-58 1h2m23 0h2m-50 2h2m10 1h2m-1 0h2m6 0h2m7 0h2m36 0h2m23 0h2m18 0h2m-32 1h2m24 1h2m-67 1h2m18 1h2m50 0h2m-68 1h2m61 0h2m-64 1h2m20 0h2m-67 2h2m22 0h2m12 0h2m2 0h2m71 0h2m-91 2h2m6 0h2m43 0h2m29 0h2m-87 1h2m14 0h2m13 0h2m39 0h2m-77 1h2m27 0h2m-9 1h2m65 0h2m-75 1h2m18 1h2m9 0h2m4 0h2m41 0h2m-79 1h2m22 0h2m-19 1h2m32 0h2m7 0h2m-2 0h2m-48 1h2m16 0h2m7 0h2m-24 1h2m-45 1h2m46 1h2m-45 1h2m84 0h2m-79 1h2m78 0h2m-2 2h2m-56 1h2m31 0h2m-59 1h2m5 0h2m43 0h2m17 0h2m11 0h2m-76 1h2m-12 2h2m0 0h2m-11 1h2m51 0h2m3 0h2m4 0h2m-71 1h2m0 2h2m62 0h2m-28 1h2m8 0h2m-4 1h2m-22 1h2m7 0h2m-34 1h2m12 0h2m32 0h2m49 0h2m-103 2h2m34 0h2m17 0h2m-70 1h2m3 2h2m20 0h2m31 0h2m0 0h2m5 0h2m8 0h2m5 0h2m-66 1h2m19 0h2m16 0h2m-30 2h2m6 0h2m38 0h2m-11 1h2m-50 1h2m22 0h2m5 1h2m21 0h2m-35 2h2m8 0h2m-13 1h2m50 0h2m-93 1h2m2 0h2m22 0h2m60 0h2m-71 2h2m82 0h2m-30 1h2m21 1h2m-66 1h2m-38 1h2m38 0h2m3 0h2m8 0h2m24 0h2m-65 1h2m86 0h2m-105 1h2m18 0h2m40 0h2m33 0h2m-99 1h2m0 0h2m19 0h2m58 0h2m-54 2h2m5 0h2m-47 1h2m31 0h2m36 0h2m-1 0h2m-23 1h2m45 0h2m-77 1h2m32 0h2m9 0h2m-60 2h2m38 0h2m1 0h2m-38 2h2m50 0h2m23 0h2m-53 1h2m4 0h2m-9 1h2m8 0h2m-25 1h2m31 0h2m-41 1h2m0 0h2m19 0h2m8 1h2m-16 1h2m12 0h2m3 0h2m12 0h2m-46 1h2m39 0h2m-64 1h2m3 0h2m12 0h2m36 0h2m-78 1h2m48 0h2m6 0h2m7 0h2m33 0h2m-94 1h2m33 0h2m-48 1h2m21 0h2m23 0h2m-31 1h2m17 0h2m5 0h2m20 0h2m1 0h2m-56 1h2m44 0h2m26 0h2m-80 1h2m31 0h2m13 0h2m-15 1h2m22 0h2m-24 1h2m55 0h2m-97 1h2m33 1h2m4 1h2m7 0h2m14 1h2m11 1h2m-82 1h2m32 0h2m-19 1h2m61 0h2m-30 2h2m-27 3h2" stroke="#97c1e8" stroke-width="1.60" opacity="1.0" filter="url(#soft)"/>
<path transform="scale(.5)" d="M376 792h2m-50 3h2m22 1h2m-59 1h2m12 0h2m20 0h2m13 1h2m-40 2h2m15 0h2m11 0h2m32 0h2m-55 1h2m31 0h2m-59 1h2m7 0h2m8 0h2m12 0h2m13 0h2m35 0h2m-80 1h2m0 0h2m21 0h2m2 0h2m7 0h2m-33 1h2m50 0h2m-66 1h2m25 0h2m2 0h2m0 0h2m12 0h2m13 0h2m15 0h2m-49 1h2m-2 0h2m30 0h2m-76 1h2m8 0h2m25 0h2m30 0h2m-61 1h2m19 0h2m10 0h2m10 0h2m-51 1h2m0 0h2m-1 0h2m7 0h2m0 0h2m2 0h2m5 0h2m-1 0h2m3 0h2m13 0h2m1 0h2m23 0h2m-56 1h2m13 0h2m13 0h2m4 0h2m0 0h2m13 0h2m2 0h2m9 0h2m2 0h2m-95 1h2m6 0h2m18 0h2m-1 0h2m3 0h2m36 0h2m5 0h2m9 0h2m-1 0h2m2 0h2m6 0h2m-108 1h2m18 0h2m38 0h2m8 0h2m3 0h2m8 0h2m-73 1h2m6 0h2m4 0h2m2 0h2m6 0h2m-1 0h2m2 0h2m19 0h2m1 0h2m-1 0h2m11 0h2m-1 0h2m15 0h2m-87 1h2m10 0h2m4 0h2m4 0h2m18 0h2m2 0h2m7 0h2m25 0h2m-71 1h2m14 0h2m5 0h2m3 0h2m-1 0h2m1 0h2m-1 0h2m-1 0h2m4 0h2m8 0h2m0 0h2m10 0h2m1 0h2m10 0h2m-104 1h2m16 0h2m11 0h2m17 0h2m-2 0h2m15 0h2m22 0h2m-89 1h2m0 0h2m27 0h2m25 0h2m5 0h2m-65 1h2m5 0h2m30 0h2m6 0h2m1 0h2m19 0h2m5 0h2m24 0h2m-105 1h2m4 0h2m6 0h2m14 0h2m13 0h2m6 0h2m6 0h2m0 0h2m7 0h2m-2 0h2m4 0h2m-99 1h2m10 0h2m9 0h2m18 0h2m8 0h2m0 0h2m5 0h2m17 0h2m4 0h2m-66 1h2m8 0h2m0 0h2m4 0h2m0 0h2m2 0h2m12 0h2m27 0h2m6 0h2m0 0h2m-90 1h2m0 0h2m17 0h2m11 0h2m0 0h2m13 0h2m-2 0h2m9 0h2m36 0h2m0 0h2m5 0h2m-115 1h2m3 0h2m3 0h2m11 0h2m6 0h2m-1 0h2m0 0h2m4 0h2m11 0h2m4 0h2m5 0h2m10 0h2m4 0h2m-1 0h2m-86 1h2m2 0h2m1 0h2m3 0h2m0 0h2m1 0h2m7 0h2m0 0h2m2 0h2m5 0h2m60 0h2m4 0h2m-112 1h2m1 0h2m4 0h2m0 0h2m34 0h2m10 0h2m1 0h2m2 0h2m1 0h2m5 0h2m0 0h2m1 0h2m-74 1h2m-1 0h2m19 0h2m18 0h2m-34 1h2m9 0h2m4 0h2m10 0h2m4 0h2m34 0h2m2 0h2m-98 1h2m6 0h2m0 0h2m-1 0h2m8 0h2m6 0h2m0 0h2m25 0h2m0 0h2m14 0h2m19 0h2m13 0h2m-104 1h2m28 0h2m0 0h2m7 0h2m3 0h2m3 0h2m35 0h2m1 0h2m-75 1h2m5 0h2m9 0h2m2 0h2m43 0h2m-94 1h2m2 0h2m36 0h2m40 0h2m-1 0h2m-96 1h2m10 0h2m33 0h2m7 0h2m-1 0h2m14 0h2m3 0h2m36 0h2m-118 1h2m8 0h2m2 0h2m5 0h2m27 0h2m0 0h2m0 0h2m11 0h2m23 0h2m25 0h2m-105 1h2m1 0h2m1 0h2m39 0h2m29 0h2m8 0h2m-73 1h2m12 0h2m6 0h2m0 0h2m2 0h2m-2 0h2m-48 1h2m7 0h2m10 0h2m13 0h2m-1 0h2m26 0h2m-65 1h2m4 0h2m7 0h2m5 0h2m20 0h2m0 0h2m-42 1h2m16 0h2m24 0h2m3 0h2m2 0h2m4 0h2m10 0h2m5 0h2m-85 1h2m0 0h2m26 0h2m14 0h2m25 0h2m3 0h2m-79 1h2m59 0h2m11 0h2m-82 1h2m-1 0h2m1 0h2m13 0h2m29 0h2m-1 0h2m1 0h2m3 0h2m3 0h2m2 0h2m6 0h2m-70 1h2m0 0h2m9 0h2m15 0h2m2 0h2m0 0h2m30 0h2m4 0h2m8 0h2m-83 1h2m3 0h2m7 0h2m3 0h2m0 0h2m6 0h2m2 0h2m0 0h2m0 0h2m3 0h2m18 0h2m3 0h2m-80 1h2m2 0h2m11 0h2m13 0h2m22 0h2m4 0h2m2 0h2m33 0h2m-114 1h2m6 0h2m9 0h2m1 0h2m41 0h2m1 0h2m52 0h2m-92 1h2m13 0h2m36 0h2m-1 0h2m-76 1h2m5 0h2m5 0h2m9 0h2m8 0h2m16 0h2m28 0h2m20 0h2m-91 1h2m14 0h2m0 0h2m9 0h2m1 0h2m6 0h2m-21 1h2m40 0h2m-74 1h2m9 0h2m42 0h2m0 0h2m28 0h2m6 0h2m-75 1h2m10 0h2m2 0h2m8 0h2m10 0h2m20 0h2m18 0h2m-102 1h2m17 0h2m5 0h2m4 0h2m-2 0h2m2 0h2m2 0h2m13 0h2m8 0h2m8 0h2m-87 1h2m0 0h2m6 0h2m21 0h2m2 0h2m26 0h2m4 0h2m7 0h2m4 0h2m-2 0h2m2 0h2m-2 0h2m-86 1h2m5 0h2m0 0h2m5 0h2m20 0h2m8 0h2m16 0h2m15 0h2m6 0h2m-86 1h2m26 0h2m-2 0h2m0 0h2m13 0h2m7 0h2m22 0h2m-2 0h2m14 0h2m3 0h2m-116 1h2m1 0h2m11 0h2m4 0h2m9 0h2m-1 0h2m0 0h2m1 0h2m4 0h2m5 0h2m-1 0h2m-1 0h2m7 0h2m12 0h2m-84 1h2m50 0h2m19 0h2m3 0h2m-71 1h2m1 0h2m-1 0h2m9 0h2m4 0h2m16 0h2m1 0h2m18 0h2m13 0h2m-69 1h2m4 0h2m12 0h2m12 0h2m36 0h2m12 0h2m-52 1h2m1 0h2m-2 0h2m-1 0h2m1 0h2m-1 0h2m-1 0h2m7 0h2m0 0h2m1 0h2m7 0h2m15 0h2m7 0h2m-102 1h2m-1 0h2m-1 0h2m6 0h2m-1 0h2m8 0h2m10 0h2m34 0h2m1 0h2m-2 0h2m5 0h2m22 0h2m-109 1h2m7 0h2m3 0h2m12 0h2m2 0h2m13 0h2m1 0h2m17 0h2m13 0h2m9 0h2m-110 1h2m20 0h2m13 0h2m7 0h2m16 0h2m39 0h2m-99 1h2m11 0h2m4 0h2m-1 0h2m11 0h2m4 0h2m-1 0h2m13 0h2m15 0h2m11 0h2m-82 1h2m10 0h2m25 0h2m10 0h2m4 0h2m2 0h2m6 0h2m16 0h2m4 0h2m5 0h2m-98 1h2m12 0h2m19 0h2m1 0h2m35 0h2m-87 1h2m44 0h2m-1 0h2m10 0h2m11 0h2m13 0h2m7 0h2m-88 1h2m2 0h2m38 0h2m6 0h2m-1 0h2m9 0h2m8 0h2m11 0h2m12 0h2m-96 1h2m14 0h2m11 0h2m-2 0h2m18 0h2m4 0h2m-2 0h2m19 0h2m24 0h2m-109 1h2m2 0h2m18 0h2m-1 0h2m12 0h2m9 0h2m10 0h2m10 0h2m14 0h2m4 0h2m-101 1h2m1 0h2m6 0h2m3 0h2m7 0h2m10 0h2m7 0h2m-2 0h2m15 0h2m32 0h2m-79 1h2m9 0h2m4 0h2m26 0h2m12 0h2m7 0h2m2 0h2m-1 0h2m-25 1h2m-53 1h2m5 0h2m1 0h2m0 0h2m2 0h2m24 0h2m-63 1h2m7 0h2m2 0h2m6 0h2m5 0h2m-2 0h2m2 0h2m-1 0h2m1 0h2m4 0h2m10 0h2m1 0h2m-1 0h2m17 0h2m-47 1h2m18 0h2m5 0h2m8 0h2m5 0h2m6 0h2m9 0h2m-112 1h2m17 0h2m4 0h2m-1 0h2m0 0h2m7 0h2m11 0h2m15 0h2m5 0h2m19 0h2m0 0h2m-84 1h2m-1 0h2m21 0h2m19 0h2m10 0h2m-1 0h2m5 0h2m2 0h2m0 0h2m30 0h2m-103 1h2m5 0h2m46 0h2m8 0h2m5 0h2m-2 0h2m-67 1h2m18 0h2m4 0h2m-1 0h2m9 0h2m9 0h2m8 0h2m2 0h2m-48 1h2m3 0h2m34 0h2m22 0h2m-102 1h2m19 0h2m31 0h2m3 0h2m-2 0h2m22 0h2m-56 1h2m4 0h2m9 0h2m5 0h2m2 0h2m14 0h2m14 0h2m-2 0h2m18 0h2m-81 1h2m2 0h2m8 0h2m8 0h2m30 0h2m10 0h2m-77 1h2m30 0h2m13 0h2m17 0h2m8 0h2m-72 1h2m31 0h2m17 0h2m14 0h2m-96 1h2m4 0h2m9 0h2m1 0h2m3 0h2m25 0h2m24 0h2m27 0h2m-66 1h2m4 0h2m51 0h2m-96 1h2m17 0h2m1 0h2m31 0h2m8 0h2m0 0h2m13 0h2m11 0h2m-103 1h2m25 0h2m-1 0h2m1 0h2m28 0h2m1 0h2m12 0h2m9 0h2m-1 0h2m0 0h2m-95 1h2m7 0h2m21 0h2m50 0h2m-30 1h2m1 0h2m2 0h2m8 0h2m-1 0h2m0 0h2m-1 0h2m-1 0h2m1 0h2m17 0h2m-101 1h2m3 0h2m19 0h2m14 0h2m64 0h2m-115 1h2m7 0h2m27 0h2m8 0h2m-2 0h2m42 0h2m-52 1h2m1 0h2m32 0h2m19 0h2m-50 1h2m-1 0h2m18 0h2m2 0h2m5 0h2m-76 1h2m9 0h2m66 0h2m4 0h2m-68 1h2m39 0h2m23 0h2m-77 1h2m18 0h2m-2 0h2m39 0h2m24 0h2m-2 2h2m-41 2h2m16 0h2m-25 1h2m1 1h2m2 0h2m-15 1h2m2 0h2m46 0h2m-108 1h2m1 0h2m23 0h2m10 0h2m19 2h2m11 0h2m-2 0h2m-62 1h2m75 0h2m-72 1h2m3 0h2m18 0h2m-29 1h2m-23 1h2m62 0h2m41 0h2m-111 1h2m30 1h2m-19 2h2m17 0h2m39 0h2m-80 1h2m54 1h2m13 0h2m15 0h2m-14 1h2m-59 1h2m59 0h2m11 2h2m-88 2h2m10 1h2m51 0h2m-1 2h2m-38 1h2m36 2h2m-26 3h2m-52 1h2m34 0h2m-12 2h2" stroke="#e0606b" stroke-width="1.60" opacity="1.0" filter="url(#soft)"/>
<path transform="scale(.5)" d="M353 789h2m-32 4h2m28 0h2m25 0h2m-84 1h2m-8 1h2m23 0h2m-1 1h2m1 0h2m36 0h2m-78 1h2m26 1h2m20 0h2m17 0h2m-7 1h2m8 0h2m-49 1h2m14 0h2m26 0h2m28 0h2m-66 1h2m-32 1h2m78 0h2m13 0h2m-99 1h2m27 0h2m-2 0h2m29 0h2m15 0h2m21 0h2m-1 1h2m-21 1h2m-69 1h2m6 1h2m0 0h2m15 0h2m-1 0h2m4 0h2m28 0h2m0 0h2m11 0h2m-54 1h2m17 0h2m30 0h2m-87 1h2m6 0h2m37 0h2m3 0h2m2 0h2m13 0h2m-68 1h2m0 1h2m20 0h2m8 0h2m38 0h2m4 0h2m-81 1h2m22 0h2m-34 1h2m3 0h2m9 0h2m30 0h2m1 0h2m-1 0h2m7 0h2m-57 1h2m86 0h2m-72 1h2m2 0h2m34 0h2m38 0h2m-92 1h2m-14 1h2m8 0h2m58 0h2m-45 1h2m31 1h2m-74 1h2m52 0h2m17 0h2m3 0h2m22 0h2m-50 1h2m-3 1h2m33 0h2m28 0h2m-113 1h2m28 0h2m15 0h2m-27 1h2m42 0h2m-17 1h2m13 0h2m-19 1h2m25 0h2m32 0h2m-99 1h2m5 0h2m23 0h2m43 0h2m-1 1h2m17 0h2m-105 1h2m54 0h2m36 0h2m3 1h2m-78 1h2m6 0h2m36 0h2m-35 2h2m28 1h2m32 0h2m-99 1h2m68 0h2m-62 1h2m11 0h2m52 0h2m-89 1h2m11 0h2m-1 0h2m44 1h2m8 0h2m-58 1h2m-1 0h2m1 1h2m87 0h2m1 0h2m-14 1h2m-62 1h2m26 0h2m-2 0h2m-45 1h2m62 0h2m1 0h2m15 0h2m-16 1h2m13 0h2m-62 2h2m-35 1h2m13 0h2m21 0h2m37 0h2m-48 1h2m-1 0h2m32 0h2m-26 1h2m41 0h2m0 0h2m-75 1h2m12 1h2m54 1h2m2 0h2m-73 1h2m62 0h2m-2 1h2m-9 1h2m7 0h2m-7 1h2m-42 1h2m1 0h2m-28 1h2m10 0h2m22 0h2m-43 1h2m26 0h2m3 0h2m33 0h2m14 0h2m-103 1h2m-1 0h2m4 0h2m0 0h2m-5 1h2m97 0h2m-94 1h2m89 0h2m-100 1h2m22 0h2m23 0h2m26 0h2m-42 1h2m28 1h2m29 0h2m-76 2h2m-10 1h2m55 0h2m16 0h2m-52 1h2m13 0h2m-2 0h2m-2 0h2m4 0h2m8 0h2m28 0h2m-95 2h2m13 1h2m-1 0h2m2 0h2m17 1h2m54 0h2m-115 1h2m13 0h2m0 0h2m50 0h2m8 0h2m-2 0h2m-46 1h2m5 0h2m-13 1h2m6 0h2m9 1h2m52 0h2m-88 1h2m1 0h2m-29 1h2m18 2h2m-3 1h2m16 0h2m8 0h2m9 0h2m3 0h2m7 0h2m25 0h2m-2 0h2m-84 1h2m12 0h2m29 0h2m-48 1h2m1 0h2m21 0h2m14 0h2m-61 1h2m29 0h2m86 0h2m-44 1h2m-36 1h2m65 0h2m4 0h2m-93 1h2m48 0h2m11 0h2m0 0h2m-57 1h2m76 1h2m-101 1h2m38 0h2m10 1h2m41 0h2m-50 1h2m36 1h2m-74 2h2m30 0h2m51 0h2m2 1h2m-35 1h2m4 0h2m7 1h2m-66 1h2m7 0h2m7 0h2m-16 1h2m15 0h2m17 0h2m21 0h2m-47 1h2m29 0h2m-84 1h2m48 0h2m38 0h2m-1 0h2m1 0h2m-55 1h2m34 0h2m9 0h2m23 0h2m-15 1h2m-86 1h2m71 0h2m10 0h2m1 0h2m-107 1h2m51 0h2m33 1h2m-59 1h2m12 0h2m45 0h2m0 0h2m7 0h2m-12 1h2m-75 1h2m-11 2h2m38 0h2m-53 1h2m5 0h2m2 0h2m30 0h2m-26 1h2m7 0h2m42 0h2m-58 1h2m83 0h2m-66 1h2m2 0h2m-42 1h2m15 0h2m71 0h2m1 1h2m-80 1h2m62 0h2m-18 1h2m40 0h2m-16 1h2m-2 0h2m-56 1h2m-43 1h2m93 0h2m-1 2h2m-65 1h2m15 1h2m18 0h2m-48 1h2m37 1h2m-9 3h2m6 0h2m-14 2h2m28 0h2" stroke="#97c1e8" stroke-width="1.60" opacity="1.0" filter="url(#soft)"/>
<path transform="scale(.5)" d="M363 788h2m-47 3h2m41 1h2m-60 1h2m0 0h2m17 0h2m6 0h2m-27 1h2m23 0h2m-19 1h2m20 1h2m-12 1h2m24 0h2m15 0h2m-19 1h2m11 0h2m4 0h2m12 0h2m-26 1h2m-72 1h2m30 0h2m50 0h2m-65 1h2m12 0h2m24 0h2m-27 2h2m0 0h2m10 0h2m15 0h2m6 0h2m-67 1h2m25 0h2m1 0h2m1 0h2m29 0h2m11 0h2m-93 1h2m5 0h2m8 0h2m-5 1h2m4 0h2m4 0h2m-1 0h2m2 0h2m57 0h2m-83 1h2m16 0h2m-2 0h2m21 0h2m15 0h2m14 0h2m0 0h2m7 0h2m0 0h2m0 0h2m-100 1h2m24 0h2m14 0h2m44 0h2m15 0h2m-1 0h2m-94 1h2m4 0h2m5 0h2m5 0h2m7 0h2m14 0h2m1 0h2m17 0h2m-71 1h2m1 0h2m7 0h2m15 0h2m17 0h2m5 0h2m2 0h2m6 0h2m3 0h2m1 0h2m1 0h2m-84 1h2m15 0h2m2 0h2m13 0h2m38 0h2m2 0h2m13 0h2m-93 1h2m0 0h2m-1 0h2m11 0h2m2 0h2m2 0h2m4 0h2m-1 0h2m23 0h2m8 0h2m-80 1h2m7 0h2m64 0h2m11 0h2m-70 1h2m7 0h2m17 0h2m0 0h2m18 0h2m1 0h2m20 0h2m-95 1h2m7 0h2m6 0h2m7 0h2m3 0h2m9 0h2m1 0h2m3 0h2m23 0h2m6 0h2m-70 1h2m0 0h2m3 0h2m0 0h2m27 0h2m23 0h2m-75 1h2m22 0h2m21 0h2m4 0h2m7 0h2m5 0h2m-2 0h2m-2 0h2m-1 0h2m3 0h2m-63 1h2m4 0h2m13 0h2m6 0h2m0 0h2m14 0h2m3 0h2m-59 1h2m5 0h2m10 0h2m1 0h2m1 0h2m20 0h2m3 0h2m11 0h2m6 0h2m-2 0h2m-1 0h2m-53 1h2m-2 0h2m0 0h2m2 0h2m1 0h2m0 0h2m17 0h2m6 0h2m25 0h2m-93 1h2m2 0h2m5 0h2m5 0h2m-1 0h2m10 0h2m49 0h2m11 0h2m-90 1h2m1 0h2m51 0h2m-1 0h2m-1 0h2m-1 0h2m-70 1h2m21 0h2m7 0h2m2 0h2m4 0h2m14 0h2m3 0h2m6 0h2m-1 0h2m9 0h2m1 0h2m-83 1h2m10 0h2m4 0h2m2 0h2m2 0h2m1 0h2m8 0h2m12 0h2m-1 0h2m18 0h2m2 0h2m-1 0h2m6 0h2m-68 1h2m1 0h2m6 0h2m6 0h2m24 0h2m3 0h2m-21 1h2m10 0h2m5 0h2m-1 0h2m-79 1h2m2 0h2m-1 0h2m63 0h2m-2 0h2m0 0h2m8 0h2m-72 1h2m31 0h2m6 0h2m9 0h2m-1 0h2m12 0h2m14 0h2m-99 1h2m9 0h2m3 0h2m8 0h2m15 0h2m36 0h2m-1 0h2m2 0h2m-70 1h2m0 0h2m-1 0h2m18 0h2m1 0h2m-1 0h2m1 0h2m33 0h2m6 0h2m1 0h2m5 0h2m-1 0h2m-102 1h2m-1 0h2m8 0h2m6 0h2m-2 0h2m15 0h2m10 0h2m21 0h2m2 0h2m-1 0h2m8 0h2m-64 1h2m1 0h2m-1 0h2m32 0h2m10 0h2m-45 1h2m10 0h2m13 0h2m7 0h2m-55 1h2m8 0h2m15 0h2m-1 0h2m8 0h2m10 0h2m1 0h2m0 0h2m4 0h2m-81 1h2m4 0h2m27 0h2m17 0h2m-1 0h2m-2 0h2m7 0h2m3 0h2m6 0h2m1 0h2m-83 1h2m61 0h2m3 0h2m2 0h2m3 0h2m4 0h2m4 0h2m18 0h2m-108 1h2m2 0h2m20 0h2m3 0h2m3 0h2m10 0h2m1 0h2m7 0h2m-2 0h2m5 0h2m0 0h2m13 0h2m12 0h2m-77 1h2m5 0h2m24 0h2m25 0h2m-68 1h2m13 0h2m11 0h2m0 0h2m4 0h2m1 0h2m10 0h2m16 0h2m-1 0h2m2 0h2m-92 1h2m3 0h2m43 0h2m29 0h2m-82 1h2m13 0h2m7 0h2m2 0h2m3 0h2m5 0h2m2 0h2m3 0h2m2 0h2m13 0h2m10 0h2m15 0h2m-81 1h2m-1 0h2m8 0h2m1 0h2m6 0h2m9 0h2m5 0h2m0 0h2m23 0h2m-82 1h2m11 0h2m0 0h2m5 0h2m20 0h2m21 0h2m-74 1h2m24 0h2m17 0h2m0 0h2m12 0h2m11 0h2m-2 0h2m1 0h2m11 0h2m1 0h2m1 0h2m-111 1h2m0 0h2m17 0h2m1 0h2m5 0h2m17 0h2m-2 0h2m31 0h2m-72 1h2m29 0h2m7 0h2m11 0h2m14 0h2m4 0h2m4 0h2m10 0h2m-1 0h2m3 0h2m-117 1h2m7 0h2m9 0h2m9 0h2m-1 0h2m23 0h2m10 0h2m1 0h2m-49 1h2m6 0h2m20 0h2m-1 0h2m24 0h2m-73 1h2m30 0h2m6 0h2m26 0h2m6 0h2m-58 1h2m12 0h2m14 0h2m1 0h2m10 0h2m9 0h2m7 0h2m-70 1h2m19 0h2m0 0h2m15 0h2m3 0h2m0 0h2m-60 1h2m5 0h2m1 0h2m3 0h2m-1 0h2m-2 0h2m14 0h2m-1 0h2m32 0h2m5 0h2m1 0h2m-1 0h2m-68 1h2m20 0h2m7 0h2m1 0h2m30 0h2m3 0h2m5 0h2m-103 1h2m2 0h2m3 0h2m-1 0h2m10 0h2m29 0h2m4 0h2m7 0h2m2 0h2m17 0h2m12 0h2m-104 1h2m5 0h2m6 0h2m25 0h2m22 0h2m21 0h2m5 0h2m-94 1h2m6 0h2m16 0h2m7 0h2m0 0h2m12 0h2m21 0h2m-2 0h2m5 0h2m12 0h2m-1 0h2m-81 1h2m3 0h2m19 0h2m15 0h2m1 0h2m9 0h2m3 0h2m15 0h2m-88 1h2m19 0h2m12 0h2m2 0h2m6 0h2m-1 0h2m15 0h2m6 0h2m-1 0h2m-71 1h2m25 0h2m5 0h2m9 0h2m0 0h2m20 0h2m-74 1h2m24 0h2m8 0h2m20 0h2m7 0h2m14 0h2m-86 1h2m-2 0h2m18 0h2m5 0h2m3 0h2m4 0h2m20 0h2m14 0h2m-80 1h2m27 0h2m2 0h2m13 0h2m15 0h2m1 0h2m2 0h2m1 0h2m1 0h2m4 0h2m-105 1h2m9 0h2m10 0h2m8 0h2m12 0h2m0 0h2m14 0h2m2 0h2m1 0h2m2 0h2m7 0h2m13 0h2m5 0h2m-107 1h2m19 0h2m3 0h2m9 0h2m12 0h2m1 0h2m11 0h2m8 0h2m18 0h2m0 0h2m-1 0h2m-99 1h2m19 0h2m13 0h2m21 0h2m20 0h2m21 0h2m-74 1h2m21 0h2m11 0h2m18 0h2m4 0h2m-88 1h2m0 0h2m10 0h2m-1 0h2m4 0h2m11 0h2m1 0h2m2 0h2m23 0h2m13 0h2m-1 0h2m14 0h2m-1 0h2m-104 1h2m-1 0h2m4 0h2m3 0h2m37 0h2m-1 0h2m-1 0h2m-1 0h2m50 0h2m1 0h2m-104 1h2m2 0h2m29 0h2m14 0h2m-1 0h2m-1 0h2m4 0h2m4 0h2m11 0h2m-73 1h2m8 0h2m0 0h2m20 0h2m3 0h2m17 0h2m1 0h2m1 0h2m19 0h2m-111 1h2m7 0h2m4 0h2m3 0h2m-1 0h2m10 0h2m26 0h2m8 0h2m-50 1h2m12 0h2m13 0h2m37 0h2m19 0h2m-83 1h2m7 0h2m4 0h2m7 0h2m9 0h2m32 0h2m1 0h2m-98 1h2m3 0h2m20 0h2m5 0h2m7 0h2m12 0h2m20 0h2m2 0h2m10 0h2m-2 0h2m-91 1h2m18 0h2m2 0h2m1 0h2m19 0h2m20 0h2m-87 1h2m17 0h2m0 0h2m2 0h2m18 0h2m17 0h2m13 0h2m20 0h2m-79 1h2m12 0h2m1 0h2m35 0h2m10 0h2m-2 0h2m-2 0h2m-1 0h2m-84 1h2m3 0h2m3 0h2m3 0h2m5 0h2m3 0h2m7 0h2m0 0h2m10 0h2m2 0h2m0 0h2m18 0h2m19 0h2m-94 1h2m9 0h2m2 0h2m6 0h2m7 0h2m3 0h2m36 0h2m4 0h2m11 0h2m-102 1h2m29 0h2m40 0h2m0 0h2m-65 1h2m21 0h2m18 0h2m0 0h2m14 0h2m3 0h2m6 0h2m4 0h2m2 0h2m4 0h2m-98 1h2m-1 0h2m31 0h2m10 0h2m24 0h2m0 0h2m7 0h2m-94 1h2m3 0h2m38 0h2m3 0h2m5 0h2m8 0h2m10 0h2m14 0h2m-1 0h2m1 0h2m7 0h2m-95 1h2m-1 0h2m10 0h2m20 0h2m13 0h2m5 0h2m29 0h2m-111 1h2m13 0h2m4 0h2m13 0h2m11 0h2m37 0h2m6 0h2m11 0h2m-99 1h2m3 0h2m5 0h2m21 0h2m0 0h2m-1 0h2m-1 0h2m-31 1h2m-2 0h2m9 0h2m3 0h2m1 0h2m19 0h2m-1 0h2m12 0h2m3 0h2m19 0h2m-90 1h2m13 0h2m3 0h2m-1 0h2m20 0h2m10 0h2m-1 0h2m5 0h2m4 0h2m32 0h2m-91 1h2m2 0h2m32 0h2m19 0h2m2 0h2m19 0h2m-102 1h2m8 0h2m22 0h2m30 0h2m-42 1h2m16 0h2m5 0h2m22 0h2m2 0h2m-90 1h2m21 0h2m76 0h2m-79 1h2m27 0h2m7 0h2m25 0h2m-60 1h2m4 0h2m11 0h2m3 0h2m5 0h2m18 0h2m11 0h2m-83 1h2m1 0h2m24 0h2m37 0h2m21 0h2m0 0h2m-86 1h2m39 0h2m33 2h2m-58 2h2m58 0h2m-18 1h2m2 1h2m-78 2h2m52 0h2m10 0h2m18 0h2m-99 1h2m14 0h2m-9 2h2m33 1h2m-5 1h2m37 0h2m0 0h2m-77 1h2m10 0h2m77 0h2m-60 1h2m10 0h2m-60 1h2m6 0h2m75 0h2m-66 1h2m5 0h2m67 0h2m-81 1h2m-4 1h2m41 0h2m-37 1h2m7 0h2m0 0h2m31 2h2m-31 2h2m28 1h2m-38 1h2m-14 4h2m21 1h2m8 2h2m20 0h2m-11 1h2m3 1h2m16 2h2m-51 4h2" stroke="#e0606b" stroke-width="1.60" opacity="1.0" filter="url(#soft)"/>
<path transform="scale(.5)" d="M294 787h2m59 0h2m-1 0h2m-47 2h2m67 2h2m-73 1h2m23 0h2m31 1h2m-27 1h2m29 0h2m-84 1h2m13 0h2m46 0h2m-42 1h2m4 0h2m33 0h2m-56 1h2m16 0h2m4 0h2m37 0h2m23 0h2m-41 1h2m20 0h2m-38 1h2m55 0h2m-40 1h2m11 0h2m-13 1h2m-37 1h2m12 0h2m48 0h2m-80 1h2m42 0h2m-45 1h2m2 0h2m50 0h2m14 0h2m-56 2h2m36 0h2m-48 1h2m10 0h2m-38 1h2m38 0h2m16 0h2m1 0h2m-41 1h2m21 0h2m10 0h2m18 0h2m-68 1h2m6 0h2m73 0h2m-80 1h2m35 0h2m22 0h2m2 0h2m-95 1h2m49 0h2m22 0h2m8 0h2m4 0h2m-72 1h2m62 0h2m8 0h2m-83 1h2m29 0h2m25 0h2m8 0h2m24 0h2m-99 1h2m20 0h2m25 0h2m-46 1h2m91 0h2m6 0h2m-101 1h2m37 0h2m2 0h2m11 1h2m20 0h2m3 0h2m-38 2h2m-49 1h2m48 0h2m19 0h2m-73 2h2m33 1h2m5 1h2m15 0h2m-32 1h2m59 0h2m-74 1h2m29 1h2m27 0h2m14 0h2m1 0h2m-8 1h2m-82 1h2m-18 1h2m23 0h2m4 0h2m30 0h2m-6 1h2m18 0h2m-36 1h2m11 0h2m-51 1h2m5 0h2m18 0h2m55 0h2m-61 2h2m36 0h2m-10 1h2m-58 1h2m33 1h2m16 0h2m25 0h2m-92 1h2m11 0h2m3 0h2m12 0h2m53 1h2m16 0h2m-89 1h2m34 0h2m-49 1h2m46 0h2m31 0h2m-53 1h2m28 0h2m-5 1h2m29 0h2m-95 1h2m48 0h2m29 0h2m8 1h2m-32 1h2m8 0h2m8 1h2m-73 1h2m29 0h2m-2 1h2m1 0h2m11 0h2m-52 1h2m35 0h2m21 0h2m25 0h2m-95 1h2m39 0h2m11 0h2m42 1h2m1 2h2m-104 1h2m76 0h2m4 0h2m17 0h2m-76 1h2m48 0h2m22 0h2m-58 1h2m28 0h2m-56 1h2m10 0h2m1 0h2m-39 1h2m44 0h2m39 0h2m-66 1h2m11 0h2m51 0h2m1 0h2m-94 1h2m27 0h2m54 0h2m5 0h2m-52 1h2m18 0h2m-1 0h2m40 0h2m-109 1h2m7 0h2m0 0h2m50 0h2m33 0h2m-4 1h2m9 0h2m-84 1h2m21 0h2m26 0h2m16 0h2m5 0h2m-79 1h2m4 0h2m29 0h2m-38 1h2m2 1h2m62 0h2m18 0h2m-48 1h2m14 0h2m-1 0h2m-74 1h2m54 0h2m4 0h2m1 0h2m-55 1h2m25 0h2m-56 1h2m19 0h2m27 0h2m45 1h2m-85 1h2m70 0h2m-59 1h2m16 0h2m-50 1h2m18 0h2m49 0h2m14 0h2m-29 1h2m3 0h2m2 0h2m-11 1h2m8 0h2m7 0h2m14 1h2m13 1h2m-97 1h2m6 0h2m18 0h2m45 0h2m14 1h2m-58 1h2m56 0h2m-81 1h2m71 0h2m-72 1h2m53 1h2m-71 2h2m35 0h2m21 0h2m-6 1h2m-63 3h2m54 0h2m23 0h2m-95 1h2m13 1h2m-5 1h2m53 0h2m-38 1h2m-26 1h2m15 0h2m11 0h2m6 0h2m9 0h2m-19 1h2m43 0h2m-88 1h2m2 0h2m54 0h2m28 0h2m-77 1h2m62 0h2m-67 2h2m-5 1h2m14 0h2m76 0h2m-80 1h2m41 0h2m-1 0h2m-10 1h2m29 0h2m15 0h2m-114 1h2m52 0h2m12 0h2m9 0h2m16 0h2m-97 1h2m109 0h2m-32 1h2m-59 1h2m0 0h2m-30 3h2m27 1h2m2 0h2m7 0h2m5 0h2m15 0h2m-16 1h2m21 0h2m13 0h2m12 0h2m-97 1h2m12 0h2m16 0h2m39 0h2m2 0h2m5 0h2m-2 0h2m-61 1h2m46 0h2m-66 1h2m18 1h2m46 0h2m8 0h2m-95 1h2m38 2h2m3 0h2m16 0h2m-61 1h2m8 0h2m52 0h2m-72 1h2m42 0h2m3 0h2m25 0h2m15 0h2m-98 3h2m84 0h2m-67 1h2m36 5h2m-40 2h2m52 4h2m-6 1h2" stroke="#97c1e8" stroke-width="1.60" opacity="1.0" filter="url(#soft)"/>
<path transform="scale(.5)" d="M336 792h2m38 0h2m-77 1h2m7 1h2m16 0h2m4 0h2m26 1h2m3 0h2m6 1h2m-59 1h2m1 0h2m8 0h2m-18 1h2m3 0h2m14 1h2m13 1h2m8 0h2m-24 1h2m1 0h2m19 0h2m-75 1h2m60 0h2m5 0h2m0 0h2m21 0h2m0 0h2m-68 1h2m-1 0h2m11 0h2m7 0h2m21 0h2m3 0h2m-62 1h2m2 0h2m47 0h2m6 0h2m-85 1h2m73 0h2m12 0h2m11 0h2m-102 1h2m58 0h2m24 0h2m-1 0h2m-81 1h2m47 0h2m2 0h2m0 0h2m26 0h2m-2 0h2m-87 1h2m12 0h2m15 0h2m26 0h2m24 0h2m-89 1h2m9 0h2m6 0h2m-2 0h2m19 0h2m15 0h2m17 0h2m6 0h2m20 0h2m-91 1h2m0 0h2m12 0h2m1 0h2m35 0h2m-82 1h2m6 0h2m70 0h2m2 0h2m3 0h2m0 0h2m2 0h2m20 0h2m-92 1h2m4 0h2m53 0h2m-92 1h2m5 0h2m31 0h2m2 0h2m-1 0h2m2 0h2m13 0h2m0 0h2m3 0h2m1 0h2m10 0h2m1 0h2m9 0h2m0 0h2m-103 1h2m27 0h2m5 0h2m5 0h2m28 0h2m-1 0h2m-1 0h2m9 0h2m-2 0h2m7 0h2m9 0h2m-89 1h2m28 0h2m-2 0h2m-1 0h2m-1 0h2m0 0h2m4 0h2m23 0h2m9 0h2m-92 1h2m25 0h2m18 0h2m-1 0h2m3 0h2m4 0h2m18 0h2m13 0h2m-79 1h2m1 0h2m5 0h2m5 0h2m0 0h2m40 0h2m-70 1h2m24 0h2m10 0h2m20 0h2m-1 0h2m0 0h2m20 0h2m-91 1h2m6 0h2m13 0h2m35 0h2m0 0h2m10 0h2m23 0h2m-98 1h2m9 0h2m18 0h2m6 0h2m-1 0h2m7 0h2m12 0h2m7 0h2m11 0h2m3 0h2m-92 1h2m1 0h2m38 0h2m4 0h2m0 0h2m14 0h2m15 0h2m-23 1h2m1 0h2m0 0h2m3 0h2m0 0h2m1 0h2m1 0h2m-69 1h2m1 0h2m2 0h2m9 0h2m18 0h2m-2 0h2m22 0h2m1 0h2m-2 0h2m-91 1h2m24 0h2m12 0h2m23 0h2m8 0h2m5 0h2m4 0h2m0 0h2m3 0h2m-68 1h2m1 0h2m4 0h2m2 0h2m-1 0h2m0 0h2m24 0h2m17 0h2m15 0h2m-74 1h2m5 0h2m-1 0h2m1 0h2m33 0h2m6 0h2m3 0h2m-83 1h2m-1 0h2m2 0h2m1 0h2m32 0h2m7 0h2m4 0h2m3 0h2m20 0h2m-84 1h2m4 0h2m-2 0h2m1 0h2m4 0h2m7 0h2m21 0h2m19 0h2m-89 1h2m10 0h2m0 0h2m1 0h2m8 0h2m1 0h2m29 0h2m23 0h2m-1 0h2m5 0h2m-2 0h2m-93 1h2m15 0h2m0 0h2m5 0h2m6 0h2m-1 0h2m46 0h2m8 0h2m12 0h2m-98 1h2m2 0h2m13 0h2m7 0h2m9 0h2m-2 0h2m3 0h2m3 0h2m4 0h2m-1 0h2m10 0h2m0 0h2m0 0h2m-2 0h2m11 0h2m1 0h2m-78 1h2m14 0h2m6 0h2m5 0h2m8 0h2m4 0h2m4 0h2m9 0h2m8 0h2m4 0h2m-84 1h2m-2 0h2m-1 0h2m0 0h2m0 0h2m6 0h2m18 0h2m28 0h2m2 0h2m-81 1h2m1 0h2m9 0h2m2 0h2m20 0h2m2 0h2m2 0h2m4 0h2m1 0h2m40 0h2m-102 1h2m9 0h2m-1 0h2m2 0h2m13 0h2m15 0h2m-1 0h2m0 0h2m10 0h2m24 0h2m-99 1h2m20 0h2m16 0h2m31 0h2m26 0h2m-108 1h2m18 0h2m29 0h2m6 0h2m-2 0h2m5 0h2m0 0h2m2 0h2m-1 0h2m-1 0h2m3 0h2m9 0h2m3 0h2m-35 1h2m-1 0h2m37 0h2m3 0h2m-2 0h2m-101 1h2m2 0h2m2 0h2m45 0h2m6 0h2m8 0h2m0 0h2m8 0h2m7 0h2m8 0h2m-74 1h2m3 0h2m0 0h2m6 0h2m47 0h2m-103 1h2m18 0h2m0 0h2m-1 0h2m2 0h2m-1 0h2m25 0h2m19 0h2m15 0h2m9 0h2m-109 1h2m13 0h2m12 0h2m-2 0h2m30 0h2m15 0h2m15 0h2m4 0h2m8 0h2m-113 1h2m21 0h2m-2 0h2m-1 0h2m26 0h2m22 0h2m2 0h2m15 0h2m3 0h2m-2 0h2m20 0h2m-124 1h2m6 0h2m4 0h2m15 0h2m0 0h2m0 0h2m1 0h2m11 0h2m2 0h2m-1 0h2m11 0h2m9 0h2m-1 0h2m7 0h2m-83 1h2m0 0h2m-1 0h2m14 0h2m33 0h2m1 0h2m15 0h2m6 0h2m-55 1h2m14 0h2m27 0h2m19 0h2m-93 1h2m16 0h2m7 0h2m1 0h2m7 0h2m6 0h2m15 0h2m24 0h2m-81 1h2m30 0h2m3 0h2m24 0h2m15 0h2m-2 0h2m5 0h2m-109 1h2m8 0h2m9 0h2m9 0h2m41 0h2m2 0h2m8 0h2m-89 1h2m8 0h2m21 0h2m0 0h2m2 0h2m7 0h2m4 0h2m12 0h2m1 0h2m2 0h2m14 0h2m1 0h2m21 0h2m-129 1h2m35 0h2m3 0h2m26 0h2m6 0h2m2 0h2m8 0h2m10 0h2m9 0h2m-97 1h2m-1 0h2m4 0h2m2 0h2m1 0h2m4 0h2m17 0h2m12 0h2m2 0h2m1 0h2m4 0h2m35 0h2m-96 1h2m10 0h2m2 0h2m12 0h2m11 0h2m34 0h2m-100 1h2m5 0h2m9 0h2m1 0h2m0 0h2m-2 0h2m23 0h2m20 0h2m-1 0h2m19 0h2m-1 0h2m6 0h2m7 0h2m-106 1h2m11 0h2m1 0h2m-2 0h2m9 0h2m6 0h2m22 0h2m7 0h2m-46 1h2m17 0h2m-1 0h2m7 0h2m2 0h2m17 0h2m5 0h2m-2 0h2m12 0h2m-108 1h2m3 0h2m9 0h2m0 0h2m5 0h2m7 0h2m2 0h2m13 0h2m19 0h2m-1 0h2m-69 1h2m1 0h2m22 0h2m17 0h2m12 0h2m26 0h2m-92 1h2m-1 0h2m5 0h2m1 0h2m17 0h2m13 0h2m20 0h2m1 0h2m4 0h2m1 0h2m7 0h2m0 0h2m-88 1h2m9 0h2m10 0h2m2 0h2m35 0h2m30 0h2m0 0h2m-96 1h2m34 0h2m13 0h2m5 0h2m16 0h2m-81 1h2m35 0h2m-2 0h2m15 0h2m21 0h2m4 0h2m11 0h2m-116 1h2m39 0h2m7 0h2m5 0h2m20 0h2m5 0h2m-1 0h2m-46 1h2m-1 0h2m27 0h2m2 0h2m22 0h2m4 0h2m-79 1h2m4 0h2m-2 0h2m4 0h2m-1 0h2m10 0h2m12 0h2m6 0h2m6 0h2m5 0h2m3 0h2m30 0h2m-102 1h2m4 0h2m57 0h2m1 0h2m0 0h2m8 0h2m-71 1h2m2 0h2m4 0h2m0 0h2m3 0h2m1 0h2m4 0h2m5 0h2m7 0h2m-77 1h2m16 0h2m9 0h2m13 0h2m29 0h2m-71 1h2m0 0h2m23 0h2m27 0h2m16 0h2m14 0h2m-1 0h2m-95 1h2m9 0h2m8 0h2m1 0h2m0 0h2m14 0h2m47 0h2m-83 1h2m3 0h2m7 0h2m3 0h2m17 0h2m15 0h2m8 0h2m0 0h2m3 0h2m7 0h2m-2 0h2m2 0h2m-96 1h2m6 0h2m7 0h2m17 0h2m2 0h2m42 0h2m5 0h2m-102 1h2m14 0h2m-1 0h2m2 0h2m24 0h2m2 0h2m-1 0h2m10 0h2m0 0h2m9 0h2m6 0h2m10 0h2m11 0h2m-100 1h2m0 0h2m5 0h2m7 0h2m2 0h2m25 0h2m21 0h2m12 0h2m6 0h2m0 0h2m-93 1h2m-1 0h2m-2 0h2m12 0h2m12 0h2m9 0h2m5 0h2m2 0h2m9 0h2m12 0h2m-72 1h2m18 0h2m0 0h2m-1 0h2m2 0h2m0 0h2m0 0h2m-1 0h2m1 0h2m9 0h2m-1 0h2m40 0h2m-59 1h2m3 0h2m19 0h2m2 0h2m18 0h2m-102 1h2m6 0h2m7 0h2m11 0h2m21 0h2m7 0h2m-1 0h2m16 0h2m0 0h2m-58 1h2m14 0h2m0 0h2m-2 0h2m24 0h2m9 0h2m5 0h2m2 0h2m-1 0h2m-88 1h2m8 0h2m5 0h2m33 0h2m38 0h2m-93 1h2m32 0h2m15 0h2m-1 0h2m21 0h2m1 0h2m1 0h2m-82 1h2m16 0h2m9 0h2m3 0h2m14 0h2m9 0h2m-1 0h2m18 0h2m10 0h2m-101 1h2m-1 0h2m22 0h2m6 0h2m25 0h2m0 0h2m5 0h2m13 0h2m3 0h2m-1 0h2m1 0h2m-97 1h2m17 0h2m1 0h2m6 0h2m13 0h2m35 0h2m14 0h2m-102 1h2m19 0h2m30 0h2m12 0h2m11 0h2m-80 1h2m22 0h2m29 0h2m-1 0h2m-1 0h2m8 0h2m14 0h2m-1 0h2m2 0h2m4 0h2m-86 1h2m14 0h2m4 0h2m56 0h2m10 0h2m-84 1h2m4 0h2m47 0h2m21 0h2m-45 1h2m9 0h2m21 0h2m-81 1h2m58 0h2m6 0h2m10 0h2m2 0h2m-85 1h2m4 0h2m-1 0h2m34 0h2m11 0h2m1 0h2m-51 1h2m10 0h2m52 0h2m1 0h2m-97 1h2m72 0h2m22 0h2m0 0h2m-60 1h2m10 0h2m22 0h2m-76 1h2m7 0h2m1 0h2m59 0h2m2 0h2m30 0h2m-55 1h2m40 0h2m10 0h2m-107 1h2m61 0h2m15 0h2m-90 1h2m63 0h2m-38 1h2m48 0h2m-54 1h2m40 0h2m-2 0h2m30 0h2m-7 2h2m-58 1h2m-22 1h2m-8 1h2m83 1h2m-69 1h2m-20 1h2m20 0h2m22 1h2m13 0h2m-76 1h2m33 1h2m12 0h2m36 1h2m-53 1h2m33 2h2m-61 1h2m15 0h2m-14 1h2m1 2h2m-22 1h2m44 0h2m-9 1h2m36 2h2m-36 1h2m11 3h2m23 2h2m-10 1h2m13 2h2m-39 2h2" stroke="#e0606b" stroke-width="1.60" opacity="1.0" filter="url(#soft)"/>
<path d="M161.3 402.3h1.9M172.8 427.6h1.9M152.7 430.9h1.9M149.4 424.5h1.9M175.7 436.6h1.9M157.9 405.3h1.9M151.0 431.3h1.9M161.8 415.3h1.9M174.0 420.3h1.9M183.9 428.9h1.9M168.0 438.8h1.9M167.7 401.7h1.9M159.3 412.8h1.9M163.0 434.3h1.9M161.7 441.4h1.9M161.5 418.7h1.9M173.3 426.1h1.9M169.4 436.5h1.9M187.2 409.3h1.9M186.4 428.0h1.9M170.3 423.9h1.9M173.6 437.0h1.9M160.0 410.2h1.9M192.7 434.3h1.9M163.7 402.6h1.9M158.6 431.3h1.9M173.2 430.2h1.9M167.9 407.0h1.9M179.8 409.4h1.9M188.3 433.6h1.9M187.7 415.5h1.9M184.9 417.7h1.9M187.8 418.7h1.9M175.4 434.0h1.9M185.6 426.8h1.9M181.1 441.5h1.9M171.5 425.0h1.9M175.5 435.6h1.9M168.0 432.0h1.9M165.8 437.9h1.9M183.8 402.5h1.9M166.3 441.9h1.9M164.3 439.2h1.9M166.4 421.0h1.9M160.8 439.9h1.9M171.1 427.2h1.9M180.3 420.9h1.9M181.2 421.9h1.9M177.0 418.2h1.9M149.4 427.9h1.9M174.6 438.2h1.9M181.4 403.4h1.9" stroke="#1b1b1b" stroke-width="1.9"/>
<path d="M142.6 447.5h1.9M148.6 452.5h1.9" stroke="#1b1b1b" stroke-width="1.9"/>
<path d="M100.9 409.8 101.1 412.0 101.3 414.9 100.9 417.2 101.0 419.9 101.1 422.4 100.9 424.7M91.0 406.5 91.5 409.7 92.4 412.4 92.6 414.8 93.5 416.7 94.7 419.1 95.6 420.8 96.5 423.1 97.6 424.7M100.9 424.7 101.9 422.4 103.5 421.3 104.7 419.1 105.9 417.0 106.9 414.9 107.7 413.3 109.2 411.5 110.9 409.4 112.1 407.7 114.2 405.3 115.7 403.5 117.5 401.6 118.9 399.5 121.2 398.7 122.6 396.9 124.1 394.9M117.5 401.6 119.9 401.0 122.4 399.9M109.2 429.7 111.1 428.8 113.6 427.8 115.3 426.5 117.5 425.2 120.0 424.0 122.4 422.4 123.8 421.4 125.8 420.0 128.4 419.5 130.0 418.0 132.3 416.8 134.9 415.5 137.3 414.8M100.9 424.7 102.8 426.5 105.5 427.6 108.0 429.0 110.8 429.6 112.8 429.1 115.0 430.0 118.0 429.5 120.0 430.0 122.8 429.9 124.9 429.8 127.8 430.7 129.6 430.4 132.1 430.7 134.4 430.1 137.3 430.5 140.0 430.3 142.7 430.8 145.1 430.2 147.6 430.9 150.0 430.5 152.5 430.4 154.8 430.8 157.7 431.0 159.7 431.3 162.6 432.0 165.0 432.0M100.9 424.7 98.6 425.3 96.9 425.7 94.1 425.9 92.6 426.7 90.0 427.0 87.1 427.8 84.3 428.8 82.0 429.1 79.4 429.7M67.0 426.4 67.2 428.2 67.4 430.6 67.2 433.3 67.2 435.0 67.9 437.2 67.8 439.6 69.3 441.3 70.8 443.3 73.2 444.2 74.4 446.5 76.1 447.9 77.9 449.4 80.0 449.8 82.0 451.3 83.7 452.4 86.0 453.4 87.7 454.5 90.2 455.2 92.8 455.4 95.5 455.5 97.6 456.2 99.5 453.4 100.9 451.2M79.4 434.7 81.5 435.8 83.3 437.6 85.6 438.9 87.1 440.0 89.3 441.3 91.0 443.0 93.2 444.2 95.2 446.4 97.1 448.2 98.7 449.2 100.9 451.2M100.9 424.7 100.5 427.0 100.8 429.3 100.7 431.9 100.5 434.3 101.0 436.3 101.2 438.4 100.6 440.8 100.5 443.1 101.0 445.6 100.9 447.9 101.5 450.5 102.2 453.1 103.1 455.1 104.2 457.8 105.0 460.2 106.7 462.5 107.5 464.5 108.2 466.6 109.6 468.6 110.8 471.1 112.2 473.0 112.8 476.0 114.2 477.7 114.8 480.6 115.8 482.7M107.5 464.5 105.4 465.9 104.6 467.5 102.5 469.3 100.9 471.1 102.8 471.7 104.4 473.5 107.1 474.3 108.6 474.9 110.8 476.1M109.2 439.6 110.9 441.0 112.5 443.3 114.1 444.4 116.3 446.3 117.5 447.9 119.3 448.0 122.0 447.9 124.0 448.6 126.6 448.7 128.8 448.8 130.6 449.3 132.8 449.5 134.8 449.3 137.3 449.6 139.6 449.7 142.1 449.5 144.7 449.8 147.3 449.9 150.0 450.0 152.9 449.8 155.3 449.1 157.4 448.6 160.2 448.5 162.3 447.9 165.0 448.0 167.2 447.5 169.9 447.7 172.7 446.8 174.9 446.4 177.9 446.2 180.0 446.0 182.6 447.0 185.2 447.2 187.0 448.3 189.2 449.5 192.0 450.0M88.0 430.0 87.7 432.6 87.7 434.7M183.0 446.0 184.0 447.6 184.9 449.8 185.6 451.7 187.1 453.6 188.0 456.0 190.2 454.6 192.7 453.0 195.0 452.0 196.7 449.8 198.0 448.0M165.0 448.0 164.2 450.5 162.7 452.4 162.0 455.0" fill="none" stroke="#9a7a48" stroke-width="0.65" stroke-linejoin="round" stroke-linecap="round"/>
<polygon points="101.4,413.8 99.5,417.7 103.3,417.7" fill="#d4861c" />
<rect x="146" y="505" width="55" height="64" rx="14" fill="#e8e8e8" opacity="0.7" filter="url(#blur2)"/>
<path transform="scale(.5)" d="M299 1001h2m14 1h2m-8 2h2m21 0h2m-8 2h2m24 0h2m-38 2h2m46 0h2m-36 1h2m17 0h2m30 0h2m-48 1h2m4 0h2m-46 1h2m17 0h2m30 2h2m30 0h2m-79 1h2m3 0h2m2 0h2m36 0h2m8 0h2m3 0h2m16 0h2m-65 1h2m16 0h2m16 0h2m14 0h2m-88 1h2m-1 0h2m9 0h2m13 0h2m12 0h2m0 0h2m0 0h2m6 0h2m37 0h2m2 0h2m0 0h2m3 0h2m-85 1h2m7 0h2m1 0h2m14 0h2m8 0h2m21 0h2m2 0h2m-1 0h2m-71 1h2m27 0h2m8 0h2m4 0h2m-2 0h2m10 0h2m10 0h2m0 0h2m0 0h2m-74 1h2m48 0h2m6 0h2m2 0h2m-1 0h2m-80 1h2m0 0h2m9 0h2m14 0h2m7 0h2m12 0h2m23 0h2m-69 1h2m0 0h2m-2 0h2m-1 0h2m11 0h2m14 0h2m0 0h2m1 0h2m32 0h2m6 0h2m14 0h2m-100 1h2m2 0h2m32 0h2m7 0h2m6 0h2m15 0h2m9 0h2m6 0h2m-85 1h2m7 0h2m3 0h2m21 0h2m-1 0h2m9 0h2m10 0h2m-1 0h2m-1 0h2m7 0h2m7 0h2m-93 1h2m5 0h2m30 0h2m-2 0h2m13 0h2m-2 0h2m27 0h2m4 0h2m-1 0h2m4 0h2m-89 1h2m13 0h2m41 0h2m9 0h2m-73 1h2m12 0h2m-1 0h2m8 0h2m5 0h2m-1 0h2m4 0h2m2 0h2m44 0h2m-82 1h2m2 0h2m23 0h2m5 0h2m12 0h2m17 0h2m0 0h2m-74 1h2m-2 0h2m0 0h2m5 0h2m20 0h2m18 0h2m3 0h2m1 0h2m-76 1h2m11 0h2m8 0h2m1 0h2m-1 0h2m-1 0h2m1 0h2m3 0h2m24 0h2m23 0h2m16 0h2m-113 1h2m6 0h2m4 0h2m8 0h2m10 0h2m8 0h2m3 0h2m7 0h2m17 0h2m12 0h2m-2 0h2m-2 0h2m5 0h2m3 0h2m-97 1h2m2 0h2m7 0h2m8 0h2m5 0h2m4 0h2m3 0h2m1 0h2m2 0h2m1 0h2m20 0h2m17 0h2m5 0h2m-91 1h2m17 0h2m10 0h2m15 0h2m21 0h2m-1 0h2m0 0h2m-68 1h2m29 0h2m-1 0h2m17 0h2m12 0h2m-83 1h2m19 0h2m2 0h2m11 0h2m12 0h2m10 0h2m4 0h2m8 0h2m6 0h2m-102 1h2m8 0h2m1 0h2m39 0h2m9 0h2m15 0h2m8 0h2m0 0h2m3 0h2m8 0h2m-82 1h2m16 0h2m-2 0h2m4 0h2m2 0h2m20 0h2m26 0h2m0 0h2m8 0h2m-99 1h2m0 0h2m3 0h2m6 0h2m0 0h2m34 0h2m24 0h2m1 0h2m1 0h2m-96 1h2m0 0h2m8 0h2m23 0h2m15 0h2m22 0h2m6 0h2m1 0h2m-86 1h2m11 0h2m17 0h2m1 0h2m15 0h2m2 0h2m10 0h2m16 0h2m-106 1h2m-1 0h2m13 0h2m-1 0h2m-2 0h2m2 0h2m25 0h2m3 0h2m12 0h2m4 0h2m1 0h2m3 0h2m6 0h2m3 0h2m0 0h2m5 0h2m-89 1h2m82 0h2m-98 1h2m0 0h2m12 0h2m3 0h2m-2 0h2m3 0h2m-1 0h2m7 0h2m14 0h2m45 0h2m8 0h2m-86 1h2m16 0h2m7 0h2m-2 0h2m1 0h2m2 0h2m22 0h2m6 0h2m2 0h2m6 0h2m0 0h2m-105 1h2m13 0h2m5 0h2m3 0h2m0 0h2m15 0h2m5 0h2m7 0h2m4 0h2m0 0h2m0 0h2m4 0h2m9 0h2m3 0h2m0 0h2m-90 1h2m-2 0h2m1 0h2m4 0h2m-2 0h2m6 0h2m-1 0h2m8 0h2m-1 0h2m6 0h2m3 0h2m3 0h2m-1 0h2m5 0h2m5 0h2m-2 0h2m16 0h2m-4 1h2m1 0h2m0 0h2m22 0h2m-116 1h2m5 0h2m21 0h2m8 0h2m17 0h2m0 0h2m2 0h2m15 0h2m-71 1h2m33 0h2m0 0h2m7 0h2m3 0h2m13 0h2m9 0h2m0 0h2m0 0h2m-81 1h2m4 0h2m19 0h2m2 0h2m10 0h2m1 0h2m2 0h2m3 0h2m1 0h2m20 0h2m0 0h2m-107 1h2m-1 0h2m9 0h2m-1 0h2m12 0h2m5 0h2m16 0h2m-1 0h2m5 0h2m-1 0h2m0 0h2m5 0h2m0 0h2m7 0h2m-2 0h2m4 0h2m1 0h2m7 0h2m4 0h2m-105 1h2m7 0h2m9 0h2m1 0h2m5 0h2m25 0h2m9 0h2m0 0h2m-1 0h2m1 0h2m2 0h2m-1 0h2m5 0h2m28 0h2m-111 1h2m3 0h2m0 0h2m-1 0h2m-1 0h2m3 0h2m10 0h2m1 0h2m18 0h2m7 0h2m3 0h2m-2 0h2m1 0h2m9 0h2m4 0h2m5 0h2m6 0h2m-55 1h2m-1 0h2m0 0h2m6 0h2m2 0h2m-1 0h2m16 0h2m5 0h2m14 0h2m1 0h2m6 0h2m-122 1h2m4 0h2m33 0h2m5 0h2m-1 0h2m9 0h2m-2 0h2m2 0h2m24 0h2m-1 0h2m0 0h2m-1 0h2m2 0h2m-83 1h2m-2 0h2m38 0h2m42 0h2m-107 1h2m3 0h2m10 0h2m10 0h2m10 0h2m25 0h2m1 0h2m2 0h2m11 0h2m8 0h2m13 0h2m-108 1h2m1 0h2m32 0h2m2 0h2m5 0h2m3 0h2m4 0h2m7 0h2m0 0h2m9 0h2m18 0h2m5 0h2m-111 1h2m1 0h2m0 0h2m3 0h2m3 0h2m10 0h2m-1 0h2m7 0h2m6 0h2m-2 0h2m13 0h2m14 0h2m0 0h2m8 0h2m-73 1h2m18 0h2m6 0h2m1 0h2m10 0h2m3 0h2m3 0h2m-1 0h2m15 0h2m-96 1h2m-1 0h2m0 0h2m20 0h2m3 0h2m15 0h2m16 0h2m3 0h2m1 0h2m30 0h2m-91 1h2m12 0h2m19 0h2m0 0h2m-1 0h2m2 0h2m40 0h2m4 0h2m-96 1h2m18 0h2m15 0h2m13 0h2m10 0h2m-54 1h2m9 0h2m4 0h2m1 0h2m0 0h2m-1 0h2m10 0h2m1 0h2m1 0h2m-2 0h2m2 0h2m-2 0h2m0 0h2m28 0h2m8 0h2m-101 1h2m0 0h2m0 0h2m2 0h2m8 0h2m9 0h2m9 0h2m3 0h2m2 0h2m6 0h2m9 0h2m3 0h2m2 0h2m-1 0h2m19 0h2m6 0h2m-94 1h2m4 0h2m-1 0h2m1 0h2m14 0h2m5 0h2m-2 0h2m8 0h2m9 0h2m5 0h2m5 0h2m2 0h2m0 0h2m0 0h2m0 0h2m11 0h2m-107 1h2m2 0h2m5 0h2m-1 0h2m14 0h2m4 0h2m5 0h2m34 0h2m-1 0h2m0 0h2m13 0h2m-1 0h2m-1 0h2m-105 1h2m5 0h2m4 0h2m27 0h2m2 0h2m13 0h2m17 0h2m6 0h2m20 0h2m-110 1h2m8 0h2m14 0h2m27 0h2m11 0h2m1 0h2m14 0h2m4 0h2m15 0h2m-101 1h2m26 0h2m-1 0h2m3 0h2m-2 0h2m7 0h2m0 0h2m31 0h2m3 0h2m14 0h2m-102 1h2m1 0h2m33 0h2m17 0h2m4 0h2m22 0h2m-1 0h2m1 0h2m1 0h2m1 0h2m-104 1h2m1 0h2m12 0h2m1 0h2m3 0h2m-2 0h2m11 0h2m5 0h2m5 0h2m0 0h2m-1 0h2m15 0h2m2 0h2m7 0h2m-75 1h2m16 0h2m13 0h2m5 0h2m4 0h2m0 0h2m1 0h2m3 0h2m27 0h2m7 0h2m-120 1h2m49 0h2m-2 0h2m0 0h2m1 0h2m2 0h2m2 0h2m14 0h2m11 0h2m-1 0h2m-2 0h2m5 0h2m6 0h2m-1 0h2m-87 1h2m2 0h2m9 0h2m2 0h2m8 0h2m16 0h2m3 0h2m0 0h2m3 0h2m13 0h2m3 0h2m-102 1h2m44 0h2m22 0h2m4 0h2m14 0h2m8 0h2m-1 0h2m1 0h2m-103 1h2m40 0h2m-1 0h2m7 0h2m5 0h2m34 0h2m-98 1h2m3 0h2m-2 0h2m1 0h2m12 0h2m17 0h2m13 0h2m4 0h2m13 0h2m-76 1h2m2 0h2m-1 0h2m7 0h2m-1 0h2m10 0h2m4 0h2m0 0h2m9 0h2m24 0h2m2 0h2m12 0h2m6 0h2m0 0h2m-96 1h2m10 0h2m3 0h2m36 0h2m-2 0h2m3 0h2m12 0h2m11 0h2m2 0h2m6 0h2m-105 1h2m40 0h2m17 0h2m2 0h2m-2 0h2m4 0h2m2 0h2m7 0h2m1 0h2m-102 1h2m4 0h2m-1 0h2m14 0h2m21 0h2m0 0h2m8 0h2m0 0h2m8 0h2m51 0h2m-119 1h2m25 0h2m9 0h2m5 0h2m29 0h2m32 0h2m-106 1h2m5 0h2m6 0h2m17 0h2m38 0h2m4 0h2m-88 1h2m32 0h2m-1 0h2m20 0h2m13 0h2m-2 0h2m2 0h2m14 0h2m7 0h2m-99 1h2m0 0h2m0 0h2m-1 0h2m19 0h2m1 0h2m1 0h2m11 0h2m5 0h2m1 0h2m4 0h2m18 0h2m3 0h2m0 0h2m1 0h2m-1 0h2m-95 1h2m2 0h2m6 0h2m3 0h2m4 0h2m11 0h2m17 0h2m7 0h2m0 0h2m10 0h2m18 0h2m4 0h2m7 0h2m-105 1h2m4 0h2m13 0h2m6 0h2m-1 0h2m-1 0h2m2 0h2m2 0h2m16 0h2m3 0h2m11 0h2m0 0h2m10 0h2m-1 0h2m-104 1h2m-2 0h2m13 0h2m7 0h2m10 0h2m1 0h2m14 0h2m7 0h2m-1 0h2m23 0h2m12 0h2m8 0h2m-117 1h2m15 0h2m6 0h2m0 0h2m2 0h2m1 0h2m18 0h2m-2 0h2m35 0h2m20 0h2m-114 1h2m0 0h2m6 0h2m13 0h2m17 0h2m6 0h2m-2 0h2m36 0h2m3 0h2m-93 1h2m2 0h2m0 0h2m0 0h2m22 0h2m5 0h2m16 0h2m5 0h2m-2 0h2m24 0h2m13 0h2m-102 1h2m-1 0h2m1 0h2m0 0h2m7 0h2m5 0h2m9 0h2m1 0h2m5 0h2m10 0h2m0 0h2m3 0h2m4 0h2m9 0h2m23 0h2m-125 1h2m16 0h2m-2 0h2m13 0h2m12 0h2m6 0h2m0 0h2m-1 0h2m2 0h2m0 0h2m-1 0h2m11 0h2m25 0h2m-1 0h2m-1 0h2m-83 1h2m9 0h2m40 0h2m8 0h2m12 0h2m0 0h2m8 0h2m-87 1h2m2 0h2m5 0h2m-2 0h2m16 0h2m15 0h2m6 0h2m18 0h2m-90 1h2m15 0h2m3 0h2m8 0h2m5 0h2m24 0h2m36 0h2m-118 1h2m-1 0h2m1 0h2m63 0h2m-1 0h2m4 0h2m13 0h2m-64 1h2m-1 0h2m-2 0h2m3 0h2m1 0h2m-2 0h2m4 0h2m5 0h2m-1 0h2m0 0h2m-1 0h2m13 0h2m0 0h2m1 0h2m-1 0h2m18 0h2m8 0h2m-105 1h2m5 0h2m30 0h2m0 0h2m5 0h2m6 0h2m1 0h2m3 0h2m13 0h2m2 0h2m7 0h2m0 0h2m8 0h2m-83 1h2m-1 0h2m2 0h2m-1 0h2m8 0h2m5 0h2m-2 0h2m17 0h2m1 0h2m-1 0h2m7 0h2m10 0h2m-98 1h2m5 0h2m3 0h2m19 0h2m14 0h2m11 0h2m5 0h2m12 0h2m-1 0h2m0 0h2m5 0h2m3 0h2m11 0h2m-112 1h2m37 0h2m0 0h2m4 0h2m0 0h2m0 0h2m5 0h2m-1 0h2m23 0h2m15 0h2m9 0h2m-52 1h2m20 0h2m5 0h2m12 0h2m-67 1h2m8 0h2m1 0h2m47 0h2m-77 1h2m18 0h2m2 0h2m9 0h2m13 0h2m-62 1h2m1 0h2m10 0h2m6 0h2m10 0h2m3 0h2m5 0h2m4 0h2m6 0h2m-1 0h2m-1 0h2m1 0h2m29 0h2m-89 1h2m5 0h2m-2 0h2m-2 0h2m2 0h2m5 0h2m26 0h2m7 0h2m14 0h2m17 0h2m-117 1h2m0 0h2m6 0h2m5 0h2m15 0h2m0 0h2m-1 0h2m0 0h2m11 0h2m16 0h2m19 0h2m-1 0h2m0 0h2m-92 1h2m22 0h2m5 0h2m4 0h2m5 0h2m0 0h2m0 0h2m28 0h2m0 0h2m15 0h2m-79 1h2m9 0h2m4 0h2m28 0h2m4 0h2m20 0h2m-101 1h2m11 0h2m0 0h2m17 0h2m21 0h2m2 0h2m9 0h2m24 0h2m3 0h2m-96 1h2m4 0h2m25 0h2m10 0h2m4 0h2m34 0h2m16 0h2m-96 1h2m10 0h2m2 0h2m-2 0h2m14 0h2m0 0h2m-2 0h2m-1 0h2m5 0h2m-1 0h2m-1 0h2m6 0h2m16 0h2m-1 0h2m-82 1h2m-2 0h2m24 0h2m0 0h2m5 0h2m-2 0h2m1 0h2m-1 0h2m5 0h2m-1 0h2m24 0h2m13 0h2m12 0h2m-94 1h2m14 0h2m4 0h2m29 0h2m8 0h2m7 0h2m9 0h2m4 0h2m-89 1h2m5 0h2m31 0h2m6 0h2m24 0h2m-90 1h2m6 0h2m7 0h2m38 0h2m6 0h2m14 0h2m7 0h2m-98 1h2m19 0h2m0 0h2m3 0h2m-1 0h2m8 0h2m31 0h2m9 0h2m-1 0h2m5 0h2m7 0h2m-98 1h2m5 0h2m10 0h2m0 0h2m15 0h2m-1 0h2m1 0h2m36 0h2m10 0h2m0 0h2m6 0h2m3 0h2m-109 1h2m0 0h2m-2 0h2m3 0h2m1 0h2m10 0h2m8 0h2m13 0h2m6 0h2m9 0h2m2 0h2m-73 1h2m1 0h2m4 0h2m0 0h2m5 0h2m0 0h2m15 0h2m-1 0h2m23 0h2m-1 0h2m25 0h2m-1 0h2m-88 1h2m28 0h2m12 0h2m5 0h2m-1 0h2m7 0h2m7 0h2m9 0h2m-75 1h2m9 0h2m3 0h2m17 0h2m-1 0h2m1 0h2m18 0h2m11 0h2m-1 0h2m-77 1h2m7 0h2m-1 0h2m8 0h2m6 0h2m14 0h2m13 0h2m8 0h2m9 0h2m6 0h2m-74 1h2m11 0h2m43 0h2m2 0h2m-72 1h2m1 0h2m-1 0h2m6 0h2m1 0h2m19 0h2m14 0h2m-1 0h2m13 0h2m7 0h2m-104 1h2m1 0h2m15 0h2m0 0h2m4 0h2m3 0h2m8 0h2m19 0h2m2 0h2m21 0h2m-65 1h2m36 0h2m3 0h2m8 0h2m-1 0h2m3 0h2m-77 1h2m11 0h2m13 0h2m18 0h2m0 0h2m2 0h2m5 0h2m0 0h2m1 0h2m-1 0h2m-79 1h2m7 0h2m-1 0h2m30 0h2m-1 0h2m53 0h2m0 0h2m-91 1h2m17 0h2m15 0h2m26 0h2m-73 1h2m26 0h2m22 0h2m-58 1h2m0 0h2m4 0h2m28 0h2m-1 0h2m11 0h2m-1 0h2m8 0h2m7 0h2m-63 1h2m4 0h2m5 0h2m33 0h2m37 0h2m-2 0h2m-88 1h2m12 0h2m27 0h2m21 0h2m-73 1h2m38 0h2m7 0h2m24 0h2m-81 1h2m76 0h2m10 0h2m-63 1h2m4 0h2m18 0h2m-17 1h2m1 0h2m36 0h2m-87 1h2m3 0h2m13 0h2m17 0h2m27 0h2m3 0h2m3 0h2m-36 1h2m-50 1h2m12 0h2m13 0h2m28 0h2m6 0h2m0 0h2m3 0h2m-47 1h2m1 1h2m35 1h2m1 0h2" stroke="#c9c9c9" stroke-width="1.40" opacity="1.0" filter="url(#soft)"/>
<path transform="scale(.5)" d="M228 1002h2m38 1h2m-65 1h2m31 1h2m37 0h2m-63 1h2m37 0h2m-50 1h2m41 0h2m-43 1h2m21 0h2m4 0h2m16 0h2m14 0h2m-55 1h2m13 0h2m1 0h2m14 0h2m-21 1h2m15 0h2m-71 1h2m-25 1h2m30 0h2m59 0h2m-110 1h2m17 0h2m94 0h2m-12 1h2m2 0h2m4 0h2m1 0h2m6 0h2m-99 1h2m86 0h2m-66 1h2m2 0h2m8 0h2m3 0h2m14 0h2m9 0h2m7 0h2m-61 1h2m53 0h2m-140 1h2m155 0h2m-1 0h2m-62 1h2m3 0h2m2 0h2m7 0h2m0 0h2m33 0h2m-149 1h2m117 0h2m-120 1h2m66 0h2m31 0h2m13 0h2m1 0h2m24 0h2m-76 1h2m23 0h2m21 0h2m-117 1h2m14 0h2m11 0h2m69 0h2m9 0h2m-1 0h2m0 0h2m0 0h2m22 0h2m-55 1h2m31 0h2m8 0h2m25 0h2m-141 1h2m5 0h2m66 0h2m3 0h2m7 0h2m32 0h2m-110 1h2m92 0h2m3 0h2m0 0h2m-1 0h2m2 0h2m-1 0h2m-2 0h2m-116 1h2m46 0h2m-1 0h2m0 0h2m-5 1h2m26 0h2m3 0h2m13 0h2m3 0h2m-130 1h2m19 0h2m46 0h2m9 0h2m0 0h2m0 0h2m42 0h2m0 0h2m11 0h2m1 0h2m0 0h2m1 0h2m-124 1h2m76 0h2m26 0h2m1 0h2m2 0h2m-115 1h2m58 0h2m44 0h2m4 0h2m-59 1h2m36 0h2m-35 1h2m3 0h2m15 0h2m32 0h2m6 0h2m-144 1h2m19 0h2m55 0h2m9 0h2m16 0h2m22 0h2m12 0h2m-139 1h2m0 0h2m55 0h2m5 0h2m7 0h2m20 0h2m-1 0h2m-1 0h2m3 0h2m-97 1h2m50 0h2m39 0h2m-1 0h2m4 0h2m2 0h2m2 0h2m6 0h2m-2 0h2m-131 1h2m67 0h2m1 0h2m59 0h2m-133 1h2m62 0h2m14 0h2m12 0h2m-2 0h2m9 0h2m16 0h2m-50 1h2m28 0h2m-1 0h2m3 0h2m0 0h2m2 0h2m-160 1h2m34 0h2m77 0h2m19 0h2m27 0h2m-158 1h2m112 0h2m2 0h2m0 0h2m8 0h2m-1 0h2m10 0h2m29 0h2m-82 1h2m27 0h2m15 0h2m28 0h2m-57 1h2m6 0h2m-31 1h2m8 0h2m2 0h2m20 0h2m34 0h2m-34 1h2m22 0h2m-106 1h2m43 0h2m6 0h2m4 0h2m25 0h2m-11 1h2m27 0h2m2 0h2m-52 1h2m14 0h2m18 0h2m16 0h2m-115 1h2m38 0h2m39 0h2m11 0h2m-140 1h2m107 0h2m33 0h2m-53 1h2m11 0h2m42 0h2m-175 1h2m49 0h2m7 0h2m7 0h2m2 0h2m40 0h2m22 0h2m14 0h2m12 0h2m8 0h2m-167 1h2m13 0h2m48 0h2m85 0h2m3 0h2m5 0h2m-47 1h2m44 0h2m3 0h2m-171 1h2m117 0h2m15 0h2m-48 1h2m29 0h2m6 0h2m9 0h2m27 0h2m-113 1h2m28 0h2m14 0h2m16 0h2m16 0h2m-101 1h2m67 0h2m6 0h2m1 0h2m-2 0h2m37 0h2m-126 1h2m49 0h2m9 0h2m37 0h2m4 0h2m20 0h2m-38 1h2m12 0h2m7 0h2m-136 1h2m13 0h2m9 0h2m42 0h2m7 0h2m0 0h2m41 0h2m12 0h2m3 0h2m-152 1h2m-1 0h2m18 0h2m79 0h2m10 0h2m-131 1h2m10 0h2m63 0h2m1 0h2m16 0h2m2 0h2m11 0h2m2 0h2m0 0h2m19 0h2m4 0h2m-83 1h2m5 0h2m22 0h2m16 0h2m-1 0h2m0 0h2m-2 0h2m-91 1h2m29 0h2m16 0h2m45 0h2m17 0h2m12 0h2m10 0h2m-173 1h2m34 0h2m9 0h2m53 0h2m-1 0h2m11 0h2m4 0h2m14 0h2m6 0h2m23 0h2m-169 1h2m117 0h2m17 0h2m-147 1h2m31 0h2m18 0h2m5 0h2m30 0h2m5 0h2m5 0h2m21 0h2m1 0h2m0 0h2m11 0h2m-80 1h2m21 0h2m22 0h2m2 0h2m10 0h2m0 0h2m-121 1h2m13 0h2m28 0h2m28 0h2m14 0h2m20 0h2m40 0h2m-135 1h2m25 0h2m66 0h2m8 0h2m-97 1h2m0 0h2m22 0h2m8 0h2m3 0h2m2 0h2m7 0h2m15 0h2m2 0h2m17 0h2m9 0h2m-1 0h2m-146 1h2m13 0h2m19 0h2m113 0h2m1 0h2m-142 1h2m-1 0h2m21 0h2m68 0h2m20 0h2m16 0h2m3 0h2m-142 1h2m41 0h2m23 0h2m11 0h2m29 0h2m-1 0h2m1 0h2m1 0h2m15 0h2m-136 1h2m-1 0h2m10 0h2m4 0h2m4 0h2m24 0h2m51 0h2m47 0h2m-137 1h2m33 0h2m9 0h2m11 0h2m34 0h2m12 0h2m-1 0h2m7 0h2m-1 0h2m-103 1h2m32 0h2m13 0h2m15 0h2m18 0h2m7 0h2m4 0h2m8 0h2m-160 1h2m46 0h2m6 0h2m29 0h2m-69 1h2m69 0h2m-1 0h2m4 0h2m11 0h2m9 0h2m1 0h2m34 0h2m-164 1h2m2 0h2m2 0h2m14 0h2m26 0h2m21 0h2m0 0h2m6 0h2m20 0h2m14 0h2m2 0h2m-1 0h2m-153 1h2m15 0h2m0 0h2m52 0h2m25 0h2m20 0h2m0 0h2m2 0h2m9 0h2m22 0h2m2 0h2m-142 1h2m35 0h2m19 0h2m21 0h2m17 0h2m35 0h2m23 0h2m-177 1h2m1 0h2m11 0h2m6 0h2m17 0h2m6 0h2m9 0h2m32 0h2m9 0h2m0 0h2m25 0h2m9 0h2m-1 0h2m-156 1h2m19 0h2m6 0h2m4 0h2m4 0h2m15 0h2m7 0h2m32 0h2m1 0h2m34 0h2m17 0h2m-132 1h2m1 0h2m-1 0h2m-2 0h2m42 0h2m5 0h2m70 0h2m9 0h2m-154 1h2m21 0h2m59 0h2m23 0h2m34 0h2m3 0h2m-153 1h2m144 0h2m4 0h2m0 0h2m-155 1h2m69 0h2m25 0h2m3 0h2m9 0h2m15 0h2m-143 1h2m129 0h2m15 0h2m-38 1h2m32 0h2m3 0h2m-151 1h2m10 0h2m4 0h2m13 0h2m0 0h2m-1 0h2m15 0h2m52 0h2m6 0h2m16 0h2m12 0h2m-159 1h2m17 0h2m58 0h2m53 0h2m11 0h2m3 0h2m13 0h2m-2 0h2m6 0h2m-161 1h2m46 0h2m56 0h2m18 0h2m-1 0h2m36 0h2m-147 1h2m17 0h2m3 0h2m69 0h2m1 0h2m22 0h2m2 0h2m-155 1h2m5 0h2m-2 0h2m16 0h2m22 0h2m66 0h2m19 0h2m17 0h2m-121 1h2m-2 0h2m-1 0h2m38 0h2m12 0h2m19 0h2m3 0h2m8 0h2m26 0h2m-68 1h2m23 0h2m-1 0h2m-87 1h2m72 0h2m2 0h2m13 0h2m7 0h2m3 0h2m-82 1h2m48 0h2m7 0h2m1 0h2m4 0h2m39 0h2m-168 1h2m83 0h2m7 0h2m14 0h2m26 0h2m-1 0h2m4 0h2m-153 1h2m53 0h2m41 0h2m21 0h2m16 0h2m9 0h2m7 0h2m5 0h2m-47 1h2m5 0h2m-133 1h2m80 0h2m59 0h2m0 0h2m-1 0h2m0 0h2m5 0h2m-142 1h2m4 0h2m-3 1h2m90 0h2m17 0h2m7 0h2m4 0h2m15 0h2m-62 1h2m22 0h2m24 0h2m8 0h2m-86 1h2m11 0h2m6 0h2m0 0h2m46 0h2m5 0h2m5 0h2m-58 1h2m-1 0h2m27 0h2m20 0h2m3 0h2m5 0h2m-120 1h2m62 0h2m39 0h2m-97 1h2m65 0h2m37 0h2m-80 1h2m49 0h2m15 0h2m-57 1h2m19 0h2m3 0h2m17 0h2m-29 1h2m17 0h2m-1 0h2m15 0h2m-140 1h2m86 0h2m32 0h2m-1 0h2m-134 1h2m85 0h2m33 0h2m25 0h2m5 0h2m2 0h2m-80 1h2m-1 0h2m24 0h2m18 0h2m3 0h2m-2 0h2m4 0h2m0 0h2m-117 1h2m80 0h2m23 0h2m8 0h2m-61 1h2m12 0h2m7 0h2m-2 0h2m23 0h2m-60 1h2m-1 0h2m52 0h2m1 0h2m4 0h2m-102 1h2m86 0h2m7 0h2m-135 1h2m85 0h2m25 0h2m18 0h2m-42 1h2m9 0h2m16 0h2m14 0h2m5 0h2m2 0h2m6 0h2m-58 1h2m29 0h2m0 0h2m4 0h2m13 0h2m-167 1h2m32 0h2m90 0h2m4 0h2m-2 0h2m11 0h2m3 0h2m-135 1h2m87 0h2m19 0h2m-2 0h2m-1 0h2m4 0h2m16 0h2m-88 1h2m36 0h2m26 0h2m25 0h2m-150 1h2m45 0h2m41 0h2m-38 1h2m27 0h2m1 0h2m12 0h2m6 0h2m-1 0h2m7 0h2m-125 1h2m76 0h2m62 0h2m-34 1h2m22 0h2m1 0h2m-79 1h2m27 0h2m47 0h2m5 0h2m-73 1h2m48 0h2m24 0h2m-67 1h2m65 0h2m-20 1h2m-58 1h2m40 0h2m-115 1h2m84 0h2m-96 2h2m28 0h2m126 0h2m-49 1h2m-64 2h2m52 0h2m29 1h2" stroke="#97c1e8" stroke-width="1.60" opacity="1.0" filter="url(#soft)"/>
<path transform="scale(.5)" d="M178 999h2m58 3h2m-34 1h2m10 0h2m44 0h2m-73 1h2m-71 1h2m55 0h2m15 0h2m-36 1h2m18 0h2m13 0h2m3 0h2m10 0h2m-43 1h2m4 0h2m-32 1h2m18 0h2m38 0h2m31 0h2m-4 1h2m4 0h2m-110 1h2m32 0h2m5 0h2m75 0h2m-130 1h2m0 0h2m23 0h2m0 0h2m27 0h2m30 0h2m3 0h2m-106 1h2m8 0h2m5 0h2m10 0h2m38 0h2m13 0h2m15 0h2m9 0h2m11 0h2m-109 1h2m3 0h2m10 0h2m8 0h2m35 0h2m1 0h2m2 0h2m13 0h2m-87 1h2m14 0h2m7 0h2m3 0h2m15 0h2m41 0h2m17 0h2m1 0h2m10 0h2m-152 1h2m12 0h2m18 0h2m4 0h2m29 0h2m60 0h2m-140 1h2m16 0h2m32 0h2m-1 0h2m-58 1h2m13 0h2m20 0h2m71 0h2m5 0h2m32 0h2m-111 1h2m2 0h2m5 0h2m29 0h2m0 0h2m11 0h2m-94 1h2m-1 0h2m4 0h2m0 0h2m10 0h2m31 0h2m12 0h2m5 0h2m4 0h2m17 0h2m-100 1h2m4 0h2m22 0h2m1 0h2m0 0h2m0 0h2m12 0h2m7 0h2m23 0h2m5 0h2m-73 1h2m2 0h2m7 0h2m5 0h2m29 0h2m6 0h2m2 0h2m-100 1h2m7 0h2m2 0h2m8 0h2m13 0h2m26 0h2m-1 0h2m11 0h2m5 0h2m4 0h2m36 0h2m27 0h2m-160 1h2m7 0h2m0 0h2m0 0h2m24 0h2m11 0h2m-1 0h2m-1 0h2m10 0h2m6 0h2m41 0h2m34 0h2m-150 1h2m4 0h2m5 0h2m-1 0h2m3 0h2m9 0h2m8 0h2m2 0h2m-1 0h2m-1 0h2m14 0h2m-2 0h2m10 0h2m10 0h2m35 0h2m-124 1h2m2 0h2m12 0h2m3 0h2m-1 0h2m30 0h2m2 0h2m3 0h2m37 0h2m-66 1h2m-1 0h2m12 0h2m-2 0h2m0 0h2m7 0h2m3 0h2m-1 0h2m12 0h2m3 0h2m40 0h2m27 0h2m-173 1h2m8 0h2m13 0h2m9 0h2m6 0h2m3 0h2m2 0h2m9 0h2m2 0h2m9 0h2m-58 1h2m3 0h2m10 0h2m13 0h2m56 0h2m15 0h2m25 0h2m-139 1h2m2 0h2m19 0h2m-1 0h2m4 0h2m0 0h2m5 0h2m5 0h2m-2 0h2m4 0h2m-2 0h2m2 0h2m0 0h2m89 0h2m-168 1h2m20 0h2m3 0h2m2 0h2m16 0h2m5 0h2m47 0h2m8 0h2m56 0h2m-163 1h2m9 0h2m35 0h2m10 0h2m1 0h2m37 0h2m-120 1h2m38 0h2m8 0h2m6 0h2m4 0h2m10 0h2m5 0h2m2 0h2m2 0h2m72 0h2m-155 1h2m24 0h2m21 0h2m28 0h2m12 0h2m0 0h2m39 0h2m25 0h2m-1 0h2m-181 1h2m28 0h2m18 0h2m37 0h2m12 0h2m39 0h2m7 0h2m18 0h2m-173 1h2m24 0h2m0 0h2m32 0h2m11 0h2m54 0h2m-117 1h2m0 0h2m18 0h2m5 0h2m4 0h2m12 0h2m2 0h2m-1 0h2m0 0h2m23 0h2m21 0h2m4 0h2m11 0h2m-113 1h2m20 0h2m5 0h2m15 0h2m6 0h2m-69 1h2m3 0h2m12 0h2m4 0h2m33 0h2m4 0h2m43 0h2m-117 1h2m22 0h2m22 0h2m0 0h2m7 0h2m2 0h2m0 0h2m1 0h2m2 0h2m-1 0h2m22 0h2m12 0h2m13 0h2m11 0h2m-147 1h2m4 0h2m-1 0h2m0 0h2m9 0h2m2 0h2m10 0h2m1 0h2m0 0h2m22 0h2m-54 1h2m27 0h2m9 0h2m6 0h2m5 0h2m10 0h2m17 0h2m49 0h2m-124 1h2m12 0h2m4 0h2m9 0h2m1 0h2m1 0h2m29 0h2m9 0h2m8 0h2m-85 1h2m10 0h2m3 0h2m49 0h2m1 0h2m2 0h2m-112 1h2m-1 0h2m20 0h2m6 0h2m10 0h2m-1 0h2m8 0h2m12 0h2m36 0h2m18 0h2m-138 1h2m34 0h2m0 0h2m0 0h2m18 0h2m5 0h2m1 0h2m34 0h2m-82 1h2m28 0h2m31 0h2m0 0h2m-83 1h2m15 0h2m21 0h2m4 0h2m13 0h2m13 0h2m8 0h2m49 0h2m0 0h2m9 0h2m-132 1h2m2 0h2m6 0h2m19 0h2m4 0h2m24 0h2m14 0h2m14 0h2m-1 0h2m52 0h2m-153 1h2m10 0h2m61 0h2m7 0h2m4 0h2m-119 1h2m1 0h2m6 0h2m42 0h2m29 0h2m0 0h2m-87 1h2m-2 0h2m-1 0h2m8 0h2m9 0h2m3 0h2m8 0h2m41 0h2m2 0h2m19 0h2m0 0h2m0 0h2m12 0h2m35 0h2m-170 1h2m11 0h2m3 0h2m3 0h2m6 0h2m35 0h2m11 0h2m0 0h2m32 0h2m25 0h2m9 0h2m-153 1h2m3 0h2m5 0h2m1 0h2m14 0h2m35 0h2m1 0h2m2 0h2m4 0h2m23 0h2m1 0h2m-113 1h2m32 0h2m10 0h2m9 0h2m17 0h2m4 0h2m13 0h2m3 0h2m-54 1h2m24 0h2m13 0h2m0 0h2m0 0h2m12 0h2m4 0h2m-1 0h2m53 0h2m5 0h2m-169 1h2m6 0h2m-1 0h2m3 0h2m6 0h2m9 0h2m4 0h2m43 0h2m15 0h2m52 0h2m-154 1h2m-2 0h2m2 0h2m13 0h2m14 0h2m18 0h2m25 0h2m32 0h2m27 0h2m14 0h2m-177 1h2m0 0h2m16 0h2m6 0h2m5 0h2m5 0h2m6 0h2m5 0h2m9 0h2m0 0h2m21 0h2m10 0h2m12 0h2m26 0h2m-145 1h2m1 0h2m4 0h2m17 0h2m15 0h2m10 0h2m1 0h2m4 0h2m1 0h2m2 0h2m-1 0h2m-1 0h2m21 0h2m6 0h2m35 0h2m7 0h2m10 0h2m0 0h2m-106 1h2m26 0h2m14 0h2m5 0h2m28 0h2m-116 1h2m10 0h2m1 0h2m7 0h2m2 0h2m36 0h2m46 0h2m-153 1h2m15 0h2m30 0h2m73 0h2m-1 0h2m42 0h2m-149 1h2m0 0h2m39 0h2m3 0h2m43 0h2m-1 0h2m69 0h2m-141 1h2m5 0h2m35 0h2m-87 1h2m22 0h2m-21 1h2m8 0h2m4 0h2m20 0h2m1 0h2m8 0h2m-2 0h2m10 0h2m8 0h2m8 0h2m23 0h2m-44 1h2m2 0h2m-2 0h2m0 0h2m39 0h2m-117 1h2m28 0h2m60 0h2m2 0h2m-92 1h2m13 0h2m1 0h2m24 0h2m6 0h2m6 0h2m14 0h2m71 0h2m-155 1h2m62 0h2m10 0h2m7 0h2m4 0h2m3 0h2m13 0h2m31 0h2m-131 1h2m13 0h2m13 0h2m13 0h2m1 0h2m1 0h2m46 0h2m3 0h2m-1 0h2m2 0h2m21 0h2m-140 1h2m28 0h2m3 0h2m2 0h2m6 0h2m-4 1h2m6 0h2m0 0h2m12 0h2m16 0h2m-101 1h2m21 0h2m31 0h2m12 0h2m55 0h2m-126 1h2m40 0h2m12 0h2m0 0h2m12 0h2m1 0h2m3 0h2m-73 1h2m23 0h2m2 0h2m11 0h2m9 0h2m33 0h2m-61 1h2m-1 0h2m24 0h2m5 0h2m15 0h2m18 0h2m-84 1h2m2 0h2m11 0h2m61 0h2m-80 1h2m10 0h2m4 0h2m19 0h2m86 0h2m-149 1h2m13 0h2m21 0h2m23 0h2m10 0h2m64 0h2m2 0h2m-112 1h2m103 0h2m2 0h2m-161 1h2m6 0h2m49 0h2m5 0h2m29 0h2m1 0h2m3 0h2m12 0h2m0 0h2m18 0h2m19 0h2m-163 1h2m3 0h2m49 0h2m46 0h2m-91 1h2m77 0h2m17 0h2m2 0h2m36 0h2m-68 1h2m18 0h2m13 0h2m-105 1h2m49 0h2m2 0h2m-81 1h2m19 0h2m8 0h2m18 0h2m0 0h2m36 0h2m31 0h2m-121 1h2m86 0h2m18 0h2m31 0h2m-88 1h2m-37 1h2m12 0h2m3 0h2m26 0h2m14 0h2m17 0h2m14 0h2m-83 1h2m18 0h2m0 0h2m8 0h2m14 0h2m4 0h2m4 0h2m6 0h2m58 0h2m-2 0h2m1 0h2m-154 1h2m7 0h2m50 0h2m19 0h2m-76 1h2m7 0h2m27 0h2m19 0h2m18 0h2m2 0h2m12 0h2m34 0h2m-123 1h2m-1 0h2m3 0h2m17 0h2m0 0h2m4 0h2m6 0h2m11 0h2m52 0h2m-149 1h2m88 0h2m-1 0h2m68 0h2m-165 1h2m16 0h2m49 0h2m83 0h2m-142 1h2m5 0h2m10 0h2m15 0h2m26 0h2m10 0h2m5 0h2m0 0h2m48 0h2m0 0h2m-135 1h2m78 0h2m43 0h2m-135 1h2m11 0h2m19 0h2m18 0h2m22 0h2m18 0h2m37 0h2m-104 1h2m19 0h2m12 0h2m10 0h2m10 0h2m52 0h2m4 0h2m-139 1h2m6 0h2m7 0h2m111 0h2m17 0h2m-164 1h2m4 0h2m12 0h2m6 0h2m6 0h2m43 0h2m4 0h2m34 0h2m7 0h2m-134 1h2m11 0h2m8 0h2m11 0h2m-2 0h2m22 0h2m11 0h2m-1 0h2m3 0h2m5 0h2m35 0h2m23 0h2m-119 1h2m4 0h2m1 0h2m28 0h2m5 0h2m6 0h2m-66 1h2m5 0h2m0 0h2m29 0h2m16 0h2m9 0h2m42 0h2m-1 0h2m6 0h2m-150 1h2m15 0h2m0 0h2m9 0h2m47 0h2m-2 0h2m37 0h2m-85 1h2m11 0h2m37 0h2m26 0h2m19 0h2m12 0h2m-153 1h2m8 0h2m1 0h2m3 0h2m5 0h2m51 0h2m19 0h2m16 0h2m-119 1h2m7 0h2m23 0h2m35 0h2m54 0h2m-110 1h2m1 0h2m11 0h2m30 0h2m26 0h2m-97 1h2m46 0h2m13 0h2m3 0h2m12 0h2m41 0h2m2 0h2m-114 1h2m1 0h2m11 0h2m24 0h2m4 0h2m13 0h2m7 0h2m30 0h2m-113 1h2m36 0h2m7 0h2m26 0h2m15 0h2m65 0h2m-155 1h2m11 0h2m28 0h2m28 0h2m-41 1h2m17 0h2m2 0h2m8 0h2m10 0h2m16 0h2m-77 1h2m19 0h2m17 0h2m1 0h2m0 0h2m54 0h2m-103 1h2m4 0h2m2 0h2m11 0h2m18 0h2m4 0h2m56 0h2m-148 1h2m46 0h2m33 0h2m-66 1h2m5 0h2m11 0h2m8 0h2m6 0h2m-1 0h2m5 0h2m-34 1h2m30 0h2m17 0h2m4 0h2m5 0h2m15 0h2m-102 1h2m21 0h2m2 0h2m48 0h2m68 0h2m-140 1h2m9 0h2m39 0h2m18 0h2m5 0h2m-80 1h2m1 0h2m37 0h2m2 0h2m-10 1h2m5 1h2m-19 1h2m-25 1h2m19 0h2m56 0h2m38 0h2m-130 1h2m57 0h2m9 0h2m-15 1h2m1 0h2m2 0h2m19 0h2m-81 1h2m27 0h2m-17 1h2m8 0h2m25 0h2m13 1h2m-19 1h2m-1 0h2m-65 1h2m13 0h2m57 0h2m77 0h2m-137 1h2m39 0h2m-53 1h2m73 0h2m57 0h2m-123 1h2m49 0h2m14 0h2m24 0h2m-49 2h2m23 0h2m-60 2h2m4 3h2m-12 1h2m35 1h2" stroke="#e0606b" stroke-width="1.60" opacity="1.0" filter="url(#soft)"/>
<path transform="scale(.5)" d="M120 1004h2m135 1h2m-6 4h2m-135 1h2m110 0h2m38 0h2m3 0h2m-30 1h2m-33 1h2m49 0h2m-61 1h2m19 0h2m16 0h2m14 0h2m-60 1h2m7 0h2m1 0h2m-71 1h2m52 0h2m61 0h2m1 0h2m-96 1h2m58 0h2m16 0h2m-129 1h2m40 0h2m21 0h2m30 0h2m23 0h2m-35 1h2m2 0h2m8 0h2m31 0h2m-86 1h2m31 0h2m-1 0h2m24 0h2m4 0h2m15 0h2m-130 1h2m109 0h2m14 0h2m-150 1h2m17 0h2m29 0h2m12 0h2m4 0h2m38 0h2m0 0h2m10 0h2m-85 1h2m52 0h2m11 0h2m16 0h2m-28 1h2m6 0h2m2 0h2m26 0h2m14 0h2m-130 1h2m74 0h2m-1 0h2m15 0h2m0 0h2m-1 0h2m28 0h2m-64 1h2m7 0h2m1 0h2m7 0h2m18 0h2m-80 1h2m63 0h2m2 0h2m2 0h2m6 0h2m8 0h2m7 0h2m-86 1h2m7 0h2m27 0h2m22 0h2m22 0h2m-153 1h2m70 0h2m25 0h2m17 0h2m17 0h2m4 0h2m-66 1h2m5 0h2m13 0h2m12 0h2m0 0h2m-113 1h2m29 0h2m59 0h2m32 0h2m-140 1h2m122 0h2m2 0h2m4 0h2m-1 0h2m-134 1h2m89 0h2m3 0h2m11 0h2m19 0h2m-35 1h2m9 0h2m-2 0h2m3 0h2m7 0h2m-88 1h2m12 0h2m39 0h2m1 0h2m3 0h2m15 0h2m23 0h2m-90 1h2m43 0h2m38 0h2m-82 1h2m58 0h2m21 0h2m4 0h2m-1 0h2m-87 1h2m46 1h2m5 0h2m12 0h2m25 0h2m-87 1h2m36 0h2m9 0h2m8 0h2m-99 1h2m98 0h2m-35 1h2m28 0h2m6 0h2m-153 1h2m47 0h2m13 0h2m31 0h2m16 0h2m10 0h2m12 0h2m-2 0h2m8 0h2m-53 1h2m-2 0h2m15 0h2m6 0h2m32 0h2m-88 1h2m64 0h2m5 0h2m-1 0h2m5 0h2m-158 1h2m22 0h2m65 0h2m6 0h2m5 0h2m1 0h2m35 0h2m-82 1h2m9 0h2m26 0h2m21 0h2m3 0h2m7 0h2m4 0h2m-157 1h2m107 0h2m-1 0h2m-2 0h2m35 0h2m13 0h2m-102 1h2m30 0h2m7 0h2m17 0h2m4 0h2m18 0h2m2 0h2m6 0h2m-1 0h2m-46 1h2m17 0h2m29 0h2m-95 1h2m14 0h2m20 0h2m-1 0h2m34 0h2m22 0h2m-116 1h2m40 0h2m17 0h2m18 0h2m6 0h2m0 0h2m-80 1h2m28 0h2m14 0h2m0 0h2m1 0h2m13 0h2m34 0h2m-58 1h2m38 0h2m-110 1h2m67 0h2m-1 0h2m7 0h2m-108 1h2m49 0h2m10 0h2m3 0h2m6 0h2m4 0h2m36 0h2m-141 1h2m5 0h2m9 0h2m0 0h2m73 0h2m12 0h2m4 0h2m0 0h2m3 0h2m21 0h2m25 0h2m-72 1h2m12 0h2m1 0h2m26 0h2m-143 1h2m97 0h2m-2 0h2m-2 0h2m45 0h2m-1 0h2m-114 1h2m43 0h2m15 0h2m17 0h2m42 0h2m-169 1h2m22 0h2m34 0h2m37 0h2m9 0h2m9 0h2m34 0h2m-54 1h2m-45 1h2m9 0h2m31 0h2m29 0h2m23 0h2m-1 0h2m-165 1h2m86 0h2m0 0h2m25 0h2m4 0h2m23 0h2m2 0h2m-87 1h2m43 0h2m6 0h2m3 0h2m0 0h2m4 0h2m4 0h2m0 0h2m-143 1h2m47 0h2m27 0h2m8 0h2m15 0h2m5 0h2m24 0h2m-82 1h2m56 0h2m33 0h2m-104 1h2m21 0h2m5 0h2m20 0h2m1 0h2m10 0h2m17 0h2m26 0h2m-159 1h2m7 0h2m48 0h2m24 0h2m18 0h2m2 0h2m-103 1h2m2 0h2m35 0h2m22 0h2m7 0h2m0 0h2m4 0h2m7 0h2m21 0h2m6 0h2m7 0h2m7 0h2m-130 1h2m30 0h2m12 0h2m10 0h2m27 0h2m37 0h2m10 0h2m1 0h2m1 0h2m-162 1h2m9 0h2m51 0h2m26 0h2m1 0h2m2 0h2m7 0h2m17 0h2m20 0h2m-132 1h2m2 0h2m7 0h2m26 0h2m60 0h2m34 0h2m-78 1h2m10 0h2m2 0h2m1 0h2m5 0h2m19 0h2m10 0h2m-146 1h2m33 0h2m2 0h2m3 0h2m15 0h2m24 0h2m5 0h2m12 0h2m32 0h2m-105 1h2m-2 0h2m3 0h2m2 0h2m23 0h2m2 0h2m21 0h2m24 0h2m17 0h2m-119 1h2m22 0h2m30 0h2m1 0h2m-2 0h2m19 0h2m12 0h2m3 0h2m5 0h2m4 0h2m17 0h2m-162 1h2m5 0h2m36 0h2m1 0h2m1 0h2m8 0h2m4 0h2m10 0h2m15 0h2m2 0h2m2 0h2m41 0h2m2 0h2m-151 1h2m75 0h2m48 0h2m1 0h2m28 0h2m4 0h2m-178 1h2m46 0h2m6 0h2m28 0h2m45 0h2m6 0h2m1 0h2m0 0h2m-106 1h2m23 0h2m40 0h2m0 0h2m15 0h2m40 0h2m-1 0h2m-1 0h2m1 0h2m-173 1h2m29 0h2m2 0h2m1 0h2m3 0h2m14 0h2m20 0h2m17 0h2m12 0h2m6 0h2m2 0h2m-123 1h2m14 0h2m2 0h2m9 0h2m23 0h2m5 0h2m81 0h2m20 0h2m-143 1h2m4 0h2m22 0h2m16 0h2m19 0h2m40 0h2m19 0h2m-159 1h2m55 0h2m14 0h2m17 0h2m7 0h2m33 0h2m7 0h2m5 0h2m-150 1h2m31 0h2m0 0h2m86 0h2m7 0h2m6 0h2m-157 1h2m18 0h2m2 0h2m36 0h2m4 0h2m50 0h2m3 0h2m41 0h2m-162 1h2m20 0h2m45 0h2m16 0h2m29 0h2m6 0h2m23 0h2m12 0h2m-172 1h2m22 0h2m7 0h2m63 0h2m-2 0h2m18 0h2m8 0h2m31 0h2m-95 1h2m22 0h2m14 0h2m8 0h2m-82 1h2m11 0h2m32 0h2m12 0h2m-82 1h2m3 0h2m-1 0h2m18 0h2m56 0h2m22 0h2m21 0h2m-1 0h2m-112 1h2m71 0h2m33 0h2m-155 1h2m12 0h2m1 0h2m-1 0h2m46 0h2m44 0h2m15 0h2m34 0h2m-140 1h2m42 0h2m22 0h2m17 0h2m3 0h2m1 0h2m5 0h2m20 0h2m2 0h2m-143 1h2m61 0h2m23 0h2m3 0h2m56 0h2m0 0h2m-2 0h2m6 0h2m-171 1h2m100 0h2m14 0h2m17 0h2m8 0h2m1 0h2m-145 1h2m13 0h2m13 0h2m54 0h2m27 0h2m-97 1h2m65 0h2m5 0h2m14 0h2m-2 0h2m23 0h2m2 0h2m-1 0h2m10 0h2m-169 1h2m70 0h2m44 0h2m0 0h2m37 0h2m14 0h2m-74 1h2m22 0h2m-1 0h2m0 0h2m3 0h2m7 0h2m0 0h2m10 0h2m6 0h2m-5 1h2m11 0h2m-64 1h2m-1 0h2m3 0h2m4 0h2m6 0h2m2 0h2m13 0h2m15 0h2m-163 1h2m53 0h2m18 0h2m66 0h2m-132 1h2m9 0h2m28 0h2m14 0h2m24 0h2m17 0h2m14 0h2m23 0h2m-128 1h2m87 0h2m31 0h2m-103 1h2m68 0h2m14 0h2m4 0h2m-59 1h2m21 0h2m48 0h2m4 0h2m-45 1h2m-83 1h2m55 0h2m35 0h2m4 0h2m7 0h2m-143 1h2m15 0h2m84 0h2m19 0h2m5 0h2m12 0h2m9 0h2m-34 1h2m-2 0h2m6 0h2m-2 0h2m-29 1h2m1 0h2m2 0h2m1 0h2m3 0h2m12 0h2m5 0h2m14 0h2m-150 1h2m61 0h2m21 0h2m6 0h2m16 0h2m12 0h2m-125 1h2m57 0h2m43 0h2m0 0h2m37 0h2m-158 1h2m46 0h2m30 0h2m0 0h2m32 0h2m14 0h2m14 0h2m12 0h2m-170 1h2m49 0h2m0 0h2m65 0h2m-1 0h2m2 0h2m3 0h2m13 0h2m-69 1h2m20 0h2m15 0h2m34 0h2m-80 1h2m28 0h2m6 0h2m4 0h2m1 0h2m11 0h2m-107 1h2m77 0h2m20 0h2m15 0h2m0 0h2m11 0h2m-73 1h2m18 0h2m44 0h2m8 0h2m-112 1h2m38 0h2m4 0h2m17 0h2m4 0h2m10 0h2m-63 1h2m2 0h2m23 0h2m34 0h2m4 0h2m-88 1h2m17 0h2m19 0h2m10 0h2m8 0h2m-99 1h2m72 0h2m56 0h2m-44 1h2m7 0h2m13 0h2m17 0h2m-98 1h2m33 0h2m17 0h2m1 0h2m17 0h2m-45 1h2m5 0h2m39 0h2m-34 1h2m28 0h2m-73 1h2m1 0h2m46 0h2m9 0h2m-135 1h2m9 0h2m141 0h2m-79 1h2m22 0h2m11 0h2m31 0h2m-25 1h2m-5 1h2m16 0h2m-1 0h2m-92 1h2m6 0h2m44 0h2m56 0h2m-20 1h2m-90 1h2m102 0h2m-87 1h2m27 0h2m-96 1h2m82 0h2m15 0h2m41 0h2m-80 1h2m60 0h2m9 0h2m-72 1h2m-33 1h2m81 0h2m-34 1h2m29 0h2m-102 1h2m119 0h2m-52 1h2m2 2h2m-30 1h2" stroke="#97c1e8" stroke-width="1.60" opacity="1.0" filter="url(#soft)"/>
<path transform="scale(.5)" d="M166 1000h2m44 1h2m-99 1h2m5 0h2m8 0h2m-8 1h2m23 1h2m-17 2h2m61 0h2m3 1h2m2 0h2m0 0h2m-96 2h2m29 0h2m49 0h2m44 0h2m-111 1h2m-1 0h2m5 0h2m21 0h2m33 0h2m1 0h2m-90 1h2m0 0h2m-2 0h2m56 0h2m5 0h2m6 0h2m6 0h2m-78 1h2m34 0h2m7 0h2m12 0h2m-2 0h2m63 0h2m-122 1h2m10 0h2m8 0h2m57 0h2m20 0h2m23 0h2m-143 1h2m4 0h2m28 0h2m13 0h2m-8 1h2m12 0h2m1 0h2m2 0h2m9 0h2m3 0h2m1 0h2m23 0h2m-120 1h2m8 0h2m9 0h2m-1 0h2m7 0h2m30 0h2m0 0h2m9 0h2m9 0h2m0 0h2m49 0h2m-124 1h2m4 0h2m-1 0h2m19 0h2m9 0h2m74 0h2m-100 1h2m8 0h2m37 0h2m2 0h2m-87 1h2m9 0h2m32 0h2m4 0h2m13 0h2m12 0h2m2 0h2m16 0h2m0 0h2m-99 1h2m-2 0h2m19 0h2m36 0h2m38 0h2m-2 0h2m16 0h2m0 0h2m-129 1h2m15 0h2m-1 0h2m11 0h2m86 0h2m19 0h2m8 0h2m-151 1h2m18 0h2m9 0h2m7 0h2m40 0h2m1 0h2m30 0h2m9 0h2m-92 1h2m31 0h2m0 0h2m21 0h2m-2 0h2m2 0h2m59 0h2m-164 1h2m17 0h2m3 0h2m16 0h2m0 0h2m8 0h2m14 0h2m4 0h2m23 0h2m0 0h2m2 0h2m35 0h2m-149 1h2m5 0h2m13 0h2m-2 0h2m23 0h2m0 0h2m-2 0h2m-1 0h2m6 0h2m6 0h2m31 0h2m1 0h2m61 0h2m-157 1h2m1 0h2m8 0h2m7 0h2m0 0h2m7 0h2m-1 0h2m8 0h2m12 0h2m1 0h2m0 0h2m12 0h2m1 0h2m0 0h2m54 0h2m-145 1h2m-1 0h2m3 0h2m4 0h2m10 0h2m1 0h2m15 0h2m-1 0h2m2 0h2m17 0h2m19 0h2m-83 1h2m-1 0h2m6 0h2m0 0h2m8 0h2m4 0h2m5 0h2m-2 0h2m2 0h2m4 0h2m18 0h2m7 0h2m3 0h2m10 0h2m38 0h2m-139 1h2m8 0h2m0 0h2m16 0h2m9 0h2m-1 0h2m6 0h2m6 0h2m2 0h2m10 0h2m1 0h2m3 0h2m0 0h2m17 0h2m-76 1h2m22 0h2m3 0h2m11 0h2m-2 0h2m16 0h2m10 0h2m0 0h2m33 0h2m-136 1h2m18 0h2m5 0h2m3 0h2m10 0h2m3 0h2m5 0h2m-2 0h2m0 0h2m2 0h2m1 0h2m13 0h2m65 0h2m-164 1h2m19 0h2m11 0h2m61 0h2m11 0h2m23 0h2m-128 1h2m-2 0h2m5 0h2m63 0h2m2 0h2m14 0h2m24 0h2m-110 1h2m30 0h2m10 0h2m2 0h2m7 0h2m8 0h2m0 0h2m-1 0h2m0 0h2m71 0h2m-158 1h2m3 0h2m11 0h2m2 0h2m8 0h2m-1 0h2m10 0h2m8 0h2m3 0h2m4 0h2m44 0h2m1 0h2m32 0h2m-152 1h2m0 0h2m0 0h2m-1 0h2m0 0h2m18 0h2m4 0h2m3 0h2m0 0h2m19 0h2m9 0h2m5 0h2m6 0h2m1 0h2m51 0h2m-137 1h2m12 0h2m5 0h2m2 0h2m10 0h2m4 0h2m6 0h2m10 0h2m17 0h2m32 0h2m-113 1h2m-1 0h2m0 0h2m9 0h2m-1 0h2m19 0h2m-1 0h2m20 0h2m4 0h2m24 0h2m12 0h2m8 0h2m19 0h2m-145 1h2m0 0h2m34 0h2m4 0h2m12 0h2m12 0h2m17 0h2m23 0h2m25 0h2m7 0h2m5 0h2m-160 1h2m27 0h2m-2 0h2m2 0h2m9 0h2m20 0h2m12 0h2m26 0h2m18 0h2m-140 1h2m27 0h2m12 0h2m1 0h2m11 0h2m12 0h2m5 0h2m24 0h2m35 0h2m-134 1h2m7 0h2m-2 0h2m11 0h2m0 0h2m1 0h2m5 0h2m6 0h2m37 0h2m4 0h2m9 0h2m-103 1h2m10 0h2m4 0h2m-1 0h2m1 0h2m9 0h2m-2 0h2m0 0h2m0 0h2m43 0h2m4 0h2m10 0h2m16 0h2m17 0h2m-122 1h2m9 0h2m26 0h2m7 0h2m-2 0h2m-2 0h2m58 0h2m13 0h2m8 0h2m0 0h2m-171 1h2m8 0h2m18 0h2m20 0h2m13 0h2m-1 0h2m8 0h2m3 0h2m10 0h2m-1 0h2m2 0h2m-81 1h2m9 0h2m50 0h2m30 0h2m10 0h2m-107 1h2m32 0h2m13 0h2m24 0h2m22 0h2m-1 0h2m-105 1h2m-1 0h2m-1 0h2m7 0h2m10 0h2m13 0h2m2 0h2m-1 0h2m5 0h2m12 0h2m18 0h2m8 0h2m-82 1h2m22 0h2m-2 0h2m0 0h2m6 0h2m-2 0h2m13 0h2m-40 1h2m1 0h2m37 0h2m-1 0h2m2 0h2m37 0h2m-122 1h2m6 0h2m2 0h2m6 0h2m23 0h2m17 0h2m20 0h2m2 0h2m3 0h2m4 0h2m8 0h2m56 0h2m-159 1h2m7 0h2m9 0h2m3 0h2m21 0h2m3 0h2m-1 0h2m19 0h2m20 0h2m44 0h2m12 0h2m-147 1h2m1 0h2m-2 0h2m1 0h2m21 0h2m23 0h2m-2 0h2m19 0h2m65 0h2m-164 1h2m5 0h2m3 0h2m20 0h2m13 0h2m1 0h2m23 0h2m-1 0h2m0 0h2m-1 0h2m29 0h2m44 0h2m5 0h2m-156 1h2m-1 0h2m18 0h2m23 0h2m8 0h2m7 0h2m2 0h2m19 0h2m22 0h2m31 0h2m3 0h2m-172 1h2m-1 0h2m37 0h2m35 0h2m11 0h2m6 0h2m14 0h2m-1 0h2m24 0h2m-142 1h2m15 0h2m1 0h2m1 0h2m9 0h2m21 0h2m3 0h2m1 0h2m6 0h2m21 0h2m25 0h2m-118 1h2m28 0h2m17 0h2m23 0h2m-94 1h2m15 0h2m0 0h2m-2 0h2m-1 0h2m-1 0h2m5 0h2m6 0h2m0 0h2m8 0h2m10 0h2m10 0h2m39 0h2m19 0h2m-109 1h2m6 0h2m2 0h2m3 0h2m23 0h2m26 0h2m24 0h2m-94 1h2m6 0h2m21 0h2m11 0h2m28 0h2m6 0h2m35 0h2m-137 1h2m35 0h2m-2 0h2m16 0h2m-1 0h2m-47 1h2m51 0h2m-29 1h2m10 0h2m14 0h2m0 0h2m1 0h2m7 0h2m-71 1h2m36 0h2m-16 1h2m33 0h2m65 0h2m-140 1h2m2 0h2m5 0h2m24 0h2m-1 0h2m-1 0h2m2 0h2m3 0h2m33 0h2m-91 1h2m107 0h2m-2 0h2m-81 1h2m18 0h2m8 0h2m24 0h2m60 0h2m-116 1h2m6 0h2m75 0h2m1 0h2m-82 1h2m40 0h2m72 0h2m-141 1h2m2 0h2m3 0h2m28 0h2m31 0h2m-2 0h2m34 0h2m-114 1h2m2 0h2m17 0h2m32 0h2m2 0h2m36 0h2m0 0h2m52 0h2m-2 0h2m-168 1h2m22 0h2m79 0h2m-101 1h2m39 0h2m3 0h2m12 0h2m49 0h2m13 0h2m-117 1h2m70 0h2m-95 1h2m18 0h2m2 0h2m58 0h2m2 0h2m33 0h2m-118 1h2m6 0h2m36 0h2m5 0h2m19 0h2m17 0h2m10 0h2m46 0h2m-154 1h2m0 0h2m66 0h2m21 0h2m2 0h2m18 0h2m2 0h2m-126 1h2m7 0h2m10 0h2m22 0h2m9 0h2m4 0h2m2 0h2m6 0h2m19 0h2m3 0h2m39 0h2m-140 1h2m2 0h2m49 0h2m8 0h2m-1 0h2m-27 1h2m3 0h2m36 0h2m45 0h2m20 0h2m-168 1h2m31 0h2m3 0h2m1 0h2m3 0h2m9 0h2m23 0h2m7 0h2m8 0h2m62 0h2m-137 1h2m46 0h2m3 0h2m13 0h2m44 0h2m-119 1h2m4 0h2m18 0h2m16 0h2m5 0h2m10 0h2m-1 0h2m12 0h2m1 0h2m62 0h2m-155 1h2m5 0h2m13 0h2m8 0h2m27 0h2m5 0h2m10 0h2m20 0h2m-75 1h2m109 0h2m6 0h2m-150 1h2m19 0h2m-35 1h2m2 0h2m4 0h2m2 0h2m18 0h2m3 0h2m9 0h2m8 0h2m29 0h2m29 0h2m-123 1h2m18 0h2m34 0h2m-1 0h2m1 0h2m24 0h2m8 0h2m29 0h2m21 0h2m8 0h2m-159 1h2m19 0h2m51 0h2m18 0h2m6 0h2m-102 1h2m49 0h2m53 0h2m5 0h2m2 0h2m2 0h2m36 0h2m-153 1h2m10 0h2m2 0h2m-1 0h2m13 0h2m14 0h2m70 0h2m11 0h2m-151 1h2m5 0h2m31 0h2m27 0h2m11 0h2m-87 1h2m19 0h2m-4 1h2m54 0h2m11 0h2m2 0h2m69 0h2m-144 1h2m21 0h2m42 0h2m-68 1h2m22 0h2m57 0h2m1 0h2m23 0h2m2 0h2m0 0h2m-90 1h2m-46 1h2m7 0h2m14 0h2m21 0h2m-36 1h2m34 0h2m27 0h2m12 0h2m-1 0h2m1 0h2m12 0h2m50 0h2m1 0h2m-139 1h2m40 0h2m19 0h2m54 0h2m-150 1h2m23 0h2m22 0h2m15 0h2m0 0h2m31 0h2m44 0h2m-145 1h2m74 0h2m31 0h2m-100 1h2m4 0h2m2 0h2m24 0h2m35 0h2m4 0h2m23 0h2m-106 1h2m4 0h2m11 0h2m36 0h2m32 0h2m32 0h2m-102 1h2m15 0h2m2 0h2m21 0h2m-69 1h2m2 0h2m6 0h2m44 0h2m7 0h2m18 0h2m52 0h2m12 0h2m-176 1h2m4 0h2m0 0h2m19 0h2m58 0h2m46 0h2m-110 1h2m72 0h2m16 0h2m24 0h2m-127 1h2m0 0h2m3 0h2m12 0h2m38 0h2m-1 0h2m2 0h2m26 0h2m-19 1h2m30 0h2m2 0h2m-124 1h2m39 0h2m10 0h2m3 0h2m37 0h2m56 0h2m-140 1h2m5 0h2m15 0h2m12 0h2m13 0h2m0 0h2m31 0h2m10 0h2m-95 1h2m22 0h2m0 0h2m27 0h2m2 0h2m6 0h2m-61 1h2m3 0h2m4 0h2m9 0h2m12 0h2m20 0h2m3 0h2m49 0h2m-136 1h2m1 0h2m14 0h2m11 0h2m9 0h2m28 0h2m-91 1h2m31 0h2m23 0h2m-58 1h2m47 0h2m31 1h2m5 0h2m24 0h2m0 0h2m23 0h2m-142 1h2m21 0h2m4 0h2m39 0h2m-2 0h2m14 0h2m25 0h2m11 0h2m-116 1h2m10 0h2m28 0h2m81 0h2m-124 1h2m89 0h2m-98 1h2m60 0h2m10 0h2m64 0h2m-127 1h2m43 0h2m25 0h2m21 0h2m-56 1h2m4 0h2m0 0h2m31 0h2m5 0h2m22 0h2m6 0h2m-154 1h2m28 0h2m-1 0h2m-1 0h2m69 0h2m37 0h2m-102 1h2m8 0h2m7 0h2m7 1h2m43 0h2m-101 1h2m-3 1h2m50 0h2m7 0h2m72 0h2m-82 1h2m31 0h2m42 0h2m-105 1h2m32 0h2m37 0h2m25 0h2m-148 1h2m29 0h2m9 0h2m124 0h2m-75 2h2m-67 1h2m105 0h2m21 0h2m-147 1h2m52 0h2m-55 1h2m57 0h2m-57 1h2m139 0h2m-117 1h2m-8 1h2m35 2h2m25 1h2" stroke="#e0606b" stroke-width="1.60" opacity="1.0" filter="url(#soft)"/>
<path transform="scale(.5)" d="M269 1001h2m-85 2h2m21 0h2m-13 1h2m22 0h2m3 0h2m-1 0h2m-17 1h2m30 1h2m1 0h2m-109 1h2m72 0h2m12 0h2m-12 1h2m14 1h2m27 0h2m-55 1h2m34 0h2m-127 1h2m101 0h2m19 0h2m16 0h2m-95 1h2m76 1h2m-37 1h2m6 0h2m0 0h2m-1 0h2m5 0h2m2 0h2m25 0h2m-88 1h2m46 0h2m40 0h2m5 0h2m-40 1h2m8 0h2m9 0h2m-85 1h2m41 0h2m-56 1h2m71 0h2m9 0h2m3 0h2m-83 1h2m24 0h2m47 0h2m15 0h2m10 0h2m-1 0h2m-144 1h2m76 0h2m12 0h2m32 0h2m19 0h2m-87 1h2m38 0h2m12 0h2m-144 1h2m73 0h2m25 0h2m14 0h2m27 0h2m3 0h2m4 0h2m-142 1h2m117 0h2m-99 1h2m70 0h2m6 0h2m11 0h2m-107 1h2m44 0h2m70 0h2m9 0h2m-105 1h2m28 0h2m12 0h2m16 0h2m1 0h2m9 0h2m16 0h2m20 0h2m-64 1h2m37 0h2m1 0h2m13 0h2m-121 1h2m46 0h2m21 0h2m28 0h2m-154 1h2m44 0h2m9 0h2m43 0h2m21 0h2m9 0h2m19 0h2m-1 0h2m-115 1h2m28 0h2m11 0h2m70 0h2m-2 0h2m-122 1h2m82 0h2m16 0h2m12 0h2m-98 1h2m26 0h2m18 0h2m23 0h2m12 0h2m1 0h2m-107 1h2m79 0h2m9 0h2m3 0h2m7 0h2m-110 1h2m8 0h2m24 0h2m1 0h2m55 0h2m6 0h2m5 0h2m15 0h2m-40 1h2m7 0h2m7 0h2m7 0h2m4 0h2m-74 1h2m13 0h2m7 0h2m37 0h2m-134 1h2m88 0h2m20 0h2m13 0h2m-35 1h2m4 0h2m25 0h2m-92 1h2m38 0h2m7 0h2m12 0h2m-1 0h2m2 0h2m8 0h2m8 0h2m18 0h2m-154 1h2m54 0h2m7 0h2m42 0h2m0 0h2m0 0h2m-42 1h2m0 0h2m6 0h2m-1 0h2m6 0h2m28 0h2m-59 1h2m44 0h2m-127 1h2m46 0h2m48 0h2m49 0h2m-145 1h2m98 0h2m8 0h2m17 0h2m-135 1h2m107 0h2m7 0h2m-110 1h2m83 0h2m34 0h2m-87 1h2m45 0h2m34 0h2m-45 1h2m6 0h2m37 0h2m0 0h2m-2 0h2m10 0h2m2 0h2m-1 0h2m-109 1h2m55 0h2m22 0h2m4 0h2m2 0h2m4 0h2m1 0h2m7 0h2m-103 1h2m38 0h2m-1 0h2m13 0h2m23 0h2m19 0h2m-51 1h2m1 0h2m15 0h2m18 0h2m2 0h2m-1 0h2m-153 1h2m14 0h2m15 0h2m9 0h2m44 0h2m27 0h2m22 0h2m-2 0h2m-2 0h2m-61 1h2m9 0h2m19 0h2m-22 1h2m-1 0h2m43 0h2m4 0h2m5 0h2m-82 1h2m23 0h2m27 0h2m15 0h2m3 0h2m1 0h2m-86 1h2m27 0h2m17 0h2m12 0h2m23 0h2m-70 1h2m31 0h2m-1 0h2m1 0h2m15 0h2m3 0h2m-138 1h2m27 0h2m18 0h2m58 0h2m31 0h2m-49 1h2m3 0h2m24 0h2m19 0h2m-90 1h2m21 0h2m4 0h2m0 0h2m3 0h2m10 0h2m1 0h2m1 0h2m-83 1h2m45 0h2m33 0h2m-99 1h2m14 0h2m28 0h2m7 0h2m6 0h2m28 0h2m3 0h2m19 0h2m7 0h2m-147 1h2m33 0h2m44 0h2m18 0h2m10 0h2m22 0h2m3 0h2m3 0h2m-138 1h2m36 0h2m27 0h2m-2 0h2m11 0h2m3 0h2m6 0h2m34 0h2m-2 0h2m1 0h2m2 0h2m-101 1h2m21 0h2m0 0h2m4 0h2m19 0h2m1 0h2m4 0h2m5 0h2m-1 0h2m16 0h2m1 0h2m1 0h2m-155 1h2m30 0h2m60 0h2m8 0h2m11 0h2m20 0h2m20 0h2m-91 1h2m-58 1h2m11 0h2m-1 0h2m35 0h2m65 0h2m4 0h2m-140 1h2m25 0h2m20 0h2m16 0h2m7 0h2m12 0h2m-2 0h2m62 0h2m-104 1h2m3 0h2m41 0h2m-1 0h2m6 0h2m1 0h2m6 0h2m2 0h2m26 0h2m-150 1h2m19 0h2m32 0h2m38 0h2m4 0h2m1 0h2m41 0h2m-2 0h2m0 0h2m-110 1h2m3 0h2m26 0h2m4 0h2m4 0h2m11 0h2m2 0h2m2 0h2m-96 1h2m1 0h2m9 0h2m11 0h2m30 0h2m0 0h2m16 0h2m41 0h2m21 0h2m-175 1h2m38 0h2m1 0h2m33 0h2m11 0h2m16 0h2m9 0h2m17 0h2m3 0h2m8 0h2m3 0h2m-106 1h2m3 0h2m5 0h2m4 0h2m23 0h2m13 0h2m6 0h2m10 0h2m26 0h2m5 0h2m-1 0h2m-166 1h2m39 0h2m20 0h2m0 0h2m3 0h2m1 0h2m-1 0h2m4 0h2m39 0h2m18 0h2m8 0h2m-167 1h2m15 0h2m53 0h2m28 0h2m7 0h2m18 0h2m7 0h2m7 0h2m7 0h2m-107 1h2m7 0h2m30 0h2m6 0h2m10 0h2m0 0h2m-1 0h2m3 0h2m2 0h2m2 0h2m1 0h2m14 0h2m6 0h2m0 0h2m-131 1h2m21 0h2m4 0h2m0 0h2m-1 0h2m29 0h2m52 0h2m0 0h2m23 0h2m-142 1h2m1 0h2m20 0h2m2 0h2m47 0h2m37 0h2m31 0h2m-178 1h2m10 0h2m35 0h2m4 0h2m12 0h2m14 0h2m8 0h2m0 0h2m-85 1h2m4 0h2m10 0h2m53 0h2m56 0h2m7 0h2m-137 1h2m2 0h2m-2 0h2m8 0h2m23 0h2m52 0h2m22 0h2m9 0h2m-131 1h2m46 0h2m43 0h2m22 0h2m7 0h2m9 0h2m-1 0h2m-165 1h2m10 0h2m27 0h2m34 0h2m5 0h2m-1 0h2m5 0h2m3 0h2m46 0h2m12 0h2m0 0h2m-136 1h2m-1 0h2m-1 0h2m19 0h2m17 0h2m65 0h2m-126 1h2m31 0h2m10 0h2m45 0h2m2 0h2m26 0h2m29 0h2m-148 1h2m7 0h2m24 0h2m10 0h2m8 0h2m40 0h2m9 0h2m1 0h2m23 0h2m2 0h2m0 0h2m-138 1h2m64 0h2m36 0h2m24 0h2m12 0h2m-1 0h2m-140 1h2m65 0h2m-1 0h2m-90 1h2m13 0h2m96 0h2m3 0h2m26 0h2m1 0h2m10 0h2m-170 1h2m41 0h2m9 0h2m15 0h2m49 0h2m9 0h2m15 0h2m-146 1h2m14 0h2m18 0h2m64 0h2m-103 1h2m13 0h2m12 0h2m66 0h2m3 0h2m5 0h2m27 0h2m14 0h2m11 0h2m-171 1h2m21 0h2m13 0h2m8 0h2m48 0h2m18 0h2m7 0h2m7 0h2m-120 1h2m5 0h2m51 0h2m18 0h2m11 0h2m3 0h2m45 0h2m-171 1h2m130 0h2m0 0h2m3 0h2m15 0h2m13 0h2m-141 1h2m51 0h2m17 0h2m41 0h2m-64 1h2m14 0h2m-2 0h2m-2 0h2m29 0h2m0 0h2m8 0h2m30 0h2m-96 1h2m55 0h2m18 0h2m0 0h2m-60 1h2m19 0h2m-2 0h2m12 0h2m28 0h2m-135 1h2m91 0h2m22 0h2m5 0h2m2 0h2m-1 0h2m-1 0h2m-151 1h2m1 0h2m91 0h2m4 0h2m30 0h2m-89 1h2m36 0h2m31 0h2m-138 1h2m17 0h2m12 0h2m91 0h2m-59 1h2m49 0h2m21 0h2m-79 1h2m80 0h2m4 0h2m16 0h2m3 0h2m-112 1h2m29 1h2m46 0h2m-22 1h2m36 0h2m-1 0h2m-95 1h2m28 0h2m21 0h2m47 0h2m-153 1h2m83 0h2m22 0h2m-37 1h2m11 0h2m6 0h2m5 0h2m21 0h2m0 0h2m13 0h2m4 0h2m-63 1h2m23 0h2m1 0h2m7 0h2m6 0h2m6 0h2m-153 1h2m20 0h2m31 0h2m62 0h2m11 0h2m3 0h2m-22 1h2m-1 0h2m4 0h2m8 0h2m5 0h2m23 0h2m-144 1h2m3 0h2m64 0h2m8 0h2m14 0h2m41 0h2m-151 1h2m54 0h2m54 0h2m-86 1h2m53 0h2m15 0h2m19 0h2m-54 1h2m21 0h2m28 0h2m22 0h2m-117 1h2m55 1h2m15 0h2m4 0h2m3 0h2m3 0h2m1 0h2m12 0h2m-1 0h2m-115 1h2m-2 0h2m30 0h2m40 0h2m26 0h2m8 0h2m-59 1h2m24 0h2m25 0h2m11 0h2m-162 1h2m42 0h2m53 0h2m12 0h2m14 0h2m28 0h2m-74 1h2m3 0h2m36 0h2m19 0h2m-1 0h2m-1 0h2m-47 1h2m36 0h2m16 0h2m-86 1h2m7 0h2m19 0h2m0 0h2m2 0h2m14 0h2m6 0h2m5 0h2m-109 1h2m30 0h2m61 0h2m-53 1h2m54 0h2m4 0h2m-124 1h2m50 1h2m6 0h2m49 0h2m3 0h2m7 0h2m-1 0h2m10 1h2m-59 1h2m17 0h2m26 0h2m-55 1h2m-63 2h2m32 0h2m22 0h2m36 0h2m-85 1h2m29 0h2m25 0h2m7 0h2m-84 1h2m108 0h2m-53 4h2m-56 1h2m63 0h2m18 0h2m-97 1h2" stroke="#97c1e8" stroke-width="1.60" opacity="1.0" filter="url(#soft)"/>
<path transform="scale(.5)" d="M190 1001h2m-50 1h2m33 0h2m18 0h2m-58 1h2m35 1h2m6 0h2m8 0h2m-53 1h2m10 0h2m33 0h2m12 0h2m-96 1h2m13 0h2m40 0h2m26 0h2m-1 0h2m26 0h2m49 0h2m-155 1h2m33 0h2m23 0h2m11 0h2m23 0h2m-72 1h2m6 0h2m7 0h2m27 0h2m9 0h2m49 0h2m-144 1h2m1 0h2m31 0h2m33 0h2m4 0h2m17 0h2m23 0h2m31 0h2m-114 1h2m2 0h2m1 0h2m26 0h2m1 0h2m34 0h2m-119 1h2m57 0h2m17 0h2m-82 1h2m26 0h2m10 0h2m2 0h2m-1 0h2m76 0h2m-118 1h2m8 0h2m5 0h2m3 0h2m1 0h2m9 0h2m61 0h2m-110 1h2m37 0h2m2 0h2m4 0h2m3 0h2m28 0h2m-1 0h2m-1 0h2m-42 1h2m6 0h2m4 0h2m5 0h2m-29 1h2m24 0h2m86 0h2m-126 1h2m10 0h2m14 0h2m16 0h2m12 0h2m58 0h2m-132 1h2m27 0h2m26 0h2m0 0h2m6 0h2m-93 1h2m15 0h2m1 0h2m30 0h2m3 0h2m46 0h2m-49 1h2m1 0h2m9 0h2m1 0h2m8 0h2m-1 0h2m25 0h2m-109 1h2m11 0h2m23 0h2m12 0h2m6 0h2m25 0h2m33 0h2m-101 1h2m16 0h2m6 0h2m9 0h2m-53 1h2m8 0h2m12 0h2m0 0h2m10 0h2m28 0h2m28 0h2m1 0h2m15 0h2m-1 0h2m1 0h2m-135 1h2m0 0h2m-1 0h2m17 0h2m50 0h2m4 0h2m3 0h2m2 0h2m38 0h2m-137 1h2m12 0h2m9 0h2m8 0h2m12 0h2m13 0h2m5 0h2m7 0h2m27 0h2m31 0h2m-147 1h2m64 0h2m16 0h2m2 0h2m4 0h2m27 0h2m10 0h2m17 0h2m-148 1h2m6 0h2m20 0h2m10 0h2m9 0h2m-1 0h2m18 0h2m1 0h2m26 0h2m-97 1h2m15 0h2m23 0h2m16 0h2m1 0h2m84 0h2m-162 1h2m6 0h2m14 0h2m14 0h2m16 0h2m18 0h2m2 0h2m8 0h2m9 0h2m0 0h2m57 0h2m-167 1h2m20 0h2m4 0h2m21 0h2m10 0h2m-1 0h2m12 0h2m24 0h2m-109 1h2m10 0h2m6 0h2m26 0h2m3 0h2m28 0h2m-1 0h2m2 0h2m13 0h2m30 0h2m-122 1h2m3 0h2m12 0h2m23 0h2m3 0h2m-2 0h2m7 0h2m1 0h2m5 0h2m17 0h2m10 0h2m-109 1h2m12 0h2m15 0h2m2 0h2m32 0h2m2 0h2m9 0h2m16 0h2m6 0h2m6 0h2m-86 1h2m4 0h2m28 0h2m1 0h2m17 0h2m49 0h2m-1 0h2m-1 0h2m-156 1h2m21 0h2m43 0h2m0 0h2m-70 1h2m15 0h2m14 0h2m12 0h2m9 0h2m5 0h2m13 0h2m38 0h2m35 0h2m-160 1h2m47 0h2m22 0h2m10 0h2m14 0h2m27 0h2m-137 1h2m5 0h2m13 0h2m8 0h2m53 0h2m4 0h2m-2 0h2m16 0h2m3 0h2m31 0h2m-2 0h2m-148 1h2m5 0h2m25 0h2m11 0h2m-2 0h2m2 0h2m16 0h2m9 0h2m2 0h2m2 0h2m-86 1h2m0 0h2m17 0h2m6 0h2m9 0h2m16 0h2m1 0h2m20 0h2m6 0h2m17 0h2m6 0h2m35 0h2m-135 1h2m16 0h2m3 0h2m14 0h2m2 0h2m2 0h2m4 0h2m2 0h2m1 0h2m0 0h2m1 0h2m-1 0h2m64 0h2m-132 1h2m47 0h2m6 0h2m9 0h2m16 0h2m9 0h2m16 0h2m20 0h2m4 0h2m-181 1h2m6 0h2m38 0h2m18 0h2m0 0h2m14 0h2m-2 0h2m77 0h2m-127 1h2m2 0h2m1 0h2m16 0h2m12 0h2m3 0h2m17 0h2m42 0h2m26 0h2m-160 1h2m4 0h2m10 0h2m13 0h2m6 0h2m19 0h2m5 0h2m20 0h2m8 0h2m-104 1h2m7 0h2m6 0h2m6 0h2m7 0h2m-1 0h2m0 0h2m-2 0h2m39 0h2m7 0h2m0 0h2m11 0h2m2 0h2m-110 1h2m5 0h2m1 0h2m1 0h2m7 0h2m2 0h2m19 0h2m5 0h2m11 0h2m9 0h2m47 0h2m-137 1h2m2 0h2m4 0h2m-1 0h2m20 0h2m12 0h2m9 0h2m6 0h2m7 0h2m2 0h2m0 0h2m46 0h2m4 0h2m17 0h2m13 0h2m-146 1h2m1 0h2m-2 0h2m3 0h2m6 0h2m6 0h2m5 0h2m60 0h2m-1 0h2m39 0h2m-159 1h2m13 0h2m3 0h2m-1 0h2m10 0h2m-1 0h2m1 0h2m1 0h2m1 0h2m2 0h2m0 0h2m34 0h2m6 0h2m4 0h2m6 0h2m1 0h2m12 0h2m-126 1h2m38 0h2m1 0h2m12 0h2m6 0h2m9 0h2m-2 0h2m0 0h2m38 0h2m-117 1h2m-1 0h2m23 0h2m13 0h2m19 0h2m0 0h2m-2 0h2m31 0h2m5 0h2m10 0h2m-130 1h2m6 0h2m1 0h2m15 0h2m6 0h2m3 0h2m0 0h2m0 0h2m-1 0h2m-39 1h2m5 0h2m47 0h2m2 0h2m-1 0h2m64 0h2m24 0h2m-1 0h2m-1 0h2m-160 1h2m-1 0h2m1 0h2m6 0h2m6 0h2m1 0h2m29 0h2m-1 0h2m6 0h2m1 0h2m3 0h2m8 0h2m-1 0h2m4 0h2m3 0h2m3 0h2m-98 1h2m14 0h2m8 0h2m4 0h2m2 0h2m7 0h2m6 0h2m11 0h2m55 0h2m24 0h2m1 0h2m0 0h2m-157 1h2m7 0h2m14 0h2m1 0h2m2 0h2m4 0h2m10 0h2m53 0h2m9 0h2m-121 1h2m21 0h2m13 0h2m20 0h2m7 0h2m1 0h2m19 0h2m6 0h2m29 0h2m11 0h2m6 0h2m-156 1h2m2 0h2m16 0h2m3 0h2m1 0h2m30 0h2m5 0h2m28 0h2m3 0h2m21 0h2m6 0h2m14 0h2m-156 1h2m7 0h2m6 0h2m55 0h2m3 0h2m19 0h2m-81 1h2m14 0h2m60 0h2m-86 1h2m2 0h2m28 0h2m-1 0h2m2 0h2m17 0h2m1 0h2m1 0h2m55 0h2m-97 1h2m42 0h2m9 0h2m-70 1h2m90 0h2m15 0h2m-95 1h2m51 0h2m27 0h2m2 0h2m23 0h2m-122 1h2m27 0h2m25 0h2m8 0h2m42 0h2m-82 1h2m14 0h2m7 0h2m-78 1h2m10 1h2m9 0h2m24 0h2m10 0h2m4 0h2m-2 0h2m10 0h2m-93 1h2m7 0h2m6 0h2m87 0h2m12 0h2m-77 1h2m76 0h2m-61 1h2m102 0h2m-160 1h2m-2 0h2m1 0h2m36 0h2m1 0h2m0 0h2m21 0h2m12 0h2m-18 1h2m31 0h2m17 0h2m24 0h2m8 0h2m-167 1h2m49 0h2m-54 1h2m4 0h2m13 0h2m1 0h2m129 0h2m7 0h2m-159 1h2m2 0h2m2 0h2m7 0h2m22 0h2m3 0h2m80 0h2m-131 1h2m11 0h2m2 0h2m12 0h2m7 0h2m1 0h2m5 0h2m7 0h2m31 0h2m-55 1h2m34 0h2m26 0h2m1 0h2m18 0h2m32 0h2m-151 1h2m1 0h2m-2 0h2m2 0h2m0 0h2m1 0h2m32 0h2m17 0h2m0 0h2m48 0h2m22 0h2m2 0h2m-152 1h2m19 0h2m11 0h2m9 0h2m1 0h2m-51 1h2m1 0h2m10 0h2m16 0h2m-1 0h2m18 0h2m7 0h2m-2 0h2m15 0h2m13 0h2m35 0h2m-87 1h2m2 0h2m23 0h2m6 0h2m-94 1h2m46 0h2m27 0h2m-55 1h2m14 0h2m14 0h2m9 0h2m-1 0h2m12 0h2m34 0h2m1 0h2m-109 1h2m-2 0h2m2 0h2m3 0h2m44 0h2m7 0h2m1 0h2m3 0h2m10 0h2m6 0h2m23 0h2m37 0h2m-150 1h2m10 0h2m19 0h2m29 0h2m17 0h2m4 0h2m-106 1h2m23 0h2m10 0h2m27 0h2m17 0h2m-88 1h2m17 0h2m5 0h2m0 0h2m0 0h2m63 0h2m10 0h2m4 0h2m23 0h2m-112 1h2m38 0h2m4 0h2m10 0h2m12 0h2m48 0h2m-152 1h2m30 0h2m-2 0h2m15 0h2m2 0h2m-1 0h2m43 0h2m34 0h2m26 0h2m-152 1h2m1 0h2m43 0h2m-68 1h2m5 0h2m23 0h2m56 0h2m-1 0h2m11 0h2m60 0h2m-152 1h2m7 0h2m7 0h2m0 0h2m-2 0h2m12 0h2m18 0h2m3 0h2m-63 1h2m32 0h2m-2 0h2m22 0h2m15 0h2m18 0h2m29 0h2m-139 1h2m3 0h2m28 0h2m4 0h2m12 0h2m0 0h2m32 0h2m28 0h2m19 0h2m9 0h2m-159 1h2m6 0h2m1 0h2m4 0h2m1 0h2m1 0h2m5 0h2m13 0h2m9 0h2m32 0h2m8 0h2m-75 1h2m-1 0h2m16 0h2m5 0h2m19 0h2m48 0h2m18 0h2m11 0h2m-145 1h2m6 0h2m1 0h2m34 0h2m37 0h2m-55 1h2m6 1h2m24 0h2m6 0h2m15 0h2m18 0h2m22 0h2m-1 0h2m-126 1h2m1 0h2m10 0h2m16 0h2m8 0h2m1 0h2m6 0h2m67 0h2m4 0h2m-164 1h2m29 0h2m73 0h2m8 0h2m1 0h2m1 0h2m19 0h2m13 0h2m15 0h2m-127 1h2m34 0h2m20 0h2m-71 1h2m35 0h2m-1 0h2m1 0h2m-68 1h2m32 0h2m10 0h2m16 0h2m61 0h2m-106 1h2m9 0h2m1 0h2m6 0h2m1 0h2m1 0h2m20 0h2m10 0h2m-72 1h2m5 0h2m22 0h2m6 0h2m18 0h2m45 0h2m23 0h2m-140 1h2m8 0h2m27 0h2m41 0h2m-38 1h2m-24 1h2m64 0h2m5 0h2m-87 1h2m21 0h2m4 0h2m27 0h2m-2 0h2m4 0h2m31 0h2m-1 0h2m-121 1h2m57 0h2m75 0h2m18 0h2m-153 1h2m-1 0h2m91 0h2m27 0h2m-107 1h2m102 0h2m-1 0h2m17 0h2m4 0h2m16 0h2m-171 1h2m11 0h2m33 0h2m9 0h2m1 0h2m27 0h2m0 0h2m-65 1h2m1 0h2m26 0h2m27 0h2m9 0h2m4 0h2m-93 1h2m26 0h2m9 0h2m28 0h2m25 0h2m43 0h2m-150 1h2m34 0h2m0 0h2m54 0h2m-95 1h2m0 0h2m33 0h2m25 0h2m-2 0h2m-1 0h2m21 0h2m64 0h2m-141 1h2m0 0h2m14 0h2m5 0h2m33 0h2m10 0h2m-19 1h2m18 0h2m32 0h2m1 0h2m-104 1h2m7 0h2m-1 0h2m47 0h2m-8 2h2m-81 1h2m4 0h2m2 0h2m10 0h2m10 0h2m15 0h2m40 0h2m-103 1h2m8 0h2m13 0h2m1 0h2m14 0h2m23 0h2m25 0h2m-86 1h2m16 0h2m69 1h2m34 0h2m-125 1h2m33 0h2m51 0h2m-72 1h2m97 0h2m-136 1h2m20 0h2m0 0h2m23 0h2m91 0h2m-130 1h2m17 0h2m38 0h2m3 0h2m-79 1h2m66 0h2m44 0h2m-68 1h2m25 0h2m-45 1h2m13 0h2m104 0h2m-134 1h2m33 0h2m-19 1h2m85 0h2m-114 1h2m23 2h2m12 0h2" stroke="#e0606b" stroke-width="1.60" opacity="1.0" filter="url(#soft)"/>
<path d="M84.0 523.4h1.9M84.8 522.8h1.9M77.4 518.0h1.9M99.2 506.9h1.9M97.7 513.5h1.9M96.2 510.4h1.9M87.1 518.2h1.9M93.9 515.8h1.9M91.2 521.4h1.9M80.6 514.2h1.9M87.1 506.7h1.9M99.9 507.2h1.9M64.4 513.9h1.9M80.0 523.5h1.9M99.9 509.8h1.9M111.4 516.4h1.9M61.6 507.8h1.9M64.1 510.6h1.9M69.1 517.0h1.9M85.7 507.1h1.9M98.5 520.3h1.9M76.3 508.8h1.9M79.4 515.0h1.9M106.4 519.8h1.9M95.8 517.1h1.9M107.3 519.4h1.9M82.4 511.5h1.9M66.4 510.2h1.9M108.6 505.9h1.9M95.8 517.4h1.9M78.5 519.5h1.9M106.6 507.0h1.9M73.5 506.6h1.9M98.1 505.8h1.9M111.3 511.7h1.9M87.8 502.5h1.9M64.3 501.5h1.9M57.4 509.7h1.9M84.0 509.6h1.9M85.5 503.0h1.9M87.5 506.7h1.9M94.5 514.0h1.9M108.6 512.9h1.9M88.6 520.7h1.9M83.8 510.1h1.9M93.1 507.7h1.9M95.5 524.6h1.9M73.8 506.4h1.9M104.7 511.8h1.9M73.9 514.2h1.9M58.7 514.3h1.9M76.7 505.8h1.9M93.2 501.8h1.9M92.4 527.2h1.9M91.7 516.1h1.9M90.4 514.4h1.9M69.9 518.2h1.9M113.5 514.1h1.9M94.3 523.2h1.9M77.9 508.5h1.9M99.7 505.1h1.9M62.5 506.8h1.9M111.2 516.5h1.9M81.8 510.4h1.9M75.6 507.1h1.9M78.6 513.9h1.9M80.4 512.3h1.9M94.2 510.6h1.9M91.0 519.5h1.9M103.6 517.9h1.9M73.5 517.5h1.9M107.0 517.5h1.9M108.9 517.3h1.9M82.2 510.7h1.9M64.3 513.0h1.9M79.2 511.9h1.9M69.6 509.8h1.9M69.5 516.8h1.9M98.4 508.1h1.9M76.7 504.5h1.9M76.8 501.1h1.9M92.2 521.4h1.9M82.1 503.2h1.9M83.8 501.0h1.9M70.9 507.0h1.9M90.0 509.8h1.9M88.2 509.6h1.9M103.9 521.5h1.9M73.4 521.6h1.9M111.8 513.0h1.9M95.6 508.4h1.9M65.6 515.0h1.9M104.9 522.3h1.9M85.2 509.0h1.9M75.8 515.1h1.9M92.0 515.3h1.9M112.7 517.7h1.9M99.7 504.0h1.9M82.3 517.5h1.9M73.5 516.2h1.9M96.7 502.2h1.9M83.4 510.4h1.9M80.0 509.0h1.9M86.8 511.2h1.9M74.7 517.0h1.9M99.3 522.3h1.9M95.2 515.4h1.9M87.1 505.2h1.9M107.9 508.4h1.9M107.6 509.9h1.9M92.2 513.7h1.9M84.9 517.6h1.9M98.6 510.6h1.9M102.1 512.1h1.9M78.4 503.1h1.9M121.0 507.5h1.9M82.1 513.9h1.9M81.4 520.4h1.9M105.3 503.9h1.9M114.3 516.8h1.9M87.3 511.5h1.9M76.6 506.4h1.9M60.9 515.0h1.9M76.2 507.0h1.9M100.2 504.3h1.9M91.5 523.6h1.9M73.0 515.2h1.9M66.7 517.7h1.9M108.3 505.6h1.9M80.4 505.7h1.9M74.8 519.5h1.9M79.5 520.3h1.9M82.8 510.8h1.9M85.2 523.2h1.9M89.1 514.1h1.9M67.2 507.8h1.9M95.5 514.5h1.9M78.1 501.4h1.9M71.2 506.1h1.9M108.3 505.6h1.9M109.9 517.8h1.9M87.6 518.5h1.9M65.0 514.9h1.9M70.7 513.7h1.9M92.0 521.0h1.9M93.4 521.8h1.9M68.8 519.5h1.9M110.7 517.8h1.9M80.2 505.3h1.9M103.8 510.5h1.9" stroke="#1b1b1b" stroke-width="1.9"/>
<path d="M120.1 544.7h1.9M61.1 551.3h1.9M66.6 531.8h1.9M88.9 552.7h1.9M58.8 539.0h1.9M121.5 537.8h1.9M114.0 555.0h1.9M61.8 558.0h1.9M108.1 542.0h1.9M110.0 529.6h1.9M96.3 536.9h1.9M65.8 546.4h1.9M69.0 536.7h1.9M69.9 549.4h1.9M92.0 540.4h1.9M110.1 537.5h1.9M96.2 545.1h1.9M68.8 542.6h1.9M85.4 536.8h1.9M76.0 561.3h1.9M103.2 565.8h1.9M99.7 551.7h1.9" stroke="#1b1b1b" stroke-width="1.9"/>
<path d="M38.0 500.2 40.2 500.0 42.6 499.3 45.4 498.8 47.4 498.6 49.6 498.3 51.8 497.8 54.0 498.1 56.8 497.8 59.6 497.9 62.7 497.2 65.1 497.6 67.7 497.0 70.8 499.4 73.9 498.6M38.0 515.0 39.3 513.6 41.3 512.3 42.7 510.3 44.1 508.0 44.9 505.8 45.8 504.1 48.9 501.7 52.0 502.0 55.2 502.5 56.8 503.6 58.9 504.8 60.9 505.7 63.0 507.2 64.9 509.5 66.9 511.9 69.3 515.0M76.0 496.0 77.7 495.1 80.0 494.0 81.8 496.1 84.0 499.0 84.5 501.3 85.0 503.7 86.0 506.0 85.9 508.3 85.7 510.1 85.2 512.6 85.0 515.0 85.3 518.1 86.4 521.3M88.0 493.0 86.9 495.3 86.7 497.6 86.0 500.0 85.1 502.3 84.1 504.9 84.1 507.6 83.0 510.0 81.8 512.8 80.7 515.3 80.0 518.0 78.8 520.4 77.2 522.1 76.0 524.0M92.0 494.0 91.7 496.9 90.8 499.4 90.0 502.0 89.4 504.4 88.8 507.3 88.8 509.4 88.0 512.0 88.0 513.9 86.9 516.7 86.6 518.8 86.4 521.3M72.0 506.0 74.4 507.0 75.7 508.4 78.0 510.0 80.2 511.1 81.6 512.7 84.0 514.0 85.9 514.8 88.0 516.0M68.0 522.0 70.3 521.5 72.7 520.8 75.0 520.0 77.4 519.0 80.1 517.2 82.0 516.0M86.4 521.3 87.9 523.9 89.6 525.9 91.6 525.5 94.1 524.8 96.6 524.3 98.0 523.5 100.5 522.8 102.4 524.0 104.3 525.0 106.6 526.4 108.3 527.5 110.0 528.4 112.0 529.6 114.2 530.7 116.1 532.2 117.6 533.4 119.5 535.5 121.4 536.8 123.9 538.4 125.5 540.0 127.1 541.6 129.6 542.1 130.9 543.8 133.3 544.9 134.9 546.3 137.2 547.1 139.2 548.2 141.1 549.4M86.4 521.3 86.7 523.8 87.6 526.1 87.8 527.9 88.4 530.3 89.0 532.7 88.8 534.6 89.6 536.9 90.1 538.9 90.0 540.9 90.7 544.0 91.3 545.5 91.4 548.0 91.7 550.2 91.9 552.5 92.5 555.4 91.8 557.7 92.0 559.6 92.3 562.7 92.7 565.0 94.7 566.2 95.7 567.7 97.4 569.7 99.8 570.9 102.0 571.9 104.7 573.5 106.8 574.4 109.1 574.8 111.9 575.6 114.7 575.7 117.0 576.3 119.3 576.7 122.1 576.2 124.0 576.0 127.2 576.0 129.3 575.7 131.8 575.9 134.1 575.3 136.9 575.3 139.4 575.3 141.6 575.3 144.3 575.2M42.7 551.7 45.3 551.7 47.7 551.7 51.2 552.1 53.6 552.5 55.5 552.5 58.1 553.6 60.1 553.8 62.6 553.7 65.1 554.0 66.7 554.5 69.3 554.8 71.7 555.3 73.6 555.9 76.3 556.3 78.2 556.5 80.6 556.2 82.2 556.6 84.9 557.2 86.8 557.3 89.2 558.3 91.4 558.5 93.4 558.7 96.5 559.0 98.3 560.1 100.5 560.3 102.8 561.3 104.6 562.1 107.0 562.9 109.3 563.1 111.3 564.1 113.0 565.0 115.4 566.0 117.7 567.1 119.6 568.5 121.6 569.9 123.9 571.3 126.2 572.4 128.2 573.0 130.4 573.4 133.1 574.3 134.9 575.2M66.9 548.6 67.1 550.6 68.3 552.6 68.9 555.1 69.3 557.2 71.8 559.3 73.9 561.9 75.7 562.5 78.2 563.7 80.1 564.7 82.6 565.5 84.9 566.6 87.2 567.7 89.1 568.3 91.4 568.8 93.5 569.7 96.0 570.4 98.0 570.5 100.5 571.3 103.3 572.3 105.5 574.1 108.3 575.2M91.0 510.0 93.5 510.5 95.0 511.1 97.4 511.9 99.9 512.6 101.7 513.9 103.6 515.0 105.7 515.9 107.6 517.7 109.8 518.6 111.4 519.7 113.0 518.2 114.2 516.9 116.3 514.9 117.7 513.4 117.7 509.5M81.8 527.5 82.0 529.9 81.9 532.1 82.1 534.9 82.1 536.8 82.3 539.6 82.4 542.2 82.7 544.2 82.4 547.4 82.5 549.4M94.0 497.0 96.2 497.8 98.0 499.0 100.0 497.0M78.0 494.0 79.2 496.4 79.9 498.3 80.7 500.4 82.0 502.0 82.7 504.4 83.6 507.5 84.0 510.0 84.1 512.8 83.8 515.0 83.7 517.1 83.0 520.0 84.0 522.9 84.1 525.6 85.0 528.0M86.0 493.0 87.3 495.4 89.0 497.4 90.0 500.0 90.5 502.8 90.9 505.4 92.0 508.0 91.9 510.7 91.1 513.6 91.0 516.0 92.0 518.9 92.4 521.7 93.0 524.0 92.9 526.4 92.2 529.0 92.0 532.0M74.0 502.0 75.6 503.2 78.3 505.0 80.0 506.0 82.3 506.4 85.2 507.6 88.0 508.0 90.4 507.7 92.3 507.1 95.0 506.0M80.0 514.0 82.7 515.1 86.0 516.0 89.3 515.2 92.0 514.0 93.7 515.5 95.9 516.2 98.0 518.0M96.0 493.0 95.2 495.5 94.8 498.1 94.0 501.0 94.8 503.8 95.0 506.0 96.0 509.0 98.7 511.0 101.0 513.0M70.0 498.0 71.0 499.7 73.1 502.1 74.0 504.0 73.5 506.4 73.8 509.5 73.0 512.0 74.5 513.9 75.5 515.9 77.0 518.0M90.0 528.0 88.7 530.8 87.9 533.6 87.0 536.0 87.6 538.6 88.3 541.7 89.0 544.0" fill="none" stroke="#9a7a48" stroke-width="0.65" stroke-linejoin="round" stroke-linecap="round"/>
<path d="M151.4 490.5 153.4 491.2 155.5 491.7 157.7 492.5 159.9 493.0 162.3 493.2 164.9 493.5 167.6 493.7 169.6 494.1 170.3 496.9 170.5 499.6M167.8 552.4 167.9 549.4 168.1 547.1 168.3 545.1 168.3 542.3 168.7 539.6 169.0 537.1 168.8 534.7 169.4 532.6 169.1 530.4 169.6 528.5 169.5 526.0 169.1 524.0 169.6 521.4 169.1 518.9 169.2 516.8 169.3 514.0 169.4 512.1 168.4 509.4 168.7 506.9 169.0 504.3 169.3 501.9 169.6 499.6M167.8 552.4 166.1 551.0 164.6 549.9 162.8 547.9 160.8 546.7 158.7 545.1 158.3 543.2 157.1 540.4 156.8 538.3 156.0 536.3 155.4 533.4 154.7 531.1 154.6 528.5 153.5 526.7 153.2 524.2 153.9 522.3 154.2 520.2 155.0 517.8M142.3 501.4 144.7 502.7 146.3 503.6 148.4 505.0 151.4 506.2 153.2 506.9 154.6 508.2 156.9 509.8 158.3 511.5 160.3 512.7 162.3 514.1 163.5 516.6 165.0 518.6 166.9 521.4M182.4 501.4 186.0 502.3M182.4 501.4 182.7 503.6 183.2 506.0 183.3 508.7 183.0 510.6 182.6 513.2 182.7 515.5 182.4 517.8 182.2 519.8 181.8 522.2 181.4 524.9 180.5 527.3 178.6 530.0 176.9 532.4 174.5 533.7 171.4 534.2M182.4 517.8 184.7 518.0 186.9 519.3 189.6 519.6M199.7 527.8 198.6 530.0 196.8 531.8 195.4 533.4 194.4 536.2 193.3 537.8 191.6 539.9 189.2 541.4 187.4 543.1 186.0 545.1 183.8 546.9 182.2 547.8 180.7 549.6 178.7 550.6 177.3 552.0 175.1 553.7 173.1 554.5 171.4 556.0M180.5 545.1 183.5 544.0 186.0 543.3 187.7 545.0 189.6 546.9 186.9 548.6 184.2 550.6 181.4 551.5 178.7 552.4M156.9 526.9 157.4 529.3 158.3 531.2 159.6 533.2 160.3 535.0 161.3 537.3 162.3 539.6 163.0 541.6 164.0 544.0 164.1 546.1 165.7 548.0 166.0 550.6M167.8 552.4 167.9 555.6 167.8 557.9 167.5 560.7 167.2 563.2 167.2 566.2 166.9 568.8 167.0 571.5 167.4 574.5 167.2 576.6 167.8 579.7 168.0 582.0 169.0 584.6 169.5 587.1 169.6 589.7 171.7 589.6 173.8 589.7 176.7 588.9 178.7 588.8M164.1 559.7 161.5 561.2 159.6 562.2 156.9 563.3 154.3 563.9 152.1 564.1 150.3 564.8 148.2 564.3 145.9 565.1 144.1 565.7 141.6 565.4 139.6 566.2 137.3 567.1 135.0 567.0M162.3 563.3 161.3 564.7 159.9 566.9 158.5 568.7 156.9 570.6 155.0 571.9 152.9 573.2 151.6 574.3 149.6 576.1 145.9 577.9M171.4 561.5 172.4 563.6 174.3 565.2 175.2 566.6 176.9 568.8 178.6 571.0 180.6 572.8 182.4 574.3M169.6 570.6 172.1 571.4 175.1 572.4 177.8 573.2 180.5 573.3M135.0 555.1 137.4 555.2 140.4 554.2 143.1 554.3 145.9 554.2 148.3 554.9 150.3 555.1 152.4 555.5 154.3 555.9 156.9 556.0 159.0 556.4 161.4 556.5 164.1 557.0M160.0 510.0 160.7 511.9 162.1 514.0 162.9 516.1 164.0 518.0 165.8 519.6 166.9 521.4M176.0 505.0 176.6 507.5 177.4 509.8 177.7 512.3 178.0 515.0 177.6 517.7 177.8 519.8 177.1 522.7 177.3 525.1 177.2 527.5 177.1 530.3 176.9 532.4" fill="none" stroke="#9a7a48" stroke-width="0.65" stroke-linejoin="round" stroke-linecap="round"/>
<polygon points="168.0,550.2 166.1,554.1 169.9,554.1" fill="#d4861c" />
<line x1="50.8" y1="263.4" x2="66.8" y2="263.4" stroke="#1a1a1a" stroke-width="1.9" />
<line x1="50.8" y1="367.0" x2="66.8" y2="367.0" stroke="#1a1a1a" stroke-width="1.9" />
<line x1="50.8" y1="472.0" x2="66.8" y2="472.0" stroke="#1a1a1a" stroke-width="1.9" />
<line x1="50.8" y1="577.0" x2="66.8" y2="577.0" stroke="#1a1a1a" stroke-width="1.9" />
<text x="543.1" y="18.5" font-size="9.1" text-anchor="middle" fill="#231f20">Small cleft volume</text>
<text x="631.6" y="18.5" font-size="9.1" text-anchor="middle" fill="#231f20">Large cleft volume</text>
<path d="M510.7,35.8 L514.0,32.5 L517.4,30.4 L523.1,30.8 L524.4,34.1 L524.0,41.6 L526.5,49.0 L529.8,53.1 L533.9,56.0 L540.5,58.9 L539.7,59.8 L533.1,57.7 L529.8,58.1 L527.7,60.6 L528.1,64.7 L530.0,72.0 L532.8,80.1 L534.0,86.0 L532.0,90.0 L528.3,94.7 L525.7,100.7 L520.0,105.6 L513.7,111.0 L511.0,118.0 L509.9,124.7 L499.3,124.7 L499.3,80.0 L502.0,77.0 L506.4,74.6 L508.2,69.2 L509.0,64.0 L507.0,61.5 L502.0,60.0 L499.1,58.1 L500.0,55.6 L505.0,56.0 L508.2,54.0 L509.1,50.0 L508.5,46.0 L509.1,44.9Z" fill="#898989" stroke="#7a7a7a" stroke-width="0.6" stroke-linejoin="round" opacity="1.0"/>
<path d="M514,46 C516,56 518,66 520,78 C521,88 518,98 512,110" fill="none" stroke="#9d9d9d" stroke-width="1.1" opacity="0.7"/>
<path d="M520,45 C523,55 526,66 528,80" fill="none" stroke="#9d9d9d" stroke-width="1.1" opacity="0.7"/>
<path d="M504,100 C506,108 505,116 503,123" fill="none" stroke="#9d9d9d" stroke-width="1.1" opacity="0.7"/>
<path d="M510,60 C513,70 515,82 514,95" fill="none" stroke="#9d9d9d" stroke-width="1.1" opacity="0.7"/>
<path d="M512,50 C515,62 519,75 523,88" fill="none" stroke="#6c6c6c" stroke-width="0.9" opacity="0.6"/>
<path d="M508,105 C510,112 508,118 506,124" fill="none" stroke="#6c6c6c" stroke-width="0.9" opacity="0.6"/>
<ellipse cx="506.6" cy="88.5" rx="4.4" ry="9.6" transform="rotate(14 506.6 88.5)" fill="#ffffff"/>
<path d="M510.7,35.8 L514.0,32.5 L517.4,30.4 L523.1,30.8 L524.4,34.1 L524.0,41.6 L519.8,44.9 L512.4,44.0 L510.3,39.9Z" fill="#a9a9a9" opacity="1.0"/>
<path d="M528.3,58.0 L533.1,59.5 L538.9,63.5 L541.0,68.0 L540.0,72.5 L535.5,72.8 L531.0,70.5 L528.6,66.0Z" fill="#a7a7a7" opacity="1.0"/>
<path d="M533.0,86.5 L538.0,85.5 L543.0,84.0 L547.0,80.5 L548.0,75.5 L550.5,72.8 L552.3,75.0 L551.5,82.0 L548.5,87.0 L542.0,89.2 L534.5,89.5Z" fill="#a0a0a0" opacity="1.0"/>
<path d="M522.0,105.0 L527.0,104.8 L533.0,106.5 L537.0,108.8 L533.0,110.0 L526.0,108.5Z" fill="#9c9c9c" opacity="1.0"/>
<path d="M521.5,108 C525,111.5 530,114.5 536,116.3 C540,117.3 544,117 547.5,116" fill="none" stroke="#9c9c9c" stroke-width="2.2"/>
<path d="M546.5,111.0 L550.0,107.5 L556.0,106.5 L560.5,108.0 L561.0,112.5 L559.0,117.5 L553.0,119.3 L548.0,118.0 L546.0,115.5Z" fill="#a9a9a9" opacity="1.0"/>
<path d="M581.2,22.2 L583.4,23.7 L582.7,31.9 L578.2,37.9 L572.3,49.8 L566.3,61.7 L564.1,69.2 L563.3,79.6 L561.8,91.5 L564.1,97.5 L561.8,101.2 L555.9,100.5 L549.9,101.2 L543.9,103.5 L543.2,101.2 L549.2,96.0 L557.4,94.5 L557.4,85.6 L553.6,79.6 L553.6,75.1 L557.4,70.7 L558.1,58.7 L563.3,45.3 L564.8,34.9 L565.6,33.4 L567.0,35.6 L573.7,30.4Z" fill="#e9d06e" stroke="#c9ab3c" stroke-width="0.7" stroke-linejoin="round" opacity="1.0"/>
<path d="M592.3,28.2 L603.2,36.4 L608.7,31.8 L614.1,30.9 L616.9,36.4 L614.1,43.7 L616.9,51.0 L623.3,56.4 L629.6,51.9 L634.2,53.7 L631.4,58.3 L626.0,61.9 L628.7,66.4 L639.6,68.3 L643.3,80.1 L632.4,74.6 L626.0,81.9 L624.2,89.2 L626.9,96.5 L628.7,105.6 L625.1,109.3 L634.2,116.5 L637.8,124.7 L608.7,124.7 L616.0,114.7 L607.8,105.6 L608.7,96.5 L610.5,83.8 L605.0,74.6 L594.1,74.6 L586.8,73.7 L587.7,71.0 L599.6,67.4 L600.5,56.4 L595.9,47.3 L589.6,38.2Z" fill="#b7b7b7" stroke="#a5a5a5" stroke-width="0.6" stroke-linejoin="round" opacity="1.0"/>
<path d="M609.0,96.0 L626.5,96.0 L628.7,105.6 L625.1,109.3 L634.2,116.5 L637.8,124.7 L608.7,124.7 L616.0,114.7 L607.8,105.6Z" fill="#8f8f8f" opacity="1.0"/>
<path d="M670.5,22.5 L674.0,24.5 L672.5,32.0 L664.0,42.0 L659.0,50.0 L658.0,60.0 L659.7,63.7 L664.2,71.0 L663.3,83.8 L657.9,91.0 L655.5,97.0 L653.5,104.0 L655.0,112.0 L659.7,122.0 L656.0,123.8 L651.5,114.7 L650.6,102.0 L652.5,94.0 L650.6,89.2 L643.3,81.9 L639.6,69.2 L645.1,63.7 L654.0,60.0 L653.5,48.0 L658.0,39.0 L666.0,30.0Z" fill="#e8cd55" stroke="#c9a934" stroke-width="0.7" stroke-linejoin="round" opacity="1.0"/>
<path d="M639.6,69.2 L645.1,63.7 L652.0,62.0 L656.0,70.0 L653.0,80.0 L650.0,86.0 L643.3,81.9Z" fill="#9c9466" opacity="0.85"/>
<path d="M598,40 C603,48 607,55 610,62" fill="none" stroke="#cdcdcd" stroke-width="1.2" opacity="0.8"/>
<path d="M612,60 C614,70 616,78 615,88" fill="none" stroke="#cdcdcd" stroke-width="1.2" opacity="0.8"/>
<path d="M604,66 C598,68 594,70 590,72" fill="none" stroke="#cdcdcd" stroke-width="1.2" opacity="0.8"/>
<path d="M613,100 C617,106 620,112 622,120" fill="none" stroke="#777" stroke-width="1" opacity="0.6"/>
<path d="M626,112 C629,116 632,120 634,124" fill="none" stroke="#777" stroke-width="1" opacity="0.6"/>
<path d="M568,40 C565,50 562,60 560,72" fill="none" stroke="#c8a838" stroke-width="0.8" opacity="0.7"/>
<path d="M558,80 C559,88 560,94 558,99" fill="none" stroke="#c8a838" stroke-width="0.8" opacity="0.7"/>
<path d="M662,72 C660,78 658,84 655,88" fill="none" stroke="#c8a838" stroke-width="0.8" opacity="0.7"/>
<path d="M669,30 C664,38 660,45 657,55" fill="none" stroke="#c8a838" stroke-width="0.8" opacity="0.7"/>
<line x1="569.7" y1="122.4" x2="591.9" y2="122.4" stroke="#1a1a1a" stroke-width="1.4" />
<text x="580.8" y="118.0" font-size="9.1" text-anchor="middle" fill="#231f20">1 μm</text>
<path d="M526.5,359.8 533.0,362.5 541.4,365.6 554.6,368.9 566.2,371.4 571.2,376.3 575.0,380.0" fill="none" stroke="#5a5a5a" stroke-width="2.8" stroke-linejoin="round" stroke-linecap="round"/>
<path d="M501.7,421.0 507.0,418.0 513.2,415.2 524.8,407.8 534.8,404.5 538.1,397.8 543.0,392.9 549.7,389.6 562.9,387.9 571.2,384.6 579.5,385.4 591.1,387.9 599.3,390.4 604.9,394.5 618.1,399.5 631.4,395.4 643.0,392.9 656.2,392.9" fill="none" stroke="#5a5a5a" stroke-width="4.2" stroke-linejoin="round" stroke-linecap="round"/>
<path d="M585.0,388.0 599.3,390.4 604.9,394.5 618.1,399.5 631.4,395.4 643.0,392.9 656.2,392.9" fill="none" stroke="#5a5a5a" stroke-width="5.0" stroke-linejoin="round" stroke-linecap="round"/>
<path d="M626.0,332.0 628.0,341.6 631.4,358.1 638.0,369.7 647.9,379.6 656.2,389.6 662.8,397.8 671.1,409.4 672.7,412.7" fill="none" stroke="#5a5a5a" stroke-width="5.6" stroke-linejoin="round" stroke-linecap="round"/>
<path d="M621.6,328.3 L630.4,328.3 L630.8,337 L623.6,338 Z" fill="#5a5a5a"/>
<path d="M527.0,360.5 541.4,365.0 554.6,368.3 566.2,370.8" fill="none" stroke="#7a7a7a" stroke-width="0.7" stroke-linejoin="round" stroke-linecap="round"/>
<path d="M513.2,414.6 524.8,407.2 534.8,403.9 543.0,392.3 549.7,389.0 562.9,387.3 571.2,384.0 579.5,384.8 591.1,387.3 604.9,393.7 618.1,398.5 631.4,394.6 643.0,392.1" fill="none" stroke="#7a7a7a" stroke-width="1.0" stroke-linejoin="round" stroke-linecap="round"/>
<path d="M627.2,336.0 629.6,350.0 633.0,360.0 639.0,369.0 648.5,378.8 656.8,388.8 663.4,397.0 670.0,406.0" fill="none" stroke="#7a7a7a" stroke-width="1.2" stroke-linejoin="round" stroke-linecap="round"/>
<path d="M528.0,360.0 525.5,357.5" fill="none" stroke="#5a5a5a" stroke-width="1.1" stroke-linejoin="round" stroke-linecap="round"/>
<circle cx="525.5" cy="357.5" r="1.45" fill="#4e4e4e"/>
<path d="M532.0,362.0 528.5,366.5" fill="none" stroke="#5a5a5a" stroke-width="1.1" stroke-linejoin="round" stroke-linecap="round"/>
<circle cx="528.5" cy="366.5" r="1.45" fill="#4e4e4e"/>
<path d="M537.0,363.5 538.5,358.5" fill="none" stroke="#5a5a5a" stroke-width="1.1" stroke-linejoin="round" stroke-linecap="round"/>
<circle cx="538.5" cy="358.5" r="1.45" fill="#4e4e4e"/>
<path d="M540.0,365.5 540.0,369.5" fill="none" stroke="#5a5a5a" stroke-width="1.1" stroke-linejoin="round" stroke-linecap="round"/>
<circle cx="540" cy="369.5" r="1.45" fill="#4e4e4e"/>
<path d="M552.0,368.0 553.0,373.5" fill="none" stroke="#5a5a5a" stroke-width="1.1" stroke-linejoin="round" stroke-linecap="round"/>
<circle cx="553" cy="373.5" r="1.45" fill="#4e4e4e"/>
<path d="M563.0,371.0 566.0,366.5" fill="none" stroke="#5a5a5a" stroke-width="1.1" stroke-linejoin="round" stroke-linecap="round"/>
<circle cx="566" cy="366.5" r="1.45" fill="#4e4e4e"/>
<path d="M569.0,380.0 566.0,384.0" fill="none" stroke="#5a5a5a" stroke-width="1.1" stroke-linejoin="round" stroke-linecap="round"/>
<circle cx="566" cy="384" r="1.45" fill="#4e4e4e"/>
<path d="M546.0,391.0 545.0,385.5" fill="none" stroke="#5a5a5a" stroke-width="1.1" stroke-linejoin="round" stroke-linecap="round"/>
<circle cx="545" cy="385.5" r="1.45" fill="#4e4e4e"/>
<path d="M557.0,388.0 555.0,396.0" fill="none" stroke="#5a5a5a" stroke-width="1.1" stroke-linejoin="round" stroke-linecap="round"/>
<circle cx="555" cy="396" r="1.45" fill="#4e4e4e"/>
<path d="M571.0,385.0 574.0,395.0" fill="none" stroke="#5a5a5a" stroke-width="1.1" stroke-linejoin="round" stroke-linecap="round"/>
<circle cx="574" cy="395" r="1.45" fill="#4e4e4e"/>
<path d="M575.0,384.0 578.0,378.0" fill="none" stroke="#5a5a5a" stroke-width="1.1" stroke-linejoin="round" stroke-linecap="round"/>
<circle cx="578" cy="378" r="1.45" fill="#4e4e4e"/>
<path d="M589.0,387.0 590.0,381.0" fill="none" stroke="#5a5a5a" stroke-width="1.1" stroke-linejoin="round" stroke-linecap="round"/>
<circle cx="590" cy="381" r="1.45" fill="#4e4e4e"/>
<path d="M594.0,389.0 593.0,397.0" fill="none" stroke="#5a5a5a" stroke-width="1.1" stroke-linejoin="round" stroke-linecap="round"/>
<circle cx="593" cy="397" r="1.45" fill="#4e4e4e"/>
<path d="M606.0,395.0 608.0,388.5" fill="none" stroke="#5a5a5a" stroke-width="1.1" stroke-linejoin="round" stroke-linecap="round"/>
<circle cx="608" cy="388.5" r="1.45" fill="#4e4e4e"/>
<path d="M618.0,399.0 619.0,405.0" fill="none" stroke="#5a5a5a" stroke-width="1.1" stroke-linejoin="round" stroke-linecap="round"/>
<circle cx="619" cy="405" r="1.45" fill="#4e4e4e"/>
<path d="M625.0,398.0 626.0,405.0" fill="none" stroke="#5a5a5a" stroke-width="1.1" stroke-linejoin="round" stroke-linecap="round"/>
<circle cx="626" cy="405" r="1.45" fill="#4e4e4e"/>
<path d="M636.0,394.0 637.0,400.0" fill="none" stroke="#5a5a5a" stroke-width="1.1" stroke-linejoin="round" stroke-linecap="round"/>
<circle cx="637" cy="400" r="1.45" fill="#4e4e4e"/>
<path d="M643.0,393.0 644.0,404.0" fill="none" stroke="#5a5a5a" stroke-width="1.1" stroke-linejoin="round" stroke-linecap="round"/>
<circle cx="644" cy="404" r="1.45" fill="#4e4e4e"/>
<path d="M530.0,405.0 531.0,414.5" fill="none" stroke="#5a5a5a" stroke-width="1.1" stroke-linejoin="round" stroke-linecap="round"/>
<circle cx="531" cy="414.5" r="1.45" fill="#4e4e4e"/>
<path d="M518.0,411.0 517.0,420.0" fill="none" stroke="#5a5a5a" stroke-width="1.1" stroke-linejoin="round" stroke-linecap="round"/>
<circle cx="517" cy="420" r="1.45" fill="#4e4e4e"/>
<path d="M513.0,415.0 513.5,422.0" fill="none" stroke="#5a5a5a" stroke-width="1.1" stroke-linejoin="round" stroke-linecap="round"/>
<circle cx="513.5" cy="422" r="1.45" fill="#4e4e4e"/>
<path d="M510.0,418.0 505.0,424.0" fill="none" stroke="#5a5a5a" stroke-width="1.1" stroke-linejoin="round" stroke-linecap="round"/>
<circle cx="505" cy="424" r="1.45" fill="#4e4e4e"/>
<path d="M629.0,343.0 635.0,340.0" fill="none" stroke="#5a5a5a" stroke-width="1.1" stroke-linejoin="round" stroke-linecap="round"/>
<circle cx="635" cy="340" r="1.45" fill="#4e4e4e"/>
<path d="M631.0,357.0 641.0,359.5" fill="none" stroke="#5a5a5a" stroke-width="1.1" stroke-linejoin="round" stroke-linecap="round"/>
<circle cx="641" cy="359.5" r="1.45" fill="#4e4e4e"/>
<path d="M634.0,365.0 644.0,366.0" fill="none" stroke="#5a5a5a" stroke-width="1.1" stroke-linejoin="round" stroke-linecap="round"/>
<circle cx="644" cy="366" r="1.45" fill="#4e4e4e"/>
<path d="M630.0,348.0 634.0,349.0" fill="none" stroke="#5a5a5a" stroke-width="1.1" stroke-linejoin="round" stroke-linecap="round"/>
<circle cx="634" cy="349" r="1.45" fill="#4e4e4e"/>
<path d="M647.0,380.0 646.0,389.0" fill="none" stroke="#5a5a5a" stroke-width="1.1" stroke-linejoin="round" stroke-linecap="round"/>
<circle cx="646" cy="389" r="1.45" fill="#4e4e4e"/>
<path d="M660.0,395.0 666.0,388.0" fill="none" stroke="#5a5a5a" stroke-width="1.1" stroke-linejoin="round" stroke-linecap="round"/>
<circle cx="666" cy="388" r="1.45" fill="#4e4e4e"/>
<path d="M620.0,366.5 619.0,362.0" fill="none" stroke="#5a5a5a" stroke-width="1.1" stroke-linejoin="round" stroke-linecap="round"/>
<circle cx="619" cy="362" r="1.45" fill="#4e4e4e"/>
<path d="M511.6,419.4 C514,414 516.6,409.4 518.5,405 C520.7,401.2 521,395 521.5,391.2 C522,388 524,387.5 527.3,387.1 C530,386 533.1,384.6 535,383 C537,381.5 540,380.5 546.4,379.6 C550,379 554.6,378.8 560,377.5 C566.2,376.3 570,375.3 574.5,374.7 C580,374 586.1,373 592,371.5 C598,370.5 605,367 609.8,365.6 C613,364.8 616.5,364 618.1,364.7 C620,366 621.4,369.7 623,373 C624.7,376.3 627,379 628.9,381.3 C630,384 630.5,387.9 633,391 C636.3,394.5 639,397 641.3,399.5 C643,402 644.6,404.5 646,407 C647.9,409.4 650,411 652.1,411.9" fill="none" stroke="#d9ba45" stroke-width="1.4" stroke-linecap="round"/>
<circle cx="521.5" cy="402.0" r="5.5" fill="none" stroke="#333" stroke-width="0.8"/>
<circle cx="575.3" cy="374.7" r="6.3" fill="none" stroke="#333" stroke-width="0.8"/>
<circle cx="633.0" cy="378.8" r="5.8" fill="none" stroke="#333" stroke-width="0.8"/>
<circle cx="639.6" cy="420.4" r="5.8" fill="none" stroke="#333" stroke-width="0.8"/>
<text x="649.6" y="425.0" font-size="9.1" text-anchor="start" fill="#231f20">Synapse</text>
</svg>
</body></html>
